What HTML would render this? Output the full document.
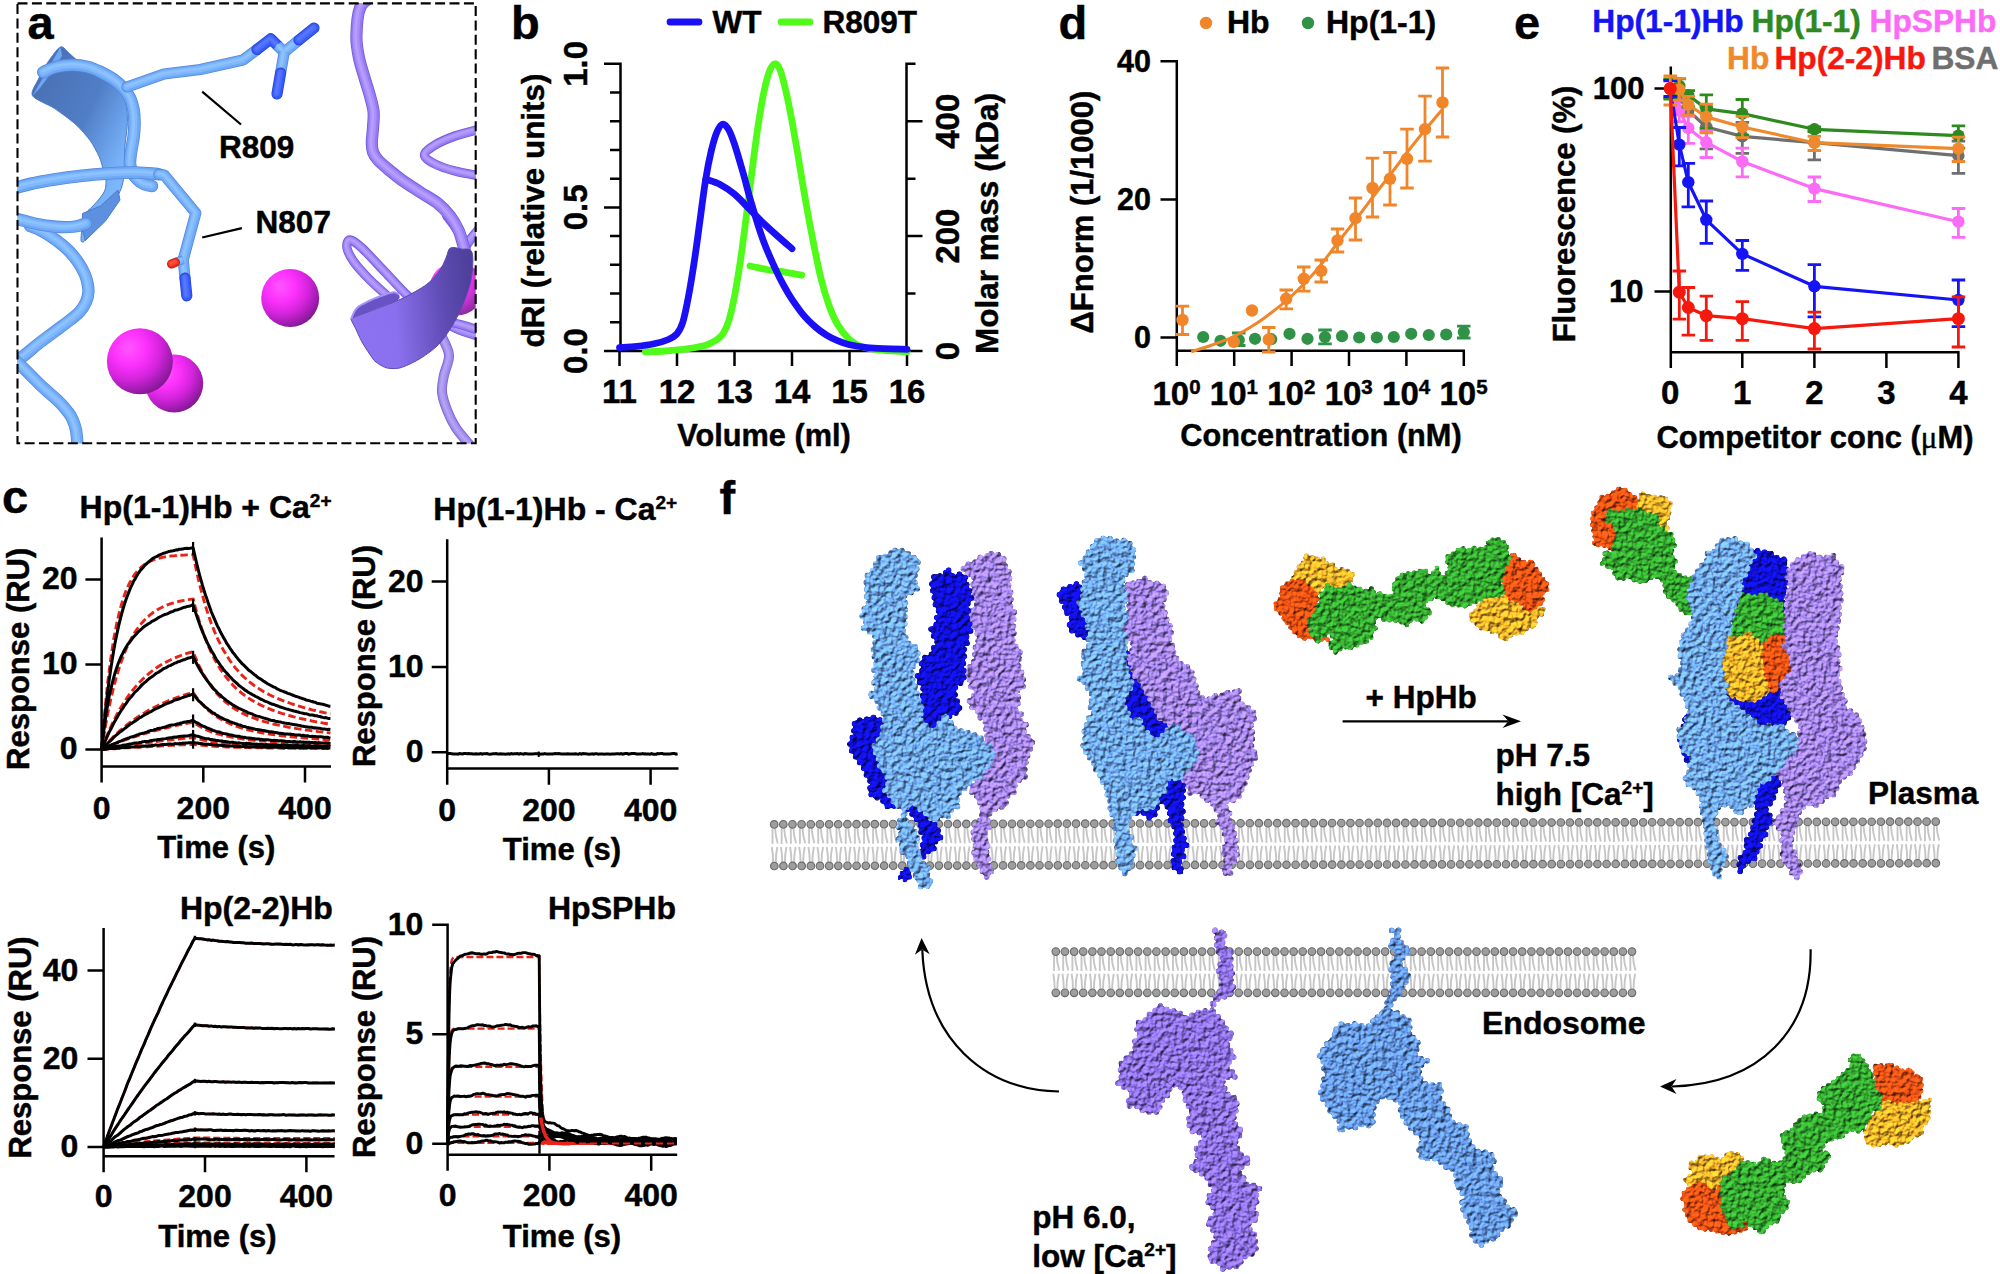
<!DOCTYPE html>
<html lang="en"><head><meta charset="utf-8"><title>Figure</title>
<style>
html,body{margin:0;padding:0;background:#fff;width:2000px;height:1274px;overflow:hidden}
svg{display:block}
text{font-family:"Liberation Sans", Arial, Helvetica, sans-serif;font-weight:bold;stroke:#000;stroke-width:.45px}
</style></head><body>
<svg width="2000" height="1274" viewBox="0 0 2000 1274">
<defs>
<clipPath id="aclip"><rect x="17.5" y="3.2" width="458.2" height="440.1"/></clipPath>
<radialGradient id="sph" cx="0.36" cy="0.32" r="0.75" fx="0.33" fy="0.3"><stop offset="0" stop-color="#ff55ff"/><stop offset="0.35" stop-color="#fc30fc"/><stop offset="0.62" stop-color="#d424dc"/><stop offset="0.85" stop-color="#9c1cac"/><stop offset="1" stop-color="#7a1688"/></radialGradient>
<linearGradient id="rib1" x1="0.1" y1="0.1" x2="0.9" y2="0.9"><stop offset="0" stop-color="#4a70b4"/><stop offset="0.45" stop-color="#507ec6"/><stop offset="0.8" stop-color="#76b0f8"/><stop offset="1" stop-color="#86c0ff"/></linearGradient>
<linearGradient id="rib2" x1="0" y1="0.5" x2="1" y2="0.4"><stop offset="0" stop-color="#8d72f0"/><stop offset="0.35" stop-color="#8a70ee"/><stop offset="0.75" stop-color="#5f4cb4"/><stop offset="1" stop-color="#4d3f9a"/></linearGradient>
<filter id="bump" x="-12%" y="-12%" width="124%" height="124%" color-interpolation-filters="sRGB">
<feTurbulence type="fractalNoise" baseFrequency="0.2" numOctaves="2" seed="4" result="n0"/><feGaussianBlur in="n0" stdDeviation="0.75" result="n"/>
<feDiffuseLighting in="n" surfaceScale="3.3" diffuseConstant="1" lighting-color="#ffffff" result="l"><feDistantLight azimuth="235" elevation="50"/></feDiffuseLighting>
<feComposite in="l" in2="SourceGraphic" operator="arithmetic" k1="1" k2="0.03" k3="0.22" k4="0" result="m"/>
<feComposite in="m" in2="SourceAlpha" operator="in"/>
</filter>
</defs>
<rect width="2000" height="1274" fill="#fff"/>
<g id="pa"><g clip-path="url(#aclip)"><circle cx="456.6" cy="288.6" r="27" fill="url(#sph)" opacity="0.92"/><path d="M447 216C448.5 218 453.3 224 456 228C458.7 232 461.3 236 463 240C464.7 244 465.5 250 466 252" stroke="#7459d6" stroke-width="9.6" fill="none" stroke-linecap="round" stroke-linejoin="round"/><path d="M447 216C448.5 218 453.3 224 456 228C458.7 232 461.3 236 463 240C464.7 244 465.5 250 466 252" stroke="#947af2" stroke-width="8" fill="none" stroke-linecap="round" stroke-linejoin="round"/><path d="M447 216C448.5 218 453.3 224 456 228C458.7 232 461.3 236 463 240C464.7 244 465.5 250 466 252" stroke="#b9a0ff" stroke-width="5.3" fill="none" stroke-linecap="round" stroke-linejoin="round" opacity="0.55" transform="translate(-0.4 -0.4)"/><path d="M447 216C448.5 218 453.3 224 456 228C458.7 232 461.3 236 463 240C464.7 244 465.5 250 466 252" stroke="#b9a0ff" stroke-width="2.1" fill="none" stroke-linecap="round" stroke-linejoin="round" opacity="0.8" transform="translate(-0.8 -0.8)"/><path d="M480 228C478.3 230 473 236 470 240C467 244 463.3 250 462 252" stroke="#7459d6" stroke-width="9.6" fill="none" stroke-linecap="round" stroke-linejoin="round"/><path d="M480 228C478.3 230 473 236 470 240C467 244 463.3 250 462 252" stroke="#947af2" stroke-width="8" fill="none" stroke-linecap="round" stroke-linejoin="round"/><path d="M480 228C478.3 230 473 236 470 240C467 244 463.3 250 462 252" stroke="#b9a0ff" stroke-width="5.3" fill="none" stroke-linecap="round" stroke-linejoin="round" opacity="0.55" transform="translate(-0.4 -0.4)"/><path d="M480 228C478.3 230 473 236 470 240C467 244 463.3 250 462 252" stroke="#b9a0ff" stroke-width="2.1" fill="none" stroke-linecap="round" stroke-linejoin="round" opacity="0.8" transform="translate(-0.8 -0.8)"/><path d="M478 336C474.2 334.7 462.7 331.7 455 328C447.3 324.3 439.8 319.3 432 314C424.2 308.7 415.8 303 408 296C400.2 289 392.7 280 385 272C377.3 264 367.8 253.3 362 248C356.2 242.7 352.5 240 350 240C347.5 240 346.3 244.3 347 248C347.7 251.7 350.2 256.7 354 262C357.8 267.3 363.7 273.7 370 280C376.3 286.3 388.3 296.7 392 300" stroke="#7459d6" stroke-width="9.3" fill="none" stroke-linecap="round" stroke-linejoin="round"/><path d="M478 336C474.2 334.7 462.7 331.7 455 328C447.3 324.3 439.8 319.3 432 314C424.2 308.7 415.8 303 408 296C400.2 289 392.7 280 385 272C377.3 264 367.8 253.3 362 248C356.2 242.7 352.5 240 350 240C347.5 240 346.3 244.3 347 248C347.7 251.7 350.2 256.7 354 262C357.8 267.3 363.7 273.7 370 280C376.3 286.3 388.3 296.7 392 300" stroke="#947af2" stroke-width="7.7" fill="none" stroke-linecap="round" stroke-linejoin="round"/><path d="M478 336C474.2 334.7 462.7 331.7 455 328C447.3 324.3 439.8 319.3 432 314C424.2 308.7 415.8 303 408 296C400.2 289 392.7 280 385 272C377.3 264 367.8 253.3 362 248C356.2 242.7 352.5 240 350 240C347.5 240 346.3 244.3 347 248C347.7 251.7 350.2 256.7 354 262C357.8 267.3 363.7 273.7 370 280C376.3 286.3 388.3 296.7 392 300" stroke="#b9a0ff" stroke-width="5.1" fill="none" stroke-linecap="round" stroke-linejoin="round" opacity="0.55" transform="translate(-0.4 -0.4)"/><path d="M478 336C474.2 334.7 462.7 331.7 455 328C447.3 324.3 439.8 319.3 432 314C424.2 308.7 415.8 303 408 296C400.2 289 392.7 280 385 272C377.3 264 367.8 253.3 362 248C356.2 242.7 352.5 240 350 240C347.5 240 346.3 244.3 347 248C347.7 251.7 350.2 256.7 354 262C357.8 267.3 363.7 273.7 370 280C376.3 286.3 388.3 296.7 392 300" stroke="#b9a0ff" stroke-width="2" fill="none" stroke-linecap="round" stroke-linejoin="round" opacity="0.8" transform="translate(-0.8 -0.8)"/><path d="M478 330C475.3 329.2 466.7 326.3 462 325C457.3 323.7 452 322.5 450 322" stroke="#7459d6" stroke-width="9.3" fill="none" stroke-linecap="round" stroke-linejoin="round"/><path d="M478 330C475.3 329.2 466.7 326.3 462 325C457.3 323.7 452 322.5 450 322" stroke="#947af2" stroke-width="7.7" fill="none" stroke-linecap="round" stroke-linejoin="round"/><path d="M478 330C475.3 329.2 466.7 326.3 462 325C457.3 323.7 452 322.5 450 322" stroke="#b9a0ff" stroke-width="5.1" fill="none" stroke-linecap="round" stroke-linejoin="round" opacity="0.55" transform="translate(-0.4 -0.4)"/><path d="M478 330C475.3 329.2 466.7 326.3 462 325C457.3 323.7 452 322.5 450 322" stroke="#b9a0ff" stroke-width="2" fill="none" stroke-linecap="round" stroke-linejoin="round" opacity="0.8" transform="translate(-0.8 -0.8)"/><path d="M441 335C442.3 338.3 448.5 348.3 449 355C449.5 361.7 445.2 368.8 444 375C442.8 381.2 441.5 386.2 442 392C442.5 397.8 444.7 404 447 410C449.3 416 452.3 422.3 456 428C459.7 433.7 466.8 441.3 469 444" stroke="#7a66cc" stroke-width="10" fill="none" stroke-linecap="round" stroke-linejoin="round"/><path d="M441 335C442.3 338.3 448.5 348.3 449 355C449.5 361.7 445.2 368.8 444 375C442.8 381.2 441.5 386.2 442 392C442.5 397.8 444.7 404 447 410C449.3 416 452.3 422.3 456 428C459.7 433.7 466.8 441.3 469 444" stroke="#9a86e8" stroke-width="8.4" fill="none" stroke-linecap="round" stroke-linejoin="round"/><path d="M441 335C442.3 338.3 448.5 348.3 449 355C449.5 361.7 445.2 368.8 444 375C442.8 381.2 441.5 386.2 442 392C442.5 397.8 444.7 404 447 410C449.3 416 452.3 422.3 456 428C459.7 433.7 466.8 441.3 469 444" stroke="#b8a6f6" stroke-width="5.5" fill="none" stroke-linecap="round" stroke-linejoin="round" opacity="0.55" transform="translate(-0.4 -0.4)"/><path d="M441 335C442.3 338.3 448.5 348.3 449 355C449.5 361.7 445.2 368.8 444 375C442.8 381.2 441.5 386.2 442 392C442.5 397.8 444.7 404 447 410C449.3 416 452.3 422.3 456 428C459.7 433.7 466.8 441.3 469 444" stroke="#b8a6f6" stroke-width="2.2" fill="none" stroke-linecap="round" stroke-linejoin="round" opacity="0.8" transform="translate(-0.8 -0.8)"/><path d="M372 -4C370 -2 362.6 1.3 360 8C357.4 14.7 356.6 27.7 356.4 36C356.2 44.3 357.6 51.1 359 58C360.4 64.9 362.7 71.3 364.5 77.6C366.3 83.9 368.5 90.3 370 96C371.5 101.7 373.1 106.7 373.6 112C374.1 117.3 373.3 122.9 373 128C372.7 133.1 371.8 138.6 371.8 142.6C371.8 146.6 372 149.1 373 152C374 154.9 375.5 157.2 378 160C380.5 162.8 383.9 165.6 388 169C392.1 172.4 397.2 176.7 402.5 180.5C407.8 184.3 414 188.1 420 192C426 195.9 433.6 200 438.6 204C443.6 208 446.7 211.7 450 216C453.3 220.3 456.2 225.3 458.4 230C460.6 234.7 461.7 239.7 463 244C464.3 248.3 465.5 254 466 256" stroke="#7459d6" stroke-width="12.2" fill="none" stroke-linecap="round" stroke-linejoin="round"/><path d="M372 -4C370 -2 362.6 1.3 360 8C357.4 14.7 356.6 27.7 356.4 36C356.2 44.3 357.6 51.1 359 58C360.4 64.9 362.7 71.3 364.5 77.6C366.3 83.9 368.5 90.3 370 96C371.5 101.7 373.1 106.7 373.6 112C374.1 117.3 373.3 122.9 373 128C372.7 133.1 371.8 138.6 371.8 142.6C371.8 146.6 372 149.1 373 152C374 154.9 375.5 157.2 378 160C380.5 162.8 383.9 165.6 388 169C392.1 172.4 397.2 176.7 402.5 180.5C407.8 184.3 414 188.1 420 192C426 195.9 433.6 200 438.6 204C443.6 208 446.7 211.7 450 216C453.3 220.3 456.2 225.3 458.4 230C460.6 234.7 461.7 239.7 463 244C464.3 248.3 465.5 254 466 256" stroke="#947af2" stroke-width="10.6" fill="none" stroke-linecap="round" stroke-linejoin="round"/><path d="M372 -4C370 -2 362.6 1.3 360 8C357.4 14.7 356.6 27.7 356.4 36C356.2 44.3 357.6 51.1 359 58C360.4 64.9 362.7 71.3 364.5 77.6C366.3 83.9 368.5 90.3 370 96C371.5 101.7 373.1 106.7 373.6 112C374.1 117.3 373.3 122.9 373 128C372.7 133.1 371.8 138.6 371.8 142.6C371.8 146.6 372 149.1 373 152C374 154.9 375.5 157.2 378 160C380.5 162.8 383.9 165.6 388 169C392.1 172.4 397.2 176.7 402.5 180.5C407.8 184.3 414 188.1 420 192C426 195.9 433.6 200 438.6 204C443.6 208 446.7 211.7 450 216C453.3 220.3 456.2 225.3 458.4 230C460.6 234.7 461.7 239.7 463 244C464.3 248.3 465.5 254 466 256" stroke="#b9a0ff" stroke-width="6.7" fill="none" stroke-linecap="round" stroke-linejoin="round" opacity="0.55" transform="translate(-0.4 -0.4)"/><path d="M372 -4C370 -2 362.6 1.3 360 8C357.4 14.7 356.6 27.7 356.4 36C356.2 44.3 357.6 51.1 359 58C360.4 64.9 362.7 71.3 364.5 77.6C366.3 83.9 368.5 90.3 370 96C371.5 101.7 373.1 106.7 373.6 112C374.1 117.3 373.3 122.9 373 128C372.7 133.1 371.8 138.6 371.8 142.6C371.8 146.6 372 149.1 373 152C374 154.9 375.5 157.2 378 160C380.5 162.8 383.9 165.6 388 169C392.1 172.4 397.2 176.7 402.5 180.5C407.8 184.3 414 188.1 420 192C426 195.9 433.6 200 438.6 204C443.6 208 446.7 211.7 450 216C453.3 220.3 456.2 225.3 458.4 230C460.6 234.7 461.7 239.7 463 244C464.3 248.3 465.5 254 466 256" stroke="#b9a0ff" stroke-width="2.7" fill="none" stroke-linecap="round" stroke-linejoin="round" opacity="0.8" transform="translate(-0.8 -0.8)"/><path d="M450.3 248C452.8 246.5 457.4 248.2 461 249C464.6 249.8 470.3 247.3 472 252.5C473.7 257.7 472.7 271 471 280C469.3 289 465.2 298.9 462 306.6C458.8 314.3 455.9 319.7 452 326C448.1 332.3 443.8 339.2 438.6 344.5C433.4 349.8 427 354.2 421 358C415 361.8 407.3 365.4 402.5 367.1C397.7 368.9 395 368.5 392 368.5C389 368.5 387.1 368.2 384.4 367.1C381.7 366 378.1 363.6 376 362C373.9 360.4 374.1 360.5 371.8 357.2C369.5 353.9 364.7 346.8 362 342C359.3 337.2 357.3 332.1 355.5 328.3C353.7 324.5 351.2 320.9 351 319C350.8 317.1 351.8 317.9 354 317C356.2 316.1 359.5 315.2 364 313.5C368.5 311.8 375 309.3 381 307C387 304.7 393.8 302.3 400 299.5C406.2 296.7 413.1 292.9 418 290C422.9 287.1 425.8 285.3 429.5 282C433.2 278.7 437.2 274 440 270C442.8 266 444.3 261.7 446 258C447.7 254.3 447.8 249.5 450.3 248Z" fill="url(#rib2)" stroke="#5a48b0" stroke-width="1"/><path d="M351.5 318C351.8 316.5 353.9 310.9 357 308C360.1 305.1 365.3 302.8 370 300.5C374.7 298.2 381 295.9 385 294.5C389 293.1 391.8 292.3 394 292.2C396.2 292.1 397.7 292.9 398.5 294C399.3 295.1 400.4 297.4 399 299C397.6 300.6 393.5 302 390 303.5C386.5 305 382.3 306.3 378 308C373.7 309.7 367.8 312 364 313.5C360.2 315 357.1 316.2 355 317C352.9 317.8 351.2 319.5 351.5 318Z" fill="#6753c4"/><path d="M351.5 318C352.4 316.3 353.9 310.9 357 308C360.1 305.1 365.3 302.8 370 300.5C374.7 298.2 381 295.9 385 294.5C389 293.1 391.8 292.3 394 292.2C396.2 292.1 397.8 293.7 398.5 294" fill="none" stroke="#a593fa" stroke-width="2" stroke-linecap="round"/><path d="M480 129C475.8 130.2 462.5 133.3 455 136C447.5 138.7 440.1 141.8 435 145C429.9 148.2 424.5 151.8 424.5 155C424.5 158.2 429.9 161.3 435 164C440.1 166.7 447.5 169 455 171C462.5 173 475.8 175.2 480 176" stroke="#7459d6" stroke-width="9.3" fill="none" stroke-linecap="round" stroke-linejoin="round"/><path d="M480 129C475.8 130.2 462.5 133.3 455 136C447.5 138.7 440.1 141.8 435 145C429.9 148.2 424.5 151.8 424.5 155C424.5 158.2 429.9 161.3 435 164C440.1 166.7 447.5 169 455 171C462.5 173 475.8 175.2 480 176" stroke="#947af2" stroke-width="7.7" fill="none" stroke-linecap="round" stroke-linejoin="round"/><path d="M480 129C475.8 130.2 462.5 133.3 455 136C447.5 138.7 440.1 141.8 435 145C429.9 148.2 424.5 151.8 424.5 155C424.5 158.2 429.9 161.3 435 164C440.1 166.7 447.5 169 455 171C462.5 173 475.8 175.2 480 176" stroke="#b9a0ff" stroke-width="5.1" fill="none" stroke-linecap="round" stroke-linejoin="round" opacity="0.55" transform="translate(-0.4 -0.4)"/><path d="M480 129C475.8 130.2 462.5 133.3 455 136C447.5 138.7 440.1 141.8 435 145C429.9 148.2 424.5 151.8 424.5 155C424.5 158.2 429.9 161.3 435 164C440.1 166.7 447.5 169 455 171C462.5 173 475.8 175.2 480 176" stroke="#b9a0ff" stroke-width="2" fill="none" stroke-linecap="round" stroke-linejoin="round" opacity="0.8" transform="translate(-0.8 -0.8)"/><circle cx="174.2" cy="383.4" r="29" fill="url(#sph)"/><circle cx="139.9" cy="361.3" r="33" fill="url(#sph)"/><circle cx="290.2" cy="298" r="29" fill="url(#sph)"/><path d="M12 361C13.6 360.4 17.4 360 21.7 357.2C26 354.4 32.6 348.2 38 344C43.4 339.8 48.9 335.9 54.2 331.9C59.5 327.9 65.8 323.3 70 320C74.2 316.7 76.7 315.1 79.4 312.1C82.1 309.1 84.5 305.3 86 302C87.5 298.7 88.2 295.4 88.4 292.2C88.7 289 88.1 286 87.5 283C86.9 280 86.4 277.7 84.8 274.2C83.2 270.7 80.7 265.9 78 262C75.3 258.1 72.3 254.4 68.6 250.7C64.9 247 60.5 243.3 56 240C51.5 236.7 45.8 233.1 41.5 230.8C37.2 228.5 31.9 226.8 30 226" stroke="#5489dc" stroke-width="12.3" fill="none" stroke-linecap="round" stroke-linejoin="round"/><path d="M12 361C13.6 360.4 17.4 360 21.7 357.2C26 354.4 32.6 348.2 38 344C43.4 339.8 48.9 335.9 54.2 331.9C59.5 327.9 65.8 323.3 70 320C74.2 316.7 76.7 315.1 79.4 312.1C82.1 309.1 84.5 305.3 86 302C87.5 298.7 88.2 295.4 88.4 292.2C88.7 289 88.1 286 87.5 283C86.9 280 86.4 277.7 84.8 274.2C83.2 270.7 80.7 265.9 78 262C75.3 258.1 72.3 254.4 68.6 250.7C64.9 247 60.5 243.3 56 240C51.5 236.7 45.8 233.1 41.5 230.8C37.2 228.5 31.9 226.8 30 226" stroke="#6da8f6" stroke-width="10.7" fill="none" stroke-linecap="round" stroke-linejoin="round"/><path d="M12 361C13.6 360.4 17.4 360 21.7 357.2C26 354.4 32.6 348.2 38 344C43.4 339.8 48.9 335.9 54.2 331.9C59.5 327.9 65.8 323.3 70 320C74.2 316.7 76.7 315.1 79.4 312.1C82.1 309.1 84.5 305.3 86 302C87.5 298.7 88.2 295.4 88.4 292.2C88.7 289 88.1 286 87.5 283C86.9 280 86.4 277.7 84.8 274.2C83.2 270.7 80.7 265.9 78 262C75.3 258.1 72.3 254.4 68.6 250.7C64.9 247 60.5 243.3 56 240C51.5 236.7 45.8 233.1 41.5 230.8C37.2 228.5 31.9 226.8 30 226" stroke="#8fc4ff" stroke-width="6.8" fill="none" stroke-linecap="round" stroke-linejoin="round" opacity="0.55" transform="translate(-0.4 -0.4)"/><path d="M12 361C13.6 360.4 17.4 360 21.7 357.2C26 354.4 32.6 348.2 38 344C43.4 339.8 48.9 335.9 54.2 331.9C59.5 327.9 65.8 323.3 70 320C74.2 316.7 76.7 315.1 79.4 312.1C82.1 309.1 84.5 305.3 86 302C87.5 298.7 88.2 295.4 88.4 292.2C88.7 289 88.1 286 87.5 283C86.9 280 86.4 277.7 84.8 274.2C83.2 270.7 80.7 265.9 78 262C75.3 258.1 72.3 254.4 68.6 250.7C64.9 247 60.5 243.3 56 240C51.5 236.7 45.8 233.1 41.5 230.8C37.2 228.5 31.9 226.8 30 226" stroke="#8fc4ff" stroke-width="2.7" fill="none" stroke-linecap="round" stroke-linejoin="round" opacity="0.8" transform="translate(-0.8 -0.8)"/><path d="M14 359C15.9 360.8 20.7 365.3 25.3 369.8C29.9 374.3 35.8 380.6 41.5 386C47.2 391.4 55.2 398 59.6 402.3C64 406.6 65.9 409.3 68 412C70.1 414.7 70.9 415.6 72.2 418.6C73.5 421.6 75.1 425.4 76 430C76.9 434.6 77.3 443.3 77.6 446" stroke="#5489dc" stroke-width="12.3" fill="none" stroke-linecap="round" stroke-linejoin="round"/><path d="M14 359C15.9 360.8 20.7 365.3 25.3 369.8C29.9 374.3 35.8 380.6 41.5 386C47.2 391.4 55.2 398 59.6 402.3C64 406.6 65.9 409.3 68 412C70.1 414.7 70.9 415.6 72.2 418.6C73.5 421.6 75.1 425.4 76 430C76.9 434.6 77.3 443.3 77.6 446" stroke="#6da8f6" stroke-width="10.7" fill="none" stroke-linecap="round" stroke-linejoin="round"/><path d="M14 359C15.9 360.8 20.7 365.3 25.3 369.8C29.9 374.3 35.8 380.6 41.5 386C47.2 391.4 55.2 398 59.6 402.3C64 406.6 65.9 409.3 68 412C70.1 414.7 70.9 415.6 72.2 418.6C73.5 421.6 75.1 425.4 76 430C76.9 434.6 77.3 443.3 77.6 446" stroke="#8fc4ff" stroke-width="6.8" fill="none" stroke-linecap="round" stroke-linejoin="round" opacity="0.55" transform="translate(-0.4 -0.4)"/><path d="M14 359C15.9 360.8 20.7 365.3 25.3 369.8C29.9 374.3 35.8 380.6 41.5 386C47.2 391.4 55.2 398 59.6 402.3C64 406.6 65.9 409.3 68 412C70.1 414.7 70.9 415.6 72.2 418.6C73.5 421.6 75.1 425.4 76 430C76.9 434.6 77.3 443.3 77.6 446" stroke="#8fc4ff" stroke-width="2.7" fill="none" stroke-linecap="round" stroke-linejoin="round" opacity="0.8" transform="translate(-0.8 -0.8)"/><path d="M60.5 46.9C63.4 45.8 67.3 51.9 70 54C72.7 56.1 76.9 60.6 81 63C85.1 65.4 96.4 69.3 101 72C105.6 74.7 112.4 79.8 115.5 83C118.6 86.2 122.5 92.4 124 96C125.5 99.6 126.6 105.9 127 110C127.4 114.1 127.5 121.7 127.2 126.4C126.9 131.1 125.4 140.5 125 145C124.6 149.5 124.6 156.4 124.5 160C124.4 163.6 124.8 168.5 124.5 172C124.2 175.5 123 182.7 122 186C121 189.3 119 194.1 117 197C115 199.9 109.8 205.5 107 208C104.2 210.5 98.7 214.1 96 216C93.3 217.9 88.5 218.8 87 222C85.5 225.2 85.8 237.6 85 240C84.2 242.4 81.1 243.2 81 240C80.9 236.8 82.5 220.4 84 216C85.5 211.6 89.9 209.4 92 207C94.1 204.6 98.3 200.3 100 198C101.7 195.7 104.2 192.4 105 190C105.8 187.6 106.2 182.5 106 180C105.8 177.5 104.7 174.6 103.8 171.5C102.9 168.4 101.1 161.1 99.3 157C97.5 152.9 93.4 145.1 90.3 140.8C87.2 136.5 80.6 128.8 75.8 124.5C71 120.2 60 112.1 54.2 108.3C48.4 104.5 34.7 99.5 32.5 95.7C30.3 91.9 35.9 84.5 38 80C40.1 75.5 45 66.4 48 62C51 57.6 57.6 48 60.5 46.9Z" fill="url(#rib1)" stroke="#4a7cc8" stroke-width="1"/><path d="M60.5 46.9 L32.5 95.7 L40 88 L52 72 L62 56Z" fill="#6ea6f4"/><path d="M82.5 213.5 L100.5 206 L118 190 L120 200 L105.5 221 L85.4 240.5 L82 228.6Z" fill="#5d90de" stroke="#4a7cc8" stroke-width="1" stroke-linejoin="round"/><path d="M43.3 72.2C45.4 71.3 51.2 68.2 56 67C60.8 65.8 66.9 65 72.2 65C77.5 65 83.2 65.8 88 67C92.8 68.2 96.8 70.2 101 72.2C105.2 74.2 109.4 76.5 113 79C116.6 81.5 119.9 84.3 122.7 87.5C125.5 90.7 128.2 94.2 130 98C131.8 101.8 132.8 105.8 133.6 110C134.3 114.2 134.5 118.5 134.5 123C134.5 127.5 134.2 132.2 133.6 137C133 141.8 131.6 147.5 131 152C130.4 156.5 129.7 160.3 130 164C130.3 167.7 131 170.8 133 174C135 177.2 138.8 181 142 183C145.2 185 150.3 185.5 152 186" stroke="#5489dc" stroke-width="12.6" fill="none" stroke-linecap="round" stroke-linejoin="round"/><path d="M43.3 72.2C45.4 71.3 51.2 68.2 56 67C60.8 65.8 66.9 65 72.2 65C77.5 65 83.2 65.8 88 67C92.8 68.2 96.8 70.2 101 72.2C105.2 74.2 109.4 76.5 113 79C116.6 81.5 119.9 84.3 122.7 87.5C125.5 90.7 128.2 94.2 130 98C131.8 101.8 132.8 105.8 133.6 110C134.3 114.2 134.5 118.5 134.5 123C134.5 127.5 134.2 132.2 133.6 137C133 141.8 131.6 147.5 131 152C130.4 156.5 129.7 160.3 130 164C130.3 167.7 131 170.8 133 174C135 177.2 138.8 181 142 183C145.2 185 150.3 185.5 152 186" stroke="#6da8f6" stroke-width="11" fill="none" stroke-linecap="round" stroke-linejoin="round"/><path d="M43.3 72.2C45.4 71.3 51.2 68.2 56 67C60.8 65.8 66.9 65 72.2 65C77.5 65 83.2 65.8 88 67C92.8 68.2 96.8 70.2 101 72.2C105.2 74.2 109.4 76.5 113 79C116.6 81.5 119.9 84.3 122.7 87.5C125.5 90.7 128.2 94.2 130 98C131.8 101.8 132.8 105.8 133.6 110C134.3 114.2 134.5 118.5 134.5 123C134.5 127.5 134.2 132.2 133.6 137C133 141.8 131.6 147.5 131 152C130.4 156.5 129.7 160.3 130 164C130.3 167.7 131 170.8 133 174C135 177.2 138.8 181 142 183C145.2 185 150.3 185.5 152 186" stroke="#8fc4ff" stroke-width="6.9" fill="none" stroke-linecap="round" stroke-linejoin="round" opacity="0.55" transform="translate(-0.4 -0.4)"/><path d="M43.3 72.2C45.4 71.3 51.2 68.2 56 67C60.8 65.8 66.9 65 72.2 65C77.5 65 83.2 65.8 88 67C92.8 68.2 96.8 70.2 101 72.2C105.2 74.2 109.4 76.5 113 79C116.6 81.5 119.9 84.3 122.7 87.5C125.5 90.7 128.2 94.2 130 98C131.8 101.8 132.8 105.8 133.6 110C134.3 114.2 134.5 118.5 134.5 123C134.5 127.5 134.2 132.2 133.6 137C133 141.8 131.6 147.5 131 152C130.4 156.5 129.7 160.3 130 164C130.3 167.7 131 170.8 133 174C135 177.2 138.8 181 142 183C145.2 185 150.3 185.5 152 186" stroke="#8fc4ff" stroke-width="2.8" fill="none" stroke-linecap="round" stroke-linejoin="round" opacity="0.8" transform="translate(-0.8 -0.8)"/><path d="M10 217C12.5 217.7 20 219.8 25 221C30 222.2 34.2 223.5 40 224.5C45.8 225.5 54.2 226.7 60 227C65.8 227.3 70.7 227.1 75 226.5C79.3 225.9 84.2 224 86 223.5" stroke="#5489dc" stroke-width="12.3" fill="none" stroke-linecap="round" stroke-linejoin="round"/><path d="M10 217C12.5 217.7 20 219.8 25 221C30 222.2 34.2 223.5 40 224.5C45.8 225.5 54.2 226.7 60 227C65.8 227.3 70.7 227.1 75 226.5C79.3 225.9 84.2 224 86 223.5" stroke="#6da8f6" stroke-width="10.7" fill="none" stroke-linecap="round" stroke-linejoin="round"/><path d="M10 217C12.5 217.7 20 219.8 25 221C30 222.2 34.2 223.5 40 224.5C45.8 225.5 54.2 226.7 60 227C65.8 227.3 70.7 227.1 75 226.5C79.3 225.9 84.2 224 86 223.5" stroke="#8fc4ff" stroke-width="6.8" fill="none" stroke-linecap="round" stroke-linejoin="round" opacity="0.55" transform="translate(-0.4 -0.4)"/><path d="M10 217C12.5 217.7 20 219.8 25 221C30 222.2 34.2 223.5 40 224.5C45.8 225.5 54.2 226.7 60 227C65.8 227.3 70.7 227.1 75 226.5C79.3 225.9 84.2 224 86 223.5" stroke="#8fc4ff" stroke-width="2.7" fill="none" stroke-linecap="round" stroke-linejoin="round" opacity="0.8" transform="translate(-0.8 -0.8)"/><path d="M10 189.5C13.3 188.6 22.6 185.7 30 184C37.4 182.3 45.9 180.8 54.2 179.5C62.5 178.2 71 177 80 176C89 175 99.1 174.1 108.3 173.5C117.5 172.9 126.6 172.4 135 172.5C143.4 172.6 154.8 173.9 158.8 174.2" stroke="#5489dc" stroke-width="12.6" fill="none" stroke-linecap="round" stroke-linejoin="round"/><path d="M10 189.5C13.3 188.6 22.6 185.7 30 184C37.4 182.3 45.9 180.8 54.2 179.5C62.5 178.2 71 177 80 176C89 175 99.1 174.1 108.3 173.5C117.5 172.9 126.6 172.4 135 172.5C143.4 172.6 154.8 173.9 158.8 174.2" stroke="#6da8f6" stroke-width="11" fill="none" stroke-linecap="round" stroke-linejoin="round"/><path d="M10 189.5C13.3 188.6 22.6 185.7 30 184C37.4 182.3 45.9 180.8 54.2 179.5C62.5 178.2 71 177 80 176C89 175 99.1 174.1 108.3 173.5C117.5 172.9 126.6 172.4 135 172.5C143.4 172.6 154.8 173.9 158.8 174.2" stroke="#8fc4ff" stroke-width="6.9" fill="none" stroke-linecap="round" stroke-linejoin="round" opacity="0.55" transform="translate(-0.4 -0.4)"/><path d="M10 189.5C13.3 188.6 22.6 185.7 30 184C37.4 182.3 45.9 180.8 54.2 179.5C62.5 178.2 71 177 80 176C89 175 99.1 174.1 108.3 173.5C117.5 172.9 126.6 172.4 135 172.5C143.4 172.6 154.8 173.9 158.8 174.2" stroke="#8fc4ff" stroke-width="2.8" fill="none" stroke-linecap="round" stroke-linejoin="round" opacity="0.8" transform="translate(-0.8 -0.8)"/><path d="M127 87 L164 74 L200.4 69.5 L243 60 L257 49.5" stroke="#5489dc" stroke-width="11.2" fill="none" stroke-linecap="round" stroke-linejoin="round"/><path d="M127 87 L164 74 L200.4 69.5 L243 60 L257 49.5" stroke="#6da8f6" stroke-width="9.6" fill="none" stroke-linecap="round" stroke-linejoin="round"/><path d="M127 87 L164 74 L200.4 69.5 L243 60 L257 49.5" stroke="#8fc4ff" stroke-width="6.2" fill="none" stroke-linecap="round" stroke-linejoin="round" opacity="0.55" transform="translate(-0.4 -0.4)"/><path d="M127 87 L164 74 L200.4 69.5 L243 60 L257 49.5" stroke="#8fc4ff" stroke-width="2.5" fill="none" stroke-linecap="round" stroke-linejoin="round" opacity="0.8" transform="translate(-0.8 -0.8)"/><path d="M257 49.5 L270.7 38.8 L277.5 45.5" stroke="#2746d8" stroke-width="11.2" fill="none" stroke-linecap="round" stroke-linejoin="round"/><path d="M257 49.5 L270.7 38.8 L277.5 45.5" stroke="#3558f6" stroke-width="9.6" fill="none" stroke-linecap="round" stroke-linejoin="round"/><path d="M257 49.5 L270.7 38.8 L277.5 45.5" stroke="#5a7cff" stroke-width="6.2" fill="none" stroke-linecap="round" stroke-linejoin="round" opacity="0.55" transform="translate(-0.4 -0.4)"/><path d="M257 49.5 L270.7 38.8 L277.5 45.5" stroke="#5a7cff" stroke-width="2.5" fill="none" stroke-linecap="round" stroke-linejoin="round" opacity="0.8" transform="translate(-0.8 -0.8)"/><path d="M277.5 45.5 L284.2 52.3 L299 40" stroke="#5489dc" stroke-width="11.2" fill="none" stroke-linecap="butt" stroke-linejoin="round"/><path d="M277.5 45.5 L284.2 52.3 L299 40" stroke="#6da8f6" stroke-width="9.6" fill="none" stroke-linecap="butt" stroke-linejoin="round"/><path d="M277.5 45.5 L284.2 52.3 L299 40" stroke="#8fc4ff" stroke-width="6.2" fill="none" stroke-linecap="butt" stroke-linejoin="round" opacity="0.55" transform="translate(-0.4 -0.4)"/><path d="M277.5 45.5 L284.2 52.3 L299 40" stroke="#8fc4ff" stroke-width="2.5" fill="none" stroke-linecap="butt" stroke-linejoin="round" opacity="0.8" transform="translate(-0.8 -0.8)"/><path d="M284.2 52.3 L280.6 73" stroke="#5489dc" stroke-width="11.2" fill="none" stroke-linecap="butt" stroke-linejoin="round"/><path d="M284.2 52.3 L280.6 73" stroke="#6da8f6" stroke-width="9.6" fill="none" stroke-linecap="butt" stroke-linejoin="round"/><path d="M284.2 52.3 L280.6 73" stroke="#8fc4ff" stroke-width="6.2" fill="none" stroke-linecap="butt" stroke-linejoin="round" opacity="0.55" transform="translate(-0.4 -0.4)"/><path d="M284.2 52.3 L280.6 73" stroke="#8fc4ff" stroke-width="2.5" fill="none" stroke-linecap="butt" stroke-linejoin="round" opacity="0.8" transform="translate(-0.8 -0.8)"/><path d="M299 40 L314 28" stroke="#2746d8" stroke-width="11.2" fill="none" stroke-linecap="round" stroke-linejoin="round"/><path d="M299 40 L314 28" stroke="#3558f6" stroke-width="9.6" fill="none" stroke-linecap="round" stroke-linejoin="round"/><path d="M299 40 L314 28" stroke="#5a7cff" stroke-width="6.2" fill="none" stroke-linecap="round" stroke-linejoin="round" opacity="0.55" transform="translate(-0.4 -0.4)"/><path d="M299 40 L314 28" stroke="#5a7cff" stroke-width="2.5" fill="none" stroke-linecap="round" stroke-linejoin="round" opacity="0.8" transform="translate(-0.8 -0.8)"/><path d="M280.6 73 L277 94" stroke="#2746d8" stroke-width="11.2" fill="none" stroke-linecap="round" stroke-linejoin="round"/><path d="M280.6 73 L277 94" stroke="#3558f6" stroke-width="9.6" fill="none" stroke-linecap="round" stroke-linejoin="round"/><path d="M280.6 73 L277 94" stroke="#5a7cff" stroke-width="6.2" fill="none" stroke-linecap="round" stroke-linejoin="round" opacity="0.55" transform="translate(-0.4 -0.4)"/><path d="M280.6 73 L277 94" stroke="#5a7cff" stroke-width="2.5" fill="none" stroke-linecap="round" stroke-linejoin="round" opacity="0.8" transform="translate(-0.8 -0.8)"/><path d="M158.8 174.2 L164.3 175.1 L195.8 213 L183.2 259.7 L185 278" stroke="#5489dc" stroke-width="11.2" fill="none" stroke-linecap="round" stroke-linejoin="round"/><path d="M158.8 174.2 L164.3 175.1 L195.8 213 L183.2 259.7 L185 278" stroke="#6da8f6" stroke-width="9.6" fill="none" stroke-linecap="round" stroke-linejoin="round"/><path d="M158.8 174.2 L164.3 175.1 L195.8 213 L183.2 259.7 L185 278" stroke="#8fc4ff" stroke-width="6.2" fill="none" stroke-linecap="round" stroke-linejoin="round" opacity="0.55" transform="translate(-0.4 -0.4)"/><path d="M158.8 174.2 L164.3 175.1 L195.8 213 L183.2 259.7 L185 278" stroke="#8fc4ff" stroke-width="2.5" fill="none" stroke-linecap="round" stroke-linejoin="round" opacity="0.8" transform="translate(-0.8 -0.8)"/><path d="M185 278 L186.8 295.8" stroke="#2746d8" stroke-width="11.2" fill="none" stroke-linecap="round" stroke-linejoin="round"/><path d="M185 278 L186.8 295.8" stroke="#3558f6" stroke-width="9.6" fill="none" stroke-linecap="round" stroke-linejoin="round"/><path d="M185 278 L186.8 295.8" stroke="#5a7cff" stroke-width="6.2" fill="none" stroke-linecap="round" stroke-linejoin="round" opacity="0.55" transform="translate(-0.4 -0.4)"/><path d="M185 278 L186.8 295.8" stroke="#5a7cff" stroke-width="2.5" fill="none" stroke-linecap="round" stroke-linejoin="round" opacity="0.8" transform="translate(-0.8 -0.8)"/><path d="M176 262 L183.2 259.7" stroke="#5489dc" stroke-width="9" fill="none" stroke-linecap="butt" stroke-linejoin="round"/><path d="M176 262 L183.2 259.7" stroke="#6da8f6" stroke-width="7.4" fill="none" stroke-linecap="butt" stroke-linejoin="round"/><path d="M176 262 L183.2 259.7" stroke="#8fc4ff" stroke-width="5" fill="none" stroke-linecap="butt" stroke-linejoin="round" opacity="0.55" transform="translate(-0.4 -0.4)"/><path d="M176 262 L183.2 259.7" stroke="#8fc4ff" stroke-width="2" fill="none" stroke-linecap="butt" stroke-linejoin="round" opacity="0.8" transform="translate(-0.8 -0.8)"/><path d="M171.5 264 L175.5 262.3" stroke="#c81e12" stroke-width="9" fill="none" stroke-linecap="round" stroke-linejoin="round"/><path d="M171.5 264 L175.5 262.3" stroke="#ea2a1a" stroke-width="7.4" fill="none" stroke-linecap="round" stroke-linejoin="round"/><path d="M171.5 264 L175.5 262.3" stroke="#ff5a40" stroke-width="5" fill="none" stroke-linecap="round" stroke-linejoin="round" opacity="0.55" transform="translate(-0.4 -0.4)"/><path d="M171.5 264 L175.5 262.3" stroke="#ff5a40" stroke-width="2" fill="none" stroke-linecap="round" stroke-linejoin="round" opacity="0.8" transform="translate(-0.8 -0.8)"/></g>
<rect x="17.5" y="3.4" width="458.2" height="439.9" fill="none" stroke="#000" stroke-width="2.1" stroke-dasharray="10 4.4"/>
<text x="27.5" y="38.8" font-size="47">a</text>
<line x1="202.2" y1="91.7" x2="241" y2="124.5" stroke="#000" stroke-width="2.2"/>
<text x="219" y="157.8" font-size="31.5">R809</text>
<line x1="202.2" y1="237.5" x2="241.9" y2="228.1" stroke="#000" stroke-width="2.2"/>
<text x="255.6" y="232.9" font-size="31.5">N807</text></g>
<g id="pb"><text x="511" y="38.8" font-size="47">b</text>
<path d="M670 22H699" stroke="#1b10f5" stroke-width="6.8" stroke-linecap="round"/>
<text x="712.5" y="32.5" font-size="31.5">WT</text>
<path d="M781 22H810" stroke="#50fb1a" stroke-width="6.8" stroke-linecap="round"/>
<text x="822.5" y="32.5" font-size="31.5">R809T</text>
<path d="M620.5 62.5V351M906.5 62.5V351M604 351H922.5M610 322.3H620.5M610 293.6H620.5M610 264.8H620.5M610 236.1H620.5M604 207.4H620.5M610 178.7H620.5M610 149.9H620.5M610 121.2H620.5M610 92.5H620.5M604 63.8H620.5M906.5 293.6H915.5M906.5 236.1H922.5M906.5 178.7H915.5M906.5 121.2H922.5M906.5 63.8H915.5M619.5 351V366M677 351V366M734.5 351V366M792 351V366M849.5 351V366M907 351V366" stroke="#000" stroke-width="2.5" fill="none"/>
<text x="619.5" y="403" font-size="33" text-anchor="middle">11</text>
<text x="677" y="403" font-size="33" text-anchor="middle">12</text>
<text x="734.5" y="403" font-size="33" text-anchor="middle">13</text>
<text x="792" y="403" font-size="33" text-anchor="middle">14</text>
<text x="849.5" y="403" font-size="33" text-anchor="middle">15</text>
<text x="907" y="403" font-size="33" text-anchor="middle">16</text>
<text x="764" y="446.2" font-size="30.7" text-anchor="middle">Volume (ml)</text>
<text x="586.8" y="351" font-size="33" text-anchor="middle" transform="rotate(-90 586.8 351)">0.0</text>
<text x="586.8" y="207.4" font-size="33" text-anchor="middle" transform="rotate(-90 586.8 207.4)">0.5</text>
<text x="586.8" y="63.8" font-size="33" text-anchor="middle" transform="rotate(-90 586.8 63.8)">1.0</text>
<text x="544" y="210.5" font-size="31.4" text-anchor="middle" transform="rotate(-90 544 210.5)">dRI (relative units)</text>
<text x="959.3" y="351" font-size="33" text-anchor="middle" transform="rotate(-90 959.3 351)">0</text>
<text x="959.3" y="236.1" font-size="33" text-anchor="middle" transform="rotate(-90 959.3 236.1)">200</text>
<text x="959.3" y="121.2" font-size="33" text-anchor="middle" transform="rotate(-90 959.3 121.2)">400</text>
<text x="997.5" y="223.5" font-size="31.5" text-anchor="middle" transform="rotate(-90 997.5 223.5)">Molar mass (kDa)</text>
<path d="M645.4 351.9C648.7 351.7 658.3 351.5 665.5 351C672.7 350.5 681.8 349.7 688.5 348.7C695.2 347.7 701 346.8 705.8 345.3C710.5 343.7 714.4 341.4 717.2 339.5C720.1 337.6 721.1 336.9 723 333.8C724.9 330.7 726.8 327.1 728.8 320.8C730.7 314.6 732.6 306.2 734.5 296.4C736.4 286.6 738.3 274.9 740.2 262C742.2 249 744.1 233.7 746 218.9C747.9 204 749.8 187.7 751.8 172.9C753.7 158.1 755.6 142.7 757.5 129.8C759.4 116.9 761.3 104.9 763.2 95.3C765.2 85.8 767.1 77.6 769 72.4C770.9 67.1 772.8 64 774.8 63.8C776.7 63.5 778.6 66.1 780.5 70.9C782.4 75.7 784.3 84.1 786.2 92.5C788.2 100.9 790.1 110.9 792 121.2C793.9 131.5 795.8 143 797.8 154.2C799.7 165.5 801.3 176 803.5 188.7C805.7 201.4 808.1 215.5 811 230.4C813.9 245.2 817.7 265.1 820.8 277.8C823.8 290.4 826.5 298.6 829.4 306.5C832.2 314.4 834.6 319.6 838 325.1C841.4 330.7 845.7 336 849.5 339.5C853.3 343.1 856.2 344.7 861 346.4C865.8 348.1 870.6 348.9 878.2 349.9C885.9 350.8 902.2 351.5 907 351.9" fill="none" stroke="#50fb1a" stroke-width="6.8" stroke-linecap="round" stroke-linejoin="round"/>
<path d="M750 266C753.2 266.6 763 268.9 769 270C775 271 780.8 271.4 786.2 272.3C791.7 273.2 799.2 274.7 801.8 275.2" fill="none" stroke="#50fb1a" stroke-width="6.8" stroke-linecap="round" stroke-linejoin="round"/>
<path d="M619.5 347.6C622.4 347.4 631 347 636.8 346.4C642.5 345.8 648.7 345 654 343.8C659.3 342.7 664.5 341.2 668.4 339.5C672.2 337.8 674.6 336.6 677 333.8C679.4 330.9 680.8 328.5 682.8 322.3C684.7 316.1 686.6 306.5 688.5 296.4C690.4 286.4 692.3 274.6 694.2 262C696.2 249.3 698.1 234.2 700 220.3C701.9 206.4 703.8 190.4 705.8 178.7C707.7 166.9 709.6 157.8 711.5 149.9C713.4 142 715.3 135.6 717.2 131.3C719.2 126.9 721.1 124.3 723 124.1C724.9 123.8 726.8 126.5 728.8 129.8C730.7 133.2 732.1 137 734.5 144.2C736.9 151.4 740.2 162.9 743.1 172.9C746 183 748.4 193.3 751.8 204.5C755.1 215.8 759.4 229.9 763.2 240.4C767.1 250.9 771.4 260.3 774.8 267.7C778.1 275.1 780.5 279.7 783.4 284.9C786.2 290.2 788.6 294.3 792 299.3C795.4 304.3 799.7 310.5 803.5 315.1C807.3 319.6 811.2 323.2 815 326.6C818.8 329.9 822.7 332.8 826.5 335.2C830.3 337.6 834.2 339.4 838 340.9C841.8 342.5 844.7 343.6 849.5 344.7C854.3 345.8 861 346.9 866.8 347.6C872.5 348.2 877.3 348.4 884 348.7C890.7 349 903.2 349.2 907 349.3" fill="none" stroke="#1b10f5" stroke-width="6.8" stroke-linecap="round" stroke-linejoin="round"/>
<path d="M705.8 179.2C708.1 180.1 715.3 181.9 720.1 184.4C724.9 186.9 729.5 189.9 734.5 194.2C739.5 198.4 745.2 204.9 750 209.7C754.8 214.5 758.6 218.5 763.2 222.9C767.9 227.3 772.8 231.8 777.6 236.1C782.4 240.4 789.6 246.6 792 248.7" fill="none" stroke="#1b10f5" stroke-width="6.8" stroke-linecap="round" stroke-linejoin="round"/></g>
<g id="pc"><text x="2" y="513.4" font-size="47">c</text>
<text x="331.5" y="518.3" font-size="32" text-anchor="end">Hp(1-1)Hb + Ca<tspan dy="-11" font-size="19">2+</tspan></text>
<text x="29" y="658.8" font-size="31" text-anchor="middle" transform="rotate(-90 29 658.8)">Response (RU)</text>
<path d="M101.6 749.4 L104.7 712.5 L107.7 682.5 L110.8 658.3 L113.8 638.6 L116.9 622.6 L119.9 609.7 L123 599.2 L126 590.7 L129.1 583.9 L132.1 578.3 L135.2 573.7 L138.2 570.1 L141.3 567.1 L144.3 564.7 L147.4 562.7 L150.4 561.2 L153.5 559.9 L156.5 558.8 L159.6 558 L162.6 557.3 L165.7 556.8 L168.7 556.3 L171.8 555.9 L174.8 555.7 L177.9 555.4 L180.9 555.2 L184 555.1 L187 554.9 L190.1 554.8 L193.1 554.8 L193.1 554.8 L196.2 569.6 L199.2 582.9 L202.3 594.9 L205.3 605.5 L208.4 615.1 L211.4 623.8 L214.5 631.5 L217.5 638.5 L220.6 644.8 L223.6 650.5 L226.7 655.6 L229.7 660.3 L232.8 664.5 L235.8 668.4 L238.9 671.9 L241.9 675.1 L245 678 L248 680.7 L251.1 683.2 L254.1 685.5 L257.2 687.6 L260.3 689.6 L263.3 691.4 L266.4 693.1 L269.4 694.7 L272.5 696.2 L275.5 697.6 L278.6 698.9 L281.6 700.1 L284.7 701.3 L287.7 702.4 L290.8 703.5 L293.8 704.5 L296.9 705.5 L299.9 706.4 L303 707.3 L306 708.1 L309.1 709 L312.1 709.8 L315.2 710.5 L318.2 711.3 L321.3 712 L324.3 712.7 L327.4 713.3 L330.4 714" fill="none" stroke="#ea2318" stroke-width="2.9" stroke-dasharray="7.5 3.5"/>
<path d="M101.6 749.4 L104.7 730.4 L107.7 713.8 L110.8 699.2 L113.8 686.5 L116.9 675.3 L119.9 665.5 L123 656.9 L126 649.4 L129.1 642.8 L132.1 637 L135.2 631.9 L138.2 627.5 L141.3 623.6 L144.3 620.2 L147.4 617.2 L150.4 614.6 L153.5 612.3 L156.5 610.3 L159.6 608.5 L162.6 607 L165.7 605.6 L168.7 604.4 L171.8 603.4 L174.8 602.5 L177.9 601.7 L180.9 601 L184 600.4 L187 599.8 L190.1 599.4 L193.1 599 L193.1 599 L196.2 610.6 L199.2 621 L202.3 630.3 L205.3 638.6 L208.4 646.1 L211.4 652.9 L214.5 659 L217.5 664.5 L220.6 669.4 L223.6 673.9 L226.7 677.9 L229.7 681.6 L232.8 685 L235.8 688 L238.9 690.8 L241.9 693.3 L245 695.7 L248 697.8 L251.1 699.8 L254.1 701.6 L257.2 703.3 L260.3 704.9 L263.3 706.3 L266.4 707.7 L269.4 708.9 L272.5 710.1 L275.5 711.2 L278.6 712.3 L281.6 713.3 L284.7 714.2 L287.7 715.1 L290.8 716 L293.8 716.8 L296.9 717.5 L299.9 718.3 L303 719 L306 719.7 L309.1 720.3 L312.1 721 L315.2 721.6 L318.2 722.2 L321.3 722.7 L324.3 723.3 L327.4 723.8 L330.4 724.3" fill="none" stroke="#ea2318" stroke-width="2.9" stroke-dasharray="7.5 3.5"/>
<path d="M101.6 749.4 L104.7 741.3 L107.7 733.8 L110.8 726.8 L113.8 720.4 L116.9 714.5 L119.9 709 L123 703.9 L126 699.2 L129.1 694.8 L132.1 690.8 L135.2 687.1 L138.2 683.7 L141.3 680.5 L144.3 677.5 L147.4 674.8 L150.4 672.3 L153.5 670 L156.5 667.8 L159.6 665.8 L162.6 664 L165.7 662.3 L168.7 660.7 L171.8 659.2 L174.8 657.9 L177.9 656.6 L180.9 655.5 L184 654.4 L187 653.4 L190.1 652.5 L193.1 651.6 L193.1 651.6 L196.2 659.2 L199.2 665.9 L202.3 672 L205.3 677.4 L208.4 682.3 L211.4 686.7 L214.5 690.6 L217.5 694.2 L220.6 697.4 L223.6 700.3 L226.7 702.9 L229.7 705.3 L232.8 707.5 L235.8 709.4 L238.9 711.2 L241.9 712.9 L245 714.4 L248 715.8 L251.1 717.1 L254.1 718.2 L257.2 719.3 L260.3 720.4 L263.3 721.3 L266.4 722.2 L269.4 723 L272.5 723.8 L275.5 724.5 L278.6 725.2 L281.6 725.8 L284.7 726.4 L287.7 727 L290.8 727.6 L293.8 728.1 L296.9 728.6 L299.9 729.1 L303 729.5 L306 730 L309.1 730.4 L312.1 730.8 L315.2 731.2 L318.2 731.6 L321.3 731.9 L324.3 732.3 L327.4 732.6 L330.4 733" fill="none" stroke="#ea2318" stroke-width="2.9" stroke-dasharray="7.5 3.5"/>
<path d="M101.6 749.4 L104.7 745.9 L107.7 742.6 L110.8 739.4 L113.8 736.4 L116.9 733.5 L119.9 730.7 L123 728.1 L126 725.6 L129.1 723.2 L132.1 720.9 L135.2 718.8 L138.2 716.7 L141.3 714.8 L144.3 712.9 L147.4 711.1 L150.4 709.4 L153.5 707.8 L156.5 706.2 L159.6 704.7 L162.6 703.3 L165.7 702 L168.7 700.7 L171.8 699.5 L174.8 698.4 L177.9 697.2 L180.9 696.2 L184 695.2 L187 694.2 L190.1 693.3 L193.1 692.4 L193.1 692.4 L196.2 696.8 L199.2 700.8 L202.3 704.3 L205.3 707.5 L208.4 710.3 L211.4 712.9 L214.5 715.2 L217.5 717.2 L220.6 719.1 L223.6 720.8 L226.7 722.3 L229.7 723.7 L232.8 725 L235.8 726.2 L238.9 727.2 L241.9 728.2 L245 729 L248 729.9 L251.1 730.6 L254.1 731.3 L257.2 731.9 L260.3 732.5 L263.3 733.1 L266.4 733.6 L269.4 734.1 L272.5 734.5 L275.5 734.9 L278.6 735.3 L281.6 735.7 L284.7 736.1 L287.7 736.4 L290.8 736.7 L293.8 737 L296.9 737.3 L299.9 737.6 L303 737.9 L306 738.1 L309.1 738.4 L312.1 738.6 L315.2 738.8 L318.2 739.1 L321.3 739.3 L324.3 739.5 L327.4 739.7 L330.4 739.9" fill="none" stroke="#ea2318" stroke-width="2.9" stroke-dasharray="7.5 3.5"/>
<path d="M101.6 749.4 L104.7 748 L107.7 746.7 L110.8 745.5 L113.8 744.2 L116.9 743 L119.9 741.8 L123 740.7 L126 739.6 L129.1 738.6 L132.1 737.5 L135.2 736.5 L138.2 735.5 L141.3 734.6 L144.3 733.7 L147.4 732.8 L150.4 731.9 L153.5 731.1 L156.5 730.3 L159.6 729.5 L162.6 728.7 L165.7 728 L168.7 727.3 L171.8 726.6 L174.8 725.9 L177.9 725.2 L180.9 724.6 L184 724 L187 723.4 L190.1 722.8 L193.1 722.2 L193.1 722.2 L196.2 724.3 L199.2 726.1 L202.3 727.8 L205.3 729.3 L208.4 730.6 L211.4 731.8 L214.5 732.9 L217.5 733.8 L220.6 734.7 L223.6 735.5 L226.7 736.2 L229.7 736.8 L232.8 737.4 L235.8 738 L238.9 738.4 L241.9 738.9 L245 739.3 L248 739.7 L251.1 740 L254.1 740.3 L257.2 740.6 L260.3 740.9 L263.3 741.1 L266.4 741.4 L269.4 741.6 L272.5 741.8 L275.5 742 L278.6 742.2 L281.6 742.3 L284.7 742.5 L287.7 742.6 L290.8 742.8 L293.8 742.9 L296.9 743.1 L299.9 743.2 L303 743.3 L306 743.4 L309.1 743.5 L312.1 743.6 L315.2 743.7 L318.2 743.8 L321.3 743.9 L324.3 744 L327.4 744.1 L330.4 744.2" fill="none" stroke="#ea2318" stroke-width="2.9" stroke-dasharray="7.5 3.5"/>
<path d="M101.6 749.4 L104.7 748.9 L107.7 748.4 L110.8 747.9 L113.8 747.4 L116.9 746.9 L119.9 746.5 L123 746 L126 745.6 L129.1 745.1 L132.1 744.7 L135.2 744.3 L138.2 743.9 L141.3 743.4 L144.3 743 L147.4 742.7 L150.4 742.3 L153.5 741.9 L156.5 741.5 L159.6 741.1 L162.6 740.8 L165.7 740.4 L168.7 740.1 L171.8 739.7 L174.8 739.4 L177.9 739.1 L180.9 738.7 L184 738.4 L187 738.1 L190.1 737.8 L193.1 737.5 L193.1 737.5 L196.2 738.4 L199.2 739.2 L202.3 739.9 L205.3 740.5 L208.4 741.1 L211.4 741.6 L214.5 742.1 L217.5 742.5 L220.6 742.9 L223.6 743.2 L226.7 743.5 L229.7 743.8 L232.8 744 L235.8 744.2 L238.9 744.4 L241.9 744.6 L245 744.8 L248 745 L251.1 745.1 L254.1 745.2 L257.2 745.3 L260.3 745.5 L263.3 745.6 L266.4 745.7 L269.4 745.7 L272.5 745.8 L275.5 745.9 L278.6 746 L281.6 746 L284.7 746.1 L287.7 746.2 L290.8 746.2 L293.8 746.3 L296.9 746.3 L299.9 746.4 L303 746.4 L306 746.5 L309.1 746.5 L312.1 746.6 L315.2 746.6 L318.2 746.7 L321.3 746.7 L324.3 746.7 L327.4 746.8 L330.4 746.8" fill="none" stroke="#ea2318" stroke-width="2.9" stroke-dasharray="7.5 3.5"/>
<path d="M101.6 749.4 L104.7 749.2 L107.7 749 L110.8 748.8 L113.8 748.7 L116.9 748.5 L119.9 748.3 L123 748.1 L126 747.9 L129.1 747.8 L132.1 747.6 L135.2 747.4 L138.2 747.2 L141.3 747.1 L144.3 746.9 L147.4 746.7 L150.4 746.6 L153.5 746.4 L156.5 746.2 L159.6 746.1 L162.6 745.9 L165.7 745.7 L168.7 745.6 L171.8 745.4 L174.8 745.2 L177.9 745.1 L180.9 744.9 L184 744.8 L187 744.6 L190.1 744.5 L193.1 744.3 L193.1 744.3 L196.2 744.7 L199.2 745 L202.3 745.4 L205.3 745.6 L208.4 745.9 L211.4 746.1 L214.5 746.3 L217.5 746.5 L220.6 746.7 L223.6 746.8 L226.7 747 L229.7 747.1 L232.8 747.2 L235.8 747.3 L238.9 747.4 L241.9 747.5 L245 747.6 L248 747.6 L251.1 747.7 L254.1 747.8 L257.2 747.8 L260.3 747.9 L263.3 747.9 L266.4 748 L269.4 748 L272.5 748.1 L275.5 748.1 L278.6 748.1 L281.6 748.2 L284.7 748.2 L287.7 748.2 L290.8 748.3 L293.8 748.3 L296.9 748.3 L299.9 748.3 L303 748.4 L306 748.4 L309.1 748.4 L312.1 748.4 L315.2 748.4 L318.2 748.5 L321.3 748.5 L324.3 748.5 L327.4 748.5 L330.4 748.5" fill="none" stroke="#ea2318" stroke-width="2.9" stroke-dasharray="7.5 3.5"/>
<path d="M101.6 749.3 L103.1 732.9 L104.7 718.1 L106.2 704 L107.7 691.6 L109.2 679.8 L110.8 668.9 L112.3 659.3 L113.8 650 L115.3 641.8 L116.9 634 L118.4 626.9 L119.9 620.6 L121.4 614.8 L123 609 L124.5 604 L126 599.6 L127.5 595.5 L129.1 591.4 L130.6 587.7 L132.1 584.7 L133.6 581.2 L135.2 578.8 L136.7 575.9 L138.2 573.5 L139.7 571.3 L141.3 569.4 L142.8 567.8 L144.3 565.8 L145.8 564.4 L147.4 563 L148.9 561.6 L150.4 560.5 L151.9 559.1 L153.5 558.1 L155 557.2 L156.5 556.6 L158 555.7 L159.6 554.9 L161.1 554.3 L162.6 553.7 L164.1 553 L165.7 552.7 L167.2 552.2 L168.7 551.5 L170.2 551.3 L171.8 550.9 L173.3 550.7 L174.8 550.3 L176.3 549.8 L177.9 549.9 L179.4 549.2 L180.9 549.2 L182.5 549.1 L184 548.6 L185.5 548.6 L187 548.2 L188.6 548.4 L190.1 548.3 L191.6 548.1 L193.1 548.1 L193.1 547.9 L194.7 554.9 L196.2 561.4 L197.7 567.6 L199.2 573.5 L200.8 579.3 L202.3 584.7 L203.8 589.6 L205.3 594.5 L206.9 598.9 L208.4 603.6 L209.9 607.8 L211.4 612 L213 615.7 L214.5 619.1 L216 622.7 L217.5 626.1 L219.1 629 L220.6 632.3 L222.1 635 L223.6 637.8 L225.2 640.4 L226.7 643.3 L228.2 645.4 L229.7 647.8 L231.3 650.1 L232.8 652.4 L234.3 654.1 L235.8 656.2 L237.4 658.1 L238.9 660.1 L240.4 661.8 L241.9 663.5 L243.5 664.8 L245 666.4 L246.5 667.8 L248 669.5 L249.6 670.9 L251.1 671.8 L252.6 673.1 L254.1 674.4 L255.7 675.5 L257.2 676.8 L258.7 678 L260.3 678.9 L261.8 679.8 L263.3 681 L264.8 681.9 L266.4 682.9 L267.9 684 L269.4 684.7 L270.9 685.5 L272.5 686.4 L274 687.2 L275.5 687.7 L277 688.8 L278.6 689.5 L280.1 690.3 L281.6 690.9 L283.1 691.4 L284.7 692 L286.2 692.5 L287.7 693.4 L289.2 693.7 L290.8 694.3 L292.3 695 L293.8 695.5 L295.3 696.2 L296.9 696.6 L298.4 697.1 L299.9 697.7 L301.4 698.1 L303 698.8 L304.5 699.1 L306 700 L307.5 700.3 L309.1 700.6 L310.6 701.1 L312.1 701.5 L313.6 702 L315.2 702.3 L316.7 703.1 L318.2 703.6 L319.7 703.7 L321.3 704.1 L322.8 704.3 L324.3 704.7 L325.8 705.2 L327.4 705.6 L328.9 706.2 L330.4 706.3" fill="none" stroke="#000" stroke-width="3" stroke-linejoin="round"/>
<line x1="193.1" y1="542" x2="193.1" y2="555.1" stroke="#000" stroke-width="2.2"/>
<path d="M101.6 749.2 L103.1 736.2 L104.7 724.2 L106.2 713.6 L107.7 704.6 L109.2 696.2 L110.8 689.3 L112.3 683 L113.8 677.2 L115.3 672 L116.9 667.2 L118.4 663 L119.9 659.2 L121.4 656 L123 652.8 L124.5 650 L126 647.2 L127.5 644.7 L129.1 642.8 L130.6 640.8 L132.1 638.8 L133.6 636.9 L135.2 635.2 L136.7 633.6 L138.2 631.8 L139.7 630.6 L141.3 629.2 L142.8 627.7 L144.3 626.5 L145.8 625.5 L147.4 624.4 L148.9 623.5 L150.4 622.7 L151.9 621.4 L153.5 620.7 L155 619.9 L156.5 619 L158 617.9 L159.6 617 L161.1 616.3 L162.6 615.5 L164.1 614.8 L165.7 614.3 L167.2 613.8 L168.7 613.1 L170.2 612.3 L171.8 611.8 L173.3 611.3 L174.8 610.3 L176.3 610.1 L177.9 609.7 L179.4 609.1 L180.9 608.6 L182.5 607.9 L184 607.3 L185.5 607.2 L187 606.5 L188.6 606.3 L190.1 606 L191.6 605.3 L193.1 604.9 L193.1 605.1 L194.7 609.9 L196.2 614.3 L197.7 618.8 L199.2 623 L200.8 627.5 L202.3 631.3 L203.8 634.6 L205.3 638.4 L206.9 641.8 L208.4 644.8 L209.9 647.7 L211.4 650.7 L213 653.2 L214.5 655.8 L216 658.8 L217.5 661 L219.1 663.2 L220.6 665.6 L222.1 667.4 L223.6 669.6 L225.2 671.5 L226.7 673 L228.2 674.8 L229.7 676.5 L231.3 678.1 L232.8 679.8 L234.3 681.1 L235.8 682.5 L237.4 683.7 L238.9 685.4 L240.4 686.4 L241.9 687.6 L243.5 688.8 L245 690.1 L246.5 690.9 L248 692.2 L249.6 693 L251.1 693.9 L252.6 694.8 L254.1 695.4 L255.7 696.5 L257.2 697.2 L258.7 697.9 L260.3 699 L261.8 699.5 L263.3 700.3 L264.8 701.1 L266.4 701.7 L267.9 702.2 L269.4 703 L270.9 703.6 L272.5 704.3 L274 704.5 L275.5 705.3 L277 705.7 L278.6 706.2 L280.1 707 L281.6 707.3 L283.1 707.8 L284.7 708.4 L286.2 708.9 L287.7 709.2 L289.2 709.7 L290.8 710.1 L292.3 710.5 L293.8 711 L295.3 711.2 L296.9 711.7 L298.4 712 L299.9 712.6 L301.4 712.9 L303 713.3 L304.5 713.7 L306 713.7 L307.5 714.2 L309.1 714.7 L310.6 715 L312.1 714.9 L313.6 715.3 L315.2 715.7 L316.7 715.8 L318.2 716.2 L319.7 716.4 L321.3 717 L322.8 717.4 L324.3 717.7 L325.8 717.6 L327.4 718.2 L328.9 718.4 L330.4 718.4" fill="none" stroke="#000" stroke-width="3" stroke-linejoin="round"/>
<line x1="193.1" y1="599" x2="193.1" y2="612" stroke="#000" stroke-width="2.2"/>
<path d="M101.6 749.6 L103.1 745.9 L104.7 742 L106.2 738.9 L107.7 735.3 L109.2 732.1 L110.8 729.3 L112.3 726.2 L113.8 723 L115.3 720.4 L116.9 717.7 L118.4 715.1 L119.9 712.5 L121.4 710.2 L123 708.1 L124.5 705.5 L126 703.6 L127.5 701.4 L129.1 699.2 L130.6 697.4 L132.1 695.7 L133.6 693.9 L135.2 691.9 L136.7 690.7 L138.2 689 L139.7 687.5 L141.3 685.5 L142.8 684.2 L144.3 682.7 L145.8 681.7 L147.4 680.1 L148.9 678.8 L150.4 677.7 L151.9 676.8 L153.5 675.6 L155 674.3 L156.5 673.2 L158 672.5 L159.6 671.4 L161.1 670.5 L162.6 669.3 L164.1 668.4 L165.7 667.9 L167.2 666.9 L168.7 665.9 L170.2 665.6 L171.8 664.7 L173.3 664.1 L174.8 663.1 L176.3 662.8 L177.9 661.8 L179.4 661.6 L180.9 660.8 L182.5 660.1 L184 659.7 L185.5 659.3 L187 658.5 L188.6 657.9 L190.1 657.7 L191.6 657.1 L193.1 656.6 L193.1 656.6 L194.7 659.7 L196.2 662.8 L197.7 665.7 L199.2 668.4 L200.8 671.2 L202.3 673.4 L203.8 675.9 L205.3 678 L206.9 680.2 L208.4 682.1 L209.9 684.1 L211.4 685.8 L213 688 L214.5 689.6 L216 691 L217.5 692.7 L219.1 694.3 L220.6 695.3 L222.1 697 L223.6 698.1 L225.2 699.4 L226.7 700.7 L228.2 701.6 L229.7 702.7 L231.3 703.8 L232.8 705 L234.3 705.6 L235.8 706.7 L237.4 707.5 L238.9 708.3 L240.4 709 L241.9 709.7 L243.5 710.3 L245 711.1 L246.5 711.7 L248 712.7 L249.6 713.1 L251.1 713.6 L252.6 714.2 L254.1 715.1 L255.7 715.7 L257.2 716.1 L258.7 716.4 L260.3 716.9 L261.8 717.4 L263.3 717.9 L264.8 718.2 L266.4 718.8 L267.9 719.1 L269.4 719.8 L270.9 720.2 L272.5 720.4 L274 720.6 L275.5 721.3 L277 721.4 L278.6 721.7 L280.1 721.9 L281.6 722.4 L283.1 722.7 L284.7 723 L286.2 723.2 L287.7 723.6 L289.2 723.6 L290.8 724.1 L292.3 724.2 L293.8 724.6 L295.3 724.7 L296.9 725 L298.4 725.3 L299.9 725.5 L301.4 726 L303 726.2 L304.5 726.5 L306 726.7 L307.5 726.9 L309.1 727.2 L310.6 727.2 L312.1 727.3 L313.6 727.9 L315.2 727.7 L316.7 728.1 L318.2 728.3 L319.7 728.2 L321.3 728.8 L322.8 729 L324.3 729 L325.8 729.2 L327.4 729.5 L328.9 729.3 L330.4 729.6" fill="none" stroke="#000" stroke-width="3" stroke-linejoin="round"/>
<line x1="193.1" y1="650.8" x2="193.1" y2="663.9" stroke="#000" stroke-width="2.2"/>
<path d="M101.6 749.4 L103.1 748 L104.7 746.4 L106.2 744.9 L107.7 743.2 L109.2 741.9 L110.8 740.4 L112.3 739 L113.8 737.3 L115.3 735.9 L116.9 734.6 L118.4 733.4 L119.9 732 L121.4 731.1 L123 729.8 L124.5 728.6 L126 727.5 L127.5 726.3 L129.1 725.1 L130.6 723.8 L132.1 723.1 L133.6 722 L135.2 720.9 L136.7 719.9 L138.2 718.9 L139.7 717.7 L141.3 717.1 L142.8 715.9 L144.3 714.9 L145.8 714.1 L147.4 713.5 L148.9 712.3 L150.4 711.8 L151.9 711.1 L153.5 710 L155 709.2 L156.5 708.5 L158 707.8 L159.6 707.1 L161.1 706.3 L162.6 705.6 L164.1 704.7 L165.7 704 L167.2 703.4 L168.7 703 L170.2 702.2 L171.8 701.7 L173.3 700.8 L174.8 700.2 L176.3 699.7 L177.9 699.3 L179.4 698.8 L180.9 698.2 L182.5 697.5 L184 697.1 L185.5 696.6 L187 696.1 L188.6 695.4 L190.1 695.3 L191.6 694.5 L193.1 694.4 L193.1 694.4 L194.7 695.8 L196.2 697.8 L197.7 699.7 L199.2 701.4 L200.8 702.7 L202.3 704.1 L203.8 705.4 L205.3 707.1 L206.9 708 L208.4 709.4 L209.9 710.4 L211.4 711.7 L213 712.9 L214.5 713.5 L216 714.8 L217.5 715.6 L219.1 716.6 L220.6 717.4 L222.1 717.9 L223.6 719 L225.2 719.6 L226.7 720 L228.2 720.7 L229.7 721.6 L231.3 722.1 L232.8 722.7 L234.3 723.1 L235.8 723.8 L237.4 724.3 L238.9 725 L240.4 725.1 L241.9 725.9 L243.5 726.4 L245 726.5 L246.5 727.3 L248 727.5 L249.6 728 L251.1 728.1 L252.6 728.5 L254.1 728.8 L255.7 729.4 L257.2 729.5 L258.7 729.7 L260.3 730 L261.8 730.3 L263.3 730.4 L264.8 730.7 L266.4 731.3 L267.9 731.3 L269.4 731.9 L270.9 731.7 L272.5 732 L274 732.3 L275.5 732.4 L277 732.7 L278.6 733.2 L280.1 733.3 L281.6 733.5 L283.1 733.6 L284.7 733.9 L286.2 734.1 L287.7 734 L289.2 734.3 L290.8 734.1 L292.3 734.6 L293.8 734.6 L295.3 734.9 L296.9 735 L298.4 735 L299.9 735 L301.4 735.6 L303 735.3 L304.5 735.7 L306 735.7 L307.5 735.8 L309.1 736.2 L310.6 736.4 L312.1 736.2 L313.6 736.5 L315.2 736.4 L316.7 736.7 L318.2 736.7 L319.7 736.7 L321.3 736.8 L322.8 736.9 L324.3 737.4 L325.8 737.3 L327.4 737.3 L328.9 737.7 L330.4 737.9" fill="none" stroke="#000" stroke-width="3" stroke-linejoin="round"/>
<line x1="193.1" y1="688.2" x2="193.1" y2="701.3" stroke="#000" stroke-width="2.2"/>
<path d="M101.6 749.4 L103.1 748.5 L104.7 747.8 L106.2 747.1 L107.7 746.5 L109.2 745.7 L110.8 745.1 L112.3 744.4 L113.8 743.9 L115.3 743.4 L116.9 742.7 L118.4 741.9 L119.9 741.3 L121.4 740.8 L123 740.1 L124.5 739.5 L126 738.8 L127.5 738.3 L129.1 738.1 L130.6 737.1 L132.1 736.8 L133.6 736.3 L135.2 735.9 L136.7 735 L138.2 734.6 L139.7 734 L141.3 733.6 L142.8 733.2 L144.3 732.9 L145.8 732.4 L147.4 731.9 L148.9 731.1 L150.4 730.6 L151.9 730.5 L153.5 730.1 L155 729.5 L156.5 729.1 L158 728.4 L159.6 728.2 L161.1 728 L162.6 727.6 L164.1 727.2 L165.7 726.9 L167.2 726.1 L168.7 725.7 L170.2 725.3 L171.8 725.1 L173.3 724.9 L174.8 724.6 L176.3 724.2 L177.9 723.8 L179.4 723.5 L180.9 723 L182.5 722.7 L184 722.1 L185.5 722.2 L187 721.6 L188.6 721.6 L190.1 721.2 L191.6 720.7 L193.1 720.3 L193.1 720.4 L194.7 721.6 L196.2 722.5 L197.7 723.1 L199.2 723.9 L200.8 725 L202.3 725.8 L203.8 726.4 L205.3 727 L206.9 727.9 L208.4 728.2 L209.9 729 L211.4 729.6 L213 730.4 L214.5 730.8 L216 731.4 L217.5 731.7 L219.1 732 L220.6 732.5 L222.1 733.2 L223.6 733.5 L225.2 733.7 L226.7 733.9 L228.2 734.5 L229.7 734.9 L231.3 735.1 L232.8 735.3 L234.3 735.8 L235.8 736.2 L237.4 736.2 L238.9 736.3 L240.4 736.7 L241.9 737 L243.5 737.4 L245 737.3 L246.5 737.9 L248 738 L249.6 738.1 L251.1 738.2 L252.6 738.7 L254.1 738.6 L255.7 739 L257.2 738.9 L258.7 739 L260.3 739.4 L261.8 739.3 L263.3 739.8 L264.8 739.7 L266.4 739.7 L267.9 739.8 L269.4 740.1 L270.9 740.3 L272.5 740.6 L274 740.3 L275.5 740.5 L277 740.5 L278.6 741 L280.1 740.7 L281.6 740.8 L283.1 740.9 L284.7 741.1 L286.2 741.5 L287.7 741.5 L289.2 741.6 L290.8 741.8 L292.3 741.8 L293.8 741.6 L295.3 741.6 L296.9 742.1 L298.4 742.1 L299.9 741.8 L301.4 742.2 L303 742.1 L304.5 742.2 L306 742.2 L307.5 742.2 L309.1 742.2 L310.6 742.4 L312.1 742.5 L313.6 742.8 L315.2 742.5 L316.7 743 L318.2 742.6 L319.7 742.8 L321.3 743.1 L322.8 743.1 L324.3 743 L325.8 742.8 L327.4 743.1 L328.9 743.1 L330.4 743.4" fill="none" stroke="#000" stroke-width="3" stroke-linejoin="round"/>
<line x1="193.1" y1="714.5" x2="193.1" y2="727.6" stroke="#000" stroke-width="2.2"/>
<path d="M101.6 749.2 L103.1 749 L104.7 749 L106.2 748.2 L107.7 748.1 L109.2 748 L110.8 747.7 L112.3 747.1 L113.8 746.8 L115.3 746.5 L116.9 746.6 L118.4 746 L119.9 746 L121.4 745.8 L123 745.2 L124.5 744.9 L126 745 L127.5 744.5 L129.1 744.1 L130.6 744.1 L132.1 743.6 L133.6 743.3 L135.2 742.9 L136.7 743.1 L138.2 742.9 L139.7 742.5 L141.3 742.4 L142.8 741.7 L144.3 741.6 L145.8 741.4 L147.4 741.4 L148.9 741.2 L150.4 740.7 L151.9 740.4 L153.5 740.2 L155 740 L156.5 740 L158 739.4 L159.6 739.5 L161.1 739.3 L162.6 739.1 L164.1 738.9 L165.7 738.6 L167.2 738.2 L168.7 738 L170.2 737.8 L171.8 737.8 L173.3 737.2 L174.8 737.1 L176.3 737.2 L177.9 736.7 L179.4 736.4 L180.9 736.2 L182.5 736.3 L184 736 L185.5 736.1 L187 735.9 L188.6 735.7 L190.1 735.2 L191.6 734.9 L193.1 734.7 L193.1 734.9 L194.7 735.5 L196.2 735.9 L197.7 736.2 L199.2 736.7 L200.8 737.2 L202.3 737.7 L203.8 738.1 L205.3 738.5 L206.9 738.7 L208.4 738.7 L209.9 739.4 L211.4 739.4 L213 739.8 L214.5 740 L216 740.4 L217.5 740.4 L219.1 740.7 L220.6 740.9 L222.1 741 L223.6 741.6 L225.2 741.6 L226.7 741.7 L228.2 741.9 L229.7 742.4 L231.3 742.3 L232.8 742.3 L234.3 742.7 L235.8 742.8 L237.4 743.1 L238.9 742.8 L240.4 743.1 L241.9 743.4 L243.5 743.5 L245 743.7 L246.5 743.3 L248 743.6 L249.6 743.6 L251.1 743.7 L252.6 744.2 L254.1 744.1 L255.7 744.3 L257.2 744.1 L258.7 744.5 L260.3 744.3 L261.8 744.3 L263.3 744.6 L264.8 744.8 L266.4 744.4 L267.9 744.7 L269.4 744.8 L270.9 744.7 L272.5 744.8 L274 744.8 L275.5 744.8 L277 744.9 L278.6 745.1 L280.1 745.2 L281.6 745 L283.1 745 L284.7 745.2 L286.2 745.4 L287.7 745.2 L289.2 745.3 L290.8 745.3 L292.3 745.7 L293.8 745.6 L295.3 745.4 L296.9 745.4 L298.4 745.6 L299.9 745.7 L301.4 745.8 L303 745.6 L304.5 745.6 L306 745.9 L307.5 745.8 L309.1 745.8 L310.6 745.8 L312.1 746.2 L313.6 745.9 L315.2 746.1 L316.7 746 L318.2 746.1 L319.7 746.3 L321.3 746.4 L322.8 746.1 L324.3 746.1 L325.8 746.4 L327.4 746.1 L328.9 746 L330.4 746.5" fill="none" stroke="#000" stroke-width="3" stroke-linejoin="round"/>
<line x1="193.1" y1="729.9" x2="193.1" y2="741.1" stroke="#000" stroke-width="2.2"/>
<path d="M101.6 749.4 L103.1 749.4 L104.7 749.1 L106.2 749.2 L107.7 748.9 L109.2 748.6 L110.8 748.4 L112.3 748.6 L113.8 748.5 L115.3 748.5 L116.9 748 L118.4 748.1 L119.9 747.9 L121.4 747.8 L123 747.5 L124.5 747.5 L126 747.5 L127.5 747.6 L129.1 747 L130.6 747.1 L132.1 747.1 L133.6 747.1 L135.2 746.6 L136.7 746.5 L138.2 746.8 L139.7 746.7 L141.3 746.3 L142.8 746 L144.3 746.3 L145.8 745.9 L147.4 746 L148.9 745.8 L150.4 745.8 L151.9 745.3 L153.5 745.5 L155 745.1 L156.5 745.1 L158 745.2 L159.6 745.1 L161.1 744.7 L162.6 744.6 L164.1 744.6 L165.7 744.5 L167.2 744.3 L168.7 744.1 L170.2 744.1 L171.8 744.2 L173.3 744.2 L174.8 743.6 L176.3 743.8 L177.9 743.8 L179.4 743.3 L180.9 743.6 L182.5 743.1 L184 743.3 L185.5 743.1 L187 743.1 L188.6 742.8 L190.1 742.8 L191.6 742.7 L193.1 742.6 L193.1 742.7 L194.7 742.8 L196.2 743 L197.7 743 L199.2 743.5 L200.8 743.6 L202.3 743.7 L203.8 744.1 L205.3 744.3 L206.9 744.3 L208.4 744.3 L209.9 744.6 L211.4 744.6 L213 744.7 L214.5 745 L216 744.9 L217.5 745.2 L219.1 745.3 L220.6 745.2 L222.1 745.6 L223.6 745.4 L225.2 745.8 L226.7 746 L228.2 745.9 L229.7 745.8 L231.3 746.1 L232.8 746.1 L234.3 746.4 L235.8 746.1 L237.4 746.5 L238.9 746.6 L240.4 746.6 L241.9 746.7 L243.5 746.4 L245 746.8 L246.5 746.6 L248 746.9 L249.6 747 L251.1 746.6 L252.6 747 L254.1 747.1 L255.7 746.7 L257.2 746.9 L258.7 747.1 L260.3 746.9 L261.8 747.3 L263.3 747 L264.8 747.3 L266.4 747 L267.9 747.2 L269.4 747.4 L270.9 747.1 L272.5 747.2 L274 747.3 L275.5 747.2 L277 747.1 L278.6 747.2 L280.1 747.2 L281.6 747.6 L283.1 747.5 L284.7 747.7 L286.2 747.3 L287.7 747.7 L289.2 747.3 L290.8 747.6 L292.3 747.6 L293.8 747.5 L295.3 747.8 L296.9 747.7 L298.4 747.7 L299.9 747.9 L301.4 747.5 L303 747.9 L304.5 747.8 L306 747.7 L307.5 747.9 L309.1 747.6 L310.6 748 L312.1 747.8 L313.6 747.7 L315.2 747.9 L316.7 747.8 L318.2 747.7 L319.7 748 L321.3 747.6 L322.8 748 L324.3 747.8 L325.8 748 L327.4 748.2 L328.9 748 L330.4 748" fill="none" stroke="#000" stroke-width="3" stroke-linejoin="round"/>
<line x1="193.1" y1="737.5" x2="193.1" y2="748.7" stroke="#000" stroke-width="2.2"/>
<path d="M101.6 537.6V782.5M101.6 766.6H331M85.4 749.4H101.6M85.4 664.4H101.6M85.4 579.4H101.6M203.3 766.6V782.5M305 766.6V782.5" stroke="#000" stroke-width="2.5" fill="none"/>
<text x="77.6" y="759.4" font-size="32" text-anchor="end">0</text>
<text x="77.6" y="674.4" font-size="32" text-anchor="end">10</text>
<text x="77.6" y="589.4" font-size="32" text-anchor="end">20</text>
<text x="101.6" y="818.5" font-size="32" text-anchor="middle">0</text>
<text x="203.3" y="818.5" font-size="32" text-anchor="middle">200</text>
<text x="305" y="818.5" font-size="32" text-anchor="middle">400</text>
<text x="216.3" y="858" font-size="31" text-anchor="middle">Time (s)</text>
<text x="677.2" y="519.9" font-size="32" text-anchor="end">Hp(1-1)Hb - Ca<tspan dy="-11" font-size="19">2+</tspan></text>
<text x="374.5" y="656" font-size="31" text-anchor="middle" transform="rotate(-90 374.5 656)">Response (RU)</text>
<path d="M447.2 753.8 L448.7 753.6 L450.3 753.6 L451.8 753.7 L453.3 754 L454.8 753.9 L456.4 753.9 L457.9 754.2 L459.4 753.6 L460.9 753.7 L462.5 754 L464 753.6 L465.5 753.6 L467 753.8 L468.6 753.6 L470.1 753.8 L471.6 753.7 L473.1 754 L474.7 754 L476.2 753.7 L477.7 754 L479.2 753.9 L480.8 753.6 L482.3 754.2 L483.8 753.7 L485.3 753.7 L486.9 753.6 L488.4 754 L489.9 754.2 L491.4 754.1 L493 753.8 L494.5 753.7 L496 753.6 L497.5 754 L499.1 753.9 L500.6 753.8 L502.1 754 L503.6 753.9 L505.2 754.2 L506.7 754.1 L508.2 753.7 L509.7 754.2 L511.3 753.6 L512.8 753.9 L514.3 753.8 L515.8 753.7 L517.4 753.6 L518.9 754.1 L520.4 753.6 L521.9 753.9 L523.5 754.2 L525 753.6 L526.5 753.7 L528.1 754 L529.6 753.9 L531.1 754 L532.6 754.1 L534.2 753.7 L535.7 753.8 L537.2 753.8 L538.7 753.6 L540.3 754.2 L541.8 754.1 L543.3 754.1 L544.8 753.6 L546.4 754.1 L547.9 754.1 L549.4 753.9 L550.9 754.1 L552.5 753.9 L554 753.7 L555.5 753.6 L557 753.7 L558.6 753.6 L560.1 753.8 L561.6 754.1 L563.1 754 L564.7 754.1 L566.2 754 L567.7 753.7 L569.2 753.9 L570.8 753.9 L572.3 754.1 L573.8 753.9 L575.3 753.7 L576.9 754 L578.4 754.2 L579.9 753.7 L581.4 754.2 L583 753.6 L584.5 753.7 L586 753.7 L587.5 754.1 L589.1 754.2 L590.6 754.1 L592.1 753.8 L593.6 754.2 L595.2 753.8 L596.7 753.7 L598.2 754.2 L599.8 754 L601.3 754 L602.8 754 L604.3 754.2 L605.9 753.9 L607.4 754.1 L608.9 754 L610.4 754.2 L612 753.9 L613.5 754.1 L615 753.9 L616.5 753.8 L618.1 753.7 L619.6 754 L621.1 753.6 L622.6 754.2 L624.2 753.7 L625.7 753.6 L627.2 753.6 L628.7 754.2 L630.3 753.8 L631.8 753.6 L633.3 753.6 L634.8 753.6 L636.4 754 L637.9 754 L639.4 754 L640.9 754.1 L642.5 753.6 L644 754 L645.5 753.8 L647 754.1 L648.6 754.1 L650.1 754.2 L651.6 753.6 L653.1 754.2 L654.7 754.2 L656.2 754.2 L657.7 753.6 L659.2 753.7 L660.8 753.6 L662.3 753.6 L663.8 754.1 L665.3 754.1 L666.9 754 L668.4 754.1 L669.9 754 L671.4 753.8 L673 753.6 L674.5 753.6 L676 754.1 L677.6 753.7" fill="none" stroke="#000" stroke-width="3"/>
<line x1="538.7" y1="751.5" x2="538.7" y2="757" stroke="#000" stroke-width="2"/>
<path d="M447.2 539.2V784.7M447.2 768.6H678.5M431.7 752.2H447.2M431.7 666.9H447.2M431.7 581.6H447.2M548.9 768.6V784.7M650.6 768.6V784.7" stroke="#000" stroke-width="2.5" fill="none"/>
<text x="423.6" y="762.2" font-size="32" text-anchor="end">0</text>
<text x="423.6" y="676.9" font-size="32" text-anchor="end">10</text>
<text x="423.6" y="591.6" font-size="32" text-anchor="end">20</text>
<text x="447.2" y="820.7" font-size="32" text-anchor="middle">0</text>
<text x="548.9" y="820.7" font-size="32" text-anchor="middle">200</text>
<text x="650.6" y="820.7" font-size="32" text-anchor="middle">400</text>
<text x="562" y="860.3" font-size="31" text-anchor="middle">Time (s)</text>
<text x="332.8" y="918.7" font-size="32" text-anchor="end">Hp(2-2)Hb</text>
<text x="31" y="1047.5" font-size="31" text-anchor="middle" transform="rotate(-90 31 1047.5)">Response (RU)</text>
<path d="M103.6 1146.9 L105.6 1141.3 L107.7 1135.8 L109.7 1130.3 L111.7 1124.8 L113.7 1119.4 L115.8 1114 L117.8 1108.7 L119.8 1103.5 L121.9 1098.2 L123.9 1093.1 L125.9 1087.9 L127.9 1082.9 L130 1077.8 L132 1072.8 L134 1067.9 L136 1063 L138.1 1058.1 L140.1 1053.3 L142.1 1048.5 L144.2 1043.8 L146.2 1039.1 L148.2 1034.4 L150.2 1029.8 L152.3 1025.2 L154.3 1020.7 L156.3 1016.2 L158.4 1011.8 L160.4 1007.4 L162.4 1003 L164.4 998.6 L166.5 994.3 L168.5 990.1 L170.5 985.9 L172.6 981.7 L174.6 977.5 L176.6 973.4 L178.6 969.3 L180.7 965.3 L182.7 961.3 L184.7 957.3 L186.7 953.4 L188.8 949.5 L190.8 945.6 L192.8 941.8 L194.9 938 L194.9 938 L196.9 938.3 L198.9 938.6 L200.9 938.9 L203 939.2 L205 939.5 L207 939.7 L209.1 940 L211.1 940.2 L213.1 940.4 L215.1 940.6 L217.2 940.9 L219.2 941.1 L221.2 941.2 L223.3 941.4 L225.3 941.6 L227.3 941.8 L229.3 941.9 L231.4 942.1 L233.4 942.2 L235.4 942.4 L237.4 942.5 L239.5 942.6 L241.5 942.8 L243.5 942.9 L245.6 943 L247.6 943.1 L249.6 943.2 L251.6 943.3 L253.7 943.4 L255.7 943.5 L257.7 943.6 L259.8 943.6 L261.8 943.7 L263.8 943.8 L265.8 943.9 L267.9 943.9 L269.9 944 L271.9 944.1 L274 944.1 L276 944.2 L278 944.2 L280 944.3 L282.1 944.3 L284.1 944.4 L286.1 944.4 L288.1 944.5 L290.2 944.5 L292.2 944.6 L294.2 944.6 L296.3 944.6 L298.3 944.7 L300.3 944.7 L302.3 944.7 L304.4 944.8 L306.4 944.8 L308.4 944.8 L310.5 944.9 L312.5 944.9 L314.5 944.9 L316.5 944.9 L318.6 945 L320.6 945 L322.6 945 L324.7 945 L326.7 945 L328.7 945.1 L330.7 945.1 L332.8 945.1 L334.8 945.1" fill="none" stroke="#ea2318" stroke-width="2.4" stroke-dasharray="7 3"/>
<path d="M103.6 1146.9 L105.6 1143.6 L107.7 1140.4 L109.7 1137.2 L111.7 1134 L113.7 1130.8 L115.8 1127.7 L117.8 1124.6 L119.8 1121.5 L121.9 1118.5 L123.9 1115.4 L125.9 1112.4 L127.9 1109.5 L130 1106.5 L132 1103.6 L134 1100.7 L136 1097.9 L138.1 1095 L140.1 1092.2 L142.1 1089.4 L144.2 1086.6 L146.2 1083.9 L148.2 1081.2 L150.2 1078.5 L152.3 1075.8 L154.3 1073.2 L156.3 1070.5 L158.4 1067.9 L160.4 1065.4 L162.4 1062.8 L164.4 1060.3 L166.5 1057.7 L168.5 1055.3 L170.5 1052.8 L172.6 1050.3 L174.6 1047.9 L176.6 1045.5 L178.6 1043.1 L180.7 1040.8 L182.7 1038.4 L184.7 1036.1 L186.7 1033.8 L188.8 1031.5 L190.8 1029.3 L192.8 1027 L194.9 1024.8 L194.9 1024.8 L196.9 1025 L198.9 1025.2 L200.9 1025.3 L203 1025.5 L205 1025.7 L207 1025.8 L209.1 1026 L211.1 1026.1 L213.1 1026.3 L215.1 1026.4 L217.2 1026.5 L219.2 1026.6 L221.2 1026.7 L223.3 1026.8 L225.3 1026.9 L227.3 1027 L229.3 1027.1 L231.4 1027.2 L233.4 1027.3 L235.4 1027.4 L237.4 1027.5 L239.5 1027.5 L241.5 1027.6 L243.5 1027.7 L245.6 1027.8 L247.6 1027.8 L249.6 1027.9 L251.6 1027.9 L253.7 1028 L255.7 1028 L257.7 1028.1 L259.8 1028.1 L261.8 1028.2 L263.8 1028.2 L265.8 1028.3 L267.9 1028.3 L269.9 1028.4 L271.9 1028.4 L274 1028.4 L276 1028.5 L278 1028.5 L280 1028.5 L282.1 1028.6 L284.1 1028.6 L286.1 1028.6 L288.1 1028.6 L290.2 1028.7 L292.2 1028.7 L294.2 1028.7 L296.3 1028.7 L298.3 1028.7 L300.3 1028.8 L302.3 1028.8 L304.4 1028.8 L306.4 1028.8 L308.4 1028.8 L310.5 1028.9 L312.5 1028.9 L314.5 1028.9 L316.5 1028.9 L318.6 1028.9 L320.6 1028.9 L322.6 1028.9 L324.7 1029 L326.7 1029 L328.7 1029 L330.7 1029 L332.8 1029 L334.8 1029" fill="none" stroke="#ea2318" stroke-width="2.4" stroke-dasharray="7 3"/>
<path d="M103.6 1146.9 L105.6 1145.1 L107.7 1143.4 L109.7 1141.6 L111.7 1139.9 L113.7 1138.2 L115.8 1136.5 L117.8 1134.9 L119.8 1133.2 L121.9 1131.6 L123.9 1129.9 L125.9 1128.3 L127.9 1126.7 L130 1125.1 L132 1123.5 L134 1122 L136 1120.4 L138.1 1118.9 L140.1 1117.4 L142.1 1115.9 L144.2 1114.4 L146.2 1112.9 L148.2 1111.4 L150.2 1110 L152.3 1108.5 L154.3 1107.1 L156.3 1105.7 L158.4 1104.3 L160.4 1102.9 L162.4 1101.5 L164.4 1100.1 L166.5 1098.8 L168.5 1097.4 L170.5 1096.1 L172.6 1094.8 L174.6 1093.5 L176.6 1092.2 L178.6 1090.9 L180.7 1089.6 L182.7 1088.4 L184.7 1087.1 L186.7 1085.9 L188.8 1084.6 L190.8 1083.4 L192.8 1082.2 L194.9 1081 L194.9 1081 L196.9 1081.1 L198.9 1081.2 L200.9 1081.2 L203 1081.3 L205 1081.4 L207 1081.5 L209.1 1081.5 L211.1 1081.6 L213.1 1081.7 L215.1 1081.7 L217.2 1081.8 L219.2 1081.8 L221.2 1081.9 L223.3 1081.9 L225.3 1082 L227.3 1082 L229.3 1082.1 L231.4 1082.1 L233.4 1082.1 L235.4 1082.2 L237.4 1082.2 L239.5 1082.2 L241.5 1082.3 L243.5 1082.3 L245.6 1082.3 L247.6 1082.4 L249.6 1082.4 L251.6 1082.4 L253.7 1082.4 L255.7 1082.5 L257.7 1082.5 L259.8 1082.5 L261.8 1082.5 L263.8 1082.5 L265.8 1082.6 L267.9 1082.6 L269.9 1082.6 L271.9 1082.6 L274 1082.6 L276 1082.6 L278 1082.7 L280 1082.7 L282.1 1082.7 L284.1 1082.7 L286.1 1082.7 L288.1 1082.7 L290.2 1082.7 L292.2 1082.7 L294.2 1082.8 L296.3 1082.8 L298.3 1082.8 L300.3 1082.8 L302.3 1082.8 L304.4 1082.8 L306.4 1082.8 L308.4 1082.8 L310.5 1082.8 L312.5 1082.8 L314.5 1082.8 L316.5 1082.8 L318.6 1082.9 L320.6 1082.9 L322.6 1082.9 L324.7 1082.9 L326.7 1082.9 L328.7 1082.9 L330.7 1082.9 L332.8 1082.9 L334.8 1082.9" fill="none" stroke="#ea2318" stroke-width="2.4" stroke-dasharray="7 3"/>
<path d="M103.6 1146.9 L105.6 1146 L107.7 1145.1 L109.7 1144.2 L111.7 1143.4 L113.7 1142.5 L115.8 1141.6 L117.8 1140.8 L119.8 1139.9 L121.9 1139.1 L123.9 1138.3 L125.9 1137.4 L127.9 1136.6 L130 1135.8 L132 1135 L134 1134.2 L136 1133.4 L138.1 1132.7 L140.1 1131.9 L142.1 1131.1 L144.2 1130.4 L146.2 1129.6 L148.2 1128.9 L150.2 1128.1 L152.3 1127.4 L154.3 1126.7 L156.3 1125.9 L158.4 1125.2 L160.4 1124.5 L162.4 1123.8 L164.4 1123.1 L166.5 1122.4 L168.5 1121.8 L170.5 1121.1 L172.6 1120.4 L174.6 1119.7 L176.6 1119.1 L178.6 1118.4 L180.7 1117.8 L182.7 1117.1 L184.7 1116.5 L186.7 1115.9 L188.8 1115.2 L190.8 1114.6 L192.8 1114 L194.9 1113.4 L194.9 1113.4 L196.9 1113.5 L198.9 1113.5 L200.9 1113.6 L203 1113.7 L205 1113.8 L207 1113.8 L209.1 1113.9 L211.1 1113.9 L213.1 1114 L215.1 1114 L217.2 1114.1 L219.2 1114.1 L221.2 1114.2 L223.3 1114.2 L225.3 1114.3 L227.3 1114.3 L229.3 1114.3 L231.4 1114.4 L233.4 1114.4 L235.4 1114.4 L237.4 1114.5 L239.5 1114.5 L241.5 1114.5 L243.5 1114.6 L245.6 1114.6 L247.6 1114.6 L249.6 1114.6 L251.6 1114.7 L253.7 1114.7 L255.7 1114.7 L257.7 1114.7 L259.8 1114.7 L261.8 1114.8 L263.8 1114.8 L265.8 1114.8 L267.9 1114.8 L269.9 1114.8 L271.9 1114.8 L274 1114.9 L276 1114.9 L278 1114.9 L280 1114.9 L282.1 1114.9 L284.1 1114.9 L286.1 1114.9 L288.1 1114.9 L290.2 1114.9 L292.2 1115 L294.2 1115 L296.3 1115 L298.3 1115 L300.3 1115 L302.3 1115 L304.4 1115 L306.4 1115 L308.4 1115 L310.5 1115 L312.5 1115 L314.5 1115 L316.5 1115 L318.6 1115 L320.6 1115.1 L322.6 1115.1 L324.7 1115.1 L326.7 1115.1 L328.7 1115.1 L330.7 1115.1 L332.8 1115.1 L334.8 1115.1" fill="none" stroke="#ea2318" stroke-width="2.4" stroke-dasharray="7 3"/>
<path d="M103.6 1146.9 L105.6 1146.4 L107.7 1146 L109.7 1145.5 L111.7 1145.1 L113.7 1144.6 L115.8 1144.2 L117.8 1143.8 L119.8 1143.3 L121.9 1142.9 L123.9 1142.5 L125.9 1142 L127.9 1141.6 L130 1141.2 L132 1140.8 L134 1140.4 L136 1140 L138.1 1139.6 L140.1 1139.2 L142.1 1138.8 L144.2 1138.4 L146.2 1138 L148.2 1137.6 L150.2 1137.3 L152.3 1136.9 L154.3 1136.5 L156.3 1136.1 L158.4 1135.8 L160.4 1135.4 L162.4 1135.1 L164.4 1134.7 L166.5 1134.3 L168.5 1134 L170.5 1133.6 L172.6 1133.3 L174.6 1133 L176.6 1132.6 L178.6 1132.3 L180.7 1132 L182.7 1131.6 L184.7 1131.3 L186.7 1131 L188.8 1130.7 L190.8 1130.3 L192.8 1130 L194.9 1129.7 L194.9 1129.7 L196.9 1129.8 L198.9 1129.8 L200.9 1129.9 L203 1129.9 L205 1130 L207 1130 L209.1 1130.1 L211.1 1130.1 L213.1 1130.1 L215.1 1130.2 L217.2 1130.2 L219.2 1130.3 L221.2 1130.3 L223.3 1130.3 L225.3 1130.4 L227.3 1130.4 L229.3 1130.4 L231.4 1130.4 L233.4 1130.5 L235.4 1130.5 L237.4 1130.5 L239.5 1130.5 L241.5 1130.6 L243.5 1130.6 L245.6 1130.6 L247.6 1130.6 L249.6 1130.6 L251.6 1130.7 L253.7 1130.7 L255.7 1130.7 L257.7 1130.7 L259.8 1130.7 L261.8 1130.7 L263.8 1130.7 L265.8 1130.8 L267.9 1130.8 L269.9 1130.8 L271.9 1130.8 L274 1130.8 L276 1130.8 L278 1130.8 L280 1130.8 L282.1 1130.8 L284.1 1130.8 L286.1 1130.9 L288.1 1130.9 L290.2 1130.9 L292.2 1130.9 L294.2 1130.9 L296.3 1130.9 L298.3 1130.9 L300.3 1130.9 L302.3 1130.9 L304.4 1130.9 L306.4 1130.9 L308.4 1130.9 L310.5 1130.9 L312.5 1130.9 L314.5 1130.9 L316.5 1130.9 L318.6 1130.9 L320.6 1130.9 L322.6 1131 L324.7 1131 L326.7 1131 L328.7 1131 L330.7 1131 L332.8 1131 L334.8 1131" fill="none" stroke="#ea2318" stroke-width="2.4" stroke-dasharray="7 3"/>
<path d="M103.6 1145.4 L105.6 1145.2 L107.7 1144.9 L109.7 1144.7 L111.7 1144.5 L113.7 1144.3 L115.8 1144.1 L117.8 1144 L119.8 1143.8 L121.9 1143.6 L123.9 1143.4 L125.9 1143.2 L127.9 1143 L130 1142.8 L132 1142.6 L134 1142.4 L136 1142.3 L138.1 1142.1 L140.1 1141.9 L142.1 1141.7 L144.2 1141.6 L146.2 1141.4 L148.2 1141.2 L150.2 1141 L152.3 1140.9 L154.3 1140.7 L156.3 1140.5 L158.4 1140.4 L160.4 1140.2 L162.4 1140 L164.4 1139.9 L166.5 1139.7 L168.5 1139.6 L170.5 1139.4 L172.6 1139.3 L174.6 1139.1 L176.6 1139 L178.6 1138.8 L180.7 1138.7 L182.7 1138.5 L184.7 1138.4 L186.7 1138.2 L188.8 1138.1 L190.8 1137.9 L192.8 1137.8 L194.9 1137.6 L194.9 1137.6 L196.9 1137.7 L198.9 1137.7 L200.9 1137.7 L203 1137.8 L205 1137.8 L207 1137.8 L209.1 1137.8 L211.1 1137.8 L213.1 1137.9 L215.1 1137.9 L217.2 1137.9 L219.2 1137.9 L221.2 1137.9 L223.3 1138 L225.3 1138 L227.3 1138 L229.3 1138 L231.4 1138 L233.4 1138 L235.4 1138 L237.4 1138 L239.5 1138.1 L241.5 1138.1 L243.5 1138.1 L245.6 1138.1 L247.6 1138.1 L249.6 1138.1 L251.6 1138.1 L253.7 1138.1 L255.7 1138.1 L257.7 1138.1 L259.8 1138.1 L261.8 1138.2 L263.8 1138.2 L265.8 1138.2 L267.9 1138.2 L269.9 1138.2 L271.9 1138.2 L274 1138.2 L276 1138.2 L278 1138.2 L280 1138.2 L282.1 1138.2 L284.1 1138.2 L286.1 1138.2 L288.1 1138.2 L290.2 1138.2 L292.2 1138.2 L294.2 1138.2 L296.3 1138.2 L298.3 1138.2 L300.3 1138.2 L302.3 1138.2 L304.4 1138.2 L306.4 1138.2 L308.4 1138.3 L310.5 1138.3 L312.5 1138.3 L314.5 1138.3 L316.5 1138.3 L318.6 1138.3 L320.6 1138.3 L322.6 1138.3 L324.7 1138.3 L326.7 1138.3 L328.7 1138.3 L330.7 1138.3 L332.8 1138.3 L334.8 1138.3" fill="none" stroke="#ea2318" stroke-width="2.4" stroke-dasharray="7 3"/>
<path d="M103.6 1145.6 L105.6 1145.5 L107.7 1145.4 L109.7 1145.3 L111.7 1145.3 L113.7 1145.2 L115.8 1145.1 L117.8 1145 L119.8 1144.9 L121.9 1144.9 L123.9 1144.8 L125.9 1144.7 L127.9 1144.6 L130 1144.6 L132 1144.5 L134 1144.4 L136 1144.3 L138.1 1144.3 L140.1 1144.2 L142.1 1144.1 L144.2 1144.1 L146.2 1144 L148.2 1143.9 L150.2 1143.9 L152.3 1143.8 L154.3 1143.7 L156.3 1143.7 L158.4 1143.6 L160.4 1143.5 L162.4 1143.5 L164.4 1143.4 L166.5 1143.3 L168.5 1143.3 L170.5 1143.2 L172.6 1143.1 L174.6 1143.1 L176.6 1143 L178.6 1143 L180.7 1142.9 L182.7 1142.8 L184.7 1142.8 L186.7 1142.7 L188.8 1142.7 L190.8 1142.6 L192.8 1142.6 L194.9 1142.5 L194.9 1142.5 L196.9 1142.5 L198.9 1142.5 L200.9 1142.5 L203 1142.6 L205 1142.6 L207 1142.6 L209.1 1142.6 L211.1 1142.6 L213.1 1142.6 L215.1 1142.7 L217.2 1142.7 L219.2 1142.7 L221.2 1142.7 L223.3 1142.7 L225.3 1142.7 L227.3 1142.7 L229.3 1142.7 L231.4 1142.7 L233.4 1142.7 L235.4 1142.8 L237.4 1142.8 L239.5 1142.8 L241.5 1142.8 L243.5 1142.8 L245.6 1142.8 L247.6 1142.8 L249.6 1142.8 L251.6 1142.8 L253.7 1142.8 L255.7 1142.8 L257.7 1142.8 L259.8 1142.8 L261.8 1142.8 L263.8 1142.8 L265.8 1142.8 L267.9 1142.8 L269.9 1142.9 L271.9 1142.9 L274 1142.9 L276 1142.9 L278 1142.9 L280 1142.9 L282.1 1142.9 L284.1 1142.9 L286.1 1142.9 L288.1 1142.9 L290.2 1142.9 L292.2 1142.9 L294.2 1142.9 L296.3 1142.9 L298.3 1142.9 L300.3 1142.9 L302.3 1142.9 L304.4 1142.9 L306.4 1142.9 L308.4 1142.9 L310.5 1142.9 L312.5 1142.9 L314.5 1142.9 L316.5 1142.9 L318.6 1142.9 L320.6 1142.9 L322.6 1142.9 L324.7 1142.9 L326.7 1142.9 L328.7 1142.9 L330.7 1142.9 L332.8 1142.9 L334.8 1142.9" fill="none" stroke="#ea2318" stroke-width="2.4" stroke-dasharray="7 3"/>
<path d="M103.6 1146.9 L105.6 1146.9 L107.7 1146.9 L109.7 1146.8 L111.7 1146.8 L113.7 1146.8 L115.8 1146.8 L117.8 1146.7 L119.8 1146.7 L121.9 1146.7 L123.9 1146.7 L125.9 1146.7 L127.9 1146.6 L130 1146.6 L132 1146.6 L134 1146.6 L136 1146.5 L138.1 1146.5 L140.1 1146.5 L142.1 1146.5 L144.2 1146.5 L146.2 1146.4 L148.2 1146.4 L150.2 1146.4 L152.3 1146.4 L154.3 1146.4 L156.3 1146.3 L158.4 1146.3 L160.4 1146.3 L162.4 1146.3 L164.4 1146.3 L166.5 1146.3 L168.5 1146.2 L170.5 1146.2 L172.6 1146.2 L174.6 1146.2 L176.6 1146.2 L178.6 1146.2 L180.7 1146.1 L182.7 1146.1 L184.7 1146.1 L186.7 1146.1 L188.8 1146.1 L190.8 1146.1 L192.8 1146 L194.9 1146 L194.9 1146 L196.9 1146 L198.9 1146.1 L200.9 1146.1 L203 1146.1 L205 1146.1 L207 1146.1 L209.1 1146.1 L211.1 1146.2 L213.1 1146.2 L215.1 1146.2 L217.2 1146.2 L219.2 1146.2 L221.2 1146.2 L223.3 1146.2 L225.3 1146.2 L227.3 1146.2 L229.3 1146.3 L231.4 1146.3 L233.4 1146.3 L235.4 1146.3 L237.4 1146.3 L239.5 1146.3 L241.5 1146.3 L243.5 1146.3 L245.6 1146.3 L247.6 1146.3 L249.6 1146.3 L251.6 1146.3 L253.7 1146.3 L255.7 1146.3 L257.7 1146.3 L259.8 1146.4 L261.8 1146.4 L263.8 1146.4 L265.8 1146.4 L267.9 1146.4 L269.9 1146.4 L271.9 1146.4 L274 1146.4 L276 1146.4 L278 1146.4 L280 1146.4 L282.1 1146.4 L284.1 1146.4 L286.1 1146.4 L288.1 1146.4 L290.2 1146.4 L292.2 1146.4 L294.2 1146.4 L296.3 1146.4 L298.3 1146.4 L300.3 1146.4 L302.3 1146.4 L304.4 1146.4 L306.4 1146.4 L308.4 1146.4 L310.5 1146.4 L312.5 1146.4 L314.5 1146.4 L316.5 1146.4 L318.6 1146.4 L320.6 1146.4 L322.6 1146.4 L324.7 1146.4 L326.7 1146.4 L328.7 1146.4 L330.7 1146.4 L332.8 1146.4 L334.8 1146.4" fill="none" stroke="#ea2318" stroke-width="2.4" stroke-dasharray="7 3"/>
<path d="M103.6 1146.8 L105.6 1141.3 L107.7 1135.5 L109.7 1130.1 L111.7 1124.7 L113.7 1119.5 L115.8 1114 L117.8 1108.6 L119.8 1103.7 L121.9 1098.2 L123.9 1093.3 L125.9 1088 L127.9 1082.6 L130 1077.8 L132 1072.8 L134 1068 L136 1062.9 L138.1 1058.2 L140.1 1053.3 L142.1 1048.3 L144.2 1044 L146.2 1038.8 L148.2 1034.6 L150.2 1029.6 L152.3 1024.9 L154.3 1020.5 L156.3 1016.4 L158.4 1012.1 L160.4 1007.1 L162.4 1003 L164.4 998.6 L166.5 994.5 L168.5 989.9 L170.5 985.9 L172.6 981.6 L174.6 977.7 L176.6 973.3 L178.6 969.6 L180.7 965.2 L182.7 961.1 L184.7 957.4 L186.7 953.4 L188.8 949.2 L190.8 945.7 L192.8 941.5 L194.9 938.1 L194.9 938.1 L196.9 938.5 L198.9 938.7 L200.9 938.8 L203 939.1 L205 939.4 L207 939.9 L209.1 939.7 L211.1 940.4 L213.1 940.1 L215.1 940.5 L217.2 940.7 L219.2 941.3 L221.2 941.3 L223.3 941.4 L225.3 941.8 L227.3 941.6 L229.3 941.9 L231.4 942.1 L233.4 942.4 L235.4 942.5 L237.4 942.6 L239.5 942.5 L241.5 942.7 L243.5 942.7 L245.6 943.2 L247.6 943.2 L249.6 943.3 L251.6 943.1 L253.7 943.4 L255.7 943.6 L257.7 943.6 L259.8 943.4 L261.8 943.7 L263.8 944 L265.8 943.7 L267.9 943.8 L269.9 943.9 L271.9 944.2 L274 944.3 L276 944 L278 944 L280 944.1 L282.1 944.2 L284.1 944.4 L286.1 944.2 L288.1 944.4 L290.2 944.3 L292.2 944.9 L294.2 944.7 L296.3 944.4 L298.3 945 L300.3 944.5 L302.3 944.7 L304.4 945.1 L306.4 945 L308.4 945 L310.5 944.8 L312.5 944.7 L314.5 945 L316.5 944.7 L318.6 944.8 L320.6 944.9 L322.6 944.7 L324.7 945 L326.7 945.2 L328.7 945.2 L330.7 945.1 L332.8 945.2 L334.8 945.1" fill="none" stroke="#000" stroke-width="3" stroke-linejoin="round"/>
<line x1="194.9" y1="935.8" x2="194.9" y2="940.2" stroke="#000" stroke-width="2.4"/>
<path d="M103.6 1146.7 L105.6 1143.7 L107.7 1140.3 L109.7 1137.3 L111.7 1134.2 L113.7 1130.8 L115.8 1127.7 L117.8 1124.7 L119.8 1121.5 L121.9 1118.3 L123.9 1115.6 L125.9 1112.7 L127.9 1109.6 L130 1106.7 L132 1103.8 L134 1100.8 L136 1097.9 L138.1 1095 L140.1 1092.1 L142.1 1089.5 L144.2 1086.4 L146.2 1083.8 L148.2 1081.3 L150.2 1078.6 L152.3 1075.9 L154.3 1073 L156.3 1070.5 L158.4 1067.9 L160.4 1065.4 L162.4 1062.7 L164.4 1060.4 L166.5 1058 L168.5 1055.1 L170.5 1052.9 L172.6 1050.5 L174.6 1047.8 L176.6 1045.5 L178.6 1043.4 L180.7 1040.5 L182.7 1038.4 L184.7 1035.9 L186.7 1034 L188.8 1031.8 L190.8 1029.3 L192.8 1026.8 L194.9 1024.8 L194.9 1024.8 L196.9 1025.1 L198.9 1025.2 L200.9 1025.4 L203 1025.7 L205 1025.7 L207 1025.8 L209.1 1026.2 L211.1 1025.9 L213.1 1026.4 L215.1 1026.3 L217.2 1026.7 L219.2 1026.4 L221.2 1027 L223.3 1026.8 L225.3 1026.7 L227.3 1026.9 L229.3 1027.1 L231.4 1026.9 L233.4 1027.3 L235.4 1027.3 L237.4 1027.6 L239.5 1027.5 L241.5 1027.5 L243.5 1027.5 L245.6 1027.9 L247.6 1028.1 L249.6 1027.9 L251.6 1027.8 L253.7 1028.2 L255.7 1028 L257.7 1027.9 L259.8 1027.9 L261.8 1028.4 L263.8 1028.4 L265.8 1028.4 L267.9 1028.3 L269.9 1028.4 L271.9 1028.2 L274 1028.7 L276 1028.4 L278 1028.6 L280 1028.7 L282.1 1028.7 L284.1 1028.6 L286.1 1028.5 L288.1 1028.7 L290.2 1028.4 L292.2 1028.9 L294.2 1028.6 L296.3 1028.9 L298.3 1028.6 L300.3 1028.7 L302.3 1028.6 L304.4 1028.8 L306.4 1028.6 L308.4 1028.5 L310.5 1029 L312.5 1028.7 L314.5 1028.7 L316.5 1028.8 L318.6 1028.9 L320.6 1028.9 L322.6 1029 L324.7 1029 L326.7 1028.9 L328.7 1029.2 L330.7 1029.2 L332.8 1028.7 L334.8 1029.2" fill="none" stroke="#000" stroke-width="3" stroke-linejoin="round"/>
<line x1="194.9" y1="1022.6" x2="194.9" y2="1027" stroke="#000" stroke-width="2.4"/>
<path d="M103.6 1147.1 L105.6 1145.3 L107.7 1143.2 L109.7 1141.8 L111.7 1140 L113.7 1137.9 L115.8 1136.2 L117.8 1135.1 L119.8 1133.3 L121.9 1131.4 L123.9 1129.7 L125.9 1128.1 L127.9 1126.5 L130 1125.3 L132 1123.4 L134 1121.8 L136 1120.7 L138.1 1119.1 L140.1 1117.2 L142.1 1116.1 L144.2 1114.4 L146.2 1113.1 L148.2 1111.5 L150.2 1110.2 L152.3 1108.7 L154.3 1107.3 L156.3 1105.5 L158.4 1104.4 L160.4 1102.9 L162.4 1101.7 L164.4 1100.1 L166.5 1099 L168.5 1097.5 L170.5 1096 L172.6 1094.6 L174.6 1093.3 L176.6 1092.2 L178.6 1090.6 L180.7 1089.6 L182.7 1088.1 L184.7 1087.1 L186.7 1085.9 L188.8 1084.7 L190.8 1083.6 L192.8 1081.9 L194.9 1081.2 L194.9 1081 L196.9 1081.1 L198.9 1081.3 L200.9 1081.5 L203 1081.2 L205 1081.3 L207 1081.7 L209.1 1081.3 L211.1 1081.7 L213.1 1081.7 L215.1 1081.4 L217.2 1081.8 L219.2 1081.9 L221.2 1082.1 L223.3 1081.8 L225.3 1082.3 L227.3 1082 L229.3 1082 L231.4 1082.3 L233.4 1081.9 L235.4 1082.3 L237.4 1082.3 L239.5 1082.1 L241.5 1082.5 L243.5 1082.2 L245.6 1082.3 L247.6 1082.4 L249.6 1082.5 L251.6 1082.2 L253.7 1082.4 L255.7 1082.4 L257.7 1082.5 L259.8 1082.7 L261.8 1082.4 L263.8 1082.7 L265.8 1082.5 L267.9 1082.6 L269.9 1082.5 L271.9 1082.6 L274 1082.9 L276 1082.7 L278 1082.8 L280 1082.6 L282.1 1082.6 L284.1 1082.6 L286.1 1082.8 L288.1 1082.8 L290.2 1082.9 L292.2 1082.5 L294.2 1082.9 L296.3 1083 L298.3 1082.8 L300.3 1082.5 L302.3 1082.7 L304.4 1082.5 L306.4 1082.6 L308.4 1083.1 L310.5 1082.9 L312.5 1082.9 L314.5 1083 L316.5 1083.1 L318.6 1082.9 L320.6 1082.9 L322.6 1082.9 L324.7 1083 L326.7 1082.9 L328.7 1083 L330.7 1082.7 L332.8 1083 L334.8 1082.9" fill="none" stroke="#000" stroke-width="3" stroke-linejoin="round"/>
<line x1="194.9" y1="1078.8" x2="194.9" y2="1083.2" stroke="#000" stroke-width="2.4"/>
<path d="M103.6 1147.1 L105.6 1145.8 L107.7 1144.9 L109.7 1144 L111.7 1143.5 L113.7 1142.7 L115.8 1141.7 L117.8 1140.7 L119.8 1140.1 L121.9 1139.3 L123.9 1138.3 L125.9 1137.3 L127.9 1136.5 L130 1135.8 L132 1134.9 L134 1134.2 L136 1133.5 L138.1 1132.9 L140.1 1131.6 L142.1 1131.2 L144.2 1130.1 L146.2 1129.4 L148.2 1129.1 L150.2 1128.2 L152.3 1127.6 L154.3 1126.6 L156.3 1125.7 L158.4 1125.2 L160.4 1124.6 L162.4 1124.1 L164.4 1123.4 L166.5 1122.4 L168.5 1121.7 L170.5 1120.8 L172.6 1120.5 L174.6 1119.6 L176.6 1118.9 L178.6 1118.1 L180.7 1117.5 L182.7 1117.2 L184.7 1116.3 L186.7 1116.1 L188.8 1115 L190.8 1114.8 L192.8 1113.8 L194.9 1113.1 L194.9 1113.5 L196.9 1113.3 L198.9 1113.7 L200.9 1113.4 L203 1113.4 L205 1113.9 L207 1113.9 L209.1 1114.1 L211.1 1114.1 L213.1 1113.7 L215.1 1114.1 L217.2 1114.2 L219.2 1114.1 L221.2 1114.4 L223.3 1114.1 L225.3 1114.5 L227.3 1114.4 L229.3 1114 L231.4 1114.1 L233.4 1114.5 L235.4 1114.6 L237.4 1114.2 L239.5 1114.4 L241.5 1114.7 L243.5 1114.4 L245.6 1114.8 L247.6 1114.6 L249.6 1114.4 L251.6 1114.6 L253.7 1114.7 L255.7 1114.7 L257.7 1114.8 L259.8 1114.5 L261.8 1114.9 L263.8 1114.7 L265.8 1114.9 L267.9 1114.9 L269.9 1114.8 L271.9 1114.8 L274 1115 L276 1115.1 L278 1115 L280 1114.9 L282.1 1114.8 L284.1 1114.6 L286.1 1115.2 L288.1 1115.1 L290.2 1115.1 L292.2 1114.9 L294.2 1115 L296.3 1115.3 L298.3 1115.2 L300.3 1115 L302.3 1114.9 L304.4 1115 L306.4 1115.2 L308.4 1114.9 L310.5 1115.1 L312.5 1115.1 L314.5 1115.3 L316.5 1115.2 L318.6 1114.9 L320.6 1114.8 L322.6 1114.9 L324.7 1115 L326.7 1115.1 L328.7 1115.3 L330.7 1115.3 L332.8 1114.8 L334.8 1115.3" fill="none" stroke="#000" stroke-width="3" stroke-linejoin="round"/>
<line x1="194.9" y1="1111.2" x2="194.9" y2="1115.6" stroke="#000" stroke-width="2.4"/>
<path d="M103.6 1147.1 L105.6 1146.7 L107.7 1146 L109.7 1145.4 L111.7 1145.3 L113.7 1144.8 L115.8 1144.3 L117.8 1144 L119.8 1143.2 L121.9 1142.6 L123.9 1142.5 L125.9 1142.2 L127.9 1141.5 L130 1141.4 L132 1141.1 L134 1140.2 L136 1140.1 L138.1 1139.7 L140.1 1139.2 L142.1 1138.6 L144.2 1138.3 L146.2 1138.2 L148.2 1137.8 L150.2 1137.2 L152.3 1136.6 L154.3 1136.7 L156.3 1136.3 L158.4 1135.6 L160.4 1135.5 L162.4 1135.3 L164.4 1134.9 L166.5 1134.4 L168.5 1134 L170.5 1133.7 L172.6 1133.1 L174.6 1132.8 L176.6 1132.4 L178.6 1132.4 L180.7 1131.9 L182.7 1131.7 L184.7 1131.2 L186.7 1131 L188.8 1130.4 L190.8 1130.1 L192.8 1130.3 L194.9 1129.6 L194.9 1129.5 L196.9 1129.8 L198.9 1130 L200.9 1129.7 L203 1130 L205 1129.9 L207 1130 L209.1 1129.8 L211.1 1129.8 L213.1 1130.4 L215.1 1130.4 L217.2 1130.2 L219.2 1130.3 L221.2 1130.1 L223.3 1130.5 L225.3 1130.3 L227.3 1130.6 L229.3 1130.6 L231.4 1130.6 L233.4 1130.7 L235.4 1130.3 L237.4 1130.2 L239.5 1130.4 L241.5 1130.4 L243.5 1130.3 L245.6 1130.3 L247.6 1130.6 L249.6 1130.9 L251.6 1130.6 L253.7 1130.9 L255.7 1130.9 L257.7 1130.4 L259.8 1130.8 L261.8 1130.7 L263.8 1130.5 L265.8 1131 L267.9 1130.6 L269.9 1130.8 L271.9 1130.9 L274 1131.1 L276 1130.9 L278 1130.8 L280 1130.8 L282.1 1130.6 L284.1 1131.1 L286.1 1131.1 L288.1 1130.7 L290.2 1130.6 L292.2 1130.7 L294.2 1130.8 L296.3 1131.1 L298.3 1131.1 L300.3 1131.1 L302.3 1130.6 L304.4 1131.1 L306.4 1131 L308.4 1131 L310.5 1131.2 L312.5 1130.7 L314.5 1130.7 L316.5 1131.1 L318.6 1131.2 L320.6 1131.1 L322.6 1130.8 L324.7 1131 L326.7 1131.1 L328.7 1130.7 L330.7 1130.9 L332.8 1130.8 L334.8 1130.7" fill="none" stroke="#000" stroke-width="3" stroke-linejoin="round"/>
<line x1="194.9" y1="1127.5" x2="194.9" y2="1131.9" stroke="#000" stroke-width="2.4"/>
<path d="M103.6 1146.9 L105.6 1146.5 L107.7 1146.3 L109.7 1146.1 L111.7 1146.2 L113.7 1145.6 L115.8 1145.8 L117.8 1145.3 L119.8 1145 L121.9 1145.4 L123.9 1144.7 L125.9 1145 L127.9 1144.8 L130 1144.6 L132 1143.9 L134 1144 L136 1143.6 L138.1 1143.9 L140.1 1143.6 L142.1 1143.3 L144.2 1143.1 L146.2 1142.8 L148.2 1142.9 L150.2 1142.6 L152.3 1142.5 L154.3 1142 L156.3 1141.9 L158.4 1141.6 L160.4 1141.9 L162.4 1141.6 L164.4 1141.2 L166.5 1141.5 L168.5 1141 L170.5 1140.9 L172.6 1140.6 L174.6 1140.5 L176.6 1140.7 L178.6 1140.2 L180.7 1140 L182.7 1140 L184.7 1139.8 L186.7 1140 L188.8 1139.4 L190.8 1139.8 L192.8 1139.1 L194.9 1139.4 L194.9 1139.3 L196.9 1139 L198.9 1139.2 L200.9 1139.1 L203 1139.1 L205 1139.1 L207 1139.3 L209.1 1139.7 L211.1 1139.7 L213.1 1139.7 L215.1 1139.2 L217.2 1139.3 L219.2 1139.7 L221.2 1139.2 L223.3 1139.6 L225.3 1139.4 L227.3 1139.8 L229.3 1139.2 L231.4 1139.7 L233.4 1139.5 L235.4 1139.4 L237.4 1139.3 L239.5 1139.8 L241.5 1139.6 L243.5 1139.4 L245.6 1139.6 L247.6 1139.9 L249.6 1139.5 L251.6 1139.7 L253.7 1139.4 L255.7 1139.5 L257.7 1139.8 L259.8 1139.8 L261.8 1139.5 L263.8 1139.4 L265.8 1139.5 L267.9 1139.8 L269.9 1139.7 L271.9 1139.6 L274 1139.6 L276 1139.8 L278 1139.9 L280 1139.9 L282.1 1139.8 L284.1 1139.6 L286.1 1139.5 L288.1 1139.9 L290.2 1139.7 L292.2 1139.9 L294.2 1139.5 L296.3 1140 L298.3 1139.7 L300.3 1140 L302.3 1140 L304.4 1139.8 L306.4 1139.5 L308.4 1140 L310.5 1139.8 L312.5 1140 L314.5 1139.7 L316.5 1139.6 L318.6 1140 L320.6 1139.7 L322.6 1139.6 L324.7 1139.7 L326.7 1139.9 L328.7 1139.5 L330.7 1139.8 L332.8 1139.8 L334.8 1139.8" fill="none" stroke="#000" stroke-width="3" stroke-linejoin="round"/>
<line x1="194.9" y1="1137" x2="194.9" y2="1141.4" stroke="#000" stroke-width="2.4"/>
<path d="M103.6 1146.7 L105.6 1146.9 L107.7 1146.9 L109.7 1146.9 L111.7 1146.5 L113.7 1146.6 L115.8 1146.3 L117.8 1146.5 L119.8 1146 L121.9 1146.4 L123.9 1146.4 L125.9 1146 L127.9 1146 L130 1145.9 L132 1145.8 L134 1145.4 L136 1145.9 L138.1 1145.4 L140.1 1145.3 L142.1 1145.2 L144.2 1145.2 L146.2 1145.5 L148.2 1145 L150.2 1144.9 L152.3 1145.2 L154.3 1144.9 L156.3 1144.7 L158.4 1145 L160.4 1144.9 L162.4 1144.8 L164.4 1144.8 L166.5 1144.4 L168.5 1144.8 L170.5 1144.7 L172.6 1144.2 L174.6 1144.2 L176.6 1144.3 L178.6 1144.3 L180.7 1144.1 L182.7 1143.9 L184.7 1144 L186.7 1143.8 L188.8 1144 L190.8 1144.1 L192.8 1143.7 L194.9 1143.9 L194.9 1144 L196.9 1143.6 L198.9 1144 L200.9 1144.1 L203 1143.8 L205 1143.9 L207 1144.1 L209.1 1143.9 L211.1 1143.9 L213.1 1144.2 L215.1 1144.1 L217.2 1143.9 L219.2 1143.8 L221.2 1143.9 L223.3 1144 L225.3 1144.3 L227.3 1144.2 L229.3 1144.3 L231.4 1144.2 L233.4 1144.3 L235.4 1143.8 L237.4 1144.1 L239.5 1144.4 L241.5 1144.4 L243.5 1144 L245.6 1144.1 L247.6 1144.2 L249.6 1144 L251.6 1144.1 L253.7 1143.9 L255.7 1144.1 L257.7 1144.1 L259.8 1143.9 L261.8 1143.9 L263.8 1144.4 L265.8 1144.3 L267.9 1144.4 L269.9 1144.2 L271.9 1144.4 L274 1144.4 L276 1144.4 L278 1143.9 L280 1144.3 L282.1 1144 L284.1 1144.3 L286.1 1144.1 L288.1 1144.2 L290.2 1144.5 L292.2 1144.3 L294.2 1144.1 L296.3 1144.2 L298.3 1144.2 L300.3 1144.5 L302.3 1144.1 L304.4 1144.1 L306.4 1144.3 L308.4 1144 L310.5 1144.3 L312.5 1144.5 L314.5 1144.2 L316.5 1144.1 L318.6 1144.2 L320.6 1144.2 L322.6 1144 L324.7 1144 L326.7 1144 L328.7 1144.1 L330.7 1144.2 L332.8 1144.1 L334.8 1144.1" fill="none" stroke="#000" stroke-width="3" stroke-linejoin="round"/>
<line x1="194.9" y1="1141.6" x2="194.9" y2="1146" stroke="#000" stroke-width="2.4"/>
<path d="M103.6 1146.7 L105.6 1146.9 L107.7 1147.1 L109.7 1146.9 L111.7 1146.8 L113.7 1146.9 L115.8 1146.6 L117.8 1146.9 L119.8 1146.7 L121.9 1146.7 L123.9 1146.7 L125.9 1146.6 L127.9 1146.5 L130 1146.5 L132 1146.4 L134 1146.6 L136 1146.5 L138.1 1146.6 L140.1 1146.2 L142.1 1146.4 L144.2 1146.7 L146.2 1146.3 L148.2 1146.5 L150.2 1146.4 L152.3 1146.3 L154.3 1146.7 L156.3 1146.2 L158.4 1146.5 L160.4 1146.1 L162.4 1146 L164.4 1146.5 L166.5 1146.2 L168.5 1146 L170.5 1146.2 L172.6 1146.2 L174.6 1146.3 L176.6 1145.9 L178.6 1146 L180.7 1146.4 L182.7 1146.3 L184.7 1145.9 L186.7 1146 L188.8 1146 L190.8 1146.2 L192.8 1146.1 L194.9 1146.2 L194.9 1146.2 L196.9 1146 L198.9 1146.2 L200.9 1146.2 L203 1146.2 L205 1146.1 L207 1146.3 L209.1 1146.3 L211.1 1146.4 L213.1 1145.9 L215.1 1146.4 L217.2 1145.9 L219.2 1146.4 L221.2 1146.3 L223.3 1146.2 L225.3 1146.5 L227.3 1146.3 L229.3 1146.2 L231.4 1146.4 L233.4 1146.5 L235.4 1146.3 L237.4 1146.2 L239.5 1146.3 L241.5 1146.3 L243.5 1146.4 L245.6 1146.2 L247.6 1146.3 L249.6 1146.4 L251.6 1146.3 L253.7 1146.2 L255.7 1146.5 L257.7 1146.6 L259.8 1146.4 L261.8 1146.3 L263.8 1146.2 L265.8 1146.2 L267.9 1146.2 L269.9 1146.4 L271.9 1146.4 L274 1146.1 L276 1146.6 L278 1146.3 L280 1146.6 L282.1 1146.6 L284.1 1146.7 L286.1 1146.2 L288.1 1146.4 L290.2 1146.7 L292.2 1146.1 L294.2 1146.1 L296.3 1146.5 L298.3 1146.4 L300.3 1146.7 L302.3 1146.6 L304.4 1146.4 L306.4 1146.7 L308.4 1146.4 L310.5 1146.4 L312.5 1146.5 L314.5 1146.4 L316.5 1146.3 L318.6 1146.5 L320.6 1146.3 L322.6 1146.7 L324.7 1146.5 L326.7 1146.4 L328.7 1146.2 L330.7 1146.4 L332.8 1146.4 L334.8 1146.5" fill="none" stroke="#000" stroke-width="3" stroke-linejoin="round"/>
<line x1="194.9" y1="1143.8" x2="194.9" y2="1148.2" stroke="#000" stroke-width="2.4"/>
<path d="M103.6 927.9V1172.3M103.6 1156.2H334.5M87.5 1146.9H103.6M87.5 1058.7H103.6M87.5 970.6H103.6M205 1156.2V1172.3M306.4 1156.2V1172.3" stroke="#000" stroke-width="2.5" fill="none"/>
<text x="78.4" y="1156.9" font-size="32" text-anchor="end">0</text>
<text x="78.4" y="1068.7" font-size="32" text-anchor="end">20</text>
<text x="78.4" y="980.6" font-size="32" text-anchor="end">40</text>
<text x="103.6" y="1207.3" font-size="32" text-anchor="middle">0</text>
<text x="205" y="1207.3" font-size="32" text-anchor="middle">200</text>
<text x="306.4" y="1207.3" font-size="32" text-anchor="middle">400</text>
<text x="217.4" y="1247.3" font-size="31" text-anchor="middle">Time (s)</text>
<text x="676" y="918.7" font-size="32" text-anchor="end">HpSPHb</text>
<text x="374.5" y="1047" font-size="31" text-anchor="middle" transform="rotate(-90 374.5 1047)">Response (RU)</text>
<path d="M447.6 1143.8 L448.1 1070.3 L448.6 1025.7 L449.1 998.7 L449.6 982.3 L450.1 972.3 L450.7 966.3 L451.2 962.6 L451.7 960.4 L452.2 959.1 L452.7 958.2 L453.2 957.8 L453.7 957.5 L454.2 957.3 L454.7 957.2 L455.2 957.1 L455.7 957.1 L456.3 957 L456.8 957 L457.3 957 L538.2 957 L539.2 957 L539.7 998.3 L540.2 1030.5 L540.7 1055.6 L541.3 1075.1 L541.8 1090.3 L542.3 1102.1 L542.8 1111.3 L543.3 1118.5 L543.8 1124.1 L544.3 1128.5 L544.8 1131.9 L545.3 1134.5 L545.8 1136.6 L546.3 1138.2 L546.9 1139.4 L547.4 1140.4 L547.9 1141.1 L548.4 1141.7 L548.9 1142.2 L549.4 1142.5 L549.9 1142.8 L550.4 1143 L550.9 1143.2 L551.4 1143.3 L551.9 1143.4 L552.5 1143.5 L553 1143.6 L553.5 1143.6 L554 1143.7 L676.7 1143.8" fill="none" stroke="#ea2318" stroke-width="2.4" stroke-dasharray="7 3"/>
<path d="M447.6 1143.8 L448.1 1098.5 L448.6 1071 L449.1 1054.3 L449.6 1044.2 L450.1 1038.1 L450.7 1034.3 L451.2 1032.1 L451.7 1030.7 L452.2 1029.9 L452.7 1029.4 L453.2 1029.1 L453.7 1028.9 L454.2 1028.8 L454.7 1028.7 L455.2 1028.7 L455.7 1028.6 L456.3 1028.6 L456.8 1028.6 L457.3 1028.6 L538.2 1028.6 L539.2 1028.6 L539.7 1054.1 L540.2 1073.9 L540.7 1089.4 L541.3 1101.4 L541.8 1110.8 L542.3 1118.1 L542.8 1123.8 L543.3 1128.2 L543.8 1131.7 L544.3 1134.3 L544.8 1136.4 L545.3 1138.1 L545.8 1139.3 L546.3 1140.3 L546.9 1141.1 L547.4 1141.7 L547.9 1142.2 L548.4 1142.5 L548.9 1142.8 L549.4 1143 L549.9 1143.2 L550.4 1143.3 L550.9 1143.4 L551.4 1143.5 L551.9 1143.6 L552.5 1143.6 L553 1143.7 L553.5 1143.7 L554 1143.7 L676.7 1143.8" fill="none" stroke="#ea2318" stroke-width="2.4" stroke-dasharray="7 3"/>
<path d="M447.6 1143.8 L448.1 1113.5 L448.6 1095.1 L449.1 1084 L449.6 1077.2 L450.1 1073.1 L450.7 1070.6 L451.2 1069.1 L451.7 1068.2 L452.2 1067.6 L452.7 1067.3 L453.2 1067.1 L453.7 1067 L454.2 1066.9 L454.7 1066.9 L455.2 1066.8 L455.7 1066.8 L456.3 1066.8 L456.8 1066.8 L457.3 1066.8 L538.2 1066.8 L539.2 1066.8 L539.7 1083.8 L540.2 1097.1 L540.7 1107.4 L541.3 1115.5 L541.8 1121.7 L542.3 1126.6 L542.8 1130.4 L543.3 1133.4 L543.8 1135.7 L544.3 1137.5 L544.8 1138.9 L545.3 1140 L545.8 1140.8 L546.3 1141.5 L546.9 1142 L547.4 1142.4 L547.9 1142.7 L548.4 1142.9 L548.9 1143.1 L549.4 1143.3 L549.9 1143.4 L550.4 1143.5 L550.9 1143.6 L551.4 1143.6 L551.9 1143.7 L552.5 1143.7 L553 1143.7 L553.5 1143.7 L554 1143.7 L676.7 1143.8" fill="none" stroke="#ea2318" stroke-width="2.4" stroke-dasharray="7 3"/>
<path d="M447.6 1143.8 L448.1 1125.2 L448.6 1113.9 L449.1 1107.1 L449.6 1103 L450.1 1100.4 L450.7 1098.9 L451.2 1098 L451.7 1097.4 L452.2 1097.1 L452.7 1096.9 L453.2 1096.8 L453.7 1096.7 L454.2 1096.6 L454.7 1096.6 L455.2 1096.6 L455.7 1096.6 L456.3 1096.6 L456.8 1096.6 L457.3 1096.6 L538.2 1096.6 L539.2 1096.6 L539.7 1107 L540.2 1115.1 L540.7 1121.5 L541.3 1126.4 L541.8 1130.3 L542.3 1133.3 L542.8 1135.6 L543.3 1137.4 L543.8 1138.8 L544.3 1139.9 L544.8 1140.8 L545.3 1141.4 L545.8 1142 L546.3 1142.4 L546.9 1142.7 L547.4 1142.9 L547.9 1143.1 L548.4 1143.3 L548.9 1143.4 L549.4 1143.5 L549.9 1143.6 L550.4 1143.6 L550.9 1143.6 L551.4 1143.7 L551.9 1143.7 L552.5 1143.7 L553 1143.7 L553.5 1143.8 L554 1143.8 L676.7 1143.8" fill="none" stroke="#ea2318" stroke-width="2.4" stroke-dasharray="7 3"/>
<path d="M447.6 1143.8 L448.1 1132.3 L448.6 1125.3 L449.1 1121 L449.6 1118.4 L450.1 1116.9 L450.7 1115.9 L451.2 1115.3 L451.7 1115 L452.2 1114.8 L452.7 1114.7 L453.2 1114.6 L453.7 1114.5 L454.2 1114.5 L454.7 1114.5 L455.2 1114.5 L455.7 1114.5 L456.3 1114.5 L456.8 1114.5 L457.3 1114.5 L538.2 1114.5 L539.2 1114.5 L539.7 1121 L540.2 1126 L540.7 1129.9 L541.3 1133 L541.8 1135.4 L542.3 1137.3 L542.8 1138.7 L543.3 1139.8 L543.8 1140.7 L544.3 1141.4 L544.8 1141.9 L545.3 1142.3 L545.8 1142.7 L546.3 1142.9 L546.9 1143.1 L547.4 1143.3 L547.9 1143.4 L548.4 1143.5 L548.9 1143.5 L549.4 1143.6 L549.9 1143.6 L550.4 1143.7 L550.9 1143.7 L551.4 1143.7 L551.9 1143.7 L552.5 1143.8 L553 1143.8 L553.5 1143.8 L554 1143.8 L676.7 1143.8" fill="none" stroke="#ea2318" stroke-width="2.4" stroke-dasharray="7 3"/>
<path d="M447.6 1143.8 L448.1 1137.1 L448.6 1133 L449.1 1130.6 L449.6 1129.1 L450.1 1128.2 L450.7 1127.6 L451.2 1127.3 L451.7 1127.1 L452.2 1126.9 L452.7 1126.9 L453.2 1126.8 L453.7 1126.8 L454.2 1126.8 L454.7 1126.8 L455.2 1126.8 L455.7 1126.8 L456.3 1126.8 L456.8 1126.8 L457.3 1126.8 L538.2 1126.8 L539.2 1126.8 L539.7 1130.5 L540.2 1133.5 L540.7 1135.8 L541.3 1137.5 L541.8 1138.9 L542.3 1140 L542.8 1140.8 L543.3 1141.5 L543.8 1142 L544.3 1142.4 L544.8 1142.7 L545.3 1143 L545.8 1143.1 L546.3 1143.3 L546.9 1143.4 L547.4 1143.5 L547.9 1143.6 L548.4 1143.6 L548.9 1143.7 L549.4 1143.7 L549.9 1143.7 L550.4 1143.7 L550.9 1143.7 L551.4 1143.8 L551.9 1143.8 L552.5 1143.8 L553 1143.8 L553.5 1143.8 L554 1143.8 L676.7 1143.8" fill="none" stroke="#ea2318" stroke-width="2.4" stroke-dasharray="7 3"/>
<path d="M447.6 1143.8 L448.1 1140.8 L448.6 1139 L449.1 1137.9 L449.6 1137.3 L450.1 1136.9 L450.7 1136.6 L451.2 1136.5 L451.7 1136.4 L452.2 1136.3 L452.7 1136.3 L453.2 1136.3 L453.7 1136.3 L454.2 1136.3 L454.7 1136.3 L455.2 1136.3 L455.7 1136.3 L456.3 1136.3 L456.8 1136.3 L457.3 1136.3 L538.2 1136.2 L539.2 1136.2 L539.7 1137.9 L540.2 1139.2 L540.7 1140.2 L541.3 1141 L541.8 1141.6 L542.3 1142.1 L542.8 1142.5 L543.3 1142.8 L543.8 1143 L544.3 1143.2 L544.8 1143.3 L545.3 1143.4 L545.8 1143.5 L546.3 1143.6 L546.9 1143.6 L547.4 1143.7 L547.9 1143.7 L548.4 1143.7 L548.9 1143.7 L549.4 1143.7 L549.9 1143.8 L550.4 1143.8 L550.9 1143.8 L551.4 1143.8 L551.9 1143.8 L552.5 1143.8 L553 1143.8 L553.5 1143.8 L554 1143.8 L676.7 1143.8" fill="none" stroke="#ea2318" stroke-width="2.4" stroke-dasharray="7 3"/>
<path d="M447.6 1143.8 L448.1 1143.5 L448.6 1143.3 L449.1 1143.1 L449.6 1143.1 L450.1 1143 L450.7 1143 L451.2 1143 L451.7 1143 L452.2 1142.9 L452.7 1142.9 L453.2 1142.9 L453.7 1142.9 L454.2 1142.9 L454.7 1142.9 L455.2 1142.9 L455.7 1142.9 L456.3 1142.9 L456.8 1142.9 L457.3 1142.9 L538.2 1142.9 L539.2 1142.9 L539.7 1143.1 L540.2 1143.3 L540.7 1143.4 L541.3 1143.5 L541.8 1143.6 L542.3 1143.6 L542.8 1143.7 L543.3 1143.7 L543.8 1143.7 L544.3 1143.7 L544.8 1143.7 L545.3 1143.8 L545.8 1143.8 L546.3 1143.8 L546.9 1143.8 L547.4 1143.8 L547.9 1143.8 L548.4 1143.8 L548.9 1143.8 L549.4 1143.8 L549.9 1143.8 L550.4 1143.8 L550.9 1143.8 L551.4 1143.8 L551.9 1143.8 L552.5 1143.8 L553 1143.8 L553.5 1143.8 L554 1143.8 L676.7 1143.8" fill="none" stroke="#ea2318" stroke-width="2.4" stroke-dasharray="7 3"/>
<path d="M447.6 1144.1 L448.1 1079.5 L448.6 1038.2 L449.1 1012 L449.6 994.2 L450.1 983.3 L450.7 976.3 L451.7 967.7 L452.7 964 L454.2 961.9 L455.7 960.2 L457.8 958.3 L460.3 956.2 L462.9 955.4 L464.4 954.5 L465.9 954.1 L467.5 953.9 L469 953.5 L470.5 953 L472 952.8 L473.6 953.1 L475.1 953.5 L476.6 953.8 L478.1 953.7 L479.7 953.8 L481.2 954.3 L482.7 954.2 L484.2 953.9 L485.8 954.2 L487.3 953.6 L488.8 952.7 L490.4 952.6 L491.9 952.6 L493.4 951.9 L494.9 952.1 L496.5 951.4 L498 951.8 L499.5 952.4 L501 952.5 L502.6 952.9 L504.1 952.9 L505.6 953.6 L507.2 954 L508.7 954 L510.2 954.5 L511.7 954.5 L513.3 954.9 L514.8 954.3 L516.3 953.9 L517.8 953.4 L519.4 953.1 L520.9 953.4 L522.4 952.7 L524 952.6 L525.5 952.6 L527 953.1 L528.5 953.6 L530.1 953.8 L531.6 954.4 L533.1 954.2 L534.6 954.5 L536.2 955.6 L537.7 955.5 L538.7 956 L539.2 955.7 L539.7 1018.9 L540.2 1058.5 L540.7 1082.5 L541.3 1098 L541.8 1106.8 L542.3 1112.3 L542.8 1115.9 L543.3 1118 L544.3 1120.1 L545.3 1121.9 L546.9 1122.3 L548.4 1123 L549.9 1122.7 L551.4 1123.1 L553 1123.1 L554.5 1123.4 L556 1124.8 L557.5 1125.6 L559.1 1126 L560.6 1127.6 L562.1 1128.5 L563.7 1128.9 L565.2 1129.9 L566.7 1130.7 L568.2 1130.6 L569.8 1131.1 L571.3 1130.5 L572.8 1130.5 L574.3 1130.8 L575.9 1130.5 L577.4 1130.8 L578.9 1131.8 L580.4 1132 L582 1133 L583.5 1133.3 L585 1133.9 L586.6 1134.7 L588.1 1135 L589.6 1135.9 L591.1 1135.2 L592.7 1135.3 L594.2 1134.7 L595.7 1134.8 L597.2 1134.5 L598.8 1134.5 L600.3 1134.3 L601.8 1134.7 L603.4 1135.9 L604.9 1136 L606.4 1136.5 L607.9 1137 L609.5 1137.5 L611 1137.7 L612.5 1137.5 L614 1137.9 L615.6 1137.3 L617.1 1136.8 L618.6 1136.9 L620.2 1136.1 L621.7 1136.2 L623.2 1136.9 L624.7 1136.5 L626.3 1137.3 L627.8 1138.2 L629.3 1138.7 L630.8 1138.5 L632.4 1138.9 L633.9 1139.4 L635.4 1138.9 L636.9 1139.2 L638.5 1138.1 L640 1138.4 L641.5 1137.6 L643.1 1137.1 L644.6 1137.3 L646.1 1137.1 L647.6 1138 L649.2 1138 L650.7 1139.1 L652.2 1139.3 L653.7 1139.4 L655.3 1139.5 L656.8 1139.8 L658.3 1139.3 L659.9 1139.5 L661.4 1138.4 L662.9 1138.3 L664.4 1138 L666 1137.6 L667.5 1138 L669 1137.9 L670.5 1138.5 L672.1 1138.8 L673.6 1139.1 L675.1 1139.6 L676.7 1139.6" fill="none" stroke="#000" stroke-width="2.9" stroke-linejoin="round"/>
<path d="M447.6 1143 L448.1 1102.5 L448.6 1077.3 L449.1 1060.6 L449.6 1050.1 L450.1 1043 L450.7 1038.2 L451.7 1033.5 L452.7 1031.1 L454.2 1029.6 L455.7 1029.5 L457.8 1028.8 L460.3 1028.7 L462.9 1028.9 L464.4 1028.5 L465.9 1028.3 L467.5 1027.9 L469 1026.8 L470.5 1026.4 L472 1025.7 L473.6 1025.8 L475.1 1025.4 L476.6 1024.8 L478.1 1024.7 L479.7 1024.9 L481.2 1025 L482.7 1024.8 L484.2 1025.6 L485.8 1025.5 L487.3 1026.1 L488.8 1026 L490.4 1026.2 L491.9 1027 L493.4 1026.9 L494.9 1026.8 L496.5 1026 L498 1025.8 L499.5 1025.6 L501 1025.3 L502.6 1025.1 L504.1 1024.9 L505.6 1024.4 L507.2 1024.7 L508.7 1025 L510.2 1024.8 L511.7 1025.7 L513.3 1025.9 L514.8 1026.4 L516.3 1026.5 L517.8 1027 L519.4 1027.5 L520.9 1027.4 L522.4 1027.2 L524 1028 L525.5 1027.8 L527 1027.1 L528.5 1026.6 L530.1 1027.1 L531.6 1026.6 L533.1 1025.9 L534.6 1026 L536.2 1025.8 L537.7 1026.6 L538.7 1026.2 L539.2 1026.9 L539.7 1064.7 L540.2 1087.7 L540.7 1102.8 L541.3 1111.5 L541.8 1117.4 L542.3 1121.1 L542.8 1122.9 L543.3 1124.4 L544.3 1127.2 L545.3 1128.1 L546.9 1130.1 L548.4 1131.2 L549.9 1132.4 L551.4 1133.4 L553 1134 L554.5 1134.3 L556 1134.2 L557.5 1134.9 L559.1 1134.8 L560.6 1135 L562.1 1135.6 L563.7 1135.3 L565.2 1136.4 L566.7 1136.5 L568.2 1137.9 L569.8 1138.9 L571.3 1139.2 L572.8 1140.1 L574.3 1140.9 L575.9 1140.8 L577.4 1140.8 L578.9 1140.4 L580.4 1140.1 L582 1140.1 L583.5 1140.1 L585 1139.9 L586.6 1140.2 L588.1 1140.4 L589.6 1141.5 L591.1 1142.1 L592.7 1142.3 L594.2 1142.9 L595.7 1143.6 L597.2 1143.7 L598.8 1144.2 L600.3 1143.5 L601.8 1143.1 L603.4 1143.3 L604.9 1142.3 L606.4 1142.5 L607.9 1142.3 L609.5 1142.9 L611 1143 L612.5 1143.7 L614 1143.7 L615.6 1144.7 L617.1 1145 L618.6 1145.2 L620.2 1145.5 L621.7 1145.4 L623.2 1144.5 L624.7 1144.3 L626.3 1143.9 L627.8 1143.5 L629.3 1143.1 L630.8 1143.3 L632.4 1143.4 L633.9 1144.2 L635.4 1144.5 L636.9 1144.7 L638.5 1145.3 L640 1145.8 L641.5 1145.9 L643.1 1145.6 L644.6 1145.3 L646.1 1144.9 L647.6 1145.4 L649.2 1144.7 L650.7 1143.8 L652.2 1144.2 L653.7 1144.5 L655.3 1144.3 L656.8 1144.3 L658.3 1145.1 L659.9 1145.5 L661.4 1145.7 L662.9 1146.3 L664.4 1145.9 L666 1146.6 L667.5 1146.1 L669 1145.6 L670.5 1145.5 L672.1 1144.8 L673.6 1144.1 L675.1 1144 L676.7 1144" fill="none" stroke="#000" stroke-width="2.9" stroke-linejoin="round"/>
<path d="M447.6 1143.4 L448.1 1116.5 L448.6 1099.7 L449.1 1088.7 L449.6 1081.6 L450.1 1076.2 L450.7 1073.6 L451.7 1070.1 L452.7 1068.3 L454.2 1066.7 L455.7 1066 L457.8 1066.3 L460.3 1065.8 L462.9 1066 L464.4 1066.3 L465.9 1066.2 L467.5 1066.6 L469 1065.9 L470.5 1065.5 L472 1065.7 L473.6 1065.3 L475.1 1065.1 L476.6 1064.6 L478.1 1064.3 L479.7 1064 L481.2 1063.4 L482.7 1063.3 L484.2 1063 L485.8 1063.3 L487.3 1063.8 L488.8 1063.7 L490.4 1064.6 L491.9 1064.5 L493.4 1065.1 L494.9 1065.8 L496.5 1065.1 L498 1065.1 L499.5 1065.4 L501 1064.9 L502.6 1065.2 L504.1 1064.2 L505.6 1064.6 L507.2 1064.4 L508.7 1064.1 L510.2 1063.7 L511.7 1063.6 L513.3 1064 L514.8 1064.2 L516.3 1064.4 L517.8 1064.8 L519.4 1065.3 L520.9 1065.9 L522.4 1066.4 L524 1066.8 L525.5 1066.3 L527 1066.5 L528.5 1066.5 L530.1 1066.5 L531.6 1066.1 L533.1 1065.6 L534.6 1065.3 L536.2 1065.2 L537.7 1065.2 L538.7 1065.6 L539.2 1065.5 L539.7 1090.1 L540.2 1105.1 L540.7 1114.1 L541.3 1119.3 L541.8 1122.8 L542.3 1124.2 L542.8 1126 L543.3 1126.8 L544.3 1127.5 L545.3 1128.3 L546.9 1129.4 L548.4 1129.7 L549.9 1130.7 L551.4 1131.2 L553 1132 L554.5 1133.1 L556 1132.7 L557.5 1133 L559.1 1133.5 L560.6 1133.1 L562.1 1132.7 L563.7 1133.1 L565.2 1132.9 L566.7 1133.3 L568.2 1133.5 L569.8 1134.2 L571.3 1134.9 L572.8 1135.4 L574.3 1135.9 L575.9 1136.5 L577.4 1137.5 L578.9 1137.3 L580.4 1136.9 L582 1137.4 L583.5 1136.6 L585 1136.1 L586.6 1136.3 L588.1 1136 L589.6 1136.4 L591.1 1136.7 L592.7 1136.9 L594.2 1137.8 L595.7 1138 L597.2 1138.9 L598.8 1139.3 L600.3 1139.1 L601.8 1139.3 L603.4 1138.8 L604.9 1138.8 L606.4 1138.9 L607.9 1138.2 L609.5 1138.1 L611 1138.1 L612.5 1137.6 L614 1138.7 L615.6 1138.9 L617.1 1138.9 L618.6 1140.1 L620.2 1140.1 L621.7 1140.2 L623.2 1140.9 L624.7 1140.5 L626.3 1140.4 L627.8 1139.4 L629.3 1139.5 L630.8 1138.5 L632.4 1138.5 L633.9 1138.5 L635.4 1138.4 L636.9 1139.2 L638.5 1139.3 L640 1139.9 L641.5 1140.7 L643.1 1140.8 L644.6 1141.4 L646.1 1141.1 L647.6 1141.1 L649.2 1140.5 L650.7 1140.4 L652.2 1139.9 L653.7 1138.9 L655.3 1139.3 L656.8 1138.9 L658.3 1139.5 L659.9 1139.8 L661.4 1140.3 L662.9 1140.2 L664.4 1140.8 L666 1141.4 L667.5 1141.7 L669 1141.4 L670.5 1140.5 L672.1 1140.6 L673.6 1139.7 L675.1 1139.7 L676.7 1139.6" fill="none" stroke="#000" stroke-width="2.9" stroke-linejoin="round"/>
<path d="M447.6 1142.9 L448.1 1126.4 L448.6 1116 L449.1 1109.5 L449.6 1104.8 L450.1 1101.5 L450.7 1099.5 L451.7 1097.5 L452.7 1097.1 L454.2 1096 L455.7 1096.1 L457.8 1095.9 L460.3 1096.5 L462.9 1096.4 L464.4 1096.2 L465.9 1096.8 L467.5 1096.3 L469 1096.2 L470.5 1095.9 L472 1095.6 L473.6 1094.4 L475.1 1094.2 L476.6 1093.7 L478.1 1093.8 L479.7 1093.9 L481.2 1093.8 L482.7 1093.2 L484.2 1093.6 L485.8 1094.4 L487.3 1094.6 L488.8 1094.7 L490.4 1095.1 L491.9 1095.1 L493.4 1095.9 L494.9 1095.6 L496.5 1096 L498 1095.6 L499.5 1094.9 L501 1094.8 L502.6 1094.4 L504.1 1094.7 L505.6 1094.2 L507.2 1093.5 L508.7 1093.6 L510.2 1093.8 L511.7 1094.1 L513.3 1094.5 L514.8 1094.7 L516.3 1095.1 L517.8 1095.2 L519.4 1096.1 L520.9 1096.3 L522.4 1096.2 L524 1096.7 L525.5 1097.2 L527 1096.2 L528.5 1096.1 L530.1 1096.3 L531.6 1095.7 L533.1 1095.4 L534.6 1095.4 L536.2 1095.1 L537.7 1095.3 L538.7 1095.3 L539.2 1095.8 L539.7 1108.7 L540.2 1115.9 L540.7 1121.4 L541.3 1124.6 L541.8 1126.7 L542.3 1127.8 L542.8 1128.5 L543.3 1129.1 L544.3 1129.7 L545.3 1130.3 L546.9 1131.7 L548.4 1132.6 L549.9 1133.6 L551.4 1134.1 L553 1134.3 L554.5 1135.1 L556 1135.2 L557.5 1135 L559.1 1135 L560.6 1134.6 L562.1 1134.7 L563.7 1134.7 L565.2 1134.6 L566.7 1135.3 L568.2 1135.9 L569.8 1137.1 L571.3 1137.4 L572.8 1137.9 L574.3 1138.4 L575.9 1138.7 L577.4 1138.9 L578.9 1138.6 L580.4 1138.3 L582 1138.8 L583.5 1138.1 L585 1138 L586.6 1138 L588.1 1138 L589.6 1138.2 L591.1 1138.6 L592.7 1139.4 L594.2 1140 L595.7 1140.8 L597.2 1141 L598.8 1141.5 L600.3 1140.9 L601.8 1141.2 L603.4 1140.6 L604.9 1139.8 L606.4 1139.5 L607.9 1139.7 L609.5 1140 L611 1139.6 L612.5 1140.3 L614 1140.4 L615.6 1141.4 L617.1 1141.1 L618.6 1141.9 L620.2 1142.5 L621.7 1142 L623.2 1141.8 L624.7 1141.3 L626.3 1141 L627.8 1140.6 L629.3 1140.7 L630.8 1140.1 L632.4 1140.2 L633.9 1140.2 L635.4 1140.9 L636.9 1141.6 L638.5 1141.9 L640 1142 L641.5 1142.8 L643.1 1143.1 L644.6 1142.7 L646.1 1142 L647.6 1142.3 L649.2 1141.9 L650.7 1141 L652.2 1140.5 L653.7 1140.4 L655.3 1140.7 L656.8 1141.3 L658.3 1141.4 L659.9 1142.2 L661.4 1142 L662.9 1142.5 L664.4 1143.1 L666 1143.1 L667.5 1142.7 L669 1142.6 L670.5 1141.9 L672.1 1141.2 L673.6 1141.1 L675.1 1140.5 L676.7 1140.9" fill="none" stroke="#000" stroke-width="2.9" stroke-linejoin="round"/>
<path d="M447.6 1142.6 L448.1 1132.6 L448.6 1125.8 L449.1 1122.5 L449.6 1119.5 L450.1 1118.2 L450.7 1116.3 L451.7 1115.7 L452.7 1115.4 L454.2 1114.9 L455.7 1114.7 L457.8 1114.8 L460.3 1114.6 L462.9 1114.7 L464.4 1113.8 L465.9 1114 L467.5 1113.2 L469 1112.8 L470.5 1112.5 L472 1112.2 L473.6 1112.1 L475.1 1111.9 L476.6 1111.8 L478.1 1112.3 L479.7 1112.2 L481.2 1112.9 L482.7 1113.3 L484.2 1113.6 L485.8 1113.4 L487.3 1114 L488.8 1114.2 L490.4 1113.7 L491.9 1113.4 L493.4 1113.3 L494.9 1113.4 L496.5 1112.3 L498 1111.9 L499.5 1112.1 L501 1112 L502.6 1112.1 L504.1 1111.8 L505.6 1112.5 L507.2 1112.1 L508.7 1113 L510.2 1112.8 L511.7 1113.1 L513.3 1113.6 L514.8 1113.9 L516.3 1114.5 L517.8 1114.7 L519.4 1114.3 L520.9 1114.9 L522.4 1114.2 L524 1113.7 L525.5 1113.4 L527 1113.7 L528.5 1113.6 L530.1 1112.8 L531.6 1112.7 L533.1 1113.5 L534.6 1113.2 L536.2 1114.2 L537.7 1114.2 L538.7 1114.6 L539.2 1114.5 L539.7 1121.2 L540.2 1125.8 L540.7 1128.8 L541.3 1131.3 L541.8 1131.9 L542.3 1133.4 L542.8 1133.4 L543.3 1134.5 L544.3 1135 L545.3 1136 L546.9 1136 L548.4 1137 L549.9 1137.1 L551.4 1137.6 L553 1137.5 L554.5 1137.1 L556 1136.5 L557.5 1136.4 L559.1 1136.5 L560.6 1136.8 L562.1 1137.1 L563.7 1137.6 L565.2 1138.7 L566.7 1139.3 L568.2 1139.6 L569.8 1140.6 L571.3 1140.2 L572.8 1140.6 L574.3 1140.1 L575.9 1140.5 L577.4 1140.2 L578.9 1139.3 L580.4 1139.6 L582 1139.6 L583.5 1139.3 L585 1139.6 L586.6 1140.3 L588.1 1141.2 L589.6 1141.1 L591.1 1142 L592.7 1142.2 L594.2 1142.2 L595.7 1142.2 L597.2 1142.3 L598.8 1141.3 L600.3 1141.5 L601.8 1140.7 L603.4 1140.9 L604.9 1140.9 L606.4 1140.5 L607.9 1141.4 L609.5 1142 L611 1141.9 L612.5 1142.1 L614 1142.6 L615.6 1143.5 L617.1 1142.7 L618.6 1143.3 L620.2 1142.3 L621.7 1142.4 L623.2 1141.4 L624.7 1141.1 L626.3 1141.4 L627.8 1140.8 L629.3 1141.3 L630.8 1142.1 L632.4 1142.4 L633.9 1143.1 L635.4 1143.6 L636.9 1143 L638.5 1143.3 L640 1143.7 L641.5 1143.4 L643.1 1142.4 L644.6 1142.3 L646.1 1141.7 L647.6 1141.6 L649.2 1141.1 L650.7 1141.1 L652.2 1142.2 L653.7 1142 L655.3 1143 L656.8 1142.8 L658.3 1143.5 L659.9 1143.4 L661.4 1143.7 L662.9 1143.3 L664.4 1143.4 L666 1142.5 L667.5 1142.6 L669 1142 L670.5 1141.3 L672.1 1141.5 L673.6 1141.7 L675.1 1142.4 L676.7 1142.3" fill="none" stroke="#000" stroke-width="2.9" stroke-linejoin="round"/>
<path d="M447.6 1143 L448.1 1136.6 L448.6 1132.7 L449.1 1130.3 L449.6 1128.5 L450.1 1127.5 L450.7 1127.3 L451.7 1126.5 L452.7 1126.4 L454.2 1126.2 L455.7 1126 L457.8 1126.9 L460.3 1127.2 L462.9 1127.1 L464.4 1127 L465.9 1126.9 L467.5 1126.8 L469 1126.3 L470.5 1125.7 L472 1125 L473.6 1124.6 L475.1 1124.4 L476.6 1124.7 L478.1 1124.1 L479.7 1124.2 L481.2 1124.4 L482.7 1124.4 L484.2 1125.5 L485.8 1125 L487.3 1125.8 L488.8 1126.4 L490.4 1126 L491.9 1126.4 L493.4 1126.2 L494.9 1125.9 L496.5 1125.6 L498 1125.2 L499.5 1125.6 L501 1125.2 L502.6 1125.1 L504.1 1124.1 L505.6 1124.6 L507.2 1124.3 L508.7 1124.8 L510.2 1125 L511.7 1125.1 L513.3 1126.1 L514.8 1125.7 L516.3 1126.8 L517.8 1127.2 L519.4 1127.1 L520.9 1127.3 L522.4 1127.7 L524 1126.9 L525.5 1127.1 L527 1126.9 L528.5 1126.3 L530.1 1126.4 L531.6 1125.8 L533.1 1125.8 L534.6 1125.9 L536.2 1126 L537.7 1125.9 L538.7 1126.4 L539.2 1126.4 L539.7 1127.1 L540.2 1128.7 L540.7 1129.2 L541.3 1130.3 L541.8 1130.3 L542.3 1130.8 L542.8 1130.9 L543.3 1131.1 L544.3 1131.3 L545.3 1131.7 L546.9 1133.1 L548.4 1133.3 L549.9 1133.8 L551.4 1134.2 L553 1134.5 L554.5 1134 L556 1133.8 L557.5 1134.1 L559.1 1133.6 L560.6 1133.7 L562.1 1133.9 L563.7 1134.2 L565.2 1134.6 L566.7 1134.5 L568.2 1135.5 L569.8 1136.5 L571.3 1137.1 L572.8 1136.8 L574.3 1137.1 L575.9 1137.2 L577.4 1136.9 L578.9 1136.8 L580.4 1136.9 L582 1136.4 L583.5 1136.2 L585 1135.9 L586.6 1136.4 L588.1 1137.3 L589.6 1137.6 L591.1 1138 L592.7 1138.5 L594.2 1139.2 L595.7 1139.5 L597.2 1139 L598.8 1139.3 L600.3 1138.7 L601.8 1138.5 L603.4 1137.8 L604.9 1137.7 L606.4 1137.5 L607.9 1137.6 L609.5 1137.5 L611 1138 L612.5 1138.9 L614 1138.9 L615.6 1139.5 L617.1 1140.3 L618.6 1140 L620.2 1140 L621.7 1139.7 L623.2 1139.8 L624.7 1138.7 L626.3 1138.8 L627.8 1138.8 L629.3 1138 L630.8 1138.3 L632.4 1138.9 L633.9 1139.1 L635.4 1139.4 L636.9 1139.6 L638.5 1140.3 L640 1140.5 L641.5 1140.9 L643.1 1140.3 L644.6 1140.1 L646.1 1139.9 L647.6 1139.6 L649.2 1138.8 L650.7 1138.6 L652.2 1138.7 L653.7 1139.1 L655.3 1138.8 L656.8 1139.9 L658.3 1140.1 L659.9 1140.3 L661.4 1140.9 L662.9 1140.7 L664.4 1140.5 L666 1140.9 L667.5 1140.2 L669 1139.9 L670.5 1139.4 L672.1 1139.4 L673.6 1139 L675.1 1138.4 L676.7 1139.1" fill="none" stroke="#000" stroke-width="2.9" stroke-linejoin="round"/>
<path d="M447.6 1143.3 L448.1 1140.9 L448.6 1139.7 L449.1 1138.3 L449.6 1137.7 L450.1 1137.4 L450.7 1137.4 L451.7 1137.2 L452.7 1137.2 L454.2 1136.9 L455.7 1136.6 L457.8 1137 L460.3 1136.4 L462.9 1135.9 L464.4 1135.5 L465.9 1134.5 L467.5 1134.2 L469 1133.8 L470.5 1134.3 L472 1133.7 L473.6 1133.8 L475.1 1134.6 L476.6 1134.7 L478.1 1134.5 L479.7 1135.4 L481.2 1135.8 L482.7 1135.8 L484.2 1135.5 L485.8 1136.1 L487.3 1135.7 L488.8 1135.7 L490.4 1135.8 L491.9 1135.3 L493.4 1135 L494.9 1134 L496.5 1133.9 L498 1133.9 L499.5 1133.4 L501 1134.4 L502.6 1134 L504.1 1134.3 L505.6 1134.7 L507.2 1135 L508.7 1136 L510.2 1136.1 L511.7 1136.3 L513.3 1136.4 L514.8 1136.2 L516.3 1136.4 L517.8 1136.7 L519.4 1136.4 L520.9 1136.2 L522.4 1135.4 L524 1135.1 L525.5 1134.7 L527 1135.1 L528.5 1135 L530.1 1135.2 L531.6 1135.5 L533.1 1135.9 L534.6 1136.1 L536.2 1137 L537.7 1136.9 L538.7 1137.8 L539.2 1137.5 L539.7 1135.2 L540.2 1135.5 L540.7 1135.8 L541.3 1135.8 L541.8 1136.1 L542.3 1136 L542.8 1136.1 L543.3 1136.7 L544.3 1136.4 L545.3 1137 L546.9 1137.1 L548.4 1136.8 L549.9 1136.5 L551.4 1136.6 L553 1135.8 L554.5 1135.9 L556 1135 L557.5 1135.4 L559.1 1135.9 L560.6 1135.8 L562.1 1137.1 L563.7 1137 L565.2 1138 L566.7 1138.1 L568.2 1139 L569.8 1138.7 L571.3 1138.8 L572.8 1138.3 L574.3 1138.1 L575.9 1137.8 L577.4 1137.2 L578.9 1137 L580.4 1137.7 L582 1137.3 L583.5 1138.5 L585 1138.4 L586.6 1138.8 L588.1 1139.3 L589.6 1140.2 L591.1 1140.5 L592.7 1140 L594.2 1139.9 L595.7 1139.2 L597.2 1139.4 L598.8 1138.8 L600.3 1138.1 L601.8 1137.9 L603.4 1138.6 L604.9 1138.3 L606.4 1139.5 L607.9 1139.5 L609.5 1139.9 L611 1140.6 L612.5 1140.6 L614 1140.9 L615.6 1140.4 L617.1 1140.7 L618.6 1139.8 L620.2 1139.8 L621.7 1138.8 L623.2 1139.2 L624.7 1139.3 L626.3 1138.9 L627.8 1138.9 L629.3 1139.7 L630.8 1140.4 L632.4 1140.5 L633.9 1141.1 L635.4 1140.8 L636.9 1141.1 L638.5 1141.1 L640 1140.5 L641.5 1140.3 L643.1 1139.3 L644.6 1139.6 L646.1 1138.8 L647.6 1139.5 L649.2 1139.8 L650.7 1140.1 L652.2 1140.2 L653.7 1140.5 L655.3 1140.9 L656.8 1141.5 L658.3 1141.4 L659.9 1141.6 L661.4 1140.6 L662.9 1140.5 L664.4 1140.4 L666 1139.8 L667.5 1139.4 L669 1138.9 L670.5 1139 L672.1 1139.4 L673.6 1140.3 L675.1 1140.8 L676.7 1140.6" fill="none" stroke="#000" stroke-width="2.9" stroke-linejoin="round"/>
<path d="M447.6 1145 L448.1 1144 L448.6 1144.2 L449.1 1143.7 L449.6 1142.9 L450.1 1143 L450.7 1142.9 L451.7 1142.4 L452.7 1142.5 L454.2 1141.6 L455.7 1141.8 L457.8 1141.2 L460.3 1140.9 L462.9 1141.7 L464.4 1141.5 L465.9 1142.2 L467.5 1142.7 L469 1142.8 L470.5 1142.9 L472 1142.5 L473.6 1142.9 L475.1 1142.3 L476.6 1142.6 L478.1 1141.7 L479.7 1141.8 L481.2 1141.2 L482.7 1140.9 L484.2 1140.9 L485.8 1140.3 L487.3 1140.2 L488.8 1141 L490.4 1140.7 L491.9 1141.4 L493.4 1141.8 L494.9 1141.8 L496.5 1141.9 L498 1142.2 L499.5 1143.1 L501 1142.5 L502.6 1142.9 L504.1 1142.8 L505.6 1142.2 L507.2 1142.3 L508.7 1141.7 L510.2 1141.7 L511.7 1141.5 L513.3 1141.2 L514.8 1140.9 L516.3 1141.2 L517.8 1141.2 L519.4 1141.4 L520.9 1141.9 L522.4 1142.9 L524 1143 L525.5 1143.7 L527 1143.3 L528.5 1144.4 L530.1 1144.1 L531.6 1144.4 L533.1 1144.1 L534.6 1144.1 L536.2 1143.4 L537.7 1143.6 L538.7 1142.8 L539.2 1142.9 L539.7 1141.6 L540.2 1140.9 L540.7 1140.4 L541.3 1139.7 L541.8 1139.9 L542.3 1139 L542.8 1139.2 L543.3 1138.8 L544.3 1138.9 L545.3 1138.9 L546.9 1138.8 L548.4 1138.3 L549.9 1138.8 L551.4 1139.6 L553 1140.5 L554.5 1140.2 L556 1141.2 L557.5 1141.6 L559.1 1141.9 L560.6 1141.4 L562.1 1141.6 L563.7 1141 L565.2 1141 L566.7 1139.9 L568.2 1140.5 L569.8 1140 L571.3 1140.1 L572.8 1140.2 L574.3 1140.8 L575.9 1141.8 L577.4 1142.3 L578.9 1142.2 L580.4 1142.6 L582 1142.4 L583.5 1142.3 L585 1142 L586.6 1141.7 L588.1 1141.9 L589.6 1141.6 L591.1 1141.2 L592.7 1140.9 L594.2 1141.1 L595.7 1141.7 L597.2 1142.3 L598.8 1142.7 L600.3 1143 L601.8 1142.9 L603.4 1143.5 L604.9 1143.6 L606.4 1143.3 L607.9 1142.3 L609.5 1142.4 L611 1141.7 L612.5 1141.2 L614 1141.8 L615.6 1141.5 L617.1 1141.8 L618.6 1141.7 L620.2 1142.8 L621.7 1143.3 L623.2 1143.7 L624.7 1143.8 L626.3 1143.9 L627.8 1143.8 L629.3 1143.3 L630.8 1142.7 L632.4 1142.6 L633.9 1142.2 L635.4 1142 L636.9 1141.4 L638.5 1142.1 L640 1142 L641.5 1142.7 L643.1 1142.5 L644.6 1143.7 L646.1 1143.9 L647.6 1143.6 L649.2 1144.1 L650.7 1143.3 L652.2 1142.9 L653.7 1142.7 L655.3 1142 L656.8 1141.9 L658.3 1142.1 L659.9 1141.8 L661.4 1142 L662.9 1142 L664.4 1142.8 L666 1143.3 L667.5 1143.6 L669 1144.2 L670.5 1144.2 L672.1 1143.7 L673.6 1143.1 L675.1 1143.2 L676.7 1142.9" fill="none" stroke="#000" stroke-width="2.9" stroke-linejoin="round"/>
<path d="M540.7 1117.5 L541.8 1123.3 L542.8 1127.9 L543.8 1131.4 L544.8 1134.1 L545.8 1136.3 L546.9 1137.9 L547.9 1139.2 L548.9 1140.2 L549.9 1141 L550.9 1141.6 L551.9 1142.1 L553 1142.5 L554 1142.8 L555 1143 L556 1143.2 L557 1143.3 L558.1 1143.4 L559.1 1143.5 L560.1 1143.6 L561.1 1143.6 L562.1 1143.7 L563.1 1143.7 L564.2 1143.7 L565.2 1143.7 L566.2 1143.7 L567.2 1143.8 L568.2 1143.8 L569.3 1143.8 L570.3 1143.8" fill="none" stroke="#ea2318" stroke-width="3.5"/>
<path d="M557 1143.4H676.7" fill="none" stroke="#ea2318" stroke-width="2" stroke-dasharray="7 4"/>
<line x1="539.5" y1="1130.7" x2="539.5" y2="1153.7" stroke="#000" stroke-width="2.4"/>
<path d="M447.6 923.5V1170.7M447.6 1154.7H677.2M432.2 1143.8H447.6M432.2 1034.3H447.6M432.2 924.8H447.6M549.4 1154.7V1170.7M651.2 1154.7V1170.7" stroke="#000" stroke-width="2.5" fill="none"/>
<text x="423.4" y="1153.8" font-size="32" text-anchor="end">0</text>
<text x="423.4" y="1044.3" font-size="32" text-anchor="end">5</text>
<text x="423.4" y="934.8" font-size="32" text-anchor="end">10</text>
<text x="447.6" y="1206.3" font-size="32" text-anchor="middle">0</text>
<text x="549.4" y="1206.3" font-size="32" text-anchor="middle">200</text>
<text x="651.2" y="1206.3" font-size="32" text-anchor="middle">400</text>
<text x="562" y="1247.2" font-size="31" text-anchor="middle">Time (s)</text></g>
<g id="pd"><text x="1058.5" y="38.8" font-size="47">d</text>
<circle cx="1206" cy="23" r="6.2" fill="#f08529"/>
<text x="1227" y="33.3" font-size="32">Hb</text>
<circle cx="1308" cy="23" r="6.2" fill="#2f9247"/>
<text x="1326" y="33.3" font-size="32">Hp(1-1)</text>
<path d="M1176.8 60V366M1176.8 350.8H1465M1160.5 337.6H1176.8M1160.5 199.4H1176.8M1160.5 61.2H1176.8M1234.2 350.8V366M1291.6 350.8V366M1349 350.8V366M1406.4 350.8V366M1463.8 350.8V366" stroke="#000" stroke-width="2.5" fill="none"/>
<text x="1151" y="348.4" font-size="30.5" text-anchor="end">0</text>
<text x="1151" y="210.2" font-size="30.5" text-anchor="end">20</text>
<text x="1151" y="72" font-size="30.5" text-anchor="end">40</text>
<text x="1176.5" y="405" font-size="33" text-anchor="middle">10<tspan dy="-11" font-size="20.5">0</tspan></text>
<text x="1233.9" y="405" font-size="33" text-anchor="middle">10<tspan dy="-11" font-size="20.5">1</tspan></text>
<text x="1291.3" y="405" font-size="33" text-anchor="middle">10<tspan dy="-11" font-size="20.5">2</tspan></text>
<text x="1348.7" y="405" font-size="33" text-anchor="middle">10<tspan dy="-11" font-size="20.5">3</tspan></text>
<text x="1406.1" y="405" font-size="33" text-anchor="middle">10<tspan dy="-11" font-size="20.5">4</tspan></text>
<text x="1463.5" y="405" font-size="33" text-anchor="middle">10<tspan dy="-11" font-size="20.5">5</tspan></text>
<text x="1321" y="446" font-size="30.7" text-anchor="middle">Concentration (nM)</text>
<text x="1092.5" y="212" font-size="31" text-anchor="middle" transform="rotate(-90 1092.5 212)">ΔFnorm (1/1000)</text>
<circle cx="1203.2" cy="337" r="6.1" fill="#2f9247"/>
<circle cx="1220.5" cy="340.8" r="6.1" fill="#2f9247"/>
<path d="M1238.8 333V345.5M1232 333H1245.5M1232 345.5H1245.5" stroke="#2f9247" stroke-width="2.8" fill="none"/>
<circle cx="1238.8" cy="340" r="6.1" fill="#2f9247"/>
<circle cx="1255" cy="338.8" r="6.1" fill="#2f9247"/>
<circle cx="1271.2" cy="339.2" r="6.1" fill="#2f9247"/>
<circle cx="1289.5" cy="333.8" r="6.1" fill="#2f9247"/>
<circle cx="1307.5" cy="338.8" r="6.1" fill="#2f9247"/>
<path d="M1325 330V343.8M1318.2 330H1331.8M1318.2 343.8H1331.8" stroke="#2f9247" stroke-width="2.8" fill="none"/>
<circle cx="1325" cy="337" r="6.1" fill="#2f9247"/>
<circle cx="1342" cy="336.2" r="6.1" fill="#2f9247"/>
<circle cx="1359.2" cy="337.5" r="6.1" fill="#2f9247"/>
<circle cx="1376.8" cy="337.5" r="6.1" fill="#2f9247"/>
<circle cx="1393.8" cy="337" r="6.1" fill="#2f9247"/>
<circle cx="1411.2" cy="333.8" r="6.1" fill="#2f9247"/>
<circle cx="1428.8" cy="335" r="6.1" fill="#2f9247"/>
<circle cx="1446.2" cy="334.5" r="6.1" fill="#2f9247"/>
<path d="M1463.8 326.2V338M1457 326.2H1470.5M1457 338H1470.5" stroke="#2f9247" stroke-width="2.8" fill="none"/>
<circle cx="1463.8" cy="332" r="6.1" fill="#2f9247"/>
<path d="M1191.2 351.8C1194.7 350.6 1204.9 347.5 1212 345C1219.1 342.5 1227.4 339.4 1233.8 336.5C1240.1 333.6 1244.8 330.7 1250 327.5C1255.2 324.3 1258.3 322.5 1265 317.5C1271.7 312.5 1281.7 305.1 1290 297.5C1298.3 289.9 1307.1 281.1 1315 272C1322.9 262.9 1330.8 251.7 1337.5 243C1344.2 234.3 1349.7 227.6 1355.5 220C1361.3 212.4 1366.8 205 1372.5 197.5C1378.2 190 1384.2 182.5 1390 175C1395.8 167.5 1401.2 160 1407 152.5C1412.8 145 1419.2 137.1 1425 130C1430.8 122.9 1439 113.3 1441.8 110" fill="none" stroke="#f08529" stroke-width="3"/>
<path d="M1182.5 306.2V334.5M1175.8 306.2H1189.2M1175.8 334.5H1189.2" stroke="#f08529" stroke-width="2.8" fill="none"/>
<circle cx="1182.5" cy="320" r="6.2" fill="#f08529"/>
<circle cx="1233.8" cy="341.8" r="6.2" fill="#f08529"/>
<circle cx="1252" cy="310.5" r="6.2" fill="#f08529"/>
<path d="M1268.8 327.5V352M1262 327.5H1275.5M1262 352H1275.5" stroke="#f08529" stroke-width="2.8" fill="none"/>
<circle cx="1268.8" cy="339.5" r="6.2" fill="#f08529"/>
<path d="M1286.2 290V308.8M1279.5 290H1293M1279.5 308.8H1293" stroke="#f08529" stroke-width="2.8" fill="none"/>
<circle cx="1286.2" cy="298.8" r="6.2" fill="#f08529"/>
<path d="M1303.8 267V291.2M1297 267H1310.5M1297 291.2H1310.5" stroke="#f08529" stroke-width="2.8" fill="none"/>
<circle cx="1303.8" cy="278.8" r="6.2" fill="#f08529"/>
<path d="M1321.2 260V282M1314.5 260H1328M1314.5 282H1328" stroke="#f08529" stroke-width="2.8" fill="none"/>
<circle cx="1321.2" cy="270.8" r="6.2" fill="#f08529"/>
<path d="M1337.5 229V252M1330.8 229H1344.2M1330.8 252H1344.2" stroke="#f08529" stroke-width="2.8" fill="none"/>
<circle cx="1337.5" cy="240.5" r="6.2" fill="#f08529"/>
<path d="M1355.5 198V240M1348.8 198H1362.2M1348.8 240H1362.2" stroke="#f08529" stroke-width="2.8" fill="none"/>
<circle cx="1355.5" cy="218.2" r="6.2" fill="#f08529"/>
<path d="M1372.5 158.2V217M1365.8 158.2H1379.2M1365.8 217H1379.2" stroke="#f08529" stroke-width="2.8" fill="none"/>
<circle cx="1372.5" cy="188" r="6.2" fill="#f08529"/>
<path d="M1390 152.5V205M1383.2 152.5H1396.8M1383.2 205H1396.8" stroke="#f08529" stroke-width="2.8" fill="none"/>
<circle cx="1390" cy="178.8" r="6.2" fill="#f08529"/>
<path d="M1407 129.2V188M1400.2 129.2H1413.8M1400.2 188H1413.8" stroke="#f08529" stroke-width="2.8" fill="none"/>
<circle cx="1407" cy="158.8" r="6.2" fill="#f08529"/>
<path d="M1425 96.2V161.2M1418.2 96.2H1431.8M1418.2 161.2H1431.8" stroke="#f08529" stroke-width="2.8" fill="none"/>
<circle cx="1425" cy="129.2" r="6.2" fill="#f08529"/>
<path d="M1442.5 68V137M1435.8 68H1449.2M1435.8 137H1449.2" stroke="#f08529" stroke-width="2.8" fill="none"/>
<circle cx="1442.5" cy="102.5" r="6.2" fill="#f08529"/></g>
<g id="pe"><text x="1514" y="38.8" font-size="47">e</text>
<text x="1592.3" y="31.7" font-size="31.7" style="fill:#1414f5;stroke:#1414f5">Hp(1-1)Hb</text>
<text x="1751.6" y="31.7" font-size="31.7" style="fill:#2e8a1f;stroke:#2e8a1f">Hp(1-1)</text>
<text x="1869.6" y="31.7" font-size="31.7" style="fill:#fb6bf6;stroke:#fb6bf6">HpSPHb</text>
<text x="1727" y="69.3" font-size="31.7" style="fill:#ee8a2d;stroke:#ee8a2d">Hb</text>
<text x="1774.4" y="69.3" font-size="31.7" style="fill:#f5190d;stroke:#f5190d">Hp(2-2)Hb</text>
<text x="1931.4" y="69.3" font-size="31.7" style="fill:#6f6f6f;stroke:#6f6f6f">BSA</text>
<path d="M1670.8 66.5V368M1670.8 352.3H1959.6M1654.5 88.6H1670.8M1654.5 291.6H1670.8M1742.3 352.3V368M1814.4 352.3V368M1886.4 352.3V368M1958.4 352.3V368" stroke="#000" stroke-width="2.5" fill="none"/>
<text x="1644.5" y="99.4" font-size="31" text-anchor="end">100</text>
<text x="1643.5" y="302.3" font-size="31" text-anchor="end">10</text>
<text x="1670.3" y="404" font-size="33" text-anchor="middle">0</text>
<text x="1742.3" y="404" font-size="33" text-anchor="middle">1</text>
<text x="1814.4" y="404" font-size="33" text-anchor="middle">2</text>
<text x="1886.4" y="404" font-size="33" text-anchor="middle">3</text>
<text x="1958.4" y="404" font-size="33" text-anchor="middle">4</text>
<text x="1815" y="448.2" font-size="30.9" text-anchor="middle">Competitor conc (<tspan font-family="Liberation Serif, serif" font-weight="normal">μ</tspan>M)</text>
<text x="1574.6" y="214" font-size="31" text-anchor="middle" transform="rotate(-90 1574.6 214)">Fluorescence (%)</text>
<path d="M1670.3 80V98M1663.5 80H1677M1663.5 98H1677" stroke="#6f6f6f" stroke-width="2.8" fill="none"/><path d="M1706.3 107V148.8M1699.6 107H1713.1M1699.6 148.8H1713.1" stroke="#6f6f6f" stroke-width="2.8" fill="none"/><path d="M1742.3 122.3V153.3M1735.6 122.3H1749.1M1735.6 153.3H1749.1" stroke="#6f6f6f" stroke-width="2.8" fill="none"/><path d="M1814.4 130.5V159.9M1807.6 130.5H1821.1M1807.6 159.9H1821.1" stroke="#6f6f6f" stroke-width="2.8" fill="none"/><path d="M1958.4 141.1V173.3M1951.7 141.1H1965.2M1951.7 173.3H1965.2" stroke="#6f6f6f" stroke-width="2.8" fill="none"/><polyline points="1670.3,88.6 1679.3,97.6 1688.3,110.5 1706.3,127 1742.3,136.4 1814.4,142.7 1958.4,155.7" fill="none" stroke="#6f6f6f" stroke-width="3.2" stroke-linejoin="round"/><circle cx="1670.3" cy="88.6" r="6.2" fill="#6f6f6f"/><circle cx="1679.3" cy="97.6" r="6.2" fill="#6f6f6f"/><circle cx="1688.3" cy="110.5" r="6.2" fill="#6f6f6f"/><circle cx="1706.3" cy="127" r="6.2" fill="#6f6f6f"/><circle cx="1742.3" cy="136.4" r="6.2" fill="#6f6f6f"/><circle cx="1814.4" cy="142.7" r="6.2" fill="#6f6f6f"/><circle cx="1958.4" cy="155.7" r="6.2" fill="#6f6f6f"/>
<path d="M1670.3 81V97M1663.5 81H1677M1663.5 97H1677" stroke="#fb6bf6" stroke-width="2.8" fill="none"/><path d="M1679.3 100V121.6M1672.6 100H1686.1M1672.6 121.6H1686.1" stroke="#fb6bf6" stroke-width="2.8" fill="none"/><path d="M1688.3 116.4V143.4M1681.6 116.4H1695.1M1681.6 143.4H1695.1" stroke="#fb6bf6" stroke-width="2.8" fill="none"/><path d="M1706.3 130.5V157.5M1699.6 130.5H1713.1M1699.6 157.5H1713.1" stroke="#fb6bf6" stroke-width="2.8" fill="none"/><path d="M1742.3 148.1V176.8M1735.6 148.1H1749.1M1735.6 176.8H1749.1" stroke="#fb6bf6" stroke-width="2.8" fill="none"/><path d="M1814.4 177V201.5M1807.6 177H1821.1M1807.6 201.5H1821.1" stroke="#fb6bf6" stroke-width="2.8" fill="none"/><path d="M1958.4 208.5V237.4M1951.7 208.5H1965.2M1951.7 237.4H1965.2" stroke="#fb6bf6" stroke-width="2.8" fill="none"/><polyline points="1670.3,88.6 1679.3,110.5 1688.3,128.2 1706.3,142.3 1742.3,161.5 1814.4,188.6 1958.4,221.7" fill="none" stroke="#fb6bf6" stroke-width="3.2" stroke-linejoin="round"/><circle cx="1670.3" cy="88.6" r="6.2" fill="#fb6bf6"/><circle cx="1679.3" cy="110.5" r="6.2" fill="#fb6bf6"/><circle cx="1688.3" cy="128.2" r="6.2" fill="#fb6bf6"/><circle cx="1706.3" cy="142.3" r="6.2" fill="#fb6bf6"/><circle cx="1742.3" cy="161.5" r="6.2" fill="#fb6bf6"/><circle cx="1814.4" cy="188.6" r="6.2" fill="#fb6bf6"/><circle cx="1958.4" cy="221.7" r="6.2" fill="#fb6bf6"/>
<path d="M1670.3 79V99M1663.5 79H1677M1663.5 99H1677" stroke="#2e8a1f" stroke-width="2.8" fill="none"/><path d="M1679.3 78.8V95.3M1672.6 78.8H1686.1M1672.6 95.3H1686.1" stroke="#2e8a1f" stroke-width="2.8" fill="none"/><path d="M1688.3 90.6V107M1681.6 90.6H1695.1M1681.6 107H1695.1" stroke="#2e8a1f" stroke-width="2.8" fill="none"/><path d="M1706.3 94.8V128.2M1699.6 94.8H1713.1M1699.6 128.2H1713.1" stroke="#2e8a1f" stroke-width="2.8" fill="none"/><path d="M1742.3 99.5V135.2M1735.6 99.5H1749.1M1735.6 135.2H1749.1" stroke="#2e8a1f" stroke-width="2.8" fill="none"/><path d="M1814.4 127V131.7M1807.6 127H1821.1M1807.6 131.7H1821.1" stroke="#2e8a1f" stroke-width="2.8" fill="none"/><path d="M1958.4 125.8V148.1M1951.7 125.8H1965.2M1951.7 148.1H1965.2" stroke="#2e8a1f" stroke-width="2.8" fill="none"/><polyline points="1670.3,88.6 1679.3,85.9 1688.3,95.3 1706.3,108.9 1742.3,113.6 1814.4,129.3 1958.4,135.7" fill="none" stroke="#2e8a1f" stroke-width="3.2" stroke-linejoin="round"/><circle cx="1670.3" cy="88.6" r="6.2" fill="#2e8a1f"/><circle cx="1679.3" cy="85.9" r="6.2" fill="#2e8a1f"/><circle cx="1688.3" cy="95.3" r="6.2" fill="#2e8a1f"/><circle cx="1706.3" cy="108.9" r="6.2" fill="#2e8a1f"/><circle cx="1742.3" cy="113.6" r="6.2" fill="#2e8a1f"/><circle cx="1814.4" cy="129.3" r="6.2" fill="#2e8a1f"/><circle cx="1958.4" cy="135.7" r="6.2" fill="#2e8a1f"/>
<path d="M1670.3 80.5V96.5M1663.5 80.5H1677M1663.5 96.5H1677" stroke="#1414f5" stroke-width="2.8" fill="none"/><path d="M1679.3 127.5V165.8M1672.6 127.5H1686.1M1672.6 165.8H1686.1" stroke="#1414f5" stroke-width="2.8" fill="none"/><path d="M1688.3 163.4V206.9M1681.6 163.4H1695.1M1681.6 206.9H1695.1" stroke="#1414f5" stroke-width="2.8" fill="none"/><path d="M1706.3 201V243.3M1699.6 201H1713.1M1699.6 243.3H1713.1" stroke="#1414f5" stroke-width="2.8" fill="none"/><path d="M1742.3 240.5V270.3M1735.6 240.5H1749.1M1735.6 270.3H1749.1" stroke="#1414f5" stroke-width="2.8" fill="none"/><path d="M1814.4 264.7V316.9M1807.6 264.7H1821.1M1807.6 316.9H1821.1" stroke="#1414f5" stroke-width="2.8" fill="none"/><path d="M1958.4 280V326.7M1951.7 280H1965.2M1951.7 326.7H1965.2" stroke="#1414f5" stroke-width="2.8" fill="none"/><polyline points="1670.3,88.6 1679.3,144.6 1688.3,182.2 1706.3,219.8 1742.3,253.9 1814.4,286.3 1958.4,300" fill="none" stroke="#1414f5" stroke-width="3.2" stroke-linejoin="round"/><circle cx="1670.3" cy="88.6" r="6.2" fill="#1414f5"/><circle cx="1679.3" cy="144.6" r="6.2" fill="#1414f5"/><circle cx="1688.3" cy="182.2" r="6.2" fill="#1414f5"/><circle cx="1706.3" cy="219.8" r="6.2" fill="#1414f5"/><circle cx="1742.3" cy="253.9" r="6.2" fill="#1414f5"/><circle cx="1814.4" cy="286.3" r="6.2" fill="#1414f5"/><circle cx="1958.4" cy="300" r="6.2" fill="#1414f5"/>
<path d="M1670.3 76V105M1663.5 76H1677M1663.5 105H1677" stroke="#ee8a2d" stroke-width="2.8" fill="none"/><path d="M1679.3 78.3V100.4M1672.6 78.3H1686.1M1672.6 100.4H1686.1" stroke="#ee8a2d" stroke-width="2.8" fill="none"/><path d="M1688.3 96.4V115.2M1681.6 96.4H1695.1M1681.6 115.2H1695.1" stroke="#ee8a2d" stroke-width="2.8" fill="none"/><path d="M1706.3 104.2V132.9M1699.6 104.2H1713.1M1699.6 132.9H1713.1" stroke="#ee8a2d" stroke-width="2.8" fill="none"/><path d="M1742.3 116.4V137.6M1735.6 116.4H1749.1M1735.6 137.6H1749.1" stroke="#ee8a2d" stroke-width="2.8" fill="none"/><path d="M1814.4 136.4V150.5M1807.6 136.4H1821.1M1807.6 150.5H1821.1" stroke="#ee8a2d" stroke-width="2.8" fill="none"/><path d="M1958.4 137.1V161.5M1951.7 137.1H1965.2M1951.7 161.5H1965.2" stroke="#ee8a2d" stroke-width="2.8" fill="none"/><polyline points="1670.3,88.6 1679.3,89.4 1688.3,104.7 1706.3,116.9 1742.3,127 1814.4,142.7 1958.4,148.6" fill="none" stroke="#ee8a2d" stroke-width="3.2" stroke-linejoin="round"/><circle cx="1670.3" cy="88.6" r="6.2" fill="#ee8a2d"/><circle cx="1679.3" cy="89.4" r="6.2" fill="#ee8a2d"/><circle cx="1688.3" cy="104.7" r="6.2" fill="#ee8a2d"/><circle cx="1706.3" cy="116.9" r="6.2" fill="#ee8a2d"/><circle cx="1742.3" cy="127" r="6.2" fill="#ee8a2d"/><circle cx="1814.4" cy="142.7" r="6.2" fill="#ee8a2d"/><circle cx="1958.4" cy="148.6" r="6.2" fill="#ee8a2d"/>
<path d="M1679.3 271V319.2M1672.6 271H1686.1M1672.6 319.2H1686.1" stroke="#f5190d" stroke-width="2.8" fill="none"/><path d="M1688.3 287.5V335.2M1681.6 287.5H1695.1M1681.6 335.2H1695.1" stroke="#f5190d" stroke-width="2.8" fill="none"/><path d="M1706.3 296.2V340.4M1699.6 296.2H1713.1M1699.6 340.4H1713.1" stroke="#f5190d" stroke-width="2.8" fill="none"/><path d="M1742.3 301.6V340.4M1735.6 301.6H1749.1M1735.6 340.4H1749.1" stroke="#f5190d" stroke-width="2.8" fill="none"/><path d="M1814.4 312.2V349M1807.6 312.2H1821.1M1807.6 349H1821.1" stroke="#f5190d" stroke-width="2.8" fill="none"/><path d="M1958.4 296.9V347M1951.7 296.9H1965.2M1951.7 347H1965.2" stroke="#f5190d" stroke-width="2.8" fill="none"/><polyline points="1670.3,88.6 1679.3,292.2 1688.3,307.5 1706.3,315.7 1742.3,318.7 1814.4,328.6 1958.4,318.7" fill="none" stroke="#f5190d" stroke-width="3.2" stroke-linejoin="round"/><circle cx="1670.3" cy="88.6" r="6.5" fill="#f5190d"/><circle cx="1679.3" cy="292.2" r="6.5" fill="#f5190d"/><circle cx="1688.3" cy="307.5" r="6.5" fill="#f5190d"/><circle cx="1706.3" cy="315.7" r="6.5" fill="#f5190d"/><circle cx="1742.3" cy="318.7" r="6.5" fill="#f5190d"/><circle cx="1814.4" cy="328.6" r="6.5" fill="#f5190d"/><circle cx="1958.4" cy="318.7" r="6.5" fill="#f5190d"/></g>
<g id="pf"><text x="719.5" y="513.5" font-size="47">f</text>
<g transform="rotate(-0.138 774.2 824.4)"><path d="M772.5 828.4V843.9M775.1 828.4q0.3 7 2.6 15M773 862q0.2 -7 -1.3 -15M775.8 862q-0.2 -7 1.5 -15M781.6 828.4V843.9M784.2 828.4q0.3 7 2.6 15M782.1 862q0.2 -7 -1.3 -15M784.9 862q-0.2 -7 1.5 -15M790.8 828.4V843.9M793.4 828.4q0.3 7 2.6 15M791.3 862q0.2 -7 -1.3 -15M794.1 862q-0.2 -7 1.5 -15M799.9 828.4V843.9M802.5 828.4q0.3 7 2.6 15M800.4 862q0.2 -7 -1.3 -15M803.2 862q-0.2 -7 1.5 -15M809.1 828.4V843.9M811.7 828.4q0.3 7 2.6 15M809.6 862q0.2 -7 -1.3 -15M812.4 862q-0.2 -7 1.5 -15M818.2 828.4V843.9M820.8 828.4q0.3 7 2.6 15M818.7 862q0.2 -7 -1.3 -15M821.5 862q-0.2 -7 1.5 -15M827.4 828.4V843.9M830 828.4q0.3 7 2.6 15M827.9 862q0.2 -7 -1.3 -15M830.7 862q-0.2 -7 1.5 -15M836.5 828.4V843.9M839.1 828.4q0.3 7 2.6 15M837 862q0.2 -7 -1.3 -15M839.8 862q-0.2 -7 1.5 -15M845.7 828.4V843.9M848.3 828.4q0.3 7 2.6 15M846.2 862q0.2 -7 -1.3 -15M849 862q-0.2 -7 1.5 -15M854.8 828.4V843.9M857.4 828.4q0.3 7 2.6 15M855.3 862q0.2 -7 -1.3 -15M858.1 862q-0.2 -7 1.5 -15M864 828.4V843.9M866.6 828.4q0.3 7 2.6 15M864.5 862q0.2 -7 -1.3 -15M867.3 862q-0.2 -7 1.5 -15M873.1 828.4V843.9M875.7 828.4q0.3 7 2.6 15M873.6 862q0.2 -7 -1.3 -15M876.4 862q-0.2 -7 1.5 -15M882.3 828.4V843.9M884.9 828.4q0.3 7 2.6 15M882.8 862q0.2 -7 -1.3 -15M885.6 862q-0.2 -7 1.5 -15M891.4 828.4V843.9M894 828.4q0.3 7 2.6 15M891.9 862q0.2 -7 -1.3 -15M894.7 862q-0.2 -7 1.5 -15M900.5 828.4V843.9M903.1 828.4q0.3 7 2.6 15M901 862q0.2 -7 -1.3 -15M903.8 862q-0.2 -7 1.5 -15M909.7 828.4V843.9M912.3 828.4q0.3 7 2.6 15M910.2 862q0.2 -7 -1.3 -15M913 862q-0.2 -7 1.5 -15M918.8 828.4V843.9M921.4 828.4q0.3 7 2.6 15M919.3 862q0.2 -7 -1.3 -15M922.1 862q-0.2 -7 1.5 -15M928 828.4V843.9M930.6 828.4q0.3 7 2.6 15M928.5 862q0.2 -7 -1.3 -15M931.3 862q-0.2 -7 1.5 -15M937.1 828.4V843.9M939.7 828.4q0.3 7 2.6 15M937.6 862q0.2 -7 -1.3 -15M940.4 862q-0.2 -7 1.5 -15M946.3 828.4V843.9M948.9 828.4q0.3 7 2.6 15M946.8 862q0.2 -7 -1.3 -15M949.6 862q-0.2 -7 1.5 -15M955.4 828.4V843.9M958 828.4q0.3 7 2.6 15M955.9 862q0.2 -7 -1.3 -15M958.7 862q-0.2 -7 1.5 -15M964.6 828.4V843.9M967.2 828.4q0.3 7 2.6 15M965.1 862q0.2 -7 -1.3 -15M967.9 862q-0.2 -7 1.5 -15M973.7 828.4V843.9M976.3 828.4q0.3 7 2.6 15M974.2 862q0.2 -7 -1.3 -15M977 862q-0.2 -7 1.5 -15M982.9 828.4V843.9M985.5 828.4q0.3 7 2.6 15M983.4 862q0.2 -7 -1.3 -15M986.2 862q-0.2 -7 1.5 -15M992 828.4V843.9M994.6 828.4q0.3 7 2.6 15M992.5 862q0.2 -7 -1.3 -15M995.3 862q-0.2 -7 1.5 -15M1001.2 828.4V843.9M1003.8 828.4q0.3 7 2.6 15M1001.7 862q0.2 -7 -1.3 -15M1004.5 862q-0.2 -7 1.5 -15M1010.3 828.4V843.9M1012.9 828.4q0.3 7 2.6 15M1010.8 862q0.2 -7 -1.3 -15M1013.6 862q-0.2 -7 1.5 -15M1019.4 828.4V843.9M1022 828.4q0.3 7 2.6 15M1019.9 862q0.2 -7 -1.3 -15M1022.7 862q-0.2 -7 1.5 -15M1028.6 828.4V843.9M1031.2 828.4q0.3 7 2.6 15M1029.1 862q0.2 -7 -1.3 -15M1031.9 862q-0.2 -7 1.5 -15M1037.7 828.4V843.9M1040.3 828.4q0.3 7 2.6 15M1038.2 862q0.2 -7 -1.3 -15M1041 862q-0.2 -7 1.5 -15M1046.9 828.4V843.9M1049.5 828.4q0.3 7 2.6 15M1047.4 862q0.2 -7 -1.3 -15M1050.2 862q-0.2 -7 1.5 -15M1056 828.4V843.9M1058.6 828.4q0.3 7 2.6 15M1056.5 862q0.2 -7 -1.3 -15M1059.3 862q-0.2 -7 1.5 -15M1065.2 828.4V843.9M1067.8 828.4q0.3 7 2.6 15M1065.7 862q0.2 -7 -1.3 -15M1068.5 862q-0.2 -7 1.5 -15M1074.3 828.4V843.9M1076.9 828.4q0.3 7 2.6 15M1074.8 862q0.2 -7 -1.3 -15M1077.6 862q-0.2 -7 1.5 -15M1083.5 828.4V843.9M1086.1 828.4q0.3 7 2.6 15M1084 862q0.2 -7 -1.3 -15M1086.8 862q-0.2 -7 1.5 -15M1092.6 828.4V843.9M1095.2 828.4q0.3 7 2.6 15M1093.1 862q0.2 -7 -1.3 -15M1095.9 862q-0.2 -7 1.5 -15M1101.8 828.4V843.9M1104.4 828.4q0.3 7 2.6 15M1102.3 862q0.2 -7 -1.3 -15M1105.1 862q-0.2 -7 1.5 -15M1110.9 828.4V843.9M1113.5 828.4q0.3 7 2.6 15M1111.4 862q0.2 -7 -1.3 -15M1114.2 862q-0.2 -7 1.5 -15M1120 828.4V843.9M1122.6 828.4q0.3 7 2.6 15M1120.5 862q0.2 -7 -1.3 -15M1123.3 862q-0.2 -7 1.5 -15M1129.2 828.4V843.9M1131.8 828.4q0.3 7 2.6 15M1129.7 862q0.2 -7 -1.3 -15M1132.5 862q-0.2 -7 1.5 -15M1138.3 828.4V843.9M1140.9 828.4q0.3 7 2.6 15M1138.8 862q0.2 -7 -1.3 -15M1141.6 862q-0.2 -7 1.5 -15M1147.5 828.4V843.9M1150.1 828.4q0.3 7 2.6 15M1148 862q0.2 -7 -1.3 -15M1150.8 862q-0.2 -7 1.5 -15M1156.6 828.4V843.9M1159.2 828.4q0.3 7 2.6 15M1157.1 862q0.2 -7 -1.3 -15M1159.9 862q-0.2 -7 1.5 -15M1165.8 828.4V843.9M1168.4 828.4q0.3 7 2.6 15M1166.3 862q0.2 -7 -1.3 -15M1169.1 862q-0.2 -7 1.5 -15M1174.9 828.4V843.9M1177.5 828.4q0.3 7 2.6 15M1175.4 862q0.2 -7 -1.3 -15M1178.2 862q-0.2 -7 1.5 -15M1184.1 828.4V843.9M1186.7 828.4q0.3 7 2.6 15M1184.6 862q0.2 -7 -1.3 -15M1187.4 862q-0.2 -7 1.5 -15M1193.2 828.4V843.9M1195.8 828.4q0.3 7 2.6 15M1193.7 862q0.2 -7 -1.3 -15M1196.5 862q-0.2 -7 1.5 -15M1202.4 828.4V843.9M1205 828.4q0.3 7 2.6 15M1202.9 862q0.2 -7 -1.3 -15M1205.7 862q-0.2 -7 1.5 -15M1211.5 828.4V843.9M1214.1 828.4q0.3 7 2.6 15M1212 862q0.2 -7 -1.3 -15M1214.8 862q-0.2 -7 1.5 -15M1220.7 828.4V843.9M1223.3 828.4q0.3 7 2.6 15M1221.2 862q0.2 -7 -1.3 -15M1224 862q-0.2 -7 1.5 -15M1229.8 828.4V843.9M1232.4 828.4q0.3 7 2.6 15M1230.3 862q0.2 -7 -1.3 -15M1233.1 862q-0.2 -7 1.5 -15M1238.9 828.4V843.9M1241.5 828.4q0.3 7 2.6 15M1239.4 862q0.2 -7 -1.3 -15M1242.2 862q-0.2 -7 1.5 -15M1248.1 828.4V843.9M1250.7 828.4q0.3 7 2.6 15M1248.6 862q0.2 -7 -1.3 -15M1251.4 862q-0.2 -7 1.5 -15M1257.2 828.4V843.9M1259.8 828.4q0.3 7 2.6 15M1257.7 862q0.2 -7 -1.3 -15M1260.5 862q-0.2 -7 1.5 -15M1266.4 828.4V843.9M1269 828.4q0.3 7 2.6 15M1266.9 862q0.2 -7 -1.3 -15M1269.7 862q-0.2 -7 1.5 -15M1275.5 828.4V843.9M1278.1 828.4q0.3 7 2.6 15M1276 862q0.2 -7 -1.3 -15M1278.8 862q-0.2 -7 1.5 -15M1284.7 828.4V843.9M1287.3 828.4q0.3 7 2.6 15M1285.2 862q0.2 -7 -1.3 -15M1288 862q-0.2 -7 1.5 -15M1293.8 828.4V843.9M1296.4 828.4q0.3 7 2.6 15M1294.3 862q0.2 -7 -1.3 -15M1297.1 862q-0.2 -7 1.5 -15M1303 828.4V843.9M1305.6 828.4q0.3 7 2.6 15M1303.5 862q0.2 -7 -1.3 -15M1306.3 862q-0.2 -7 1.5 -15M1312.1 828.4V843.9M1314.7 828.4q0.3 7 2.6 15M1312.6 862q0.2 -7 -1.3 -15M1315.4 862q-0.2 -7 1.5 -15M1321.3 828.4V843.9M1323.9 828.4q0.3 7 2.6 15M1321.8 862q0.2 -7 -1.3 -15M1324.6 862q-0.2 -7 1.5 -15M1330.4 828.4V843.9M1333 828.4q0.3 7 2.6 15M1330.9 862q0.2 -7 -1.3 -15M1333.7 862q-0.2 -7 1.5 -15M1339.6 828.4V843.9M1342.2 828.4q0.3 7 2.6 15M1340.1 862q0.2 -7 -1.3 -15M1342.9 862q-0.2 -7 1.5 -15M1348.7 828.4V843.9M1351.3 828.4q0.3 7 2.6 15M1349.2 862q0.2 -7 -1.3 -15M1352 862q-0.2 -7 1.5 -15M1357.8 828.4V843.9M1360.4 828.4q0.3 7 2.6 15M1358.3 862q0.2 -7 -1.3 -15M1361.1 862q-0.2 -7 1.5 -15M1367 828.4V843.9M1369.6 828.4q0.3 7 2.6 15M1367.5 862q0.2 -7 -1.3 -15M1370.3 862q-0.2 -7 1.5 -15M1376.1 828.4V843.9M1378.7 828.4q0.3 7 2.6 15M1376.6 862q0.2 -7 -1.3 -15M1379.4 862q-0.2 -7 1.5 -15M1385.3 828.4V843.9M1387.9 828.4q0.3 7 2.6 15M1385.8 862q0.2 -7 -1.3 -15M1388.6 862q-0.2 -7 1.5 -15M1394.4 828.4V843.9M1397 828.4q0.3 7 2.6 15M1394.9 862q0.2 -7 -1.3 -15M1397.7 862q-0.2 -7 1.5 -15M1403.6 828.4V843.9M1406.2 828.4q0.3 7 2.6 15M1404.1 862q0.2 -7 -1.3 -15M1406.9 862q-0.2 -7 1.5 -15M1412.7 828.4V843.9M1415.3 828.4q0.3 7 2.6 15M1413.2 862q0.2 -7 -1.3 -15M1416 862q-0.2 -7 1.5 -15M1421.9 828.4V843.9M1424.5 828.4q0.3 7 2.6 15M1422.4 862q0.2 -7 -1.3 -15M1425.2 862q-0.2 -7 1.5 -15M1431 828.4V843.9M1433.6 828.4q0.3 7 2.6 15M1431.5 862q0.2 -7 -1.3 -15M1434.3 862q-0.2 -7 1.5 -15M1440.2 828.4V843.9M1442.8 828.4q0.3 7 2.6 15M1440.7 862q0.2 -7 -1.3 -15M1443.5 862q-0.2 -7 1.5 -15M1449.3 828.4V843.9M1451.9 828.4q0.3 7 2.6 15M1449.8 862q0.2 -7 -1.3 -15M1452.6 862q-0.2 -7 1.5 -15M1458.5 828.4V843.9M1461.1 828.4q0.3 7 2.6 15M1459 862q0.2 -7 -1.3 -15M1461.8 862q-0.2 -7 1.5 -15M1467.6 828.4V843.9M1470.2 828.4q0.3 7 2.6 15M1468.1 862q0.2 -7 -1.3 -15M1470.9 862q-0.2 -7 1.5 -15M1476.7 828.4V843.9M1479.3 828.4q0.3 7 2.6 15M1477.2 862q0.2 -7 -1.3 -15M1480 862q-0.2 -7 1.5 -15M1485.9 828.4V843.9M1488.5 828.4q0.3 7 2.6 15M1486.4 862q0.2 -7 -1.3 -15M1489.2 862q-0.2 -7 1.5 -15M1495 828.4V843.9M1497.6 828.4q0.3 7 2.6 15M1495.5 862q0.2 -7 -1.3 -15M1498.3 862q-0.2 -7 1.5 -15M1504.2 828.4V843.9M1506.8 828.4q0.3 7 2.6 15M1504.7 862q0.2 -7 -1.3 -15M1507.5 862q-0.2 -7 1.5 -15M1513.3 828.4V843.9M1515.9 828.4q0.3 7 2.6 15M1513.8 862q0.2 -7 -1.3 -15M1516.6 862q-0.2 -7 1.5 -15M1522.5 828.4V843.9M1525.1 828.4q0.3 7 2.6 15M1523 862q0.2 -7 -1.3 -15M1525.8 862q-0.2 -7 1.5 -15M1531.6 828.4V843.9M1534.2 828.4q0.3 7 2.6 15M1532.1 862q0.2 -7 -1.3 -15M1534.9 862q-0.2 -7 1.5 -15M1540.8 828.4V843.9M1543.4 828.4q0.3 7 2.6 15M1541.3 862q0.2 -7 -1.3 -15M1544.1 862q-0.2 -7 1.5 -15M1549.9 828.4V843.9M1552.5 828.4q0.3 7 2.6 15M1550.4 862q0.2 -7 -1.3 -15M1553.2 862q-0.2 -7 1.5 -15M1559.1 828.4V843.9M1561.7 828.4q0.3 7 2.6 15M1559.6 862q0.2 -7 -1.3 -15M1562.4 862q-0.2 -7 1.5 -15M1568.2 828.4V843.9M1570.8 828.4q0.3 7 2.6 15M1568.7 862q0.2 -7 -1.3 -15M1571.5 862q-0.2 -7 1.5 -15M1577.3 828.4V843.9M1579.9 828.4q0.3 7 2.6 15M1577.8 862q0.2 -7 -1.3 -15M1580.6 862q-0.2 -7 1.5 -15M1586.5 828.4V843.9M1589.1 828.4q0.3 7 2.6 15M1587 862q0.2 -7 -1.3 -15M1589.8 862q-0.2 -7 1.5 -15M1595.6 828.4V843.9M1598.2 828.4q0.3 7 2.6 15M1596.1 862q0.2 -7 -1.3 -15M1598.9 862q-0.2 -7 1.5 -15M1604.8 828.4V843.9M1607.4 828.4q0.3 7 2.6 15M1605.3 862q0.2 -7 -1.3 -15M1608.1 862q-0.2 -7 1.5 -15M1613.9 828.4V843.9M1616.5 828.4q0.3 7 2.6 15M1614.4 862q0.2 -7 -1.3 -15M1617.2 862q-0.2 -7 1.5 -15M1623.1 828.4V843.9M1625.7 828.4q0.3 7 2.6 15M1623.6 862q0.2 -7 -1.3 -15M1626.4 862q-0.2 -7 1.5 -15M1632.2 828.4V843.9M1634.8 828.4q0.3 7 2.6 15M1632.7 862q0.2 -7 -1.3 -15M1635.5 862q-0.2 -7 1.5 -15M1641.4 828.4V843.9M1644 828.4q0.3 7 2.6 15M1641.9 862q0.2 -7 -1.3 -15M1644.7 862q-0.2 -7 1.5 -15M1650.5 828.4V843.9M1653.1 828.4q0.3 7 2.6 15M1651 862q0.2 -7 -1.3 -15M1653.8 862q-0.2 -7 1.5 -15M1659.7 828.4V843.9M1662.3 828.4q0.3 7 2.6 15M1660.2 862q0.2 -7 -1.3 -15M1663 862q-0.2 -7 1.5 -15M1668.8 828.4V843.9M1671.4 828.4q0.3 7 2.6 15M1669.3 862q0.2 -7 -1.3 -15M1672.1 862q-0.2 -7 1.5 -15M1678 828.4V843.9M1680.6 828.4q0.3 7 2.6 15M1678.5 862q0.2 -7 -1.3 -15M1681.3 862q-0.2 -7 1.5 -15M1687.1 828.4V843.9M1689.7 828.4q0.3 7 2.6 15M1687.6 862q0.2 -7 -1.3 -15M1690.4 862q-0.2 -7 1.5 -15M1696.2 828.4V843.9M1698.8 828.4q0.3 7 2.6 15M1696.7 862q0.2 -7 -1.3 -15M1699.5 862q-0.2 -7 1.5 -15M1705.4 828.4V843.9M1708 828.4q0.3 7 2.6 15M1705.9 862q0.2 -7 -1.3 -15M1708.7 862q-0.2 -7 1.5 -15M1714.5 828.4V843.9M1717.1 828.4q0.3 7 2.6 15M1715 862q0.2 -7 -1.3 -15M1717.8 862q-0.2 -7 1.5 -15M1723.7 828.4V843.9M1726.3 828.4q0.3 7 2.6 15M1724.2 862q0.2 -7 -1.3 -15M1727 862q-0.2 -7 1.5 -15M1732.8 828.4V843.9M1735.4 828.4q0.3 7 2.6 15M1733.3 862q0.2 -7 -1.3 -15M1736.1 862q-0.2 -7 1.5 -15M1742 828.4V843.9M1744.6 828.4q0.3 7 2.6 15M1742.5 862q0.2 -7 -1.3 -15M1745.3 862q-0.2 -7 1.5 -15M1751.1 828.4V843.9M1753.7 828.4q0.3 7 2.6 15M1751.6 862q0.2 -7 -1.3 -15M1754.4 862q-0.2 -7 1.5 -15M1760.3 828.4V843.9M1762.9 828.4q0.3 7 2.6 15M1760.8 862q0.2 -7 -1.3 -15M1763.6 862q-0.2 -7 1.5 -15M1769.4 828.4V843.9M1772 828.4q0.3 7 2.6 15M1769.9 862q0.2 -7 -1.3 -15M1772.7 862q-0.2 -7 1.5 -15M1778.6 828.4V843.9M1781.2 828.4q0.3 7 2.6 15M1779.1 862q0.2 -7 -1.3 -15M1781.9 862q-0.2 -7 1.5 -15M1787.7 828.4V843.9M1790.3 828.4q0.3 7 2.6 15M1788.2 862q0.2 -7 -1.3 -15M1791 862q-0.2 -7 1.5 -15M1796.9 828.4V843.9M1799.5 828.4q0.3 7 2.6 15M1797.4 862q0.2 -7 -1.3 -15M1800.2 862q-0.2 -7 1.5 -15M1806 828.4V843.9M1808.6 828.4q0.3 7 2.6 15M1806.5 862q0.2 -7 -1.3 -15M1809.3 862q-0.2 -7 1.5 -15M1815.1 828.4V843.9M1817.7 828.4q0.3 7 2.6 15M1815.6 862q0.2 -7 -1.3 -15M1818.4 862q-0.2 -7 1.5 -15M1824.3 828.4V843.9M1826.9 828.4q0.3 7 2.6 15M1824.8 862q0.2 -7 -1.3 -15M1827.6 862q-0.2 -7 1.5 -15M1833.4 828.4V843.9M1836 828.4q0.3 7 2.6 15M1833.9 862q0.2 -7 -1.3 -15M1836.7 862q-0.2 -7 1.5 -15M1842.6 828.4V843.9M1845.2 828.4q0.3 7 2.6 15M1843.1 862q0.2 -7 -1.3 -15M1845.9 862q-0.2 -7 1.5 -15M1851.7 828.4V843.9M1854.3 828.4q0.3 7 2.6 15M1852.2 862q0.2 -7 -1.3 -15M1855 862q-0.2 -7 1.5 -15M1860.9 828.4V843.9M1863.5 828.4q0.3 7 2.6 15M1861.4 862q0.2 -7 -1.3 -15M1864.2 862q-0.2 -7 1.5 -15M1870 828.4V843.9M1872.6 828.4q0.3 7 2.6 15M1870.5 862q0.2 -7 -1.3 -15M1873.3 862q-0.2 -7 1.5 -15M1879.2 828.4V843.9M1881.8 828.4q0.3 7 2.6 15M1879.7 862q0.2 -7 -1.3 -15M1882.5 862q-0.2 -7 1.5 -15M1888.3 828.4V843.9M1890.9 828.4q0.3 7 2.6 15M1888.8 862q0.2 -7 -1.3 -15M1891.6 862q-0.2 -7 1.5 -15M1897.5 828.4V843.9M1900.1 828.4q0.3 7 2.6 15M1898 862q0.2 -7 -1.3 -15M1900.8 862q-0.2 -7 1.5 -15M1906.6 828.4V843.9M1909.2 828.4q0.3 7 2.6 15M1907.1 862q0.2 -7 -1.3 -15M1909.9 862q-0.2 -7 1.5 -15M1915.8 828.4V843.9M1918.4 828.4q0.3 7 2.6 15M1916.2 862q0.2 -7 -1.3 -15M1919 862q-0.2 -7 1.5 -15M1924.9 828.4V843.9M1927.5 828.4q0.3 7 2.6 15M1925.4 862q0.2 -7 -1.3 -15M1928.2 862q-0.2 -7 1.5 -15M1934 828.4V843.9M1936.6 828.4q0.3 7 2.6 15M1934.5 862q0.2 -7 -1.3 -15M1937.3 862q-0.2 -7 1.5 -15" stroke="#c6c6c6" stroke-width="1.9" fill="none"/><path d="M770.4 824.4a3.8 3.8 0 1 0 7.6 0a3.8 3.8 0 1 0 -7.6 0M770.4 866a3.8 3.8 0 1 0 7.6 0a3.8 3.8 0 1 0 -7.6 0M779.5 824.4a3.8 3.8 0 1 0 7.6 0a3.8 3.8 0 1 0 -7.6 0M779.5 866a3.8 3.8 0 1 0 7.6 0a3.8 3.8 0 1 0 -7.6 0M788.7 824.4a3.8 3.8 0 1 0 7.6 0a3.8 3.8 0 1 0 -7.6 0M788.7 866a3.8 3.8 0 1 0 7.6 0a3.8 3.8 0 1 0 -7.6 0M797.8 824.4a3.8 3.8 0 1 0 7.6 0a3.8 3.8 0 1 0 -7.6 0M797.8 866a3.8 3.8 0 1 0 7.6 0a3.8 3.8 0 1 0 -7.6 0M807 824.4a3.8 3.8 0 1 0 7.6 0a3.8 3.8 0 1 0 -7.6 0M807 866a3.8 3.8 0 1 0 7.6 0a3.8 3.8 0 1 0 -7.6 0M816.1 824.4a3.8 3.8 0 1 0 7.6 0a3.8 3.8 0 1 0 -7.6 0M816.1 866a3.8 3.8 0 1 0 7.6 0a3.8 3.8 0 1 0 -7.6 0M825.3 824.4a3.8 3.8 0 1 0 7.6 0a3.8 3.8 0 1 0 -7.6 0M825.3 866a3.8 3.8 0 1 0 7.6 0a3.8 3.8 0 1 0 -7.6 0M834.4 824.4a3.8 3.8 0 1 0 7.6 0a3.8 3.8 0 1 0 -7.6 0M834.4 866a3.8 3.8 0 1 0 7.6 0a3.8 3.8 0 1 0 -7.6 0M843.6 824.4a3.8 3.8 0 1 0 7.6 0a3.8 3.8 0 1 0 -7.6 0M843.6 866a3.8 3.8 0 1 0 7.6 0a3.8 3.8 0 1 0 -7.6 0M852.7 824.4a3.8 3.8 0 1 0 7.6 0a3.8 3.8 0 1 0 -7.6 0M852.7 866a3.8 3.8 0 1 0 7.6 0a3.8 3.8 0 1 0 -7.6 0M861.9 824.4a3.8 3.8 0 1 0 7.6 0a3.8 3.8 0 1 0 -7.6 0M861.9 866a3.8 3.8 0 1 0 7.6 0a3.8 3.8 0 1 0 -7.6 0M871 824.4a3.8 3.8 0 1 0 7.6 0a3.8 3.8 0 1 0 -7.6 0M871 866a3.8 3.8 0 1 0 7.6 0a3.8 3.8 0 1 0 -7.6 0M880.2 824.4a3.8 3.8 0 1 0 7.6 0a3.8 3.8 0 1 0 -7.6 0M880.2 866a3.8 3.8 0 1 0 7.6 0a3.8 3.8 0 1 0 -7.6 0M889.3 824.4a3.8 3.8 0 1 0 7.6 0a3.8 3.8 0 1 0 -7.6 0M889.3 866a3.8 3.8 0 1 0 7.6 0a3.8 3.8 0 1 0 -7.6 0M898.4 824.4a3.8 3.8 0 1 0 7.6 0a3.8 3.8 0 1 0 -7.6 0M898.4 866a3.8 3.8 0 1 0 7.6 0a3.8 3.8 0 1 0 -7.6 0M907.6 824.4a3.8 3.8 0 1 0 7.6 0a3.8 3.8 0 1 0 -7.6 0M907.6 866a3.8 3.8 0 1 0 7.6 0a3.8 3.8 0 1 0 -7.6 0M916.7 824.4a3.8 3.8 0 1 0 7.6 0a3.8 3.8 0 1 0 -7.6 0M916.7 866a3.8 3.8 0 1 0 7.6 0a3.8 3.8 0 1 0 -7.6 0M925.9 824.4a3.8 3.8 0 1 0 7.6 0a3.8 3.8 0 1 0 -7.6 0M925.9 866a3.8 3.8 0 1 0 7.6 0a3.8 3.8 0 1 0 -7.6 0M935 824.4a3.8 3.8 0 1 0 7.6 0a3.8 3.8 0 1 0 -7.6 0M935 866a3.8 3.8 0 1 0 7.6 0a3.8 3.8 0 1 0 -7.6 0M944.2 824.4a3.8 3.8 0 1 0 7.6 0a3.8 3.8 0 1 0 -7.6 0M944.2 866a3.8 3.8 0 1 0 7.6 0a3.8 3.8 0 1 0 -7.6 0M953.3 824.4a3.8 3.8 0 1 0 7.6 0a3.8 3.8 0 1 0 -7.6 0M953.3 866a3.8 3.8 0 1 0 7.6 0a3.8 3.8 0 1 0 -7.6 0M962.5 824.4a3.8 3.8 0 1 0 7.6 0a3.8 3.8 0 1 0 -7.6 0M962.5 866a3.8 3.8 0 1 0 7.6 0a3.8 3.8 0 1 0 -7.6 0M971.6 824.4a3.8 3.8 0 1 0 7.6 0a3.8 3.8 0 1 0 -7.6 0M971.6 866a3.8 3.8 0 1 0 7.6 0a3.8 3.8 0 1 0 -7.6 0M980.8 824.4a3.8 3.8 0 1 0 7.6 0a3.8 3.8 0 1 0 -7.6 0M980.8 866a3.8 3.8 0 1 0 7.6 0a3.8 3.8 0 1 0 -7.6 0M989.9 824.4a3.8 3.8 0 1 0 7.6 0a3.8 3.8 0 1 0 -7.6 0M989.9 866a3.8 3.8 0 1 0 7.6 0a3.8 3.8 0 1 0 -7.6 0M999.1 824.4a3.8 3.8 0 1 0 7.6 0a3.8 3.8 0 1 0 -7.6 0M999.1 866a3.8 3.8 0 1 0 7.6 0a3.8 3.8 0 1 0 -7.6 0M1008.2 824.4a3.8 3.8 0 1 0 7.6 0a3.8 3.8 0 1 0 -7.6 0M1008.2 866a3.8 3.8 0 1 0 7.6 0a3.8 3.8 0 1 0 -7.6 0M1017.3 824.4a3.8 3.8 0 1 0 7.6 0a3.8 3.8 0 1 0 -7.6 0M1017.3 866a3.8 3.8 0 1 0 7.6 0a3.8 3.8 0 1 0 -7.6 0M1026.5 824.4a3.8 3.8 0 1 0 7.6 0a3.8 3.8 0 1 0 -7.6 0M1026.5 866a3.8 3.8 0 1 0 7.6 0a3.8 3.8 0 1 0 -7.6 0M1035.6 824.4a3.8 3.8 0 1 0 7.6 0a3.8 3.8 0 1 0 -7.6 0M1035.6 866a3.8 3.8 0 1 0 7.6 0a3.8 3.8 0 1 0 -7.6 0M1044.8 824.4a3.8 3.8 0 1 0 7.6 0a3.8 3.8 0 1 0 -7.6 0M1044.8 866a3.8 3.8 0 1 0 7.6 0a3.8 3.8 0 1 0 -7.6 0M1053.9 824.4a3.8 3.8 0 1 0 7.6 0a3.8 3.8 0 1 0 -7.6 0M1053.9 866a3.8 3.8 0 1 0 7.6 0a3.8 3.8 0 1 0 -7.6 0M1063.1 824.4a3.8 3.8 0 1 0 7.6 0a3.8 3.8 0 1 0 -7.6 0M1063.1 866a3.8 3.8 0 1 0 7.6 0a3.8 3.8 0 1 0 -7.6 0M1072.2 824.4a3.8 3.8 0 1 0 7.6 0a3.8 3.8 0 1 0 -7.6 0M1072.2 866a3.8 3.8 0 1 0 7.6 0a3.8 3.8 0 1 0 -7.6 0M1081.4 824.4a3.8 3.8 0 1 0 7.6 0a3.8 3.8 0 1 0 -7.6 0M1081.4 866a3.8 3.8 0 1 0 7.6 0a3.8 3.8 0 1 0 -7.6 0M1090.5 824.4a3.8 3.8 0 1 0 7.6 0a3.8 3.8 0 1 0 -7.6 0M1090.5 866a3.8 3.8 0 1 0 7.6 0a3.8 3.8 0 1 0 -7.6 0M1099.7 824.4a3.8 3.8 0 1 0 7.6 0a3.8 3.8 0 1 0 -7.6 0M1099.7 866a3.8 3.8 0 1 0 7.6 0a3.8 3.8 0 1 0 -7.6 0M1108.8 824.4a3.8 3.8 0 1 0 7.6 0a3.8 3.8 0 1 0 -7.6 0M1108.8 866a3.8 3.8 0 1 0 7.6 0a3.8 3.8 0 1 0 -7.6 0M1117.9 824.4a3.8 3.8 0 1 0 7.6 0a3.8 3.8 0 1 0 -7.6 0M1117.9 866a3.8 3.8 0 1 0 7.6 0a3.8 3.8 0 1 0 -7.6 0M1127.1 824.4a3.8 3.8 0 1 0 7.6 0a3.8 3.8 0 1 0 -7.6 0M1127.1 866a3.8 3.8 0 1 0 7.6 0a3.8 3.8 0 1 0 -7.6 0M1136.2 824.4a3.8 3.8 0 1 0 7.6 0a3.8 3.8 0 1 0 -7.6 0M1136.2 866a3.8 3.8 0 1 0 7.6 0a3.8 3.8 0 1 0 -7.6 0M1145.4 824.4a3.8 3.8 0 1 0 7.6 0a3.8 3.8 0 1 0 -7.6 0M1145.4 866a3.8 3.8 0 1 0 7.6 0a3.8 3.8 0 1 0 -7.6 0M1154.5 824.4a3.8 3.8 0 1 0 7.6 0a3.8 3.8 0 1 0 -7.6 0M1154.5 866a3.8 3.8 0 1 0 7.6 0a3.8 3.8 0 1 0 -7.6 0M1163.7 824.4a3.8 3.8 0 1 0 7.6 0a3.8 3.8 0 1 0 -7.6 0M1163.7 866a3.8 3.8 0 1 0 7.6 0a3.8 3.8 0 1 0 -7.6 0M1172.8 824.4a3.8 3.8 0 1 0 7.6 0a3.8 3.8 0 1 0 -7.6 0M1172.8 866a3.8 3.8 0 1 0 7.6 0a3.8 3.8 0 1 0 -7.6 0M1182 824.4a3.8 3.8 0 1 0 7.6 0a3.8 3.8 0 1 0 -7.6 0M1182 866a3.8 3.8 0 1 0 7.6 0a3.8 3.8 0 1 0 -7.6 0M1191.1 824.4a3.8 3.8 0 1 0 7.6 0a3.8 3.8 0 1 0 -7.6 0M1191.1 866a3.8 3.8 0 1 0 7.6 0a3.8 3.8 0 1 0 -7.6 0M1200.3 824.4a3.8 3.8 0 1 0 7.6 0a3.8 3.8 0 1 0 -7.6 0M1200.3 866a3.8 3.8 0 1 0 7.6 0a3.8 3.8 0 1 0 -7.6 0M1209.4 824.4a3.8 3.8 0 1 0 7.6 0a3.8 3.8 0 1 0 -7.6 0M1209.4 866a3.8 3.8 0 1 0 7.6 0a3.8 3.8 0 1 0 -7.6 0M1218.6 824.4a3.8 3.8 0 1 0 7.6 0a3.8 3.8 0 1 0 -7.6 0M1218.6 866a3.8 3.8 0 1 0 7.6 0a3.8 3.8 0 1 0 -7.6 0M1227.7 824.4a3.8 3.8 0 1 0 7.6 0a3.8 3.8 0 1 0 -7.6 0M1227.7 866a3.8 3.8 0 1 0 7.6 0a3.8 3.8 0 1 0 -7.6 0M1236.8 824.4a3.8 3.8 0 1 0 7.6 0a3.8 3.8 0 1 0 -7.6 0M1236.8 866a3.8 3.8 0 1 0 7.6 0a3.8 3.8 0 1 0 -7.6 0M1246 824.4a3.8 3.8 0 1 0 7.6 0a3.8 3.8 0 1 0 -7.6 0M1246 866a3.8 3.8 0 1 0 7.6 0a3.8 3.8 0 1 0 -7.6 0M1255.1 824.4a3.8 3.8 0 1 0 7.6 0a3.8 3.8 0 1 0 -7.6 0M1255.1 866a3.8 3.8 0 1 0 7.6 0a3.8 3.8 0 1 0 -7.6 0M1264.3 824.4a3.8 3.8 0 1 0 7.6 0a3.8 3.8 0 1 0 -7.6 0M1264.3 866a3.8 3.8 0 1 0 7.6 0a3.8 3.8 0 1 0 -7.6 0M1273.4 824.4a3.8 3.8 0 1 0 7.6 0a3.8 3.8 0 1 0 -7.6 0M1273.4 866a3.8 3.8 0 1 0 7.6 0a3.8 3.8 0 1 0 -7.6 0M1282.6 824.4a3.8 3.8 0 1 0 7.6 0a3.8 3.8 0 1 0 -7.6 0M1282.6 866a3.8 3.8 0 1 0 7.6 0a3.8 3.8 0 1 0 -7.6 0M1291.7 824.4a3.8 3.8 0 1 0 7.6 0a3.8 3.8 0 1 0 -7.6 0M1291.7 866a3.8 3.8 0 1 0 7.6 0a3.8 3.8 0 1 0 -7.6 0M1300.9 824.4a3.8 3.8 0 1 0 7.6 0a3.8 3.8 0 1 0 -7.6 0M1300.9 866a3.8 3.8 0 1 0 7.6 0a3.8 3.8 0 1 0 -7.6 0M1310 824.4a3.8 3.8 0 1 0 7.6 0a3.8 3.8 0 1 0 -7.6 0M1310 866a3.8 3.8 0 1 0 7.6 0a3.8 3.8 0 1 0 -7.6 0M1319.2 824.4a3.8 3.8 0 1 0 7.6 0a3.8 3.8 0 1 0 -7.6 0M1319.2 866a3.8 3.8 0 1 0 7.6 0a3.8 3.8 0 1 0 -7.6 0M1328.3 824.4a3.8 3.8 0 1 0 7.6 0a3.8 3.8 0 1 0 -7.6 0M1328.3 866a3.8 3.8 0 1 0 7.6 0a3.8 3.8 0 1 0 -7.6 0M1337.5 824.4a3.8 3.8 0 1 0 7.6 0a3.8 3.8 0 1 0 -7.6 0M1337.5 866a3.8 3.8 0 1 0 7.6 0a3.8 3.8 0 1 0 -7.6 0M1346.6 824.4a3.8 3.8 0 1 0 7.6 0a3.8 3.8 0 1 0 -7.6 0M1346.6 866a3.8 3.8 0 1 0 7.6 0a3.8 3.8 0 1 0 -7.6 0M1355.7 824.4a3.8 3.8 0 1 0 7.6 0a3.8 3.8 0 1 0 -7.6 0M1355.7 866a3.8 3.8 0 1 0 7.6 0a3.8 3.8 0 1 0 -7.6 0M1364.9 824.4a3.8 3.8 0 1 0 7.6 0a3.8 3.8 0 1 0 -7.6 0M1364.9 866a3.8 3.8 0 1 0 7.6 0a3.8 3.8 0 1 0 -7.6 0M1374 824.4a3.8 3.8 0 1 0 7.6 0a3.8 3.8 0 1 0 -7.6 0M1374 866a3.8 3.8 0 1 0 7.6 0a3.8 3.8 0 1 0 -7.6 0M1383.2 824.4a3.8 3.8 0 1 0 7.6 0a3.8 3.8 0 1 0 -7.6 0M1383.2 866a3.8 3.8 0 1 0 7.6 0a3.8 3.8 0 1 0 -7.6 0M1392.3 824.4a3.8 3.8 0 1 0 7.6 0a3.8 3.8 0 1 0 -7.6 0M1392.3 866a3.8 3.8 0 1 0 7.6 0a3.8 3.8 0 1 0 -7.6 0M1401.5 824.4a3.8 3.8 0 1 0 7.6 0a3.8 3.8 0 1 0 -7.6 0M1401.5 866a3.8 3.8 0 1 0 7.6 0a3.8 3.8 0 1 0 -7.6 0M1410.6 824.4a3.8 3.8 0 1 0 7.6 0a3.8 3.8 0 1 0 -7.6 0M1410.6 866a3.8 3.8 0 1 0 7.6 0a3.8 3.8 0 1 0 -7.6 0M1419.8 824.4a3.8 3.8 0 1 0 7.6 0a3.8 3.8 0 1 0 -7.6 0M1419.8 866a3.8 3.8 0 1 0 7.6 0a3.8 3.8 0 1 0 -7.6 0M1428.9 824.4a3.8 3.8 0 1 0 7.6 0a3.8 3.8 0 1 0 -7.6 0M1428.9 866a3.8 3.8 0 1 0 7.6 0a3.8 3.8 0 1 0 -7.6 0M1438.1 824.4a3.8 3.8 0 1 0 7.6 0a3.8 3.8 0 1 0 -7.6 0M1438.1 866a3.8 3.8 0 1 0 7.6 0a3.8 3.8 0 1 0 -7.6 0M1447.2 824.4a3.8 3.8 0 1 0 7.6 0a3.8 3.8 0 1 0 -7.6 0M1447.2 866a3.8 3.8 0 1 0 7.6 0a3.8 3.8 0 1 0 -7.6 0M1456.4 824.4a3.8 3.8 0 1 0 7.6 0a3.8 3.8 0 1 0 -7.6 0M1456.4 866a3.8 3.8 0 1 0 7.6 0a3.8 3.8 0 1 0 -7.6 0M1465.5 824.4a3.8 3.8 0 1 0 7.6 0a3.8 3.8 0 1 0 -7.6 0M1465.5 866a3.8 3.8 0 1 0 7.6 0a3.8 3.8 0 1 0 -7.6 0M1474.6 824.4a3.8 3.8 0 1 0 7.6 0a3.8 3.8 0 1 0 -7.6 0M1474.6 866a3.8 3.8 0 1 0 7.6 0a3.8 3.8 0 1 0 -7.6 0M1483.8 824.4a3.8 3.8 0 1 0 7.6 0a3.8 3.8 0 1 0 -7.6 0M1483.8 866a3.8 3.8 0 1 0 7.6 0a3.8 3.8 0 1 0 -7.6 0M1492.9 824.4a3.8 3.8 0 1 0 7.6 0a3.8 3.8 0 1 0 -7.6 0M1492.9 866a3.8 3.8 0 1 0 7.6 0a3.8 3.8 0 1 0 -7.6 0M1502.1 824.4a3.8 3.8 0 1 0 7.6 0a3.8 3.8 0 1 0 -7.6 0M1502.1 866a3.8 3.8 0 1 0 7.6 0a3.8 3.8 0 1 0 -7.6 0M1511.2 824.4a3.8 3.8 0 1 0 7.6 0a3.8 3.8 0 1 0 -7.6 0M1511.2 866a3.8 3.8 0 1 0 7.6 0a3.8 3.8 0 1 0 -7.6 0M1520.4 824.4a3.8 3.8 0 1 0 7.6 0a3.8 3.8 0 1 0 -7.6 0M1520.4 866a3.8 3.8 0 1 0 7.6 0a3.8 3.8 0 1 0 -7.6 0M1529.5 824.4a3.8 3.8 0 1 0 7.6 0a3.8 3.8 0 1 0 -7.6 0M1529.5 866a3.8 3.8 0 1 0 7.6 0a3.8 3.8 0 1 0 -7.6 0M1538.7 824.4a3.8 3.8 0 1 0 7.6 0a3.8 3.8 0 1 0 -7.6 0M1538.7 866a3.8 3.8 0 1 0 7.6 0a3.8 3.8 0 1 0 -7.6 0M1547.8 824.4a3.8 3.8 0 1 0 7.6 0a3.8 3.8 0 1 0 -7.6 0M1547.8 866a3.8 3.8 0 1 0 7.6 0a3.8 3.8 0 1 0 -7.6 0M1557 824.4a3.8 3.8 0 1 0 7.6 0a3.8 3.8 0 1 0 -7.6 0M1557 866a3.8 3.8 0 1 0 7.6 0a3.8 3.8 0 1 0 -7.6 0M1566.1 824.4a3.8 3.8 0 1 0 7.6 0a3.8 3.8 0 1 0 -7.6 0M1566.1 866a3.8 3.8 0 1 0 7.6 0a3.8 3.8 0 1 0 -7.6 0M1575.2 824.4a3.8 3.8 0 1 0 7.6 0a3.8 3.8 0 1 0 -7.6 0M1575.2 866a3.8 3.8 0 1 0 7.6 0a3.8 3.8 0 1 0 -7.6 0M1584.4 824.4a3.8 3.8 0 1 0 7.6 0a3.8 3.8 0 1 0 -7.6 0M1584.4 866a3.8 3.8 0 1 0 7.6 0a3.8 3.8 0 1 0 -7.6 0M1593.5 824.4a3.8 3.8 0 1 0 7.6 0a3.8 3.8 0 1 0 -7.6 0M1593.5 866a3.8 3.8 0 1 0 7.6 0a3.8 3.8 0 1 0 -7.6 0M1602.7 824.4a3.8 3.8 0 1 0 7.6 0a3.8 3.8 0 1 0 -7.6 0M1602.7 866a3.8 3.8 0 1 0 7.6 0a3.8 3.8 0 1 0 -7.6 0M1611.8 824.4a3.8 3.8 0 1 0 7.6 0a3.8 3.8 0 1 0 -7.6 0M1611.8 866a3.8 3.8 0 1 0 7.6 0a3.8 3.8 0 1 0 -7.6 0M1621 824.4a3.8 3.8 0 1 0 7.6 0a3.8 3.8 0 1 0 -7.6 0M1621 866a3.8 3.8 0 1 0 7.6 0a3.8 3.8 0 1 0 -7.6 0M1630.1 824.4a3.8 3.8 0 1 0 7.6 0a3.8 3.8 0 1 0 -7.6 0M1630.1 866a3.8 3.8 0 1 0 7.6 0a3.8 3.8 0 1 0 -7.6 0M1639.3 824.4a3.8 3.8 0 1 0 7.6 0a3.8 3.8 0 1 0 -7.6 0M1639.3 866a3.8 3.8 0 1 0 7.6 0a3.8 3.8 0 1 0 -7.6 0M1648.4 824.4a3.8 3.8 0 1 0 7.6 0a3.8 3.8 0 1 0 -7.6 0M1648.4 866a3.8 3.8 0 1 0 7.6 0a3.8 3.8 0 1 0 -7.6 0M1657.6 824.4a3.8 3.8 0 1 0 7.6 0a3.8 3.8 0 1 0 -7.6 0M1657.6 866a3.8 3.8 0 1 0 7.6 0a3.8 3.8 0 1 0 -7.6 0M1666.7 824.4a3.8 3.8 0 1 0 7.6 0a3.8 3.8 0 1 0 -7.6 0M1666.7 866a3.8 3.8 0 1 0 7.6 0a3.8 3.8 0 1 0 -7.6 0M1675.9 824.4a3.8 3.8 0 1 0 7.6 0a3.8 3.8 0 1 0 -7.6 0M1675.9 866a3.8 3.8 0 1 0 7.6 0a3.8 3.8 0 1 0 -7.6 0M1685 824.4a3.8 3.8 0 1 0 7.6 0a3.8 3.8 0 1 0 -7.6 0M1685 866a3.8 3.8 0 1 0 7.6 0a3.8 3.8 0 1 0 -7.6 0M1694.1 824.4a3.8 3.8 0 1 0 7.6 0a3.8 3.8 0 1 0 -7.6 0M1694.1 866a3.8 3.8 0 1 0 7.6 0a3.8 3.8 0 1 0 -7.6 0M1703.3 824.4a3.8 3.8 0 1 0 7.6 0a3.8 3.8 0 1 0 -7.6 0M1703.3 866a3.8 3.8 0 1 0 7.6 0a3.8 3.8 0 1 0 -7.6 0M1712.4 824.4a3.8 3.8 0 1 0 7.6 0a3.8 3.8 0 1 0 -7.6 0M1712.4 866a3.8 3.8 0 1 0 7.6 0a3.8 3.8 0 1 0 -7.6 0M1721.6 824.4a3.8 3.8 0 1 0 7.6 0a3.8 3.8 0 1 0 -7.6 0M1721.6 866a3.8 3.8 0 1 0 7.6 0a3.8 3.8 0 1 0 -7.6 0M1730.7 824.4a3.8 3.8 0 1 0 7.6 0a3.8 3.8 0 1 0 -7.6 0M1730.7 866a3.8 3.8 0 1 0 7.6 0a3.8 3.8 0 1 0 -7.6 0M1739.9 824.4a3.8 3.8 0 1 0 7.6 0a3.8 3.8 0 1 0 -7.6 0M1739.9 866a3.8 3.8 0 1 0 7.6 0a3.8 3.8 0 1 0 -7.6 0M1749 824.4a3.8 3.8 0 1 0 7.6 0a3.8 3.8 0 1 0 -7.6 0M1749 866a3.8 3.8 0 1 0 7.6 0a3.8 3.8 0 1 0 -7.6 0M1758.2 824.4a3.8 3.8 0 1 0 7.6 0a3.8 3.8 0 1 0 -7.6 0M1758.2 866a3.8 3.8 0 1 0 7.6 0a3.8 3.8 0 1 0 -7.6 0M1767.3 824.4a3.8 3.8 0 1 0 7.6 0a3.8 3.8 0 1 0 -7.6 0M1767.3 866a3.8 3.8 0 1 0 7.6 0a3.8 3.8 0 1 0 -7.6 0M1776.5 824.4a3.8 3.8 0 1 0 7.6 0a3.8 3.8 0 1 0 -7.6 0M1776.5 866a3.8 3.8 0 1 0 7.6 0a3.8 3.8 0 1 0 -7.6 0M1785.6 824.4a3.8 3.8 0 1 0 7.6 0a3.8 3.8 0 1 0 -7.6 0M1785.6 866a3.8 3.8 0 1 0 7.6 0a3.8 3.8 0 1 0 -7.6 0M1794.8 824.4a3.8 3.8 0 1 0 7.6 0a3.8 3.8 0 1 0 -7.6 0M1794.8 866a3.8 3.8 0 1 0 7.6 0a3.8 3.8 0 1 0 -7.6 0M1803.9 824.4a3.8 3.8 0 1 0 7.6 0a3.8 3.8 0 1 0 -7.6 0M1803.9 866a3.8 3.8 0 1 0 7.6 0a3.8 3.8 0 1 0 -7.6 0M1813 824.4a3.8 3.8 0 1 0 7.6 0a3.8 3.8 0 1 0 -7.6 0M1813 866a3.8 3.8 0 1 0 7.6 0a3.8 3.8 0 1 0 -7.6 0M1822.2 824.4a3.8 3.8 0 1 0 7.6 0a3.8 3.8 0 1 0 -7.6 0M1822.2 866a3.8 3.8 0 1 0 7.6 0a3.8 3.8 0 1 0 -7.6 0M1831.3 824.4a3.8 3.8 0 1 0 7.6 0a3.8 3.8 0 1 0 -7.6 0M1831.3 866a3.8 3.8 0 1 0 7.6 0a3.8 3.8 0 1 0 -7.6 0M1840.5 824.4a3.8 3.8 0 1 0 7.6 0a3.8 3.8 0 1 0 -7.6 0M1840.5 866a3.8 3.8 0 1 0 7.6 0a3.8 3.8 0 1 0 -7.6 0M1849.6 824.4a3.8 3.8 0 1 0 7.6 0a3.8 3.8 0 1 0 -7.6 0M1849.6 866a3.8 3.8 0 1 0 7.6 0a3.8 3.8 0 1 0 -7.6 0M1858.8 824.4a3.8 3.8 0 1 0 7.6 0a3.8 3.8 0 1 0 -7.6 0M1858.8 866a3.8 3.8 0 1 0 7.6 0a3.8 3.8 0 1 0 -7.6 0M1867.9 824.4a3.8 3.8 0 1 0 7.6 0a3.8 3.8 0 1 0 -7.6 0M1867.9 866a3.8 3.8 0 1 0 7.6 0a3.8 3.8 0 1 0 -7.6 0M1877.1 824.4a3.8 3.8 0 1 0 7.6 0a3.8 3.8 0 1 0 -7.6 0M1877.1 866a3.8 3.8 0 1 0 7.6 0a3.8 3.8 0 1 0 -7.6 0M1886.2 824.4a3.8 3.8 0 1 0 7.6 0a3.8 3.8 0 1 0 -7.6 0M1886.2 866a3.8 3.8 0 1 0 7.6 0a3.8 3.8 0 1 0 -7.6 0M1895.4 824.4a3.8 3.8 0 1 0 7.6 0a3.8 3.8 0 1 0 -7.6 0M1895.4 866a3.8 3.8 0 1 0 7.6 0a3.8 3.8 0 1 0 -7.6 0M1904.5 824.4a3.8 3.8 0 1 0 7.6 0a3.8 3.8 0 1 0 -7.6 0M1904.5 866a3.8 3.8 0 1 0 7.6 0a3.8 3.8 0 1 0 -7.6 0M1913.7 824.4a3.8 3.8 0 1 0 7.6 0a3.8 3.8 0 1 0 -7.6 0M1913.7 866a3.8 3.8 0 1 0 7.6 0a3.8 3.8 0 1 0 -7.6 0M1922.8 824.4a3.8 3.8 0 1 0 7.6 0a3.8 3.8 0 1 0 -7.6 0M1922.8 866a3.8 3.8 0 1 0 7.6 0a3.8 3.8 0 1 0 -7.6 0M1931.9 824.4a3.8 3.8 0 1 0 7.6 0a3.8 3.8 0 1 0 -7.6 0M1931.9 866a3.8 3.8 0 1 0 7.6 0a3.8 3.8 0 1 0 -7.6 0" fill="#9e9e9e" stroke="#6a6a6a" stroke-width="1.1"/></g>
<g><path d="M1054.1 955.6V971.1M1056.7 955.6q0.3 7 2.6 15M1054.6 988.8q0.2 -7 -1.3 -15M1057.4 988.8q-0.2 -7 1.5 -15M1063.2 955.6V971.1M1065.8 955.6q0.3 7 2.6 15M1063.7 988.8q0.2 -7 -1.3 -15M1066.5 988.8q-0.2 -7 1.5 -15M1072.4 955.6V971.1M1075 955.6q0.3 7 2.6 15M1072.9 988.8q0.2 -7 -1.3 -15M1075.7 988.8q-0.2 -7 1.5 -15M1081.5 955.6V971.1M1084.1 955.6q0.3 7 2.6 15M1082 988.8q0.2 -7 -1.3 -15M1084.8 988.8q-0.2 -7 1.5 -15M1090.7 955.6V971.1M1093.3 955.6q0.3 7 2.6 15M1091.2 988.8q0.2 -7 -1.3 -15M1094 988.8q-0.2 -7 1.5 -15M1099.8 955.6V971.1M1102.4 955.6q0.3 7 2.6 15M1100.3 988.8q0.2 -7 -1.3 -15M1103.1 988.8q-0.2 -7 1.5 -15M1109 955.6V971.1M1111.6 955.6q0.3 7 2.6 15M1109.5 988.8q0.2 -7 -1.3 -15M1112.3 988.8q-0.2 -7 1.5 -15M1118.1 955.6V971.1M1120.7 955.6q0.3 7 2.6 15M1118.6 988.8q0.2 -7 -1.3 -15M1121.4 988.8q-0.2 -7 1.5 -15M1127.3 955.6V971.1M1129.9 955.6q0.3 7 2.6 15M1127.8 988.8q0.2 -7 -1.3 -15M1130.6 988.8q-0.2 -7 1.5 -15M1136.4 955.6V971.1M1139 955.6q0.3 7 2.6 15M1136.9 988.8q0.2 -7 -1.3 -15M1139.7 988.8q-0.2 -7 1.5 -15M1145.6 955.6V971.1M1148.2 955.6q0.3 7 2.6 15M1146.1 988.8q0.2 -7 -1.3 -15M1148.9 988.8q-0.2 -7 1.5 -15M1154.7 955.6V971.1M1157.3 955.6q0.3 7 2.6 15M1155.2 988.8q0.2 -7 -1.3 -15M1158 988.8q-0.2 -7 1.5 -15M1163.9 955.6V971.1M1166.5 955.6q0.3 7 2.6 15M1164.4 988.8q0.2 -7 -1.3 -15M1167.2 988.8q-0.2 -7 1.5 -15M1173 955.6V971.1M1175.6 955.6q0.3 7 2.6 15M1173.5 988.8q0.2 -7 -1.3 -15M1176.3 988.8q-0.2 -7 1.5 -15M1182.1 955.6V971.1M1184.7 955.6q0.3 7 2.6 15M1182.6 988.8q0.2 -7 -1.3 -15M1185.4 988.8q-0.2 -7 1.5 -15M1191.3 955.6V971.1M1193.9 955.6q0.3 7 2.6 15M1191.8 988.8q0.2 -7 -1.3 -15M1194.6 988.8q-0.2 -7 1.5 -15M1200.4 955.6V971.1M1203 955.6q0.3 7 2.6 15M1200.9 988.8q0.2 -7 -1.3 -15M1203.7 988.8q-0.2 -7 1.5 -15M1209.6 955.6V971.1M1212.2 955.6q0.3 7 2.6 15M1210.1 988.8q0.2 -7 -1.3 -15M1212.9 988.8q-0.2 -7 1.5 -15M1218.7 955.6V971.1M1221.3 955.6q0.3 7 2.6 15M1219.2 988.8q0.2 -7 -1.3 -15M1222 988.8q-0.2 -7 1.5 -15M1227.9 955.6V971.1M1230.5 955.6q0.3 7 2.6 15M1228.4 988.8q0.2 -7 -1.3 -15M1231.2 988.8q-0.2 -7 1.5 -15M1237 955.6V971.1M1239.6 955.6q0.3 7 2.6 15M1237.5 988.8q0.2 -7 -1.3 -15M1240.3 988.8q-0.2 -7 1.5 -15M1246.2 955.6V971.1M1248.8 955.6q0.3 7 2.6 15M1246.7 988.8q0.2 -7 -1.3 -15M1249.5 988.8q-0.2 -7 1.5 -15M1255.3 955.6V971.1M1257.9 955.6q0.3 7 2.6 15M1255.8 988.8q0.2 -7 -1.3 -15M1258.6 988.8q-0.2 -7 1.5 -15M1264.5 955.6V971.1M1267.1 955.6q0.3 7 2.6 15M1265 988.8q0.2 -7 -1.3 -15M1267.8 988.8q-0.2 -7 1.5 -15M1273.6 955.6V971.1M1276.2 955.6q0.3 7 2.6 15M1274.1 988.8q0.2 -7 -1.3 -15M1276.9 988.8q-0.2 -7 1.5 -15M1282.8 955.6V971.1M1285.4 955.6q0.3 7 2.6 15M1283.2 988.8q0.2 -7 -1.3 -15M1286 988.8q-0.2 -7 1.5 -15M1291.9 955.6V971.1M1294.5 955.6q0.3 7 2.6 15M1292.4 988.8q0.2 -7 -1.3 -15M1295.2 988.8q-0.2 -7 1.5 -15M1301 955.6V971.1M1303.6 955.6q0.3 7 2.6 15M1301.5 988.8q0.2 -7 -1.3 -15M1304.3 988.8q-0.2 -7 1.5 -15M1310.2 955.6V971.1M1312.8 955.6q0.3 7 2.6 15M1310.7 988.8q0.2 -7 -1.3 -15M1313.5 988.8q-0.2 -7 1.5 -15M1319.3 955.6V971.1M1321.9 955.6q0.3 7 2.6 15M1319.8 988.8q0.2 -7 -1.3 -15M1322.6 988.8q-0.2 -7 1.5 -15M1328.5 955.6V971.1M1331.1 955.6q0.3 7 2.6 15M1329 988.8q0.2 -7 -1.3 -15M1331.8 988.8q-0.2 -7 1.5 -15M1337.6 955.6V971.1M1340.2 955.6q0.3 7 2.6 15M1338.1 988.8q0.2 -7 -1.3 -15M1340.9 988.8q-0.2 -7 1.5 -15M1346.8 955.6V971.1M1349.4 955.6q0.3 7 2.6 15M1347.3 988.8q0.2 -7 -1.3 -15M1350.1 988.8q-0.2 -7 1.5 -15M1355.9 955.6V971.1M1358.5 955.6q0.3 7 2.6 15M1356.4 988.8q0.2 -7 -1.3 -15M1359.2 988.8q-0.2 -7 1.5 -15M1365.1 955.6V971.1M1367.7 955.6q0.3 7 2.6 15M1365.6 988.8q0.2 -7 -1.3 -15M1368.4 988.8q-0.2 -7 1.5 -15M1374.2 955.6V971.1M1376.8 955.6q0.3 7 2.6 15M1374.7 988.8q0.2 -7 -1.3 -15M1377.5 988.8q-0.2 -7 1.5 -15M1383.4 955.6V971.1M1386 955.6q0.3 7 2.6 15M1383.9 988.8q0.2 -7 -1.3 -15M1386.7 988.8q-0.2 -7 1.5 -15M1392.5 955.6V971.1M1395.1 955.6q0.3 7 2.6 15M1393 988.8q0.2 -7 -1.3 -15M1395.8 988.8q-0.2 -7 1.5 -15M1401.6 955.6V971.1M1404.2 955.6q0.3 7 2.6 15M1402.1 988.8q0.2 -7 -1.3 -15M1404.9 988.8q-0.2 -7 1.5 -15M1410.8 955.6V971.1M1413.4 955.6q0.3 7 2.6 15M1411.3 988.8q0.2 -7 -1.3 -15M1414.1 988.8q-0.2 -7 1.5 -15M1419.9 955.6V971.1M1422.5 955.6q0.3 7 2.6 15M1420.4 988.8q0.2 -7 -1.3 -15M1423.2 988.8q-0.2 -7 1.5 -15M1429.1 955.6V971.1M1431.7 955.6q0.3 7 2.6 15M1429.6 988.8q0.2 -7 -1.3 -15M1432.4 988.8q-0.2 -7 1.5 -15M1438.2 955.6V971.1M1440.8 955.6q0.3 7 2.6 15M1438.7 988.8q0.2 -7 -1.3 -15M1441.5 988.8q-0.2 -7 1.5 -15M1447.4 955.6V971.1M1450 955.6q0.3 7 2.6 15M1447.9 988.8q0.2 -7 -1.3 -15M1450.7 988.8q-0.2 -7 1.5 -15M1456.5 955.6V971.1M1459.1 955.6q0.3 7 2.6 15M1457 988.8q0.2 -7 -1.3 -15M1459.8 988.8q-0.2 -7 1.5 -15M1465.7 955.6V971.1M1468.3 955.6q0.3 7 2.6 15M1466.2 988.8q0.2 -7 -1.3 -15M1469 988.8q-0.2 -7 1.5 -15M1474.8 955.6V971.1M1477.4 955.6q0.3 7 2.6 15M1475.3 988.8q0.2 -7 -1.3 -15M1478.1 988.8q-0.2 -7 1.5 -15M1484 955.6V971.1M1486.6 955.6q0.3 7 2.6 15M1484.5 988.8q0.2 -7 -1.3 -15M1487.3 988.8q-0.2 -7 1.5 -15M1493.1 955.6V971.1M1495.7 955.6q0.3 7 2.6 15M1493.6 988.8q0.2 -7 -1.3 -15M1496.4 988.8q-0.2 -7 1.5 -15M1502.3 955.6V971.1M1504.9 955.6q0.3 7 2.6 15M1502.8 988.8q0.2 -7 -1.3 -15M1505.6 988.8q-0.2 -7 1.5 -15M1511.4 955.6V971.1M1514 955.6q0.3 7 2.6 15M1511.9 988.8q0.2 -7 -1.3 -15M1514.7 988.8q-0.2 -7 1.5 -15M1520.5 955.6V971.1M1523.1 955.6q0.3 7 2.6 15M1521 988.8q0.2 -7 -1.3 -15M1523.8 988.8q-0.2 -7 1.5 -15M1529.7 955.6V971.1M1532.3 955.6q0.3 7 2.6 15M1530.2 988.8q0.2 -7 -1.3 -15M1533 988.8q-0.2 -7 1.5 -15M1538.8 955.6V971.1M1541.4 955.6q0.3 7 2.6 15M1539.3 988.8q0.2 -7 -1.3 -15M1542.1 988.8q-0.2 -7 1.5 -15M1548 955.6V971.1M1550.6 955.6q0.3 7 2.6 15M1548.5 988.8q0.2 -7 -1.3 -15M1551.3 988.8q-0.2 -7 1.5 -15M1557.1 955.6V971.1M1559.7 955.6q0.3 7 2.6 15M1557.6 988.8q0.2 -7 -1.3 -15M1560.4 988.8q-0.2 -7 1.5 -15M1566.3 955.6V971.1M1568.9 955.6q0.3 7 2.6 15M1566.8 988.8q0.2 -7 -1.3 -15M1569.6 988.8q-0.2 -7 1.5 -15M1575.4 955.6V971.1M1578 955.6q0.3 7 2.6 15M1575.9 988.8q0.2 -7 -1.3 -15M1578.7 988.8q-0.2 -7 1.5 -15M1584.6 955.6V971.1M1587.2 955.6q0.3 7 2.6 15M1585.1 988.8q0.2 -7 -1.3 -15M1587.9 988.8q-0.2 -7 1.5 -15M1593.7 955.6V971.1M1596.3 955.6q0.3 7 2.6 15M1594.2 988.8q0.2 -7 -1.3 -15M1597 988.8q-0.2 -7 1.5 -15M1602.9 955.6V971.1M1605.5 955.6q0.3 7 2.6 15M1603.4 988.8q0.2 -7 -1.3 -15M1606.2 988.8q-0.2 -7 1.5 -15M1612 955.6V971.1M1614.6 955.6q0.3 7 2.6 15M1612.5 988.8q0.2 -7 -1.3 -15M1615.3 988.8q-0.2 -7 1.5 -15M1621.2 955.6V971.1M1623.8 955.6q0.3 7 2.6 15M1621.7 988.8q0.2 -7 -1.3 -15M1624.5 988.8q-0.2 -7 1.5 -15M1630.3 955.6V971.1M1632.9 955.6q0.3 7 2.6 15M1630.8 988.8q0.2 -7 -1.3 -15M1633.6 988.8q-0.2 -7 1.5 -15" stroke="#c6c6c6" stroke-width="1.9" fill="none"/><path d="M1052 951.6a3.8 3.8 0 1 0 7.6 0a3.8 3.8 0 1 0 -7.6 0M1052 992.8a3.8 3.8 0 1 0 7.6 0a3.8 3.8 0 1 0 -7.6 0M1061.1 951.6a3.8 3.8 0 1 0 7.6 0a3.8 3.8 0 1 0 -7.6 0M1061.1 992.8a3.8 3.8 0 1 0 7.6 0a3.8 3.8 0 1 0 -7.6 0M1070.3 951.6a3.8 3.8 0 1 0 7.6 0a3.8 3.8 0 1 0 -7.6 0M1070.3 992.8a3.8 3.8 0 1 0 7.6 0a3.8 3.8 0 1 0 -7.6 0M1079.4 951.6a3.8 3.8 0 1 0 7.6 0a3.8 3.8 0 1 0 -7.6 0M1079.4 992.8a3.8 3.8 0 1 0 7.6 0a3.8 3.8 0 1 0 -7.6 0M1088.6 951.6a3.8 3.8 0 1 0 7.6 0a3.8 3.8 0 1 0 -7.6 0M1088.6 992.8a3.8 3.8 0 1 0 7.6 0a3.8 3.8 0 1 0 -7.6 0M1097.7 951.6a3.8 3.8 0 1 0 7.6 0a3.8 3.8 0 1 0 -7.6 0M1097.7 992.8a3.8 3.8 0 1 0 7.6 0a3.8 3.8 0 1 0 -7.6 0M1106.9 951.6a3.8 3.8 0 1 0 7.6 0a3.8 3.8 0 1 0 -7.6 0M1106.9 992.8a3.8 3.8 0 1 0 7.6 0a3.8 3.8 0 1 0 -7.6 0M1116 951.6a3.8 3.8 0 1 0 7.6 0a3.8 3.8 0 1 0 -7.6 0M1116 992.8a3.8 3.8 0 1 0 7.6 0a3.8 3.8 0 1 0 -7.6 0M1125.2 951.6a3.8 3.8 0 1 0 7.6 0a3.8 3.8 0 1 0 -7.6 0M1125.2 992.8a3.8 3.8 0 1 0 7.6 0a3.8 3.8 0 1 0 -7.6 0M1134.3 951.6a3.8 3.8 0 1 0 7.6 0a3.8 3.8 0 1 0 -7.6 0M1134.3 992.8a3.8 3.8 0 1 0 7.6 0a3.8 3.8 0 1 0 -7.6 0M1143.5 951.6a3.8 3.8 0 1 0 7.6 0a3.8 3.8 0 1 0 -7.6 0M1143.5 992.8a3.8 3.8 0 1 0 7.6 0a3.8 3.8 0 1 0 -7.6 0M1152.6 951.6a3.8 3.8 0 1 0 7.6 0a3.8 3.8 0 1 0 -7.6 0M1152.6 992.8a3.8 3.8 0 1 0 7.6 0a3.8 3.8 0 1 0 -7.6 0M1161.8 951.6a3.8 3.8 0 1 0 7.6 0a3.8 3.8 0 1 0 -7.6 0M1161.8 992.8a3.8 3.8 0 1 0 7.6 0a3.8 3.8 0 1 0 -7.6 0M1170.9 951.6a3.8 3.8 0 1 0 7.6 0a3.8 3.8 0 1 0 -7.6 0M1170.9 992.8a3.8 3.8 0 1 0 7.6 0a3.8 3.8 0 1 0 -7.6 0M1180 951.6a3.8 3.8 0 1 0 7.6 0a3.8 3.8 0 1 0 -7.6 0M1180 992.8a3.8 3.8 0 1 0 7.6 0a3.8 3.8 0 1 0 -7.6 0M1189.2 951.6a3.8 3.8 0 1 0 7.6 0a3.8 3.8 0 1 0 -7.6 0M1189.2 992.8a3.8 3.8 0 1 0 7.6 0a3.8 3.8 0 1 0 -7.6 0M1198.3 951.6a3.8 3.8 0 1 0 7.6 0a3.8 3.8 0 1 0 -7.6 0M1198.3 992.8a3.8 3.8 0 1 0 7.6 0a3.8 3.8 0 1 0 -7.6 0M1207.5 951.6a3.8 3.8 0 1 0 7.6 0a3.8 3.8 0 1 0 -7.6 0M1207.5 992.8a3.8 3.8 0 1 0 7.6 0a3.8 3.8 0 1 0 -7.6 0M1216.6 951.6a3.8 3.8 0 1 0 7.6 0a3.8 3.8 0 1 0 -7.6 0M1216.6 992.8a3.8 3.8 0 1 0 7.6 0a3.8 3.8 0 1 0 -7.6 0M1225.8 951.6a3.8 3.8 0 1 0 7.6 0a3.8 3.8 0 1 0 -7.6 0M1225.8 992.8a3.8 3.8 0 1 0 7.6 0a3.8 3.8 0 1 0 -7.6 0M1234.9 951.6a3.8 3.8 0 1 0 7.6 0a3.8 3.8 0 1 0 -7.6 0M1234.9 992.8a3.8 3.8 0 1 0 7.6 0a3.8 3.8 0 1 0 -7.6 0M1244.1 951.6a3.8 3.8 0 1 0 7.6 0a3.8 3.8 0 1 0 -7.6 0M1244.1 992.8a3.8 3.8 0 1 0 7.6 0a3.8 3.8 0 1 0 -7.6 0M1253.2 951.6a3.8 3.8 0 1 0 7.6 0a3.8 3.8 0 1 0 -7.6 0M1253.2 992.8a3.8 3.8 0 1 0 7.6 0a3.8 3.8 0 1 0 -7.6 0M1262.4 951.6a3.8 3.8 0 1 0 7.6 0a3.8 3.8 0 1 0 -7.6 0M1262.4 992.8a3.8 3.8 0 1 0 7.6 0a3.8 3.8 0 1 0 -7.6 0M1271.5 951.6a3.8 3.8 0 1 0 7.6 0a3.8 3.8 0 1 0 -7.6 0M1271.5 992.8a3.8 3.8 0 1 0 7.6 0a3.8 3.8 0 1 0 -7.6 0M1280.7 951.6a3.8 3.8 0 1 0 7.6 0a3.8 3.8 0 1 0 -7.6 0M1280.7 992.8a3.8 3.8 0 1 0 7.6 0a3.8 3.8 0 1 0 -7.6 0M1289.8 951.6a3.8 3.8 0 1 0 7.6 0a3.8 3.8 0 1 0 -7.6 0M1289.8 992.8a3.8 3.8 0 1 0 7.6 0a3.8 3.8 0 1 0 -7.6 0M1298.9 951.6a3.8 3.8 0 1 0 7.6 0a3.8 3.8 0 1 0 -7.6 0M1298.9 992.8a3.8 3.8 0 1 0 7.6 0a3.8 3.8 0 1 0 -7.6 0M1308.1 951.6a3.8 3.8 0 1 0 7.6 0a3.8 3.8 0 1 0 -7.6 0M1308.1 992.8a3.8 3.8 0 1 0 7.6 0a3.8 3.8 0 1 0 -7.6 0M1317.2 951.6a3.8 3.8 0 1 0 7.6 0a3.8 3.8 0 1 0 -7.6 0M1317.2 992.8a3.8 3.8 0 1 0 7.6 0a3.8 3.8 0 1 0 -7.6 0M1326.4 951.6a3.8 3.8 0 1 0 7.6 0a3.8 3.8 0 1 0 -7.6 0M1326.4 992.8a3.8 3.8 0 1 0 7.6 0a3.8 3.8 0 1 0 -7.6 0M1335.5 951.6a3.8 3.8 0 1 0 7.6 0a3.8 3.8 0 1 0 -7.6 0M1335.5 992.8a3.8 3.8 0 1 0 7.6 0a3.8 3.8 0 1 0 -7.6 0M1344.7 951.6a3.8 3.8 0 1 0 7.6 0a3.8 3.8 0 1 0 -7.6 0M1344.7 992.8a3.8 3.8 0 1 0 7.6 0a3.8 3.8 0 1 0 -7.6 0M1353.8 951.6a3.8 3.8 0 1 0 7.6 0a3.8 3.8 0 1 0 -7.6 0M1353.8 992.8a3.8 3.8 0 1 0 7.6 0a3.8 3.8 0 1 0 -7.6 0M1363 951.6a3.8 3.8 0 1 0 7.6 0a3.8 3.8 0 1 0 -7.6 0M1363 992.8a3.8 3.8 0 1 0 7.6 0a3.8 3.8 0 1 0 -7.6 0M1372.1 951.6a3.8 3.8 0 1 0 7.6 0a3.8 3.8 0 1 0 -7.6 0M1372.1 992.8a3.8 3.8 0 1 0 7.6 0a3.8 3.8 0 1 0 -7.6 0M1381.3 951.6a3.8 3.8 0 1 0 7.6 0a3.8 3.8 0 1 0 -7.6 0M1381.3 992.8a3.8 3.8 0 1 0 7.6 0a3.8 3.8 0 1 0 -7.6 0M1390.4 951.6a3.8 3.8 0 1 0 7.6 0a3.8 3.8 0 1 0 -7.6 0M1390.4 992.8a3.8 3.8 0 1 0 7.6 0a3.8 3.8 0 1 0 -7.6 0M1399.5 951.6a3.8 3.8 0 1 0 7.6 0a3.8 3.8 0 1 0 -7.6 0M1399.5 992.8a3.8 3.8 0 1 0 7.6 0a3.8 3.8 0 1 0 -7.6 0M1408.7 951.6a3.8 3.8 0 1 0 7.6 0a3.8 3.8 0 1 0 -7.6 0M1408.7 992.8a3.8 3.8 0 1 0 7.6 0a3.8 3.8 0 1 0 -7.6 0M1417.8 951.6a3.8 3.8 0 1 0 7.6 0a3.8 3.8 0 1 0 -7.6 0M1417.8 992.8a3.8 3.8 0 1 0 7.6 0a3.8 3.8 0 1 0 -7.6 0M1427 951.6a3.8 3.8 0 1 0 7.6 0a3.8 3.8 0 1 0 -7.6 0M1427 992.8a3.8 3.8 0 1 0 7.6 0a3.8 3.8 0 1 0 -7.6 0M1436.1 951.6a3.8 3.8 0 1 0 7.6 0a3.8 3.8 0 1 0 -7.6 0M1436.1 992.8a3.8 3.8 0 1 0 7.6 0a3.8 3.8 0 1 0 -7.6 0M1445.3 951.6a3.8 3.8 0 1 0 7.6 0a3.8 3.8 0 1 0 -7.6 0M1445.3 992.8a3.8 3.8 0 1 0 7.6 0a3.8 3.8 0 1 0 -7.6 0M1454.4 951.6a3.8 3.8 0 1 0 7.6 0a3.8 3.8 0 1 0 -7.6 0M1454.4 992.8a3.8 3.8 0 1 0 7.6 0a3.8 3.8 0 1 0 -7.6 0M1463.6 951.6a3.8 3.8 0 1 0 7.6 0a3.8 3.8 0 1 0 -7.6 0M1463.6 992.8a3.8 3.8 0 1 0 7.6 0a3.8 3.8 0 1 0 -7.6 0M1472.7 951.6a3.8 3.8 0 1 0 7.6 0a3.8 3.8 0 1 0 -7.6 0M1472.7 992.8a3.8 3.8 0 1 0 7.6 0a3.8 3.8 0 1 0 -7.6 0M1481.9 951.6a3.8 3.8 0 1 0 7.6 0a3.8 3.8 0 1 0 -7.6 0M1481.9 992.8a3.8 3.8 0 1 0 7.6 0a3.8 3.8 0 1 0 -7.6 0M1491 951.6a3.8 3.8 0 1 0 7.6 0a3.8 3.8 0 1 0 -7.6 0M1491 992.8a3.8 3.8 0 1 0 7.6 0a3.8 3.8 0 1 0 -7.6 0M1500.2 951.6a3.8 3.8 0 1 0 7.6 0a3.8 3.8 0 1 0 -7.6 0M1500.2 992.8a3.8 3.8 0 1 0 7.6 0a3.8 3.8 0 1 0 -7.6 0M1509.3 951.6a3.8 3.8 0 1 0 7.6 0a3.8 3.8 0 1 0 -7.6 0M1509.3 992.8a3.8 3.8 0 1 0 7.6 0a3.8 3.8 0 1 0 -7.6 0M1518.4 951.6a3.8 3.8 0 1 0 7.6 0a3.8 3.8 0 1 0 -7.6 0M1518.4 992.8a3.8 3.8 0 1 0 7.6 0a3.8 3.8 0 1 0 -7.6 0M1527.6 951.6a3.8 3.8 0 1 0 7.6 0a3.8 3.8 0 1 0 -7.6 0M1527.6 992.8a3.8 3.8 0 1 0 7.6 0a3.8 3.8 0 1 0 -7.6 0M1536.7 951.6a3.8 3.8 0 1 0 7.6 0a3.8 3.8 0 1 0 -7.6 0M1536.7 992.8a3.8 3.8 0 1 0 7.6 0a3.8 3.8 0 1 0 -7.6 0M1545.9 951.6a3.8 3.8 0 1 0 7.6 0a3.8 3.8 0 1 0 -7.6 0M1545.9 992.8a3.8 3.8 0 1 0 7.6 0a3.8 3.8 0 1 0 -7.6 0M1555 951.6a3.8 3.8 0 1 0 7.6 0a3.8 3.8 0 1 0 -7.6 0M1555 992.8a3.8 3.8 0 1 0 7.6 0a3.8 3.8 0 1 0 -7.6 0M1564.2 951.6a3.8 3.8 0 1 0 7.6 0a3.8 3.8 0 1 0 -7.6 0M1564.2 992.8a3.8 3.8 0 1 0 7.6 0a3.8 3.8 0 1 0 -7.6 0M1573.3 951.6a3.8 3.8 0 1 0 7.6 0a3.8 3.8 0 1 0 -7.6 0M1573.3 992.8a3.8 3.8 0 1 0 7.6 0a3.8 3.8 0 1 0 -7.6 0M1582.5 951.6a3.8 3.8 0 1 0 7.6 0a3.8 3.8 0 1 0 -7.6 0M1582.5 992.8a3.8 3.8 0 1 0 7.6 0a3.8 3.8 0 1 0 -7.6 0M1591.6 951.6a3.8 3.8 0 1 0 7.6 0a3.8 3.8 0 1 0 -7.6 0M1591.6 992.8a3.8 3.8 0 1 0 7.6 0a3.8 3.8 0 1 0 -7.6 0M1600.8 951.6a3.8 3.8 0 1 0 7.6 0a3.8 3.8 0 1 0 -7.6 0M1600.8 992.8a3.8 3.8 0 1 0 7.6 0a3.8 3.8 0 1 0 -7.6 0M1609.9 951.6a3.8 3.8 0 1 0 7.6 0a3.8 3.8 0 1 0 -7.6 0M1609.9 992.8a3.8 3.8 0 1 0 7.6 0a3.8 3.8 0 1 0 -7.6 0M1619.1 951.6a3.8 3.8 0 1 0 7.6 0a3.8 3.8 0 1 0 -7.6 0M1619.1 992.8a3.8 3.8 0 1 0 7.6 0a3.8 3.8 0 1 0 -7.6 0M1628.2 951.6a3.8 3.8 0 1 0 7.6 0a3.8 3.8 0 1 0 -7.6 0M1628.2 992.8a3.8 3.8 0 1 0 7.6 0a3.8 3.8 0 1 0 -7.6 0" fill="#9e9e9e" stroke="#6a6a6a" stroke-width="1.1"/></g>
<g filter="url(#bump)" fill="#a585f2" stroke="#a585f2" stroke-width="2" stroke-linejoin="round"><path id="b1" d="M991.2 553.7C993.4 553.4 996.8 553.8 999 554.9C1001.2 556 1003.6 558.2 1004.7 560.2C1005.8 562.3 1004.6 565 1005.5 567.2C1006.3 569.3 1009.1 571.1 1009.8 573.1C1010.5 575.1 1009.7 577 1009.5 579.1C1009.3 581.1 1008.4 583.3 1008.6 585.2C1008.7 587.2 1010.1 589.1 1010.5 591C1010.9 592.9 1010.7 594.7 1010.8 596.5C1010.9 598.3 1011.1 600.1 1011.1 601.9C1011.1 603.7 1010.2 605.7 1010.8 607.4C1011.3 609.1 1013.7 610.3 1014.3 611.9C1014.9 613.5 1014.6 615.1 1014.3 617C1014.1 618.8 1012.9 620.8 1012.8 622.9C1012.8 624.9 1014 627.2 1014.2 629.2C1014.3 631.2 1014 633 1013.8 634.9C1013.6 636.8 1012.8 639 1012.9 640.7C1013.1 642.5 1013.8 643.9 1014.8 645.5C1015.8 647 1018.1 648.2 1019.1 649.9C1020 651.5 1020.6 653.4 1020.5 655.3C1020.4 657.3 1018.9 659.6 1018.7 661.7C1018.4 663.8 1018.6 665.8 1019.2 668C1019.9 670.1 1021.6 672.1 1022.3 674.3C1023 676.6 1023.3 679.1 1023.4 681.3C1023.4 683.5 1023.7 685.9 1022.5 687.6C1021.4 689.4 1016.8 690 1016.3 691.9C1015.8 693.8 1019 697.1 1019.3 699.1C1019.6 701 1018.7 701.6 1018.1 703.5C1017.6 705.4 1015.3 708.6 1015.8 710.3C1016.3 712.1 1020.5 712.2 1021.2 713.8C1021.9 715.4 1019.1 718.4 1019.9 720.1C1020.7 721.8 1025.2 722.3 1025.9 723.9C1026.6 725.6 1024.1 728.4 1024.1 730.3C1024.2 732.2 1024.9 733.8 1026.1 735.3C1027.3 736.8 1030.3 737.6 1031.3 739.2C1032.3 740.9 1032.5 743.2 1032.1 745.2C1031.8 747.2 1029.8 749.3 1029 751.3C1028.2 753.4 1027.8 755.5 1027.2 757.5C1026.7 759.6 1026.1 761.7 1025.7 763.7C1025.3 765.7 1025 767.4 1024.9 769.6C1024.8 771.8 1026 775.2 1025 777C1024.1 778.8 1020.7 779 1019 780.3C1017.4 781.6 1015.9 782.8 1015.2 784.7C1014.5 786.6 1015.9 789.9 1014.8 791.6C1013.7 793.3 1010.3 793.4 1008.9 794.6C1007.4 795.9 1006.8 797.3 1006.2 799.2C1005.6 801.1 1006.6 804.6 1005.4 805.9C1004.2 807.3 1000.9 806.6 999 807.3C997 808 995.5 808.9 993.8 810.1C992.1 811.4 989.8 813.2 988.8 814.9C987.8 816.7 987.8 818.6 987.9 820.6C987.9 822.6 989.5 825.1 989.1 827C988.8 829 986.5 830.5 985.7 832.3C984.9 834.1 983.9 835.9 984.3 837.8C984.7 839.8 988.1 842 988.4 843.9C988.6 845.9 985.5 847.6 985.6 849.8C985.7 851.9 988.7 854.3 988.9 856.6C989.2 858.9 986.8 861.3 987.2 863.6C987.7 865.9 991.6 868.3 991.5 870.5C991.4 872.7 988.2 876.8 986.6 876.9C985 876.9 983.2 872.6 982 870.8C980.8 868.9 980 867.5 979.2 865.7C978.4 863.9 978.2 861.8 977.3 860.1C976.4 858.3 974 857.2 973.7 855.3C973.4 853.3 975.1 850.4 975.4 848.2C975.6 846 975.9 844.2 975.4 842C974.9 839.8 972.5 837.1 972.4 835C972.3 832.9 974.2 831.5 974.7 829.5C975.3 827.6 974.5 825.1 975.7 823.2C977 821.4 981.5 820.4 982.4 818.5C983.3 816.7 981 814.5 981 812.2C981.1 810 983.3 806.7 982.8 804.9C982.3 803.1 979.2 802.9 978.1 801.3C977.1 799.7 977.7 797.2 976.4 795.5C975.1 793.7 970.9 792.2 970.4 790.5C969.9 788.8 972.1 786.9 973.3 785.3C974.4 783.7 976.5 782.5 977.5 780.8C978.5 779 979.4 776.7 979.4 774.6C979.4 772.5 977 770 977.5 768.1C978 766.2 981.8 765.3 982.5 763.4C983.3 761.5 981.7 758.8 982 756.8C982.3 754.7 983.5 752.8 984.4 750.9C985.3 749.1 987.2 747.7 987.4 745.7C987.6 743.6 985.8 740.6 985.8 738.6C985.9 736.6 987.8 735.5 987.7 733.6C987.6 731.7 985.7 729.6 985.2 727.4C984.8 725.2 985.9 722.1 984.9 720.4C983.9 718.7 980.4 718.6 979.2 717C977.9 715.4 978.7 712.4 977.5 710.8C976.3 709.1 973.4 708.9 972 707.3C970.7 705.7 969.4 702.9 969.4 701.1C969.5 699.4 971 698.4 972.4 696.9C973.8 695.3 977.9 693.6 977.7 692.1C977.5 690.5 972.5 689.4 971.3 687.7C970.1 685.9 970.8 683.7 970.2 681.7C969.7 679.7 968.6 677.8 968.1 675.7C967.6 673.7 966.5 671.3 967.1 669.5C967.7 667.6 970.3 666.5 971.6 664.8C972.9 663.1 974.3 661.2 974.9 659.2C975.4 657.1 974.7 654.9 974.8 652.7C974.9 650.5 975.1 648.2 975.7 646.1C976.2 644 977.9 642.2 978.2 640.3C978.5 638.3 977.9 636.5 977.4 634.5C976.9 632.5 975.9 630.3 975.2 628.3C974.5 626.3 974.6 624.7 973.4 622.7C972.2 620.7 968.2 618.1 968 616.3C967.7 614.6 970.9 613.7 972 612.2C973.1 610.8 973.6 609.4 974.5 607.8C975.4 606.3 977.3 604.6 977.2 602.7C977 600.9 974.3 598.6 973.4 596.7C972.6 594.8 972.3 593.1 972.3 591.1C972.2 589.2 972.7 587.2 973 585C973.3 582.7 974.9 579.1 974.1 577.6C973.3 576 969.6 576.7 968.2 575.6C966.7 574.5 966.2 572.4 965.3 571.1C964.5 569.8 962.7 569 963.3 567.8C963.9 566.6 966.9 564.9 968.9 563.9C970.9 562.9 973.5 563 975.4 561.9C977.2 560.9 978.3 558.5 980 557.6C981.8 556.8 984.1 557.3 986 556.6C987.8 556 989 554 991.2 553.7Z"/><use href="#b1" fill="none" stroke-width="5.8" stroke-linecap="round" stroke-dasharray="0 7.1"/></g>
<g filter="url(#bump)" fill="#0b0be6" stroke="#0b0be6" stroke-width="2" stroke-linejoin="round"><path id="b2" d="M948.7 570.1C950.5 570.1 951.2 575.4 953 576.1C954.8 576.8 957.7 573.9 959.7 574.1C961.7 574.3 963.9 575.7 965.1 577.3C966.2 578.9 966.1 582.1 966.6 583.9C967.2 585.6 967.9 586.4 968.5 588C969.1 589.7 969.6 591.8 970.1 593.7C970.6 595.7 972 597.8 971.5 599.6C971.1 601.4 968.1 602.6 967.6 604.5C967.1 606.5 968.7 609.2 968.6 611.4C968.5 613.5 966.9 615.4 967.1 617.1C967.2 618.9 968.8 620.4 969.3 621.9C969.9 623.4 970.1 624.8 970.3 626.4C970.6 627.9 971.2 629.8 970.6 631.4C970 633 967.1 634.1 966.7 635.8C966.3 637.6 968.6 640.1 968.1 641.8C967.7 643.6 964.9 644.6 964.3 646.2C963.7 647.9 964.6 649.6 964.6 651.8C964.6 653.9 964.4 656.8 964.2 659.3C963.9 661.7 963.1 664.1 963.1 666.5C963.1 668.9 964.2 671 964.1 673.6C964.1 676.1 964.1 679.6 962.8 681.6C961.5 683.7 957.4 683.8 956.1 685.6C954.9 687.5 955.6 690.5 955.4 692.7C955.3 694.8 954.7 696.5 955.3 698.3C955.8 700.1 958.1 701.6 958.7 703.7C959.4 705.9 960.2 709.5 959.2 711.3C958.1 713 954.4 713 952.4 714.2C950.5 715.4 948.7 716.9 947.6 718.4C946.4 720 946.6 721.8 945.7 723.5C944.7 725.1 942.3 726.4 942.1 728.2C941.9 730.1 944.6 732.8 944.3 734.6C944.1 736.4 941.7 737.3 940.6 739C939.6 740.7 938.4 742.7 938.1 744.7C937.9 746.6 939.9 748.9 939.2 750.7C938.5 752.6 934.7 753.8 934 755.7C933.3 757.6 935 760.3 934.8 762.3C934.7 764.3 933.5 765.6 933.3 767.5C933.1 769.4 933.8 771.7 933.7 773.7C933.6 775.7 933.2 777.7 932.5 779.6C931.7 781.6 930.1 783.6 929.1 785.4C928.2 787.3 927.1 788.7 926.9 790.8C926.8 792.8 927.8 795.6 928.1 797.8C928.5 800.1 928.9 802.2 929 804.4C929.2 806.5 929.1 809 928.9 810.7C928.6 812.5 927.3 813 927.5 814.9C927.8 816.7 929 820.1 930.3 821.8C931.5 823.4 933.9 823.2 935.2 824.8C936.5 826.3 937.4 828.6 938.3 830.9C939.1 833.2 941 836.7 940.4 838.6C939.8 840.6 935.8 840.7 934.6 842.5C933.5 844.4 934.7 848.4 933.5 849.9C932.3 851.5 929.3 850.6 927.5 851.8C925.7 853.1 923.7 857.9 922.7 857.5C921.7 857.1 921.5 852.1 921.6 849.5C921.7 847 922.8 844.4 923.2 842.1C923.6 839.7 924.7 837.3 924.2 835.4C923.7 833.5 920.9 832.7 920.2 830.8C919.6 829 920.9 826.1 920.4 824.3C919.8 822.5 918.3 821.2 917.1 819.9C915.9 818.5 914.3 817.8 913.2 816.4C912.2 815.1 911.7 812.8 910.9 811.7C910 810.5 909.7 810.6 908.2 809.7C906.7 808.8 903.8 806.9 901.8 806.2C899.8 805.5 898.1 805.2 896.1 805.4C894.2 805.6 892.1 807.5 890.2 807.4C888.3 807.2 886.2 806 884.7 804.6C883.3 803.1 883.1 800 881.3 798.8C879.5 797.5 875.8 798.3 873.8 797C871.8 795.8 869.9 793.6 869.5 791.3C869 789 871.3 785.8 870.9 783.4C870.5 781 868.2 779 867.2 776.9C866.2 774.9 865.6 772.8 864.8 770.8C863.9 768.9 863 766.8 861.9 765.1C860.8 763.4 859.2 762.4 858.1 760.8C856.9 759.3 856.1 757.5 855 755.8C853.9 754 852.3 752.3 851.5 750.6C850.6 748.8 850 747 849.9 745.2C849.8 743.4 850.2 741.5 850.9 739.7C851.6 737.8 853.6 736.2 854.1 734.3C854.5 732.4 853.4 730.4 853.7 728.3C853.9 726.1 854.3 722.6 855.6 721.3C856.8 719.9 859.5 720.4 861.3 720.1C863.1 719.7 864.6 719.8 866.4 719.3C868.2 718.8 870.3 717.3 872.1 717.2C874 717.1 875.6 718 877.4 718.6C879.2 719.3 880.8 720.9 882.9 721C885 721.2 888.3 718.9 890.3 719.6C892.2 720.2 892.8 723.6 894.6 724.7C896.4 725.8 898.8 725.9 900.9 725.9C903 725.9 905.1 724.5 907.1 724.6C909.2 724.6 911.2 725.4 913.1 726.1C915.1 726.8 917.4 729.4 918.8 728.9C920.2 728.4 921.5 725.4 921.5 723.2C921.5 721.1 919.4 718.2 918.8 716.1C918.3 714 917.8 712.4 918.2 710.4C918.5 708.4 920.4 706.2 920.9 704.2C921.5 702.2 921 700.3 921.4 698.3C921.8 696.4 923.2 694.4 923.4 692.5C923.5 690.6 923.1 688.6 922.3 686.7C921.5 684.8 919.6 683.1 918.8 681.2C918 679.4 916.9 677.3 917.4 675.5C917.9 673.8 921.2 672.8 921.9 670.8C922.6 668.7 921.1 665.4 921.5 663.2C922 661 922.9 659.2 924.5 657.8C926.1 656.3 929.7 656.2 931.1 654.6C932.6 653.1 932 650.5 933 648.6C934.1 646.7 937 645 937.3 643.4C937.6 641.7 935.6 640.3 934.9 638.8C934.2 637.3 933.6 636.1 933 634.3C932.3 632.6 930.5 630 931.1 628.3C931.7 626.5 935.5 625.7 936.4 624C937.4 622.2 936.3 619.6 936.7 617.7C937.1 615.8 938.9 614.2 938.9 612.5C938.9 610.9 937.5 609.4 936.8 607.8C936.1 606.1 935.1 604.5 934.6 602.6C934.1 600.8 934.4 598.6 934.1 596.7C933.8 594.8 933.3 593.2 932.9 591.3C932.5 589.4 931.3 587.8 931.7 585.2C932 582.5 933 576.9 934.8 575.4C936.5 573.9 939.8 576.9 942.1 576C944.5 575.1 946.9 570.1 948.7 570.1Z"/><use href="#b2" fill="none" stroke-width="5.8" stroke-linecap="round" stroke-dasharray="0 7.1"/></g>
<g filter="url(#bump)" fill="#0b0be6" stroke="#0b0be6" stroke-width="2" stroke-linejoin="round"><path id="b3" d="M901.9 873.2C902.6 872 903.1 871.3 904.1 870.5C905.1 869.6 907 867.8 907.8 868C908.6 868.3 908.5 870.5 909 871.8C909.5 873.2 910.8 874.9 910.7 876C910.6 877.1 909 877.7 908.2 878.5C907.3 879.2 906.5 880.6 905.7 880.5C904.8 880.5 904.2 878.8 903.1 878.2C902.1 877.7 899.6 878.3 899.4 877.5C899.2 876.7 901.1 874.3 901.9 873.2Z"/><use href="#b3" fill="none" stroke-width="4.8" stroke-linecap="round" stroke-dasharray="0 6.1"/></g>
<g filter="url(#bump)" fill="#70acf6" stroke="#70acf6" stroke-width="2" stroke-linejoin="round"><path id="b4" d="M894.9 550.5C896.6 550.1 899.4 550 901.4 550.4C903.4 550.8 905.1 551.7 906.8 552.7C908.4 553.7 909.3 555.1 911.2 556.3C913.2 557.6 917.5 558.6 918.3 560.1C919.1 561.7 916.5 563.9 916.3 565.7C916.1 567.5 917.3 569.1 917.1 570.9C916.8 572.7 915 574.5 914.7 576.7C914.4 578.8 914.8 581.9 915.3 583.8C915.8 585.7 918.2 586.7 917.6 588.1C917 589.6 913.9 591.1 911.7 592.3C909.6 593.6 905.8 594.4 904.7 595.8C903.6 597.3 904.8 599.2 905 601C905.2 602.8 906 605 905.9 606.7C905.9 608.3 905.1 609.4 905 611C904.8 612.7 905.1 614.7 905.1 616.7C905.1 618.7 905.3 621.1 905 623.3C904.7 625.5 903.1 628 903.2 630C903.3 632.1 904.7 633.5 905.4 635.6C906.1 637.7 905.8 640.6 907.4 642.4C909 644.3 913.2 644.8 915 646.6C916.7 648.4 917.6 650.9 917.9 653.3C918.3 655.6 918 658.5 917.3 660.6C916.5 662.8 914.4 664.1 913.5 666C912.6 667.9 912.2 670.1 912 672.1C911.7 674.1 911.7 676.2 912 678C912.4 679.7 913.5 681 914.1 682.7C914.7 684.3 915.2 686.2 915.7 688C916.1 689.8 916.4 691.5 916.9 693.4C917.3 695.3 917.8 697.4 918.5 699.2C919.1 701 920.2 702.4 920.8 704.2C921.4 706 922.4 707.8 922.2 710C922.1 712.2 919.7 715.4 920 717.6C920.3 719.7 922.7 721.3 923.9 722.8C925.1 724.3 925.9 725.2 927.2 726.5C928.4 727.7 929.9 729.5 931.3 730.4C932.8 731.3 934.9 732.5 935.9 731.6C936.9 730.7 936.3 726.9 937.4 725C938.4 723.2 940.6 722.3 942 720.5C943.4 718.8 944.7 714.4 945.6 714.3C946.6 714.3 946.5 718.5 947.6 720.1C948.7 721.7 951.1 722.4 952.4 723.9C953.7 725.4 954.1 728.2 955.4 729.3C956.7 730.4 958.6 730.3 960.2 730.7C961.8 731.1 963.1 731.2 964.9 731.7C966.7 732.2 968.9 733 970.9 733.7C972.9 734.3 974.9 734.7 976.8 735.7C978.8 736.7 981.5 737.9 982.7 739.6C983.8 741.3 982.6 744.5 983.8 745.7C985 746.9 988.6 745.9 990 746.8C991.3 747.6 991.6 749.3 992 750.9C992.3 752.6 992.5 754.9 992.2 756.8C991.9 758.6 991.3 760.2 990.3 762.1C989.4 763.9 988.1 766.2 986.5 767.9C984.9 769.6 982 770.6 980.8 772.3C979.6 774.1 980.8 777.4 979.3 778.4C977.8 779.5 973.6 777.9 972 778.7C970.3 779.5 970.4 781.9 969.3 783.4C968.3 784.9 967 786.7 965.6 787.8C964.2 789 962.5 788.6 961.1 790.3C959.7 791.9 957.9 795.1 957.5 797.6C957 800.1 958.8 803.7 958.2 805.5C957.6 807.3 955.3 807.4 953.9 808.4C952.4 809.4 950.6 809.9 949.6 811.4C948.5 812.9 949 816.8 947.6 817.4C946.1 818.1 942.9 814.9 940.9 815.4C938.9 815.8 938 820.1 935.8 820.2C933.5 820.3 929.3 817.5 927.4 815.9C925.5 814.4 925.7 812.2 924.3 811.1C922.9 809.9 920.2 809.9 918.8 808.9C917.5 807.9 917.3 806.2 916.2 804.9C915.1 803.5 913.4 800.6 912.4 800.8C911.4 801 911.5 804.8 910.3 806.1C909.1 807.3 906.1 806.9 905.2 808.5C904.3 810 904.7 813.3 905 815.5C905.2 817.8 905.6 819.9 906.7 821.8C907.8 823.7 910.3 825 911.7 826.8C913.1 828.6 914.3 830.6 915.2 832.4C916.1 834.2 917 835.8 917.1 837.8C917.2 839.9 915.9 842.6 915.7 844.6C915.5 846.5 915.4 847.9 916.1 849.4C916.9 851 919.7 852.3 920.2 854.1C920.8 855.8 919 858.1 919.6 859.7C920.2 861.4 922.5 862.7 923.9 863.9C925.3 865.1 927.3 865.6 928 866.9C928.8 868.3 928.4 870.7 928.3 872.1C928.2 873.4 926.9 873 927.4 875C927.8 877.1 932.1 882.5 931 884.4C929.9 886.3 922.6 887.2 920.8 886.7C919.1 886.2 921.3 882.7 920.5 881.3C919.6 880 916.5 880.1 915.7 878.7C914.8 877.3 916 874.4 915.4 872.8C914.9 871.2 913.1 870.6 912.2 869C911.3 867.4 910.5 865.3 909.9 863.3C909.3 861.3 909.7 858.6 908.7 856.9C907.6 855.3 904.8 854.9 903.6 853.5C902.3 852.2 901.3 850.6 901 848.8C900.7 847.1 902.3 844.8 901.7 843C901.2 841.2 897.7 840 897.7 838.2C897.7 836.3 901.4 834 901.5 832.1C901.6 830.2 898.8 828.5 898.4 826.6C898.1 824.8 898.8 822.4 899.6 821C900.3 819.7 902.3 820 902.9 818.6C903.6 817.2 903.3 814.9 903.4 812.8C903.5 810.7 904.5 807.4 903.4 806.2C902.2 805.1 898.3 806.7 896.6 805.8C894.8 805 893.9 802.6 892.8 800.9C891.7 799.2 891.3 797.2 889.9 795.6C888.6 794 885.2 793.3 884.9 791.3C884.5 789.4 887.3 786.3 887.7 783.9C888.1 781.4 887.5 778.6 887 776.5C886.6 774.5 886.2 773.1 885 771.6C883.9 770.1 881 769.3 880.1 767.7C879.2 766.1 880.3 763.9 879.7 761.8C879.1 759.7 877.6 757.6 876.6 755.2C875.6 752.7 873.7 749.2 873.7 747.1C873.8 745 875.9 744 876.9 742.4C877.8 740.8 878.7 739 879.6 737.5C880.5 736 881.9 735 882.4 733.5C882.8 732 881.9 730.1 882.3 728.5C882.7 726.8 884.6 725 885 723.5C885.3 722 884.5 720.9 884.2 719.3C883.9 717.6 884.1 715.3 883.3 713.5C882.6 711.8 880.5 710.4 879.6 708.6C878.8 706.9 879.2 704.9 878.3 703.1C877.4 701.2 875.7 699.1 874.1 697.7C872.5 696.3 868.8 695.5 868.6 694.7C868.5 693.8 871.9 693.8 873.4 692.5C874.8 691.3 877.3 689 877.3 687.2C877.3 685.4 873.6 683.8 873.5 681.8C873.4 679.8 876.6 677.4 876.6 675.2C876.6 673.1 873.7 671 873.6 669.1C873.5 667.1 875.6 665.6 875.8 663.7C876 661.9 874.9 659.9 874.6 658C874.2 656.1 874 654.3 873.8 652.3C873.6 650.4 873.1 648.4 873.6 646.2C874 644 876.5 641 876.5 639.1C876.5 637.2 874.5 636.1 873.4 634.8C872.2 633.6 870.9 632.5 869.3 631.4C867.7 630.4 864.1 629.8 863.6 628.3C863 626.7 866.2 624 865.9 622.2C865.7 620.4 862.6 619.2 862.2 617.3C861.8 615.5 863 612.9 863.5 611.1C864 609.4 864.5 608.4 865.4 606.9C866.3 605.4 868.6 603.7 868.8 602.1C869 600.5 867.1 599.4 866.7 597.3C866.3 595.2 866.7 592.2 866.6 589.7C866.5 587.2 866 584.9 866.2 582.5C866.3 580.2 866.3 577.5 867.4 575.4C868.5 573.4 871.3 572.3 872.7 570.3C874.1 568.3 874.8 565.6 876.1 563.3C877.3 561 878.3 557.7 880 556.5C881.8 555.3 884.8 556.9 886.7 556.3C888.6 555.7 889.9 553.7 891.2 552.8C892.6 551.8 893.2 550.9 894.9 550.5Z"/><use href="#b4" fill="none" stroke-width="5.8" stroke-linecap="round" stroke-dasharray="0 7.1"/></g>
<g filter="url(#bump)" fill="#0b0be6" stroke="#0b0be6" stroke-width="2" stroke-linejoin="round"><path id="b5" d="M1076.4 583.8C1075 583.6 1073.3 585.6 1071.5 586.3C1069.7 587 1067.5 586.8 1065.6 587.8C1063.7 588.8 1060.9 590.5 1059.9 592.4C1059 594.2 1059.1 597 1059.9 598.9C1060.6 600.9 1063.6 602 1064.4 604.1C1065.3 606.2 1063.9 609.5 1065 611.5C1066.2 613.5 1070.6 614 1071.4 616.1C1072.1 618.1 1069.8 621.5 1069.6 623.7C1069.3 625.9 1069.1 627.7 1070.1 629.3C1071.1 630.8 1073.8 631.7 1075.5 632.9C1077.3 634.1 1078.6 635.6 1080.5 636.4C1082.4 637.2 1084.8 637 1086.8 637.7C1088.8 638.3 1090.7 639.1 1092.5 640.1C1094.3 641.1 1096 642.4 1097.7 643.5C1099.4 644.5 1101 646 1102.9 646.6C1104.8 647.1 1107.2 646.4 1109.2 646.9C1111.1 647.3 1112.8 648.9 1114.7 649.2C1116.6 649.4 1118.7 648.3 1120.6 648.5C1122.4 648.6 1124.5 649.2 1126 650.1C1127.5 650.9 1128.1 652.8 1129.5 653.6C1130.8 654.4 1133 653.8 1134.2 654.9C1135.4 656 1136.8 658.4 1136.6 660.3C1136.5 662.2 1133.1 664.4 1133.2 666.3C1133.3 668.2 1136.6 669.8 1137.2 671.7C1137.9 673.6 1137.3 675.4 1137.1 677.7C1136.8 680.1 1134.8 684.7 1135.8 685.9C1136.8 687.1 1141.2 684.6 1143.2 685.1C1145.1 685.6 1146.1 687.7 1147.5 688.9C1148.8 690.1 1150.6 691 1151.3 692.5C1152 694.1 1151.5 696.2 1151.9 698.2C1152.2 700.1 1152.9 702.1 1153.2 704.1C1153.6 706.1 1153 708.9 1154 710.3C1155.1 711.8 1157.8 711.7 1159.5 712.7C1161.2 713.6 1162.7 714.6 1164.1 715.9C1165.4 717.3 1166.5 719.3 1167.5 720.9C1168.5 722.5 1169.8 723.9 1170 725.8C1170.1 727.7 1168.1 730.4 1168.6 732.2C1169.1 734.1 1172.2 735.2 1172.9 737C1173.6 738.8 1171.8 741.2 1172.5 742.9C1173.3 744.6 1176.9 745.4 1177.5 747.1C1178 748.8 1175.9 751 1175.8 753.1C1175.8 755.1 1176.7 757.2 1177.3 759.3C1178 761.3 1178.7 763.3 1179.7 765.3C1180.7 767.4 1182.9 769.3 1183.4 771.5C1183.8 773.6 1182.2 776.1 1182.5 778.3C1182.7 780.5 1184.8 782.6 1184.9 784.8C1185 787 1183.3 789.3 1183 791.5C1182.7 793.8 1183.3 796.1 1183.1 798.3C1182.9 800.5 1181.7 802.6 1181.7 804.6C1181.7 806.6 1182.9 808.4 1183 810.3C1183.1 812.3 1182.9 814.3 1182.4 816.3C1182 818.4 1180.2 820.6 1180.3 822.6C1180.3 824.6 1182.5 826.5 1182.8 828.4C1183.1 830.3 1181.8 832.1 1182.1 834C1182.4 835.9 1183.8 837.8 1184.6 839.8C1185.3 841.7 1187.1 844.1 1186.6 845.8C1186.2 847.5 1182.4 848.2 1182 849.8C1181.6 851.4 1184.4 853.9 1184.1 855.6C1183.7 857.3 1180.7 858.3 1180 859.9C1179.3 861.6 1179.5 863.4 1179.9 865.6C1180.2 867.7 1182.6 871.9 1182.3 872.8C1182 873.6 1179.3 871.4 1178.1 870.7C1176.9 870 1175.9 869.7 1174.9 868.5C1174 867.2 1172.3 865.1 1172.3 863.3C1172.2 861.5 1174.4 859.7 1174.5 857.6C1174.7 855.6 1172.9 853.1 1173 851C1173.1 849 1174.7 847.2 1175.2 845.2C1175.7 843.3 1175.9 841.5 1176 839.4C1176.1 837.3 1176.1 834.9 1175.8 832.9C1175.5 830.8 1175.1 828.9 1174.3 827C1173.4 825.2 1171.5 823.9 1170.8 821.9C1170 819.8 1170.3 816.9 1169.9 814.7C1169.4 812.4 1169.1 809.9 1168.2 808.1C1167.3 806.3 1165.8 805.5 1164.4 803.9C1163.1 802.2 1161 798.3 1160 798.3C1159.1 798.3 1159.3 802.4 1158.8 804.1C1158.3 805.9 1157.4 807.1 1156.8 808.8C1156.1 810.6 1156.1 813.1 1154.9 814.6C1153.7 816.2 1151.6 818.3 1149.6 818C1147.7 817.6 1145.6 813.7 1143.1 812.8C1140.7 811.9 1136.3 813.7 1134.9 812.7C1133.5 811.6 1135 808.6 1134.7 806.5C1134.4 804.3 1133.4 802.1 1133.1 799.9C1132.7 797.7 1133.4 795.3 1132.8 793.4C1132.1 791.4 1129.3 790.2 1128.9 788.1C1128.5 786 1130.2 782.9 1130.3 780.7C1130.3 778.5 1129.9 776.7 1129.1 774.9C1128.3 773.1 1126.3 771.6 1125.5 769.8C1124.7 767.9 1124.8 765.8 1124.3 763.8C1123.8 761.9 1123.2 759.9 1122.6 758C1122.1 756.2 1121.4 754.4 1120.8 752.5C1120.2 750.6 1119.9 748.6 1119.2 746.7C1118.5 744.7 1116.7 742.9 1116.4 740.9C1116.1 738.9 1117.5 736.6 1117.3 734.6C1117.1 732.6 1115.9 730.7 1115.2 728.8C1114.5 726.9 1113.4 725.1 1113.1 723.1C1112.7 721.1 1113.5 718.7 1113 716.8C1112.4 714.9 1110.2 713.4 1109.8 711.5C1109.4 709.6 1110.6 707.5 1110.4 705.5C1110.1 703.5 1108.8 701.4 1108.2 699.5C1107.7 697.6 1107.3 695.9 1106.9 693.9C1106.5 692 1106.3 689.7 1106 687.7C1105.6 685.8 1105.6 684.3 1104.9 682.4C1104.2 680.5 1102.4 678.4 1101.6 676.5C1100.8 674.5 1100.6 672.7 1100.1 670.9C1099.6 669 1098.9 667.2 1098.5 665.3C1098.1 663.4 1097.7 661.6 1097.8 659.5C1097.8 657.4 1099.1 654.8 1098.7 652.8C1098.3 650.8 1095.8 649.5 1095.4 647.5C1094.9 645.5 1096.7 642.8 1096.1 640.9C1095.6 639 1093 637.8 1092.3 636C1091.6 634.1 1092.2 631.8 1091.9 629.8C1091.7 627.8 1091.7 626 1090.8 624.1C1089.8 622.2 1087 620.4 1086.2 618.5C1085.4 616.5 1086 614.4 1085.9 612.4C1085.8 610.4 1086 608.4 1085.7 606.3C1085.4 604.2 1085 601.9 1084.1 599.9C1083.2 597.9 1080.8 596.4 1080.1 594.3C1079.4 592.2 1080.4 589.2 1079.8 587.4C1079.1 585.7 1077.8 584 1076.4 583.8Z"/><use href="#b5" fill="none" stroke-width="5.8" stroke-linecap="round" stroke-dasharray="0 7.1"/></g>
<g filter="url(#bump)" fill="#a585f2" stroke="#a585f2" stroke-width="2" stroke-linejoin="round"><path id="b6" d="M1138.5 581.7C1140.3 580.9 1143.3 578.2 1145.2 578.4C1147.1 578.7 1148.2 582.1 1149.9 582.9C1151.6 583.7 1153.3 582.7 1155.3 583.1C1157.3 583.5 1160.1 583.8 1161.9 585C1163.6 586.2 1165.1 588.4 1165.8 590.2C1166.4 592 1166.5 593.9 1165.9 595.9C1165.4 597.8 1163 599.9 1162.5 601.9C1162 603.8 1162.7 605.7 1163.1 607.5C1163.5 609.3 1164.4 610.8 1164.9 612.5C1165.4 614.2 1165.7 616 1166.2 617.7C1166.7 619.3 1167.3 620.7 1168.1 622.5C1168.9 624.3 1170.7 626.5 1171.1 628.7C1171.6 630.9 1171.1 633.3 1170.8 635.6C1170.5 637.9 1168.7 640.5 1169.1 642.3C1169.6 644.2 1172.8 645 1173.5 646.8C1174.3 648.7 1173.2 651.4 1173.8 653.4C1174.3 655.3 1175.6 657 1176.7 658.7C1177.8 660.4 1178.7 662.2 1180.4 663.5C1182 664.8 1184.9 665 1186.7 666.3C1188.6 667.7 1190.3 669.7 1191.4 671.4C1192.4 673.2 1192.5 675.1 1193.1 677.1C1193.7 679 1194.6 681.4 1195.2 683.4C1195.8 685.4 1196.2 687.2 1196.7 689.1C1197.2 690.9 1197.3 693.1 1198.2 694.5C1199.1 696 1200.3 696.9 1202 697.7C1203.7 698.6 1206.6 699.7 1208.6 699.4C1210.6 699.2 1212 696.5 1214 696.1C1216 695.6 1218.8 697.2 1220.7 696.5C1222.5 695.9 1223.4 692.7 1225.3 692.2C1227.2 691.7 1229.8 693.9 1232.1 693.4C1234.3 692.9 1237.8 688.9 1238.8 689.3C1239.9 689.8 1238.2 693.9 1238.4 696.2C1238.6 698.4 1239 701.1 1240.2 702.8C1241.5 704.4 1244.3 704.8 1246 706C1247.8 707.2 1249.4 708.6 1250.9 710.1C1252.4 711.6 1255 713.1 1255.3 715.1C1255.6 717 1253.4 719.7 1252.6 721.8C1251.9 724 1250.7 725.8 1250.8 727.9C1250.9 730.1 1253 732.3 1253.1 734.6C1253.3 737 1251.9 739.5 1251.7 741.9C1251.6 744.3 1251.3 746.7 1252.2 749C1253.1 751.3 1256.8 753.8 1256.9 755.7C1257.1 757.6 1253.9 758.7 1252.9 760.3C1251.8 761.9 1251.4 763.6 1250.8 765.2C1250.2 766.8 1249.8 768.2 1249.3 769.9C1248.8 771.5 1248.7 773.6 1247.9 775.3C1247.2 776.9 1245.5 778.1 1244.9 779.9C1244.4 781.6 1245.3 783.8 1244.7 785.5C1244.2 787.2 1242.3 788.5 1241.5 790.2C1240.6 791.9 1240.7 794.1 1239.7 795.7C1238.6 797.2 1236.8 798.4 1235.1 799.4C1233.5 800.3 1231.4 800.7 1229.7 801.2C1228.1 801.7 1225.6 801.2 1224.9 802.3C1224.3 803.4 1225.2 806.2 1225.9 807.8C1226.7 809.3 1229 810.3 1229.5 811.8C1230 813.4 1228.8 815.4 1228.9 817.2C1229 819.1 1229.5 821.2 1230.2 823C1230.9 824.8 1232.3 825.9 1233.1 828C1233.9 830.1 1234.4 833.2 1234.9 835.7C1235.4 838.2 1236 840.7 1236.2 843C1236.4 845.4 1235.7 847.8 1235.9 849.8C1236 851.8 1237.1 853.3 1237 855.1C1236.8 856.9 1236.1 858.9 1235 860.6C1233.9 862.3 1231.5 863.7 1230.5 865.2C1229.5 866.8 1229.2 868.3 1229.2 869.9C1229.3 871.5 1231.9 874.5 1230.8 874.7C1229.8 874.9 1223.8 872.7 1223 870.9C1222.1 869.1 1225.2 866.1 1225.6 863.8C1226.1 861.5 1226 859.5 1225.6 857.4C1225.2 855.2 1223.2 853.1 1223.2 851.1C1223.1 849.1 1224.8 847.4 1225.4 845.3C1226 843.2 1227 840.6 1226.8 838.5C1226.6 836.5 1225 835.1 1224.3 833.2C1223.6 831.3 1223.7 828.9 1222.5 827C1221.3 825.1 1217.7 823.7 1217.3 821.8C1216.9 820 1220 817.8 1220 815.9C1220 814.1 1218.5 812.3 1217.5 810.9C1216.5 809.5 1215 809 1214 807.4C1213 805.7 1212.8 802.5 1211.3 801.2C1209.9 800 1206.9 800.8 1205.3 799.8C1203.8 798.8 1203.2 796.7 1202 795.3C1200.7 793.9 1199.5 792 1197.6 791.6C1195.7 791.2 1192 794.1 1190.4 793.2C1188.8 792.2 1189.3 788 1188.2 785.9C1187.1 783.7 1185 782.3 1183.7 780.3C1182.4 778.3 1181.8 775.8 1180.4 773.9C1179 772.1 1176 771.1 1175.4 769.3C1174.8 767.6 1176.8 765.2 1176.5 763.4C1176.2 761.5 1174.2 760 1173.5 758.1C1172.9 756.2 1172.8 753.8 1172.6 751.8C1172.5 749.8 1173.1 748.2 1172.5 746.3C1171.8 744.4 1168.7 742.5 1168.8 740.4C1168.8 738.4 1172.7 736.1 1172.8 734.1C1172.9 732.2 1169.6 730.9 1169.1 728.8C1168.6 726.7 1171 723.1 1169.7 721.7C1168.5 720.2 1163.7 721.2 1161.7 720.2C1159.7 719.2 1158.7 717.5 1157.8 715.7C1156.9 713.8 1157 711 1156.2 709.2C1155.3 707.3 1153.4 706.1 1152.4 704.5C1151.4 702.9 1150.9 701.2 1150.1 699.6C1149.3 697.9 1148.4 696.2 1147.5 694.6C1146.6 693 1145.5 691.8 1144.7 690.3C1143.9 688.7 1143.3 686.9 1142.6 685.3C1141.9 683.8 1141.5 682.1 1140.2 680.7C1139 679.3 1136.5 678.7 1135.3 677.2C1134.1 675.7 1133.4 673.6 1132.9 671.6C1132.3 669.5 1132.9 667 1132.1 664.9C1131.3 662.8 1128.1 661 1127.9 659.2C1127.7 657.3 1130.2 655.8 1131 653.9C1131.7 652.1 1132.2 650.1 1132.4 648C1132.6 645.9 1133.1 643 1132.4 641.3C1131.7 639.5 1129.1 639.2 1128.3 637.6C1127.5 636.1 1128.4 633.9 1127.4 632.1C1126.5 630.3 1122.8 628.6 1122.5 626.7C1122.2 624.9 1124.7 622.8 1125.4 621.1C1126.1 619.4 1126.2 618.7 1126.8 616.7C1127.4 614.7 1128.4 611.7 1128.8 609.2C1129.1 606.7 1129.4 604.1 1129 601.8C1128.7 599.6 1127.1 597.7 1126.8 595.5C1126.5 593.4 1126.8 591.3 1127.1 589.2C1127.5 587.1 1127.5 583.7 1128.7 582.7C1129.9 581.8 1132.8 583.5 1134.4 583.3C1136 583.1 1136.7 582.5 1138.5 581.7Z"/><use href="#b6" fill="none" stroke-width="5.8" stroke-linecap="round" stroke-dasharray="0 7.1"/></g>
<g filter="url(#bump)" fill="#70acf6" stroke="#70acf6" stroke-width="2" stroke-linejoin="round"><path id="b7" d="M1110.2 538.6C1112.1 539 1113.4 540.6 1115.2 540.9C1117 541.3 1119.1 540.7 1121.1 540.7C1123.1 540.7 1125.5 540 1127.2 541C1129 542 1130.7 544.7 1131.8 546.4C1132.9 548.2 1133.7 549.8 1133.9 551.7C1134.2 553.6 1133.5 555.8 1133.2 557.7C1133 559.6 1132.4 561.1 1132.4 563.1C1132.3 565 1133.6 568 1132.8 569.5C1132 571.1 1129 571.2 1127.6 572.4C1126.1 573.7 1125 575.1 1124.1 576.9C1123.2 578.7 1122.3 581.1 1122.2 583.2C1122.2 585.3 1123.5 587.8 1123.9 589.8C1124.4 591.8 1124.9 592.9 1124.9 595C1125 597.1 1124.6 600.1 1124.3 602.4C1124 604.8 1122.7 607 1123.1 609.3C1123.4 611.6 1126.1 614.2 1126.4 616.3C1126.7 618.4 1125.7 620.3 1125 622.1C1124.2 623.9 1122 625.4 1121.8 627.1C1121.6 628.8 1123.3 630.8 1123.8 632.3C1124.3 633.9 1124.5 634.8 1124.8 636.4C1125.1 638.1 1125.7 640.4 1125.7 642.3C1125.8 644.2 1125.2 645.9 1125.1 647.8C1125 649.7 1125.6 651.8 1125.4 653.8C1125.1 655.9 1123.8 658.2 1123.8 660.1C1123.9 662.1 1125.1 663.5 1125.7 665.4C1126.4 667.3 1127.2 669.3 1127.6 671.3C1128 673.3 1127.3 675.4 1128.1 677.4C1128.9 679.3 1131.9 681.2 1132.2 683C1132.6 684.8 1131.1 686.6 1130.2 688.4C1129.3 690.2 1128 692 1126.9 694C1125.7 695.9 1123.7 698.2 1123.3 700.3C1122.9 702.5 1123.6 704.7 1124.4 706.7C1125.3 708.7 1127.5 710.3 1128.2 712.5C1129 714.7 1128.2 718.3 1129.1 719.7C1130 721.2 1131.8 721.7 1133.6 721.4C1135.3 721.1 1138.3 717.3 1139.6 718C1140.8 718.7 1140.2 723.3 1141.1 725.5C1141.9 727.7 1143.5 729.7 1144.9 731.2C1146.4 732.7 1148.5 732.9 1149.7 734.2C1151 735.5 1151.5 737.8 1152.3 738.9C1153.1 740 1153.3 741.1 1154.4 741C1155.5 740.8 1157.4 739.1 1158.9 738.1C1160.3 737.1 1161.9 736 1163 734.9C1164.2 733.8 1164.6 732.9 1165.9 731.6C1167.2 730.4 1168.8 728.4 1170.8 727.5C1172.7 726.5 1175.9 725.2 1177.6 726C1179.3 726.8 1179.4 731 1180.9 732.3C1182.4 733.6 1184.3 733.1 1186.4 733.9C1188.5 734.7 1192 735.5 1193.3 737.3C1194.5 739 1193.2 742.3 1193.9 744.5C1194.6 746.8 1197.3 748.8 1197.7 750.7C1198.1 752.6 1197.1 754.3 1196.5 756C1195.8 757.7 1194.9 759.4 1193.9 760.9C1193 762.4 1191.9 763.8 1190.8 765.1C1189.7 766.4 1188.5 767.5 1187.2 768.9C1186 770.3 1184.5 771.5 1183.2 773.3C1181.8 775 1180.8 778.6 1179.1 779.4C1177.4 780.1 1175 777.9 1172.8 778C1170.6 778.1 1167.1 778.7 1165.9 780C1164.7 781.3 1165.8 783.9 1165.6 785.8C1165.4 787.7 1165.9 789.9 1164.8 791.4C1163.7 792.9 1160.2 793.1 1159 794.7C1157.8 796.2 1158.5 799 1157.8 800.8C1157.1 802.7 1156.5 804.3 1154.9 805.6C1153.3 807 1150.8 808.5 1148.4 808.9C1145.9 809.2 1142.3 807.4 1140.2 807.8C1138 808.2 1137.1 810.1 1135.6 811.3C1134.2 812.5 1132.9 813.6 1131.6 815.1C1130.3 816.7 1128.6 818.6 1127.8 820.8C1126.9 823 1126.4 826.4 1126.4 828.5C1126.3 830.6 1126.6 831.7 1127.5 833.3C1128.3 834.8 1131.3 835.9 1131.7 837.6C1132 839.3 1129.1 841.9 1129.6 843.6C1130.1 845.2 1134 846 1134.6 847.6C1135.2 849.3 1133.4 851.3 1133.1 853.4C1132.8 855.5 1133.2 858.2 1132.6 860.1C1132 862.1 1130.6 862.9 1129.5 865.2C1128.4 867.5 1127.3 873.4 1125.9 873.8C1124.4 874.2 1122.1 869.7 1120.8 867.5C1119.4 865.4 1118 863 1117.6 860.8C1117.2 858.5 1118.5 856.4 1118.3 854.1C1118.2 851.7 1117.4 849.1 1116.9 846.7C1116.5 844.2 1115.4 841.7 1115.6 839.4C1115.8 837.2 1118.3 835.2 1118.1 833.3C1117.9 831.4 1114.8 830 1114.4 828.1C1114 826.2 1116.1 824 1115.8 822C1115.6 820 1113.9 817.7 1113 815.8C1112 814 1110.4 812.7 1110 810.9C1109.6 809 1110.6 806.7 1110.5 804.7C1110.3 802.6 1109.8 800.5 1109.2 798.6C1108.6 796.7 1107.4 795.7 1106.8 793.4C1106.3 791.1 1106.8 787.2 1105.9 785.1C1105 783 1102.6 782.8 1101.5 780.8C1100.4 778.8 1100.4 775.3 1099.3 773.1C1098.2 771 1095.6 770 1094.6 768C1093.6 766 1094.3 763.1 1093.3 761.2C1092.4 759.3 1090.1 758.3 1088.8 756.7C1087.6 755.2 1086.7 753.6 1085.8 751.8C1084.8 750.1 1083.2 748 1083 746.3C1082.9 744.5 1084.6 743.2 1084.9 741.3C1085.2 739.4 1084.7 736.9 1084.6 734.9C1084.5 732.9 1083.9 731 1084.4 729.1C1084.8 727.2 1086.4 725.4 1087.2 723.5C1088 721.6 1087.9 719.6 1089 717.7C1090.2 715.8 1094 714.1 1094.1 712.2C1094.3 710.3 1090.3 708.3 1089.9 706.3C1089.4 704.3 1091.3 702.3 1091.6 700.2C1091.9 698.1 1092.3 695.8 1091.7 693.8C1091 691.8 1088.7 690 1087.5 688.1C1086.3 686.1 1085.8 683.4 1084.4 682.1C1083 680.8 1079.3 681.3 1079 680.3C1078.6 679.3 1080.8 677.5 1082.2 676C1083.6 674.6 1087.4 673.1 1087.4 671.5C1087.4 669.8 1082.6 668.1 1082.3 666.1C1082 664.2 1085.4 661.8 1085.3 659.7C1085.3 657.7 1081.9 655.5 1082.2 653.7C1082.5 651.9 1085.8 650.6 1087.1 648.8C1088.3 646.9 1089.6 644.3 1089.7 642.5C1089.8 640.6 1087.4 639.3 1087.6 637.6C1087.8 635.8 1090.9 633.7 1090.8 632C1090.8 630.3 1087.9 629.2 1087.4 627.3C1086.9 625.4 1088.4 622.6 1087.8 620.7C1087.2 618.7 1084.6 617.7 1083.7 615.8C1082.9 613.9 1083.6 611.2 1082.7 609.3C1081.8 607.3 1078.4 606 1078.4 604.1C1078.3 602.1 1081.8 599.7 1082.5 597.5C1083.3 595.4 1082.6 593.3 1082.8 591.1C1083 588.9 1083.1 586.4 1083.7 584.3C1084.2 582.1 1085.8 580.3 1086.2 578C1086.6 575.8 1087.1 573.3 1086.2 570.8C1085.2 568.3 1080.8 565 1080.6 563C1080.4 561 1083.9 560.5 1084.9 559C1085.9 557.5 1085.6 555.2 1086.6 553.8C1087.6 552.3 1089.8 551.8 1090.9 550.3C1092.1 548.8 1092.2 546.5 1093.5 544.7C1094.8 542.9 1096.9 540.6 1098.7 539.5C1100.4 538.5 1102 538.5 1103.9 538.3C1105.8 538.2 1108.3 538.2 1110.2 538.6Z"/><use href="#b7" fill="none" stroke-width="5.8" stroke-linecap="round" stroke-dasharray="0 7.1"/></g>
<g filter="url(#bump)" fill="#0b0be6" stroke="#0b0be6" stroke-width="2" stroke-linejoin="round"><path id="b8" d="M1746.3 558C1747.5 556.2 1748.7 554.7 1750.4 553.5C1752 552.2 1754.3 550.7 1756.3 550.5C1758.2 550.4 1760.2 552.1 1762.3 552.3C1764.4 552.6 1766.8 551.4 1768.7 552C1770.5 552.6 1771.8 554.8 1773.5 555.9C1775.2 557 1776.9 557.7 1779 558.4C1781.2 559.1 1785.8 558.8 1786.6 560C1787.3 561.3 1783.2 564.1 1783.3 565.9C1783.4 567.6 1786.5 568.8 1787.3 570.5C1788.1 572.2 1787.8 574.2 1788 576C1788.2 577.8 1789 579.5 1788.4 581.3C1787.9 583.1 1785.3 584.8 1784.7 586.8C1784.2 588.7 1785.5 591 1785.1 593C1784.8 595 1782.9 596.8 1782.6 598.8C1782.4 600.7 1783.3 602.9 1783.7 604.9C1784.1 606.9 1785 608.9 1785 610.8C1785.1 612.7 1784 614.6 1784.1 616.4C1784.1 618.2 1785.2 619.8 1785.3 621.6C1785.5 623.5 1784.6 625.6 1784.9 627.4C1785.2 629.2 1786.9 630.9 1787.2 632.6C1787.5 634.3 1786.4 636 1786.9 637.7C1787.4 639.4 1789.7 640.8 1790 642.6C1790.3 644.4 1788.1 646.8 1788.5 648.6C1788.9 650.4 1792.4 651.6 1792.5 653.3C1792.7 655 1789.3 656.9 1789.4 658.8C1789.4 660.7 1792.6 662.8 1792.8 664.7C1793 666.6 1791 668.5 1790.5 670.3C1790 672.2 1790.2 673.9 1790 675.9C1789.8 677.8 1789.3 680.1 1789.3 682C1789.3 684 1790.2 685.8 1789.9 687.6C1789.6 689.4 1787.9 690.9 1787.6 693C1787.3 695.1 1787 698.3 1787.9 700.4C1788.9 702.5 1791.9 703.6 1793 705.7C1794.2 707.9 1795.5 711.4 1794.9 713.2C1794.3 715 1791 714.9 1789.5 716.3C1788 717.7 1787.5 720 1786.1 721.5C1784.7 723 1782.6 723.6 1781.1 725.1C1779.6 726.6 1778.6 728.8 1777.1 730.5C1775.6 732.2 1773.7 733.9 1772.4 735.3C1771.1 736.6 1770 736.9 1769.5 738.7C1769 740.4 1768.7 743.8 1769.3 745.8C1769.9 747.8 1772.1 748.7 1773 750.5C1774 752.3 1774.6 754.6 1775.1 756.7C1775.5 758.7 1775.5 760.8 1775.8 762.9C1776.1 764.9 1775.9 767.4 1776.7 769.1C1777.5 770.9 1780.1 771.8 1780.7 773.6C1781.3 775.4 1780.6 777.9 1780.2 780C1779.9 782 1779.3 783.9 1778.5 785.7C1777.8 787.5 1776.3 788.8 1775.6 790.6C1774.8 792.4 1774.8 794.5 1774.1 796.4C1773.4 798.4 1772.7 800.5 1771.4 802.4C1770.1 804.3 1766.6 806.1 1766.1 807.9C1765.5 809.6 1767.3 811.4 1768.2 813.1C1769.1 814.7 1771.2 816.2 1771.4 818C1771.7 819.7 1770.8 821.9 1769.8 823.7C1768.9 825.4 1766.4 826.5 1765.6 828.5C1764.8 830.6 1766.3 833.9 1765.3 835.8C1764.3 837.8 1760.5 838.4 1759.6 840.3C1758.8 842.1 1760.8 845 1760.3 847C1759.8 848.9 1757.5 850.2 1756.7 852.1C1755.8 853.9 1756.2 856.6 1755 858.1C1753.8 859.6 1751.1 859.8 1749.3 860.8C1747.5 861.8 1745.5 862.3 1744.1 864.1C1742.8 865.9 1742.1 870.8 1741.2 871.6C1740.3 872.3 1739 870.2 1738.7 868.7C1738.4 867.2 1739.2 864.4 1739.5 862.5C1739.9 860.5 1739.7 858.4 1740.7 856.7C1741.7 855.1 1744.5 853.9 1745.5 852.3C1746.5 850.8 1746.7 849.2 1746.7 847.3C1746.6 845.5 1744.6 842.8 1745.2 841.1C1745.7 839.4 1749.1 838.7 1750.1 837.2C1751 835.7 1750.3 834 1750.8 832.2C1751.4 830.4 1752.9 828.4 1753.5 826.4C1754 824.4 1753.8 822.2 1754.4 820.2C1754.9 818.2 1756.1 816.4 1756.7 814.4C1757.3 812.5 1758.3 810.5 1757.9 808.5C1757.5 806.6 1754.8 804.6 1754.6 802.6C1754.3 800.6 1756.9 798.4 1756.5 796.4C1756 794.5 1752.2 792.8 1751.7 790.8C1751.1 788.8 1753.7 786.5 1753.2 784.5C1752.7 782.6 1749.5 780.7 1748.9 778.9C1748.3 777.1 1750.4 775.2 1749.6 773.8C1748.9 772.4 1746.1 771.4 1744.3 770.5C1742.5 769.6 1740.7 768.7 1738.8 768.4C1736.9 768.1 1734.9 768.7 1732.9 768.6C1730.9 768.4 1728.8 767.7 1726.8 767.3C1724.9 767 1723.2 767 1721.3 766.5C1719.4 766.1 1717.3 765 1715.3 764.6C1713.4 764.2 1711.4 764.1 1709.5 764.1C1707.6 764.1 1705.9 764.3 1704 764.4C1702.1 764.4 1700.3 764.2 1698.2 764.4C1696.1 764.7 1693.3 766.6 1691.5 766C1689.6 765.5 1688.3 763.1 1687.2 761.4C1686.1 759.6 1685.6 757.3 1684.9 755.4C1684.2 753.4 1683.5 751.5 1682.9 749.7C1682.4 747.9 1682.1 746.4 1681.5 744.8C1681 743.1 1679.7 741.5 1679.8 739.8C1679.9 738.1 1681.8 736.4 1682.1 734.5C1682.5 732.7 1681.5 730.6 1682 728.7C1682.4 726.9 1684.2 725.7 1684.8 723.6C1685.4 721.4 1684.2 717 1685.4 715.8C1686.7 714.5 1690.2 716.6 1692.2 716C1694.1 715.4 1695.3 712.8 1697.2 712C1699.2 711.1 1701.7 711.2 1703.9 711.1C1706.1 711 1708.1 711.8 1710.5 711.3C1712.8 710.9 1716.7 710 1718.1 708.4C1719.6 706.8 1718.7 703.9 1719 701.8C1719.4 699.7 1719.7 697.9 1720.1 695.8C1720.5 693.7 1719.9 690.9 1721.2 689.2C1722.5 687.4 1726.5 687 1727.7 685.3C1728.8 683.6 1727.6 680.9 1728 678.9C1728.5 676.9 1730 675.2 1730.4 673.1C1730.7 671.1 1730.4 668.8 1730.2 666.6C1730.1 664.4 1729.6 662 1729.6 660C1729.7 657.9 1730.1 656.2 1730.5 654.2C1730.9 652.2 1731.7 650.1 1732.2 648C1732.8 645.9 1732.8 643.6 1733.7 641.7C1734.7 639.7 1737.3 638.3 1737.9 636.4C1738.4 634.4 1736.9 632 1737.1 629.8C1737.3 627.7 1738.4 625.5 1738.9 623.6C1739.4 621.6 1739.6 619.8 1739.9 617.9C1740.3 615.9 1741.3 613.8 1741.2 611.7C1741.1 609.7 1738.9 607.4 1739.2 605.4C1739.4 603.4 1742.3 601.6 1742.5 599.7C1742.8 597.7 1740.7 595.7 1740.8 593.8C1740.9 591.9 1743.1 590.2 1743.2 588.3C1743.3 586.4 1741.1 584.3 1741.4 582.5C1741.7 580.6 1744.3 579.1 1745 577.4C1745.8 575.6 1746.3 574 1746 571.9C1745.7 569.7 1743 566.6 1743 564.3C1743.1 562 1745.1 559.8 1746.3 558Z"/><use href="#b8" fill="none" stroke-width="5.8" stroke-linecap="round" stroke-dasharray="0 7.1"/></g>
<g filter="url(#bump)" fill="#f9520f" stroke="#f9520f" stroke-width="2" stroke-linejoin="round"><path id="b9" d="M1619.3 489C1620.9 488.8 1623.7 489.1 1625.4 489.9C1627.1 490.7 1628.1 492.9 1629.6 494C1631 495.1 1632.9 495.7 1634.2 496.6C1635.5 497.6 1636.6 498.5 1637.2 499.6C1637.9 500.8 1637.5 502.1 1638 503.4C1638.4 504.7 1640.7 506.1 1640 507.4C1639.2 508.7 1635.3 510.6 1633.4 511.1C1631.5 511.6 1630 510.5 1628.4 510.3C1626.8 510.2 1625.1 509.7 1623.5 510.3C1621.9 511 1619.7 512.7 1618.9 514.1C1618.1 515.5 1618.9 517.4 1618.7 518.9C1618.4 520.3 1617.4 521.3 1617.4 522.8C1617.5 524.4 1619 526.4 1619.2 528.3C1619.3 530.1 1618.4 532.3 1618.4 534C1618.3 535.8 1619.3 537.5 1618.8 538.8C1618.4 540.1 1616.5 540.5 1615.6 541.7C1614.7 542.9 1613.8 544.3 1613.4 545.8C1613 547.4 1614 550.7 1613.2 550.9C1612.5 551.2 1610.6 548.3 1609.1 547.4C1607.6 546.5 1605.9 546 1604.3 545.7C1602.8 545.3 1601.5 545.4 1599.8 545.2C1598.1 545.1 1595 545.7 1594.2 544.7C1593.4 543.6 1595.2 540.8 1595.1 539C1595 537.2 1594 535.9 1593.7 534.1C1593.4 532.3 1593.5 530.1 1593.2 528.4C1593 526.6 1592.1 525.3 1592 523.6C1591.8 521.9 1592.2 520 1592.4 518.3C1592.5 516.6 1592.3 515.2 1592.9 513.6C1593.5 511.9 1594.9 510.1 1595.9 508.5C1596.9 506.8 1598.2 505.5 1599.1 503.7C1600 501.8 1599.9 498.4 1601.1 497.2C1602.3 496 1604.7 497 1606.3 496.5C1607.9 496 1609.3 495.1 1610.8 494.1C1612.4 493.2 1614.1 491.8 1615.6 490.9C1617 490.1 1617.6 489.2 1619.3 489Z"/><use href="#b9" fill="none" stroke-width="4.8" stroke-linecap="round" stroke-dasharray="0 6.1"/></g>
<g filter="url(#bump)" fill="#fbb726" stroke="#fbb726" stroke-width="2" stroke-linejoin="round"><path id="b10" d="M1643.1 493.7C1644.3 493.6 1646.2 495.5 1647.9 495.9C1649.7 496.4 1651.6 496.2 1653.5 496.5C1655.3 496.8 1657.3 497.7 1659 497.8C1660.7 497.9 1662.3 496.5 1663.8 496.9C1665.2 497.4 1666.1 499.3 1667.5 500.6C1668.8 502 1671.7 503.6 1671.7 505C1671.7 506.3 1667.8 507.2 1667.5 508.8C1667.2 510.3 1669.8 512.6 1669.8 514.3C1669.7 516 1668 517.5 1667.2 519.1C1666.4 520.6 1664.8 522.2 1664.9 523.7C1665 525.2 1668.1 526.7 1667.7 528.2C1667.3 529.8 1663.6 532.8 1662.4 533C1661.3 533.1 1661.5 530.1 1660.7 528.9C1659.8 527.8 1657.9 527.2 1657.4 525.9C1656.9 524.6 1658.2 522.8 1657.7 521.1C1657.3 519.4 1656 516.4 1654.8 515.8C1653.6 515.1 1652 517.1 1650.5 517.2C1649 517.3 1646.9 517.4 1645.8 516.5C1644.7 515.7 1644.7 513.1 1644 512C1643.3 510.8 1642.7 510.4 1641.7 509.5C1640.7 508.5 1638.5 507.6 1638.1 506.4C1637.7 505.1 1638.9 503.9 1639.3 502.2C1639.7 500.5 1639.7 497.8 1640.3 496.4C1641 495 1641.8 493.8 1643.1 493.7Z"/><use href="#b10" fill="none" stroke-width="4.8" stroke-linecap="round" stroke-dasharray="0 6.1"/></g>
<g filter="url(#bump)" fill="#33ad2e" stroke="#33ad2e" stroke-width="2" stroke-linejoin="round"><path id="b11" d="M1610.2 510.3C1611.1 510.3 1613.1 512 1614.6 512.3C1616.2 512.7 1617.9 512.5 1619.6 512.4C1621.2 512.3 1623.1 512.1 1624.6 511.7C1626.2 511.3 1627.2 510.1 1628.7 510C1630.2 509.9 1631.8 511.2 1633.8 511.1C1635.7 510.9 1638.8 509 1640.4 509.2C1642 509.4 1642.2 511.5 1643.2 512.2C1644.3 513 1645.3 513.1 1646.7 513.6C1648 514 1649.7 514.3 1651.5 514.7C1653.4 515.1 1656.5 514.9 1657.5 516C1658.5 517.2 1657.5 519.6 1657.6 521.6C1657.7 523.6 1657.4 527 1658.3 528.1C1659.3 529.1 1662.1 527.3 1663.3 528.1C1664.4 528.8 1663.9 531.7 1665 532.6C1666.2 533.4 1669 532.5 1670.2 533.1C1671.4 533.7 1671.6 534.8 1672.2 536.1C1672.7 537.3 1672.9 539.2 1673.4 540.7C1673.9 542.2 1675.3 543.7 1675.1 544.9C1674.9 546.2 1672.8 547 1672.3 548.3C1671.9 549.7 1672.1 551.4 1672.2 553C1672.2 554.5 1672.1 556.4 1672.7 557.7C1673.3 558.9 1675.7 559.2 1675.9 560.5C1676.1 561.8 1674.5 563.9 1673.9 565.5C1673.3 567.1 1671.9 568.8 1672.3 570.1C1672.7 571.3 1675.1 572.1 1676.5 573C1677.9 574 1679.3 575 1680.8 575.8C1682.3 576.6 1683.8 577.2 1685.5 577.6C1687.2 578 1689.3 578.1 1691 578C1692.6 577.9 1694.2 577.6 1695.3 577.1C1696.5 576.6 1697.2 574.5 1697.9 574.9C1698.6 575.4 1699.3 578.3 1699.4 579.9C1699.5 581.5 1698.5 582.8 1698.4 584.6C1698.3 586.4 1699.1 588.8 1698.8 590.9C1698.5 592.9 1696.6 595 1696.5 596.6C1696.4 598.3 1698 599.4 1698.1 600.8C1698.2 602.2 1697.4 603.7 1697 605C1696.7 606.4 1696.8 607.5 1695.9 608.8C1695 610 1692.9 611.8 1691.6 612.7C1690.3 613.6 1689.5 614.2 1688.1 614.1C1686.8 613.9 1685.1 612.8 1683.7 612C1682.4 611.2 1681.1 610.4 1680.1 609.2C1679.1 607.9 1678.5 605.7 1677.6 604.4C1676.8 603.1 1676.5 602.6 1675 601.4C1673.6 600.2 1670.5 598.7 1668.9 597.3C1667.3 595.8 1666.1 594.5 1665.4 592.7C1664.7 590.8 1665 588.1 1664.7 586.3C1664.4 584.5 1664.3 583 1663.5 581.7C1662.6 580.5 1660.8 579.6 1659.6 578.7C1658.3 577.8 1656.9 576.7 1655.8 576.4C1654.7 576.2 1654.7 576.3 1653.1 577C1651.5 577.7 1648.2 579.9 1646.2 580.7C1644.3 581.5 1642.9 581.9 1641.4 581.9C1639.9 582 1638.7 581.7 1637.1 581.2C1635.5 580.8 1633.3 580.1 1631.9 579.3C1630.5 578.5 1629.9 576.7 1628.7 576.5C1627.4 576.4 1626.1 578.1 1624.4 578.5C1622.7 578.8 1620.1 579.4 1618.5 578.7C1616.8 578.1 1615.4 576.3 1614.6 574.6C1613.8 572.8 1614.5 569.4 1613.5 568.3C1612.5 567.2 1609.8 568.6 1608.5 568C1607.1 567.3 1606.6 565.1 1605.4 564.3C1604.1 563.5 1601.1 564.4 1601.2 563.1C1601.3 561.9 1605.7 558.7 1606.1 556.9C1606.4 555.1 1603 553.1 1603.4 552.4C1603.7 551.7 1606.5 552.6 1608.2 552.6C1609.9 552.7 1612.8 553.7 1613.6 552.8C1614.4 551.9 1612.8 549 1613 547.2C1613.1 545.4 1613.9 543.3 1614.5 541.8C1615.2 540.3 1616.3 539.3 1616.9 538.1C1617.4 536.8 1617.8 535.7 1617.8 534.4C1617.8 533 1617.2 531.4 1616.6 530.1C1616.1 528.9 1614.9 528.4 1614.5 526.8C1614.2 525.2 1615.4 521.3 1614.3 520.5C1613.3 519.8 1609.2 522.9 1608.1 522.1C1607 521.4 1607.4 517.9 1607.5 516.2C1607.7 514.6 1608.8 513.3 1609.2 512.3C1609.7 511.3 1609.3 510.3 1610.2 510.3Z"/><use href="#b11" fill="none" stroke-width="4.8" stroke-linecap="round" stroke-dasharray="0 6.1"/></g>
<g filter="url(#bump)" fill="#33ad2e" stroke="#33ad2e" stroke-width="2" stroke-linejoin="round"><path id="b12" d="M1742.7 594.1C1743.9 593.3 1746.1 595 1747.7 595.3C1749.3 595.6 1750.7 596.1 1752.2 596.2C1753.8 596.4 1755.3 596.8 1757.1 596.4C1758.8 596 1760.9 594 1762.5 593.8C1764.2 593.6 1765.6 594.4 1766.9 595.2C1768.2 596.1 1768.8 598 1770.1 598.7C1771.5 599.4 1773.4 599 1774.8 599.6C1776.2 600.1 1777.4 601.2 1778.6 602.2C1779.9 603.1 1781.7 603.7 1782.3 605.4C1782.8 607 1781 610.2 1781.9 612C1782.8 613.7 1786.3 614.3 1787.6 616C1788.8 617.8 1789.5 620.8 1789.4 622.5C1789.3 624.1 1787.6 624.6 1787.1 625.9C1786.5 627.2 1786.5 628.7 1786.1 630.1C1785.8 631.5 1786 633.8 1785 634.5C1784.1 635.2 1782 634.2 1780.5 634.3C1779.1 634.4 1777.7 635.1 1776.2 635.1C1774.8 635 1773 633.6 1771.7 634C1770.4 634.4 1769.5 636.2 1768.7 637.5C1767.8 638.9 1767.8 641.3 1766.8 642.2C1765.9 643.2 1764.4 643.5 1763 643.1C1761.6 642.8 1760 641 1758.3 640.3C1756.6 639.5 1754 639.4 1752.6 638.7C1751.2 638 1751 636.3 1749.7 636C1748.4 635.6 1746.5 636.8 1744.7 636.5C1742.9 636.2 1740.6 634 1738.9 634.1C1737.2 634.2 1736.2 636.7 1734.5 637.3C1732.9 637.9 1730 638.4 1729 637.7C1728 637 1728.3 634.6 1728.7 633C1729.1 631.4 1730.3 629.6 1731.2 628.1C1732.1 626.6 1734 625.9 1734.1 624.2C1734.2 622.6 1731.2 619.5 1731.7 618C1732.2 616.6 1736.4 617 1737.2 615.6C1738 614.1 1736 611 1736.4 609.3C1736.8 607.6 1739.1 607 1739.8 605.4C1740.4 603.9 1739.8 602.1 1740.3 600.2C1740.8 598.4 1741.5 595 1742.7 594.1Z"/><use href="#b12" fill="none" stroke-width="4.8" stroke-linecap="round" stroke-dasharray="0 6.1"/></g>
<g filter="url(#bump)" fill="#f9520f" stroke="#f9520f" stroke-width="2" stroke-linejoin="round"><path id="b13" d="M1772.2 637.3C1773.4 636.6 1775.3 635.6 1776.9 635.5C1778.5 635.3 1780.4 635.8 1781.8 636.3C1783.2 636.9 1784.7 637.5 1785.3 638.8C1785.8 640.2 1784.8 642.7 1785.1 644.4C1785.4 646.1 1786.5 647.6 1787.2 649.2C1787.9 650.7 1788.8 652.2 1789.4 653.8C1790.1 655.5 1790.9 657.1 1791.1 658.9C1791.3 660.6 1790.4 663 1790.4 664.5C1790.5 666.1 1791.6 666.9 1791.4 668.3C1791.2 669.7 1789.8 671.2 1789.3 672.9C1788.8 674.5 1789.4 676.7 1788.5 678.1C1787.7 679.5 1785.3 680.2 1784.2 681.4C1783.1 682.5 1783.2 684 1782 685.2C1780.8 686.5 1778.5 687.5 1777.1 688.7C1775.7 689.9 1774.5 692.5 1773.5 692.4C1772.4 692.2 1771.9 689.4 1770.8 688C1769.8 686.6 1768.2 685.5 1767.1 684.1C1766.1 682.7 1764.8 681.4 1764.6 679.6C1764.3 677.9 1765.8 675.3 1765.6 673.5C1765.4 671.8 1764 670.6 1763.2 669C1762.4 667.4 1761.6 665.3 1761 663.7C1760.4 662.1 1759.9 660.9 1759.4 659.2C1759 657.6 1758 655.3 1758.4 653.8C1758.7 652.4 1761.1 651.9 1761.6 650.3C1762.1 648.8 1760.6 645.9 1761.3 644.6C1762.1 643.3 1764.6 643.4 1766 642.5C1767.3 641.6 1768.4 640.1 1769.5 639.2C1770.5 638.3 1770.9 637.9 1772.2 637.3Z"/><use href="#b13" fill="none" stroke-width="4.8" stroke-linecap="round" stroke-dasharray="0 6.1"/></g>
<g filter="url(#bump)" fill="#fbb726" stroke="#fbb726" stroke-width="2" stroke-linejoin="round"><path id="b14" d="M1728.3 638.4C1729.4 637.3 1731.6 637.6 1733.4 637.6C1735.2 637.5 1737.3 638.5 1739.1 638.1C1740.9 637.8 1742.3 636.5 1744.1 635.5C1745.9 634.5 1748.8 632 1750 632.3C1751.2 632.7 1750.1 636.7 1751.2 637.7C1752.3 638.7 1755.4 637.5 1756.5 638.4C1757.7 639.3 1757.6 642.1 1758.3 643.2C1759 644.4 1760.2 644.1 1760.9 645.3C1761.7 646.5 1763.2 648.8 1762.8 650.3C1762.5 651.8 1759.1 652.9 1758.6 654.3C1758.2 655.7 1759.7 657.1 1760.3 658.7C1760.9 660.2 1762 661.8 1762.3 663.5C1762.6 665.2 1761.7 667.2 1761.9 669.1C1762 671 1762.7 673 1763 674.8C1763.4 676.5 1763.5 678 1764 679.5C1764.6 681 1765.7 682.2 1766.3 683.7C1766.8 685.1 1766.8 687 1767.2 688.3C1767.6 689.6 1769 690.3 1768.5 691.4C1767.9 692.5 1765.6 694 1764.1 695.1C1762.5 696.2 1760.9 697 1759.3 698C1757.7 698.9 1756 700.3 1754.3 700.7C1752.6 701 1750.4 700.5 1748.9 700.2C1747.3 700 1746.4 699.2 1744.9 699.2C1743.4 699.2 1741.3 700.8 1739.9 700.3C1738.4 699.8 1737.8 696.8 1736.4 696.2C1735 695.5 1732.9 697 1731.6 696.4C1730.3 695.8 1729.3 693.8 1728.5 692.3C1727.7 690.8 1727.9 688.9 1727 687.6C1726.1 686.2 1723.8 685.7 1723.1 684.2C1722.4 682.8 1723.7 680.6 1723 678.9C1722.4 677.2 1719.9 675.9 1719.3 674.1C1718.7 672.3 1719.2 670 1719.6 668.2C1720 666.4 1721.3 664.9 1721.8 663.2C1722.4 661.6 1722.5 659.8 1722.9 658.2C1723.4 656.7 1724.1 655.6 1724.6 654.1C1725.2 652.6 1725.8 650.8 1726.2 649.1C1726.5 647.4 1726.5 645.5 1726.8 643.8C1727.2 642 1727.2 639.4 1728.3 638.4Z"/><use href="#b14" fill="none" stroke-width="4.8" stroke-linecap="round" stroke-dasharray="0 6.1"/></g>
<g filter="url(#bump)" fill="#a585f2" stroke="#a585f2" stroke-width="2" stroke-linejoin="round"><path id="b15" d="M1813.3 554.5C1815.4 555.1 1817.4 556.8 1819.5 557.3C1821.6 557.8 1823.7 558 1825.9 557.7C1828.2 557.3 1831.3 555 1832.9 555.4C1834.4 555.9 1834.4 558.6 1835.3 560.2C1836.1 561.7 1836.5 563.2 1837.9 564.6C1839.3 566 1843.2 567 1843.5 568.7C1843.9 570.4 1840.8 572.7 1840.1 574.8C1839.4 576.9 1839.1 579.2 1839.1 581.3C1839.2 583.5 1840 585.6 1840.3 587.7C1840.6 589.8 1840.7 592.1 1840.8 594.1C1840.9 596 1841.2 597.4 1841 599.5C1840.8 601.5 1839.9 604.1 1839.5 606.1C1839.1 608 1838.9 609.1 1838.8 611.1C1838.8 613.2 1839.6 616.2 1839.3 618.5C1838.9 620.8 1837.2 622.9 1836.9 625C1836.5 627.2 1837.6 629.3 1837.1 631.4C1836.6 633.6 1834 636 1833.8 637.9C1833.7 639.9 1835.4 641.2 1836.1 643C1836.8 644.8 1837.3 646.8 1837.8 648.6C1838.3 650.3 1839 651.9 1839 653.6C1838.9 655.3 1837.5 657.2 1837.4 659C1837.3 660.8 1838 662.7 1838.4 664.5C1838.8 666.4 1840.2 668.2 1839.9 670C1839.6 671.8 1837.1 673.5 1836.9 675.3C1836.6 677.1 1837.9 679.3 1838.5 680.9C1839.1 682.6 1840.3 683.6 1840.5 685.3C1840.7 687.1 1839.4 689.5 1839.8 691.3C1840.3 693.1 1842.4 694.4 1843.2 696.1C1844.1 697.8 1844.8 699.7 1845 701.7C1845.2 703.8 1843.5 707 1844.3 708.4C1845.1 709.9 1848.2 709.7 1849.8 710.6C1851.5 711.5 1852.7 712.9 1854.2 714C1855.7 715.1 1857.8 715.7 1858.7 717.4C1859.7 719.1 1859.1 722.3 1859.9 724.4C1860.6 726.5 1862.5 728.2 1863.1 730.1C1863.8 732.1 1863.5 733.7 1863.7 736C1864 738.3 1864.8 741.5 1864.7 743.9C1864.6 746.4 1864 748.6 1863.2 750.8C1862.3 752.9 1860.7 754.9 1859.5 756.9C1858.4 758.8 1857.4 760.7 1856.3 762.5C1855.3 764.3 1854.2 766 1853.1 767.9C1852 769.7 1851.2 772.3 1849.8 773.7C1848.3 775.1 1846.1 775.5 1844.5 776.5C1842.9 777.5 1841.2 778.3 1840.1 779.7C1839 781.1 1838.8 783.3 1838.1 785C1837.4 786.8 1836.8 788.4 1835.9 790.1C1835 791.9 1834.3 794.4 1832.5 795.5C1830.8 796.6 1826.9 796 1825.1 796.8C1823.4 797.7 1823.9 799.3 1822.3 800.8C1820.7 802.3 1817.9 805.2 1815.6 805.6C1813.3 806.1 1810.6 803.2 1808.5 803.5C1806.4 803.7 1804.5 805.8 1803.1 807.1C1801.6 808.3 1800.6 809.5 1799.7 811C1798.9 812.5 1798.3 814.3 1797.7 816C1797.2 817.6 1796.8 819.2 1796.3 821.1C1795.8 822.9 1795.3 825 1794.7 826.9C1794.1 828.8 1793 830.7 1792.5 832.5C1792 834.3 1791.9 836 1791.6 837.8C1791.4 839.6 1791.5 841.3 1791.3 843.1C1791.1 844.9 1789.7 846.8 1790.4 848.4C1791 850.1 1794.3 851.4 1795 853.1C1795.8 854.7 1794.4 856.6 1795 858.5C1795.6 860.5 1797.7 862.6 1798.6 864.7C1799.5 866.7 1800.4 868.7 1800.2 870.8C1800.1 873 1798.8 877.1 1797.5 877.5C1796.1 877.9 1793.2 875 1792 873.2C1790.8 871.5 1791.1 868.8 1790 867C1788.9 865.3 1786.5 864.4 1785.5 862.8C1784.4 861.1 1784.3 859 1783.7 857.1C1783.1 855.2 1781.9 853.2 1782 851.3C1782 849.3 1783.9 847.3 1783.8 845.4C1783.8 843.5 1781.9 841.8 1781.8 839.8C1781.7 837.7 1783.7 835 1783.1 833C1782.4 831 1779.5 829.7 1778.1 827.7C1776.7 825.7 1774.5 822.7 1774.8 820.8C1775.1 818.9 1778.6 818 1779.9 816.3C1781.2 814.7 1781.5 812.7 1782.6 810.9C1783.6 809.1 1785.6 807.8 1786.3 805.6C1787 803.4 1786.7 800.1 1786.6 797.7C1786.5 795.4 1786.1 793.7 1785.7 791.5C1785.4 789.3 1785.2 786.9 1784.5 784.8C1783.9 782.6 1783.4 780.8 1782 778.7C1780.5 776.7 1775.9 774.3 1775.9 772.7C1775.9 771 1780.5 770.4 1782 768.7C1783.6 767 1783.9 764.3 1785.2 762.4C1786.5 760.5 1788.7 759.1 1789.9 757.2C1791.1 755.4 1791.3 753.1 1792.5 751.2C1793.7 749.3 1795.8 747.5 1797.2 745.8C1798.6 744 1800.6 742.3 1800.9 740.6C1801.2 738.9 1798.8 737.5 1798.8 735.6C1798.9 733.7 1800.9 731.4 1801.1 729.4C1801.2 727.5 1800.4 725.7 1799.6 724.1C1798.9 722.5 1797.7 721.5 1796.6 719.9C1795.5 718.3 1794.3 716.5 1793.2 714.7C1792.1 713 1790.9 711.4 1790 709.6C1789.1 707.8 1788.5 705.9 1787.6 704C1786.6 702.2 1785.4 700.1 1784.3 698.5C1783.2 696.9 1781.1 696.1 1781 694.4C1781 692.6 1784.1 690.1 1784 688.1C1783.8 686.1 1779.7 683.9 1780.1 682.5C1780.6 681.1 1785.1 681.4 1786.7 679.9C1788.2 678.5 1788.1 675.4 1789.4 673.6C1790.8 671.9 1794.6 670.8 1794.8 669.2C1795.1 667.5 1791.6 665.8 1791 663.7C1790.4 661.6 1791.9 658.5 1791.4 656.4C1791 654.3 1789.5 652.7 1788.3 651C1787.2 649.2 1784.6 647.7 1784.4 645.7C1784.3 643.7 1787.1 641.3 1787.5 639.1C1787.8 636.8 1787 634.6 1786.7 632.3C1786.3 630 1785.4 627.7 1785.4 625.4C1785.4 623.1 1786.4 620.8 1786.6 618.5C1786.7 616.1 1786.4 613.4 1786.3 611.3C1786.2 609.2 1785.9 607.8 1786.1 605.8C1786.2 603.9 1786.9 601.6 1787.2 599.7C1787.4 597.7 1787.1 595.9 1787.6 594C1788 592 1789.4 589.9 1789.8 588C1790.2 586 1790.4 584.2 1789.9 582.4C1789.5 580.7 1787.4 579.1 1787.1 577.4C1786.8 575.7 1787.5 573.8 1788.1 572.2C1788.8 570.6 1790.1 569.3 1791 567.8C1791.9 566.3 1792.4 564.3 1793.4 563C1794.4 561.7 1795.6 560.9 1797.1 560C1798.6 559.2 1800.8 558.8 1802.4 557.8C1804.1 556.8 1805.4 554.7 1807.2 554.2C1809 553.6 1811.3 554 1813.3 554.5Z"/><use href="#b15" fill="none" stroke-width="5.8" stroke-linecap="round" stroke-dasharray="0 7.1"/></g>
<g filter="url(#bump)" fill="#70acf6" stroke="#70acf6" stroke-width="2" stroke-linejoin="round"><path id="b16" d="M1728.2 539.9C1730.4 539.5 1732.6 538.1 1734.4 538.6C1736.2 539.1 1737.1 542.2 1738.9 542.9C1740.8 543.7 1743.7 542.1 1745.5 543.1C1747.3 544.1 1748.3 546.8 1749.8 548.8C1751.3 550.8 1754.4 553.2 1754.6 555.1C1754.9 556.9 1752.4 558.3 1751.4 560C1750.3 561.6 1748.9 563.1 1748.2 565C1747.6 566.8 1748.2 569.2 1747.5 571C1746.9 572.9 1745.4 574.5 1744.3 576.2C1743.1 577.8 1740.8 579.1 1740.4 581C1740 583 1741.8 585.7 1741.7 587.7C1741.6 589.8 1740.4 591.3 1739.8 593.2C1739.1 595.1 1738.4 597.3 1737.7 599.2C1737 601 1736.6 602.6 1735.7 604.3C1734.9 606 1733 607.3 1732.7 609.4C1732.5 611.5 1734.6 614.6 1734.1 616.6C1733.6 618.6 1730.4 619.6 1729.7 621.4C1729.1 623.2 1730.3 625.5 1730.2 627.5C1730.1 629.4 1730 631.2 1729.2 633C1728.5 634.8 1726.4 636.3 1725.7 638.1C1725.1 639.9 1725.5 641.8 1725.5 643.6C1725.5 645.4 1726.1 647.4 1725.7 649.1C1725.3 650.9 1723.8 652.4 1723.1 654.1C1722.3 655.7 1721.6 657.1 1721.1 659C1720.6 661 1719.9 663.8 1720.1 666C1720.3 668.3 1722.2 670.3 1722.5 672.6C1722.8 675 1721.2 678 1721.8 679.9C1722.5 681.9 1725.9 682.8 1726.3 684.6C1726.7 686.3 1724.3 688.7 1724.2 690.4C1724.1 692.2 1725.3 693.4 1725.8 695C1726.4 696.6 1726.4 698.5 1727.4 700C1728.5 701.5 1730.5 702.9 1732.2 704.2C1733.9 705.4 1736 706.3 1737.6 707.6C1739.3 708.9 1740.7 710.4 1742.1 711.7C1743.5 713 1744.4 714.3 1746 715.5C1747.7 716.6 1750.2 717.3 1751.9 718.4C1753.6 719.6 1755 720.6 1756.2 722.5C1757.3 724.3 1757.5 728.6 1758.8 729.3C1760.1 729.9 1762.4 727.1 1764.1 726.4C1765.7 725.8 1767.2 725.3 1768.9 725.5C1770.6 725.7 1772.4 727.7 1774.3 727.6C1776.1 727.6 1778.1 725 1779.8 725.2C1781.5 725.4 1783 727.4 1784.4 728.8C1785.8 730.1 1786.5 732.2 1788.2 733.3C1789.9 734.3 1793 734.2 1794.4 735.2C1795.8 736.3 1796.6 737.9 1796.7 739.6C1796.8 741.4 1795.8 743.7 1795.1 745.7C1794.4 747.7 1794 750.2 1792.7 751.8C1791.3 753.4 1788.1 753.7 1786.9 755.2C1785.6 756.6 1786 758.9 1785.3 760.6C1784.6 762.3 1783.8 764 1782.6 765.3C1781.3 766.5 1779.1 767 1777.7 768.2C1776.4 769.4 1775.8 771.1 1774.6 772.5C1773.4 773.8 1771.6 774.9 1770.3 776.3C1769 777.8 1768.6 780.2 1766.8 781.2C1765.1 782.2 1761.4 781.3 1759.8 782.3C1758.1 783.3 1757.8 785.7 1757 787.4C1756.3 789.1 1755.8 790.8 1755.2 792.6C1754.5 794.3 1753.7 796.1 1753.2 798.1C1752.7 800.1 1753.5 803.7 1752.2 804.8C1751 805.9 1747.2 804 1745.7 804.9C1744.2 805.8 1744.5 808.6 1743.1 810.1C1741.8 811.6 1739.2 814.4 1737.8 814C1736.3 813.7 1735.9 809.7 1734.4 808.2C1732.8 806.6 1730.5 805 1728.5 804.6C1726.5 804.2 1724.6 804.9 1722.4 805.7C1720.1 806.5 1716.1 808 1715.1 809.5C1714.1 811 1716.5 813.3 1716.1 814.8C1715.7 816.4 1713.2 817.1 1712.6 818.8C1712 820.5 1711.9 823.2 1712.5 825.2C1713.1 827.1 1715.4 828.5 1716 830.4C1716.6 832.3 1715.7 834.6 1716 836.7C1716.3 838.8 1717.1 841.1 1717.9 843C1718.8 844.8 1719.7 846.2 1721 847.8C1722.2 849.4 1724.5 850.9 1725.3 852.5C1726.2 854.2 1726.5 855.8 1726 857.7C1725.6 859.6 1723.7 861.9 1722.6 864.1C1721.5 866.3 1720.1 868.4 1719.5 870.7C1718.9 873 1719.6 877.2 1718.9 877.8C1718.2 878.3 1716.5 875.4 1715.4 874.2C1714.4 873 1713 872.4 1712.5 870.8C1711.9 869.2 1712.7 866.7 1712.1 864.6C1711.5 862.4 1709.1 860.2 1708.7 858C1708.4 855.8 1710.2 853.6 1709.9 851.4C1709.6 849.1 1707.4 846.9 1706.9 844.6C1706.5 842.3 1707.3 839.9 1707.1 837.6C1706.9 835.4 1705.8 833.1 1705.6 831.1C1705.4 829 1706.1 827.1 1705.9 825.2C1705.6 823.3 1704.8 821.5 1704.3 819.7C1703.8 817.8 1703.6 815.8 1703.1 814C1702.5 812.2 1701 810.5 1700.9 808.8C1700.9 807.1 1702.6 805.4 1702.7 803.8C1702.8 802.1 1702.1 800.2 1701.5 798.6C1700.8 797.1 1699.6 796 1698.7 794.3C1697.7 792.5 1697.3 789.7 1695.8 788.3C1694.3 786.9 1691.4 787.1 1689.6 785.7C1687.9 784.2 1685.8 781.5 1685.4 779.7C1684.9 777.9 1686 776.4 1686.8 774.8C1687.6 773.2 1689.7 772 1690.2 770.2C1690.6 768.4 1689.2 765.6 1689.5 764.1C1689.7 762.6 1691.2 762.7 1691.5 761.1C1691.8 759.4 1692.5 755.8 1691.3 754.3C1690.1 752.8 1685.8 753.5 1684.4 752.2C1683 750.8 1683.4 748.2 1682.8 746.3C1682.1 744.5 1681.1 742.7 1680.5 741C1679.9 739.3 1679.5 738 1679.3 736.1C1679.1 734.2 1678.1 731.2 1679.2 729.5C1680.3 727.7 1684.5 727.2 1685.7 725.4C1686.9 723.6 1685.8 720.9 1686.4 718.8C1687 716.7 1689.2 714.8 1689.5 712.9C1689.8 711.1 1689 709.3 1688.3 707.6C1687.7 705.9 1686.2 704.5 1685.8 702.7C1685.4 700.9 1686.8 698.4 1686 696.8C1685.3 695.2 1682.3 694.9 1681.3 693.1C1680.3 691.4 1681 688.1 1680 686.4C1678.9 684.6 1676.3 684.2 1674.8 682.7C1673.2 681.3 1670.3 678.6 1670.8 677.4C1671.3 676.3 1676.2 677 1677.8 675.8C1679.4 674.6 1679.5 672.1 1680.4 670.1C1681.2 668.1 1682.7 665.7 1682.8 663.6C1682.9 661.6 1681.5 659.7 1681 657.8C1680.4 656 1679.4 654.7 1679.4 652.7C1679.4 650.6 1680.7 648.1 1681.2 645.8C1681.7 643.4 1681.8 640.8 1682.5 638.5C1683.1 636.3 1683.9 634.2 1685.1 632.5C1686.4 630.7 1689.1 629.5 1690.1 627.9C1691.2 626.3 1690.9 624.6 1691.4 623C1692 621.3 1693.4 619.9 1693.7 618C1694 616.1 1693.4 613.5 1693.3 611.5C1693.1 609.6 1693.5 608 1692.8 606.3C1692.1 604.5 1689.8 603.1 1689.2 601.2C1688.6 599.3 1688.9 596.9 1689 594.7C1689.2 592.5 1689.2 590.2 1690 588.1C1690.8 585.9 1693 584.1 1693.8 581.9C1694.7 579.6 1694.2 576.7 1695 574.7C1695.9 572.6 1697.5 571.2 1698.8 569.5C1700.1 567.7 1701.4 565.6 1702.8 564C1704.2 562.3 1706.6 561.5 1707.4 559.6C1708.3 557.8 1706.6 554.3 1707.8 553C1709 551.6 1713.2 552.5 1714.7 551.4C1716.2 550.4 1715.7 548.6 1716.8 546.8C1718 545 1719.6 541.9 1721.5 540.8C1723.4 539.6 1726 540.3 1728.2 539.9Z"/><use href="#b16" fill="none" stroke-width="5.8" stroke-linecap="round" stroke-dasharray="0 7.1"/></g>
<g filter="url(#bump)" fill="#fbb726" stroke="#fbb726" stroke-width="2" stroke-linejoin="round"><path id="b17" d="M1306.4 555.7C1307.5 554.9 1309.4 557 1310.9 557.3C1312.4 557.5 1313.8 556.7 1315.2 557.1C1316.7 557.6 1318.1 559.7 1319.5 560C1320.9 560.2 1322.4 558.2 1323.7 558.7C1324.9 559.3 1325.3 562.5 1326.9 563.5C1328.5 564.5 1331.5 563.6 1333.1 564.8C1334.8 565.9 1335.5 569.5 1337 570.3C1338.5 571 1340.5 569.2 1342.2 569.2C1343.8 569.3 1345.3 569.6 1347.1 570.5C1348.9 571.4 1352.1 573.1 1352.8 574.6C1353.6 576 1352 577.7 1351.4 579.1C1350.8 580.5 1350.5 581.9 1349.2 582.9C1347.8 584 1345 585 1343.1 585.6C1341.3 586.1 1339.5 585.6 1337.9 586.1C1336.4 586.6 1335 589.1 1333.8 588.6C1332.6 588 1331.8 583.3 1330.8 582.9C1329.8 582.4 1329.3 585.2 1327.9 585.7C1326.6 586.3 1324.1 585.5 1322.7 586.2C1321.3 587 1320.3 588.9 1319.6 590.2C1318.9 591.4 1319.7 593.3 1318.4 593.8C1317.1 594.3 1313.1 594.2 1311.7 593.1C1310.2 592 1311.1 588.4 1309.8 587C1308.4 585.6 1304.8 585.3 1303.6 584.6C1302.4 583.8 1303.4 583.6 1302.5 582.5C1301.5 581.3 1299.4 578.4 1297.9 577.7C1296.4 577.1 1293.6 579.1 1293.2 578.4C1292.8 577.6 1294.7 574.8 1295.4 573.3C1296.2 571.7 1297.2 570.5 1297.9 569C1298.7 567.6 1298.9 565.7 1299.9 564.5C1301 563.3 1303.1 563.5 1304.2 562C1305.3 560.5 1305.3 556.5 1306.4 555.7Z"/><use href="#b17" fill="none" stroke-width="4.8" stroke-linecap="round" stroke-dasharray="0 6.1"/></g>
<g filter="url(#bump)" fill="#f9520f" stroke="#f9520f" stroke-width="2" stroke-linejoin="round"><path id="b18" d="M1292.1 580.8C1293.7 580.4 1295.9 581 1297.9 580.9C1299.8 580.8 1302.3 579.7 1303.7 580.4C1305 581 1304.9 583.6 1306.1 584.7C1307.3 585.9 1309.7 586 1310.7 587.3C1311.8 588.5 1311.4 591 1312.4 592.2C1313.4 593.5 1316 593.6 1316.8 594.9C1317.6 596.2 1317.4 598.3 1317.2 600C1317 601.7 1315.8 603.5 1315.5 605.3C1315.3 607.1 1316.5 609.2 1315.9 610.9C1315.3 612.5 1312.9 613.7 1312 615.4C1311.1 617 1311.3 619.3 1310.5 620.8C1309.7 622.2 1307.7 622.7 1307 623.9C1306.4 625.2 1306.4 627.3 1306.9 628.4C1307.3 629.5 1308.8 629.6 1309.9 630.7C1311 631.8 1312.1 634.6 1313.6 635.2C1315.2 635.8 1317.6 634 1319.3 634.4C1321 634.7 1322.1 636.4 1323.8 637.3C1325.4 638.3 1329 640 1329 640.2C1329.1 640.5 1325.8 638.7 1324.2 638.7C1322.6 638.7 1321 640.3 1319.4 640.4C1317.8 640.4 1316.3 639.6 1314.7 639C1313 638.5 1311.2 637 1309.5 637C1307.8 636.9 1306.2 638.9 1304.5 638.7C1302.7 638.6 1300.8 637.3 1299.2 636.3C1297.5 635.2 1296.2 633.8 1294.8 632.5C1293.5 631.2 1292 629.8 1291 628.4C1290 626.9 1289.9 625.2 1288.8 623.9C1287.6 622.6 1284.9 622.2 1284 620.8C1283.1 619.4 1284.1 617 1283.1 615.5C1282.2 614 1279.9 613.3 1278.5 611.8C1277 610.2 1274.9 607.8 1274.7 606.2C1274.5 604.6 1276.1 603.3 1277 602C1278 600.7 1279.6 599.8 1280.4 598.4C1281.2 597 1281.4 595.3 1281.5 593.8C1281.7 592.3 1280.6 590.7 1281.1 589.4C1281.6 588 1283.3 586.9 1284.4 585.8C1285.6 584.8 1286.6 583.7 1287.9 582.9C1289.2 582 1290.4 581.1 1292.1 580.8Z"/><use href="#b18" fill="none" stroke-width="4.8" stroke-linecap="round" stroke-dasharray="0 6.1"/></g>
<g filter="url(#bump)" fill="#fbb726" stroke="#fbb726" stroke-width="2" stroke-linejoin="round"><path id="b19" d="M1483.9 596.9C1485.2 595.6 1487.3 595.3 1489.1 595.4C1490.9 595.4 1492.9 596.8 1494.8 597.1C1496.6 597.4 1498.2 597.7 1500.2 597.2C1502.2 596.8 1504.9 594.4 1506.9 594.3C1508.8 594.3 1510.1 596 1511.7 596.8C1513.3 597.7 1515.5 598.2 1516.6 599.4C1517.7 600.6 1517.4 602.7 1518.3 604.1C1519.2 605.5 1520.7 606.9 1522.2 607.6C1523.7 608.3 1525.7 608.1 1527.3 608.3C1528.8 608.5 1530.2 608.9 1531.6 608.7C1533 608.6 1534.3 607.5 1535.5 607.2C1536.7 607 1537.5 607.1 1538.9 607.5C1540.3 607.9 1543.4 608.4 1543.8 609.6C1544.3 610.8 1542.7 613.7 1541.6 614.8C1540.4 615.9 1538 615.3 1537 616.2C1536 617.2 1535.8 618.9 1535.5 620.5C1535.2 622.1 1536 624.9 1535.2 626C1534.4 627 1532.1 626.2 1530.7 626.7C1529.3 627.1 1528 627.7 1526.8 628.6C1525.7 629.5 1525 631.2 1523.8 632.1C1522.6 632.9 1521.1 633.3 1519.5 633.5C1517.9 633.7 1515.6 633.1 1514 633.5C1512.5 633.9 1511.2 635 1510.1 635.9C1508.9 636.7 1508.4 638 1507.2 638.5C1506.1 639.1 1504.4 639.7 1503.1 639.3C1501.8 638.8 1500.7 637.2 1499.7 635.9C1498.7 634.5 1498.3 631.8 1497.1 631.1C1495.9 630.5 1493.9 632.4 1492.4 632C1491 631.6 1489.8 629.4 1488.5 629C1487.2 628.6 1486.1 629.9 1484.6 629.6C1483 629.3 1480.7 628.3 1479.2 627.2C1477.7 626.2 1477.1 624.6 1475.7 623.2C1474.3 621.8 1471.4 620.6 1470.8 618.9C1470.1 617.3 1470.8 614.8 1471.8 613.4C1472.8 611.9 1475.6 611.3 1476.7 610.1C1477.8 608.9 1477.5 607.4 1478.3 606.2C1479 605.1 1480.1 604.7 1481.1 603.2C1482 601.6 1482.5 598.2 1483.9 596.9Z"/><use href="#b19" fill="none" stroke-width="4.8" stroke-linecap="round" stroke-dasharray="0 6.1"/></g>
<g filter="url(#bump)" fill="#f9520f" stroke="#f9520f" stroke-width="2" stroke-linejoin="round"><path id="b20" d="M1514.4 555.2C1515.8 555.5 1517.1 558.2 1518.4 559.2C1519.7 560.2 1520.8 560.7 1522.3 561.3C1523.9 561.9 1525.8 562.9 1527.5 562.8C1529.2 562.8 1531.7 560.4 1532.7 561C1533.7 561.7 1532.7 565.1 1533.5 566.6C1534.3 568.1 1536.5 568.7 1537.6 570.1C1538.7 571.4 1538.9 572.8 1539.9 574.4C1540.9 576.1 1542.3 578.2 1543.4 579.7C1544.6 581.2 1546.2 581.5 1546.8 583.3C1547.4 585 1547.9 588.3 1547 590.2C1546.2 592.1 1542.4 592.7 1541.7 594.6C1541.1 596.4 1543.5 599.7 1543.1 601.4C1542.8 603.1 1540.7 603.9 1539.5 604.8C1538.2 605.7 1536.9 606 1535.5 606.9C1534.2 607.8 1533.1 609.6 1531.6 610.1C1530.1 610.5 1527.9 610.5 1526.6 609.7C1525.2 608.9 1524.6 606.5 1523.5 605.3C1522.5 604 1521.4 603.1 1520.1 602.3C1518.8 601.5 1517.3 601.1 1515.7 600.6C1514.1 600 1512 599.9 1510.6 599C1509.3 598.1 1508.5 596.9 1507.5 595.2C1506.4 593.5 1505 591 1504.4 588.9C1503.8 586.9 1504.3 584.6 1504 582.7C1503.7 580.9 1502.4 579.7 1502.6 578C1502.9 576.3 1505.1 574.5 1505.5 572.4C1505.8 570.3 1504.2 567 1504.8 565.4C1505.5 563.8 1508.5 564 1509.3 562.7C1510.2 561.3 1509.1 558.4 1509.9 557.1C1510.8 555.9 1513 554.9 1514.4 555.2Z"/><use href="#b20" fill="none" stroke-width="4.8" stroke-linecap="round" stroke-dasharray="0 6.1"/></g>
<g filter="url(#bump)" fill="#33ad2e" stroke="#33ad2e" stroke-width="2" stroke-linejoin="round"><path id="b21" d="M1327.6 585C1328.2 584.9 1329.7 587.3 1330.8 587.9C1331.9 588.4 1332.6 588 1334.1 588.3C1335.7 588.5 1338.2 589.5 1340.1 589.4C1341.9 589.3 1343.5 588.5 1345.1 587.6C1346.7 586.8 1348.4 584.5 1349.8 584.4C1351.2 584.4 1352.2 586.9 1353.6 587.5C1355 588.1 1356.7 587.3 1358.2 587.8C1359.7 588.3 1361 589.8 1362.5 590.3C1364 590.8 1365.6 591.2 1367.3 590.8C1369 590.4 1371.5 587.6 1372.6 587.8C1373.6 588 1373.2 590.5 1373.6 592.1C1374 593.6 1374.3 596.8 1375.1 597C1375.8 597.1 1376.9 593.5 1378 593C1379.1 592.6 1380.3 593.7 1381.6 594.3C1382.9 594.8 1384.7 595.5 1385.6 596.3C1386.5 597 1386.3 598.9 1387.1 598.8C1388 598.6 1389.1 596.3 1390.6 595.4C1392.1 594.6 1395.6 595 1396 593.7C1396.4 592.3 1393.1 589.2 1393 587.5C1392.8 585.7 1394.4 584.4 1395.1 583C1395.8 581.7 1396.1 580.5 1397.2 579.1C1398.2 577.8 1399.8 576.1 1401.4 575.2C1403 574.3 1404.9 574.1 1406.8 573.7C1408.6 573.4 1410.6 573.2 1412.5 572.8C1414.3 572.5 1416.5 572.2 1418 571.8C1419.5 571.4 1420 570.4 1421.4 570.4C1422.9 570.3 1425.6 570.4 1426.7 571.3C1427.9 572.3 1427.3 575.8 1428.3 576.2C1429.3 576.6 1431.2 574.9 1432.7 573.6C1434.2 572.2 1436.1 567.9 1437.2 568C1438.3 568.1 1438 572.5 1439.3 574.1C1440.6 575.7 1443.9 577.7 1445.2 577.5C1446.4 577.3 1446.2 574.5 1446.9 573C1447.7 571.4 1449.5 569.6 1449.6 568.1C1449.8 566.5 1448.5 565.2 1447.9 563.5C1447.4 561.9 1446.2 559.7 1446.4 558.3C1446.6 557 1448.1 556.1 1449.3 555.3C1450.5 554.5 1452.3 554.2 1453.4 553.5C1454.6 552.9 1454.8 552.4 1456.2 551.5C1457.6 550.6 1459.7 548.2 1461.8 548.1C1463.8 547.9 1466.4 550.5 1468.3 550.4C1470.2 550.4 1471.5 547.8 1473.2 547.6C1474.8 547.5 1476.7 549.4 1478.3 549.4C1479.9 549.4 1481.1 548.1 1482.8 547.7C1484.5 547.2 1487.5 547.6 1488.4 546.6C1489.3 545.7 1487.7 543.1 1488.2 542C1488.7 540.9 1489.9 540.6 1491.3 540C1492.8 539.5 1495.5 538.4 1497 538.6C1498.6 538.8 1499.5 540.5 1500.8 541.2C1502.2 541.9 1503.8 541.7 1504.9 542.8C1505.9 543.8 1506.9 546.3 1507.2 547.7C1507.4 549.2 1506.1 550.5 1506.2 551.6C1506.4 552.8 1507.7 553.7 1508.3 554.9C1508.9 556 1509.9 557.3 1509.9 558.5C1509.9 559.8 1508.8 561.1 1508 562.3C1507.3 563.5 1506.1 564.6 1505.3 565.8C1504.6 567.1 1504.1 568.5 1503.7 569.9C1503.3 571.2 1503.1 572.7 1502.7 573.9C1502.3 575.2 1501.7 575.8 1501.4 577.4C1501 578.9 1500.3 581.6 1500.4 583.3C1500.5 585 1501.4 585.9 1501.8 587.5C1502.3 589.1 1503.4 591.7 1503 593C1502.5 594.3 1500.9 594.9 1499.3 595.4C1497.8 595.9 1495.7 595.7 1493.9 595.9C1492.1 596.2 1490.1 596.7 1488.6 596.8C1487 596.9 1486.2 595.9 1484.6 596.5C1483.1 597.1 1480.9 599.4 1479.4 600.3C1477.8 601.3 1476.6 601.7 1475.2 602.2C1473.8 602.7 1472.3 602.7 1470.8 603.4C1469.4 604.1 1467.9 605.8 1466.4 606.2C1464.8 606.6 1463.2 606 1461.6 605.8C1460 605.6 1458.4 605.3 1456.8 605.2C1455.3 605.1 1453.7 605.3 1452.3 605.1C1450.8 604.8 1449.2 604.6 1448 603.7C1446.9 602.8 1446.6 600.5 1445.4 599.7C1444.3 598.9 1442.9 599.4 1441.2 598.9C1439.5 598.4 1437.3 596.7 1435.4 596.8C1433.5 596.9 1431.8 598.8 1430 599.7C1428.2 600.5 1425.8 601 1424.6 601.9C1423.5 602.8 1422.8 603.8 1423.1 604.8C1423.4 605.9 1424.9 607.1 1426.3 608.3C1427.7 609.5 1431.4 611.1 1431.4 612.2C1431.4 613.3 1427.3 613.7 1426.4 614.8C1425.4 615.8 1426.7 617.5 1425.8 618.7C1424.9 619.9 1422.7 621.8 1421.1 621.8C1419.5 621.9 1417.7 619.5 1416 619.2C1414.3 619 1412.6 619.4 1411 620.4C1409.5 621.4 1408.5 624.8 1406.9 625.1C1405.3 625.5 1403.5 623.2 1401.7 622.5C1399.9 621.8 1398 621.4 1396.2 621C1394.4 620.6 1392.8 620.3 1390.9 620.2C1389 620.1 1386.3 620.8 1384.7 620.4C1383.1 619.9 1382.7 618.6 1381.3 617.5C1379.9 616.5 1377.1 614 1376.2 614.2C1375.3 614.4 1376.4 617.4 1376 618.9C1375.6 620.5 1373.7 621.8 1373.6 623.4C1373.6 625.1 1376.1 627.5 1375.7 629C1375.3 630.5 1371.9 631.3 1371.4 632.7C1370.8 634.1 1372.7 636.2 1372.2 637.1C1371.7 638.1 1369.3 637.5 1368.2 638.5C1367.2 639.4 1367.1 642.2 1365.9 642.9C1364.6 643.6 1361.7 642.4 1360.5 642.7C1359.3 643 1359.8 644.3 1358.7 644.9C1357.5 645.5 1355.5 645.5 1353.9 646.2C1352.3 646.8 1350.5 648.7 1348.9 648.8C1347.3 648.9 1345.5 646.7 1344 646.8C1342.6 646.9 1341.7 648.3 1340.3 649.2C1339 650.2 1337.1 652.6 1335.9 652.6C1334.7 652.7 1334.2 650.6 1333.1 649.4C1332 648.3 1329.4 647.1 1329.3 645.8C1329.1 644.4 1331 642.6 1332.2 641.4C1333.4 640.2 1336.6 639.3 1336.4 638.4C1336.3 637.5 1332.3 637 1331.3 635.9C1330.2 634.8 1330.9 632 1330.1 631.9C1329.3 631.7 1327.7 634.1 1326.3 635.1C1324.9 636 1323 636.3 1321.7 637.6C1320.3 638.9 1319.4 643 1318.3 642.9C1317.2 642.8 1316.3 638.4 1315 636.9C1313.7 635.4 1311.1 635.2 1310.4 633.7C1309.8 632.2 1311.7 629.5 1311.3 628C1311 626.5 1308.7 626.2 1308.4 624.7C1308 623.3 1308.7 620.6 1309.4 619.2C1310.2 617.8 1311.6 617.8 1312.8 616.5C1314 615.2 1315.7 613.1 1316.5 611.4C1317.4 609.6 1317.2 607.8 1317.9 606.1C1318.5 604.4 1320.1 602.9 1320.6 601.2C1321 599.5 1320.1 597.5 1320.6 596C1321.1 594.4 1322.5 593.2 1323.5 592C1324.5 590.7 1326.2 589.6 1326.9 588.5C1327.6 587.3 1326.9 585.1 1327.6 585Z"/><use href="#b21" fill="none" stroke-width="4.8" stroke-linecap="round" stroke-dasharray="0 6.1"/></g>
<g filter="url(#bump)" fill="#fbb726" stroke="#fbb726" stroke-width="2" stroke-linejoin="round"><path id="b22" d="M1699.7 1156.8C1701.3 1155.8 1703.8 1156.7 1705.8 1156.6C1707.8 1156.6 1710 1156.2 1711.7 1156.5C1713.4 1156.7 1714.3 1157.5 1715.9 1158.2C1717.6 1158.8 1720 1160.9 1721.5 1160.6C1723 1160.4 1723.8 1158.2 1725.1 1156.8C1726.3 1155.4 1727.6 1152.9 1729.2 1152.5C1730.7 1152 1732.8 1153.9 1734.3 1154.2C1735.7 1154.5 1736.4 1153.7 1737.7 1154.3C1739 1154.9 1741.1 1156.6 1741.8 1158C1742.5 1159.4 1742.3 1160.9 1742 1162.5C1741.6 1164.1 1740.7 1165.9 1739.8 1167.5C1739 1169.2 1737.9 1171 1736.9 1172.3C1735.8 1173.6 1735 1174.4 1733.6 1175.2C1732.2 1176 1730.3 1177.4 1728.7 1177C1727.1 1176.7 1725 1172.9 1724 1173.1C1723.1 1173.2 1723.1 1176.3 1722.9 1177.8C1722.7 1179.3 1723.3 1180.6 1722.9 1182.3C1722.6 1183.9 1722 1186.6 1720.9 1187.8C1719.8 1188.9 1717.9 1188.8 1716.5 1189C1715.1 1189.1 1714.1 1189 1712.7 1188.7C1711.3 1188.4 1709.6 1188.1 1708.3 1187.4C1706.9 1186.7 1706 1185.3 1704.5 1184.5C1702.9 1183.6 1700.9 1181.9 1699.2 1182.1C1697.6 1182.4 1696.2 1185 1694.6 1186C1693.1 1186.9 1691 1188.3 1690.2 1188C1689.3 1187.7 1690.2 1185.5 1689.3 1184.3C1688.5 1183.2 1685.2 1182.1 1685 1180.9C1684.9 1179.6 1687 1178.1 1688.6 1176.7C1690.2 1175.3 1694.1 1173.8 1694.5 1172.5C1694.9 1171.3 1691.7 1170.7 1691 1169.1C1690.2 1167.5 1689.1 1164.1 1690 1163C1690.9 1161.9 1695 1163.4 1696.6 1162.4C1698.2 1161.3 1698.2 1157.7 1699.7 1156.8Z"/><use href="#b22" fill="none" stroke-width="4.8" stroke-linecap="round" stroke-dasharray="0 6.1"/></g>
<g filter="url(#bump)" fill="#f9520f" stroke="#f9520f" stroke-width="2" stroke-linejoin="round"><path id="b23" d="M1699.6 1183.8C1701.1 1183.7 1703 1183.5 1704.3 1184.4C1705.5 1185.4 1705.8 1188.1 1707.1 1189.2C1708.4 1190.3 1710.4 1190.9 1712.1 1191.1C1713.7 1191.2 1715.5 1190.7 1716.8 1190C1718.1 1189.3 1719.4 1186.4 1720.1 1186.8C1720.8 1187.3 1720.2 1190.7 1720.8 1192.6C1721.3 1194.6 1722.8 1196.5 1723.3 1198.4C1723.8 1200.3 1724 1202.4 1723.8 1204.1C1723.5 1205.8 1721.8 1207.1 1721.7 1208.7C1721.6 1210.2 1722.7 1211.9 1723.2 1213.4C1723.6 1214.9 1723.4 1216.4 1724.3 1217.6C1725.2 1218.8 1727.8 1219.1 1728.4 1220.7C1729.1 1222.2 1727.5 1225.2 1728.2 1226.9C1729 1228.6 1731.7 1231 1733.1 1230.8C1734.5 1230.6 1735 1226.7 1736.5 1225.6C1738.1 1224.5 1740.7 1225 1742.5 1224C1744.3 1223 1746.6 1219.3 1747.4 1219.6C1748.2 1219.8 1748.1 1223.8 1747.5 1225.6C1747 1227.3 1745.7 1229.2 1744.2 1230.1C1742.8 1231 1740.5 1230.4 1738.9 1230.8C1737.2 1231.2 1736 1232.2 1734.3 1232.7C1732.7 1233.1 1730.8 1233.4 1728.9 1233.5C1727.1 1233.5 1725.3 1233.3 1723.4 1233C1721.5 1232.6 1719.5 1232 1717.7 1231.6C1715.9 1231.1 1714.2 1230.7 1712.6 1230.3C1711 1229.9 1709.6 1229.1 1708.1 1229C1706.5 1228.9 1704.8 1230 1703.3 1229.8C1701.8 1229.6 1700.5 1228.8 1699 1227.8C1697.4 1226.9 1695.6 1225.4 1693.9 1224.1C1692.3 1222.8 1690.2 1221.5 1689 1219.9C1687.8 1218.3 1687.6 1216.2 1686.8 1214.5C1686.1 1212.9 1684.7 1211.8 1684.5 1209.9C1684.4 1208.1 1686.2 1205.3 1685.9 1203.4C1685.5 1201.5 1682.8 1200.3 1682.4 1198.7C1682 1197.1 1682.6 1195.1 1683.4 1193.6C1684.2 1192.1 1685.9 1190.6 1687.2 1189.6C1688.5 1188.6 1689.9 1188 1691.3 1187.3C1692.8 1186.6 1694.3 1185.9 1695.6 1185.3C1697 1184.7 1698.2 1183.9 1699.6 1183.8Z"/><use href="#b23" fill="none" stroke-width="4.8" stroke-linecap="round" stroke-dasharray="0 6.1"/></g>
<g filter="url(#bump)" fill="#f9520f" stroke="#f9520f" stroke-width="2" stroke-linejoin="round"><path id="b24" d="M1875.4 1066C1876.3 1064.8 1878.5 1065.2 1880.2 1065.3C1881.9 1065.4 1883.8 1066.8 1885.4 1066.5C1887 1066.2 1888.6 1063.4 1890 1063.5C1891.3 1063.7 1892.1 1066.5 1893.4 1067.2C1894.7 1068 1896.4 1067.4 1897.7 1067.9C1899.1 1068.5 1900.4 1070 1901.7 1070.4C1903.1 1070.8 1904.4 1070.7 1905.9 1070.6C1907.5 1070.5 1909.9 1068.9 1911.2 1069.7C1912.5 1070.5 1912.2 1074.4 1913.6 1075.4C1914.9 1076.5 1918.1 1075.4 1919.4 1076.2C1920.7 1077.1 1920.8 1079 1921.2 1080.3C1921.7 1081.7 1921.8 1082.8 1921.8 1084.5C1921.8 1086.1 1921.7 1088.1 1921.3 1090C1921 1091.9 1920.4 1094.3 1919.8 1095.8C1919.3 1097.3 1918.6 1097.8 1918 1099.1C1917.3 1100.3 1917.1 1102.6 1916 1103.4C1915 1104.3 1913.1 1104.1 1911.5 1104C1909.8 1104 1907.7 1103.1 1906.1 1103.1C1904.5 1103.2 1903.6 1104.1 1901.8 1104.3C1900.1 1104.6 1897.6 1104.9 1895.6 1104.5C1893.6 1104 1891.3 1102.3 1889.7 1101.8C1888 1101.3 1887.1 1101.9 1885.7 1101.6C1884.3 1101.3 1882.5 1101 1881.2 1099.8C1880 1098.5 1879.5 1096 1878.3 1094.2C1877 1092.3 1874.7 1090.4 1873.9 1088.6C1873.2 1086.8 1873.3 1085.2 1873.7 1083.4C1874.2 1081.6 1876.5 1079.7 1876.7 1077.9C1876.8 1076.1 1874.8 1074.7 1874.6 1072.7C1874.4 1070.8 1874.4 1067.3 1875.4 1066Z"/><use href="#b24" fill="none" stroke-width="4.8" stroke-linecap="round" stroke-dasharray="0 6.1"/></g>
<g filter="url(#bump)" fill="#fbb726" stroke="#fbb726" stroke-width="2" stroke-linejoin="round"><path id="b25" d="M1882.9 1102.6C1884 1101.9 1886.3 1101.6 1887.9 1101.8C1889.4 1102 1890.8 1103.3 1892.3 1103.8C1893.8 1104.3 1895.3 1104.9 1896.9 1105C1898.4 1105 1900.1 1104.4 1901.7 1104.2C1903.2 1104 1904.6 1104 1906.2 1103.9C1907.8 1103.9 1909.5 1104.1 1911.1 1104C1912.8 1103.9 1914.6 1103.6 1916.1 1103.3C1917.6 1103 1918.7 1102.4 1920.1 1102C1921.6 1101.7 1923.4 1101.7 1925 1101.3C1926.5 1100.8 1928.8 1099 1929.5 1099.5C1930.2 1099.9 1929.4 1102.4 1929.1 1103.9C1928.9 1105.4 1927.9 1106.9 1928 1108.5C1928 1110.1 1929.3 1111.9 1929.4 1113.5C1929.5 1115.1 1928.9 1116.7 1928.4 1118.2C1928 1119.7 1928 1121.4 1926.9 1122.4C1925.8 1123.5 1922.5 1123.2 1921.7 1124.4C1920.9 1125.7 1922.4 1128.3 1922.2 1130C1922 1131.8 1921.8 1134 1920.4 1134.9C1919 1135.9 1915.4 1134.7 1913.7 1135.6C1912 1136.6 1911.6 1139.5 1910.2 1140.6C1908.8 1141.7 1907.2 1141.7 1905.5 1142.2C1903.8 1142.7 1901.7 1143.1 1899.9 1143.7C1898.1 1144.2 1896.6 1145.8 1894.8 1145.6C1893.1 1145.3 1891.2 1142.3 1889.5 1142C1887.8 1141.6 1886.3 1143.1 1884.8 1143.5C1883.2 1144 1881.8 1144.2 1880.4 1144.6C1879 1144.9 1878 1145.6 1876.4 1145.6C1874.8 1145.5 1872.6 1145.2 1870.9 1144.4C1869.1 1143.5 1866.6 1142.1 1865.9 1140.4C1865.1 1138.8 1866.7 1136.1 1866.5 1134.5C1866.4 1132.9 1864.5 1132.1 1864.9 1130.9C1865.3 1129.7 1868.5 1128.8 1868.9 1127.2C1869.3 1125.7 1867.3 1123.4 1867.4 1121.8C1867.6 1120.3 1868.9 1119 1869.9 1117.9C1870.9 1116.9 1872.3 1116.6 1873.5 1115.8C1874.6 1114.9 1876 1114.1 1876.8 1112.9C1877.5 1111.7 1877.4 1109.7 1878.2 1108.5C1879 1107.4 1880.6 1107 1881.4 1106C1882.2 1105 1881.8 1103.3 1882.9 1102.6Z"/><use href="#b25" fill="none" stroke-width="4.8" stroke-linecap="round" stroke-dasharray="0 6.1"/></g>
<g filter="url(#bump)" fill="#33ad2e" stroke="#33ad2e" stroke-width="2" stroke-linejoin="round"><path id="b26" d="M1742 1163C1743.2 1162.1 1744.5 1162.1 1746.1 1162.2C1747.8 1162.2 1750.4 1162.7 1752.1 1163.2C1753.8 1163.6 1754.9 1165 1756.3 1164.9C1757.8 1164.8 1759.5 1163.6 1760.8 1162.5C1762.1 1161.5 1762.8 1158.8 1764.1 1158.4C1765.3 1158 1766.8 1159.5 1768.1 1160.3C1769.4 1161.1 1770.5 1162.6 1771.8 1163C1773.1 1163.4 1774.3 1162.8 1775.7 1162.7C1777.1 1162.6 1778.7 1163.3 1780.3 1162.5C1781.8 1161.8 1783.9 1159.9 1785 1158.2C1786 1156.6 1786.8 1154.3 1786.6 1152.6C1786.5 1150.9 1784.8 1149.7 1784.3 1148.2C1783.8 1146.7 1783.9 1145.4 1783.5 1143.5C1783.1 1141.6 1781.6 1138.7 1781.7 1136.8C1781.9 1135 1782.9 1133.6 1784.3 1132.7C1785.6 1131.8 1788.2 1132.2 1789.7 1131.5C1791.2 1130.8 1792.4 1129.7 1793.4 1128.5C1794.4 1127.2 1794.7 1125.2 1795.6 1123.9C1796.6 1122.6 1798 1121.7 1799.1 1120.7C1800.2 1119.6 1801 1118.6 1802.4 1117.7C1803.7 1116.9 1805.8 1115.8 1807.3 1115.4C1808.9 1115.1 1809.9 1116 1811.5 1115.7C1813.1 1115.3 1815.4 1113.5 1816.9 1113.4C1818.5 1113.3 1819.8 1114.5 1821 1115.1C1822.2 1115.7 1823.8 1117.5 1824.2 1116.9C1824.6 1116.2 1823.2 1113.4 1823.3 1111.4C1823.5 1109.3 1825.6 1106.1 1824.9 1104.4C1824.3 1102.6 1820.7 1102.3 1819.7 1100.8C1818.6 1099.3 1818.2 1097.1 1818.4 1095.4C1818.7 1093.7 1820.3 1091.9 1821.2 1090.6C1822.2 1089.2 1822.9 1088.4 1824.1 1087.4C1825.4 1086.5 1827.3 1085.9 1828.9 1084.9C1830.6 1083.9 1832.4 1082.5 1833.9 1081.5C1835.4 1080.4 1836.7 1079.5 1837.9 1078.5C1839.2 1077.4 1840.4 1076.3 1841.7 1075.2C1842.9 1074.1 1844.2 1072.8 1845.4 1071.8C1846.5 1070.8 1847.5 1070.2 1848.5 1069.3C1849.5 1068.3 1851 1067.3 1851.5 1066.1C1852 1064.8 1851.6 1062.9 1851.3 1061.7C1851 1060.5 1849 1060 1849.8 1058.9C1850.5 1057.7 1853.9 1054.9 1855.9 1054.8C1857.8 1054.7 1860 1056.9 1861.4 1058.2C1862.8 1059.4 1863.4 1061 1864.3 1062.3C1865.3 1063.6 1866.2 1064.6 1866.9 1066C1867.6 1067.5 1867.9 1069.6 1868.8 1070.9C1869.6 1072.1 1871.6 1072.2 1872.1 1073.5C1872.6 1074.8 1871.6 1077.2 1871.9 1078.8C1872.2 1080.5 1873.6 1081.6 1873.8 1083.4C1874 1085.3 1872.4 1088.2 1873.3 1089.9C1874.2 1091.5 1877.8 1091.7 1879.1 1093.3C1880.4 1094.8 1881.3 1097.4 1881.2 1099C1881.1 1100.7 1879 1101.5 1878.7 1103.3C1878.4 1105.1 1880.1 1108.7 1879.2 1109.6C1878.3 1110.6 1875 1108.6 1873.5 1109.2C1871.9 1109.7 1870.5 1111.6 1870 1113C1869.4 1114.4 1870.6 1116.3 1870.1 1117.6C1869.5 1119 1867.4 1119.9 1866.6 1121C1865.8 1122 1866 1122.9 1865.3 1124.1C1864.7 1125.4 1863.6 1127 1862.5 1128.3C1861.3 1129.5 1860.1 1131.3 1858.6 1131.5C1857.1 1131.8 1855.1 1129.9 1853.4 1129.7C1851.8 1129.6 1850.3 1130.3 1848.8 1130.8C1847.3 1131.4 1845.7 1131.9 1844.5 1133.1C1843.2 1134.3 1842.4 1137.2 1841.2 1137.9C1839.9 1138.6 1838.2 1137.1 1836.9 1137.2C1835.6 1137.2 1834.5 1137.8 1833.3 1138.4C1832 1139 1830.7 1140.2 1829.2 1140.8C1827.7 1141.5 1825.2 1141 1824.2 1142.1C1823.2 1143.2 1823.7 1146.3 1823 1147.4C1822.3 1148.6 1820.1 1148.2 1820.1 1149.1C1820 1149.9 1821.3 1151.7 1822.7 1152.4C1824.1 1153 1827.4 1152.2 1828.4 1153C1829.4 1153.7 1828.9 1155.7 1828.7 1156.8C1828.6 1158 1828.2 1159 1827.3 1160.1C1826.5 1161.2 1824.3 1161.9 1823.5 1163.5C1822.6 1165.2 1823.6 1169.1 1822.3 1170.1C1821.1 1171.2 1817.8 1169.5 1815.9 1169.8C1813.9 1170.1 1812.3 1171.2 1810.6 1172C1808.9 1172.8 1807 1173.3 1805.5 1174.6C1804 1175.9 1803.1 1178.8 1801.7 1179.9C1800.2 1181.1 1798.4 1181.4 1796.6 1181.7C1794.9 1182 1792.7 1182 1791.1 1181.9C1789.4 1181.7 1787.8 1180.1 1786.6 1180.8C1785.3 1181.5 1784.4 1184.2 1783.8 1186.1C1783.2 1187.9 1782.9 1190.1 1783 1192C1783.1 1194 1783.6 1196.1 1784.4 1197.7C1785.2 1199.4 1787.5 1200.4 1787.9 1202C1788.3 1203.5 1787.4 1205.5 1786.9 1207.1C1786.3 1208.6 1785.7 1210 1784.5 1211.1C1783.3 1212.2 1780.4 1212.3 1779.5 1213.7C1778.6 1215.2 1779.9 1218.4 1779.1 1219.9C1778.2 1221.3 1776.2 1222 1774.4 1222.6C1772.6 1223.3 1769.9 1223 1768.4 1224C1767 1225 1767 1227.1 1765.8 1228.7C1764.5 1230.3 1762.2 1233.6 1760.9 1233.6C1759.7 1233.7 1759.4 1230.1 1758.3 1229C1757.1 1228 1755.5 1228.3 1753.9 1227.5C1752.3 1226.6 1750.2 1225.7 1748.8 1224.1C1747.3 1222.4 1746.1 1218 1745.1 1217.5C1744 1217 1743 1219.6 1742.6 1221.2C1742.1 1222.7 1743.2 1226.2 1742.4 1226.9C1741.6 1227.6 1738.8 1225.2 1737.6 1225.4C1736.4 1225.6 1736.5 1227.8 1735.3 1228C1734.1 1228.2 1731.4 1227.6 1730.4 1226.5C1729.4 1225.5 1729.8 1223.5 1729.2 1221.9C1728.6 1220.2 1727.5 1218.5 1726.7 1216.8C1725.9 1215.2 1725.2 1213.7 1724.4 1212C1723.6 1210.3 1722.4 1208.4 1722.2 1206.5C1721.9 1204.6 1723.1 1202.5 1722.9 1200.7C1722.8 1198.9 1721.7 1197.1 1721.4 1195.5C1721.1 1193.9 1720.8 1192.5 1721.2 1191C1721.5 1189.5 1723.2 1188.2 1723.3 1186.6C1723.3 1185.1 1721.2 1183.2 1721.4 1181.9C1721.6 1180.5 1724.1 1179.5 1724.5 1178.4C1724.8 1177.3 1722.4 1175.5 1723.3 1175.5C1724.2 1175.5 1728.3 1178.9 1729.7 1178.5C1731.1 1178.2 1730.9 1174.6 1731.9 1173.4C1732.9 1172.2 1734.5 1172.2 1735.7 1171.2C1736.8 1170.2 1737.9 1168.8 1739 1167.4C1740 1166.1 1740.8 1163.8 1742 1163Z"/><use href="#b26" fill="none" stroke-width="4.8" stroke-linecap="round" stroke-dasharray="0 6.1"/></g>
<g filter="url(#bump)" fill="#9072ee" stroke="#9072ee" stroke-width="2" stroke-linejoin="round"><path id="b27" d="M1215.1 930.2C1215.6 929.3 1218.2 932 1219.9 932.3C1221.6 932.6 1224.4 931.1 1225.1 932C1225.8 932.9 1224.4 936.2 1224 937.9C1223.6 939.5 1222.5 940 1222.7 941.8C1222.9 943.6 1223.8 947.1 1225.2 948.7C1226.6 950.3 1230.3 949.9 1231.3 951.4C1232.2 953 1231.2 955.7 1231 957.9C1230.9 960.1 1230.4 962.5 1230.6 964.5C1230.7 966.5 1231.6 968.1 1231.8 970C1232.1 971.8 1232.3 973.6 1232.2 975.3C1232 977.1 1230.7 978.6 1231 980.7C1231.2 982.9 1233.7 986.2 1233.6 988.3C1233.4 990.3 1231.4 991.7 1230 993.1C1228.6 994.5 1226.9 995.8 1225 996.7C1223 997.7 1220 997.6 1218.3 998.6C1216.5 999.7 1215.5 1001.1 1214.6 1002.8C1213.6 1004.6 1212.5 1007.5 1212.6 1009.3C1212.6 1011.2 1214 1012.7 1215.2 1014.1C1216.3 1015.5 1218.2 1016.5 1219.4 1017.9C1220.7 1019.3 1221.6 1021.1 1222.6 1022.6C1223.6 1024.2 1224.6 1025.8 1225.5 1027.3C1226.4 1028.9 1226.9 1030.6 1228.2 1031.8C1229.4 1033 1232.7 1033.3 1232.8 1034.5C1232.9 1035.8 1229.8 1037.5 1228.9 1039.3C1228 1041 1227.2 1043.3 1227.5 1045.2C1227.8 1047 1229.5 1048.5 1230.5 1050.4C1231.6 1052.3 1234.1 1054.9 1233.9 1056.6C1233.7 1058.4 1230.4 1058.9 1229.5 1060.6C1228.6 1062.2 1229.4 1064.6 1228.4 1066.5C1227.5 1068.4 1223.4 1071.6 1223.7 1072.2C1224 1072.8 1228.3 1069.6 1230.3 1070.3C1232.3 1071 1235.9 1075.4 1235.8 1076.5C1235.6 1077.6 1231.4 1076.5 1229.5 1076.8C1227.6 1077.2 1225.7 1077.5 1224.6 1078.6C1223.5 1079.6 1222.8 1081.7 1222.8 1083.2C1222.8 1084.8 1224.3 1086.4 1224.7 1088C1225.1 1089.5 1224.6 1091.1 1225.4 1092.4C1226.2 1093.6 1228.2 1094.5 1229.7 1095.4C1231.2 1096.3 1233.2 1097 1234.3 1097.9C1235.5 1098.7 1236.3 1098.8 1236.6 1100.5C1237 1102.2 1236.8 1106 1236.6 1108.2C1236.3 1110.4 1235.5 1111.6 1235 1113.6C1234.5 1115.7 1233.3 1118.8 1233.6 1120.8C1233.9 1122.8 1235.6 1123.9 1236.9 1125.7C1238.2 1127.6 1241.2 1129.8 1241.5 1131.7C1241.8 1133.6 1239.6 1135.2 1238.6 1137.1C1237.6 1138.9 1235.6 1140.8 1235.5 1142.8C1235.4 1144.9 1236.9 1147.4 1238 1149.5C1239 1151.6 1239.8 1153.5 1241.8 1155.3C1243.7 1157.1 1249.3 1158.6 1249.7 1160.2C1250.2 1161.8 1246.4 1163.2 1244.5 1164.9C1242.6 1166.7 1238.6 1168.9 1238.4 1170.8C1238.2 1172.8 1241.8 1174.4 1243.1 1176.7C1244.5 1178.9 1244.9 1182.8 1246.4 1184.3C1248 1185.7 1250.4 1184.6 1252.6 1185.2C1254.7 1185.8 1258.8 1186.6 1259.5 1187.9C1260.1 1189.2 1256.9 1191.5 1256.5 1193.2C1256.1 1194.9 1257.1 1196.5 1257 1198.3C1257 1200.1 1256.8 1202.1 1256.1 1204.1C1255.4 1206 1252.8 1208.2 1252.9 1209.9C1252.9 1211.6 1255.8 1212.8 1256.5 1214.2C1257.2 1215.5 1257.7 1216.5 1257 1217.9C1256.3 1219.2 1253.8 1220.9 1252.2 1222.1C1250.6 1223.2 1247.6 1223.6 1247.3 1224.9C1247 1226.2 1249.3 1228.3 1250.5 1229.9C1251.7 1231.5 1253.6 1232.8 1254.4 1234.5C1255.2 1236.2 1254.9 1238.3 1255.2 1240.3C1255.5 1242.2 1256.2 1244.3 1256.2 1246.2C1256.1 1248.1 1256 1250.1 1255 1251.5C1253.9 1253 1251.8 1254 1249.9 1255C1248 1255.9 1245.1 1256.3 1243.6 1257.4C1242.2 1258.4 1241.8 1260.1 1241 1261.5C1240.3 1262.8 1240.3 1264.8 1239.1 1265.6C1238 1266.5 1235.8 1266.5 1234.1 1266.7C1232.4 1267 1230.7 1266.6 1228.9 1267C1227.1 1267.4 1224.6 1269.8 1223 1269.2C1221.5 1268.5 1220.8 1264.3 1219.6 1263.2C1218.3 1262.1 1217.1 1263.2 1215.4 1262.6C1213.7 1261.9 1210.2 1260.6 1209.4 1259.3C1208.6 1257.9 1210.4 1256.7 1210.7 1254.6C1211 1252.4 1210.2 1248.9 1211.1 1246.4C1212.1 1243.8 1215.6 1241.4 1216.2 1239.4C1216.9 1237.3 1215.6 1235.8 1214.9 1234C1214.2 1232.2 1213.2 1230.6 1212.1 1228.6C1210.9 1226.5 1207.9 1223.6 1207.9 1221.8C1207.8 1220 1210.6 1218.8 1211.9 1217.8C1213.1 1216.8 1214.9 1217.4 1215.2 1215.8C1215.5 1214.2 1214.7 1210.3 1213.6 1208.2C1212.5 1206.2 1209.5 1205.4 1208.6 1203.5C1207.7 1201.6 1207.4 1198.8 1208.2 1197C1209.1 1195.1 1212.8 1194.1 1213.5 1192.5C1214.3 1190.9 1213.4 1189.2 1212.7 1187.6C1212.1 1186 1210.5 1184.6 1209.5 1182.9C1208.5 1181.2 1208.1 1179.1 1206.9 1177.6C1205.7 1176.2 1203.8 1175.4 1202.3 1174.3C1200.7 1173.1 1199.5 1171.6 1197.6 1170.7C1195.8 1169.9 1191.9 1170.6 1191.3 1169.3C1190.7 1168 1192.9 1164.5 1194 1163C1195.1 1161.5 1197.3 1161.8 1197.9 1160.3C1198.4 1158.8 1197.4 1155.7 1197.2 1153.9C1196.9 1152 1195.6 1150.9 1196.2 1149.2C1196.7 1147.5 1199.2 1146.1 1200.5 1143.7C1201.8 1141.3 1204.2 1136.6 1204 1134.7C1203.7 1132.8 1200.7 1132.8 1198.8 1132.4C1197 1131.9 1194.1 1132.5 1192.8 1131.8C1191.4 1131.1 1191.3 1129.9 1190.5 1128C1189.7 1126.1 1187.6 1122.8 1187.9 1120.5C1188.1 1118.2 1191.8 1116.4 1192 1114.4C1192.3 1112.4 1190.1 1110.5 1189.4 1108.7C1188.6 1106.9 1188.3 1105.5 1187.5 1103.7C1186.7 1101.9 1185.1 1100.3 1184.5 1097.9C1184 1095.6 1184.9 1091.5 1184 1089.6C1183 1087.8 1180.8 1087.6 1178.9 1086.8C1177 1085.9 1174 1084.3 1172.5 1084.7C1170.9 1085 1170.5 1087.4 1169.8 1089C1169.1 1090.7 1169.3 1093 1168.5 1094.4C1167.6 1095.8 1166.1 1096 1164.8 1097.5C1163.5 1099 1161.4 1101 1160.4 1103.3C1159.4 1105.6 1160.2 1109.8 1158.8 1111.2C1157.4 1112.7 1154.3 1111.8 1152.1 1111.9C1149.9 1111.9 1147.6 1112.1 1145.7 1111.6C1143.7 1111.1 1142 1110 1140.1 1108.9C1138.3 1107.8 1136.5 1105.7 1134.5 1105.2C1132.4 1104.6 1128.6 1106.9 1127.7 1105.7C1126.9 1104.6 1128.5 1100.8 1129.5 1098.4C1130.4 1096 1133.6 1093 1133.4 1091.5C1133.2 1090 1130 1090.1 1128.3 1089.3C1126.7 1088.6 1125.2 1087.9 1123.4 1086.8C1121.7 1085.8 1118.2 1084.7 1117.9 1083.1C1117.5 1081.4 1120.9 1078.8 1121.3 1076.9C1121.8 1074.9 1120.7 1073.3 1120.6 1071.3C1120.4 1069.3 1119.7 1066.6 1120.2 1064.9C1120.8 1063.2 1122.8 1062.5 1124 1061.2C1125.1 1059.8 1125.9 1058.3 1127.2 1057C1128.5 1055.7 1130.4 1054.7 1131.8 1053.3C1133.1 1051.9 1134.8 1050.3 1135.1 1048.5C1135.5 1046.8 1133.1 1044.6 1133.8 1042.6C1134.5 1040.7 1138.8 1038.7 1139.3 1036.6C1139.9 1034.6 1137.3 1032.6 1137.1 1030.3C1136.9 1028 1136.9 1024.4 1138.2 1022.8C1139.5 1021.2 1142.9 1022 1144.7 1020.7C1146.4 1019.4 1147.1 1016.6 1148.7 1015C1150.3 1013.3 1152.6 1012.4 1154.5 1010.9C1156.4 1009.4 1158 1006.2 1160 1005.9C1162 1005.6 1164.3 1008.5 1166.3 1009.2C1168.3 1010 1169.9 1010 1171.8 1010.4C1173.7 1010.9 1176 1011.2 1177.8 1012C1179.6 1012.8 1181.1 1014.1 1182.6 1015.1C1184.2 1016.2 1185.4 1018.3 1186.9 1018.3C1188.3 1018.4 1189.8 1016.3 1191.3 1015.5C1192.8 1014.6 1194.2 1013.9 1195.8 1013.3C1197.5 1012.7 1199.4 1012.1 1201 1011.7C1202.7 1011.3 1204 1011 1205.9 1010.8C1207.7 1010.7 1210.9 1011.9 1212 1010.9C1213 1010 1211.6 1007 1212 1005.2C1212.3 1003.5 1213.4 1001.9 1214.1 1000.3C1214.8 998.7 1215.1 997.2 1216.2 995.6C1217.3 993.9 1219.8 992.5 1220.7 990.6C1221.6 988.7 1221.4 986.3 1221.5 984.1C1221.5 981.8 1221.6 979.3 1221.1 977C1220.6 974.7 1218.5 972.5 1218.4 970.3C1218.3 968.2 1219.5 965.9 1220.3 964C1221 962.2 1222.8 961.1 1222.7 959.3C1222.6 957.6 1220.4 955.4 1219.4 953.4C1218.5 951.4 1217.4 949.4 1217 947.5C1216.5 945.6 1216.8 943.7 1216.7 942C1216.7 940.3 1216.9 939.3 1216.7 937.3C1216.4 935.3 1214.5 931 1215.1 930.2Z"/><use href="#b27" fill="none" stroke-width="5.8" stroke-linecap="round" stroke-dasharray="0 7.1"/></g>
<g filter="url(#bump)" fill="#669cee" stroke="#669cee" stroke-width="2" stroke-linejoin="round"><path id="b28" d="M1391.6 930.4C1392 929.6 1398.2 929.4 1399.3 930.4C1400.4 931.5 1398 934.9 1398.1 936.7C1398.2 938.4 1399 939.5 1400 941C1401 942.4 1402.6 943.9 1404.2 945.6C1405.7 947.3 1409.4 949.5 1409.3 951.4C1409.1 953.3 1404.5 954.8 1403.1 957C1401.6 959.3 1399.8 962.6 1400.3 964.9C1400.9 967.2 1405.2 968.5 1406.5 970.9C1407.8 973.2 1408.7 976.8 1408.2 979.1C1407.6 981.3 1404.2 982.6 1403 984.4C1401.9 986.2 1401.8 988 1401.1 989.9C1400.4 991.8 1399.9 994.1 1398.6 995.7C1397.3 997.3 1394.6 998.2 1393.3 999.5C1392 1000.9 1391.6 1001.9 1391 1003.9C1390.5 1005.9 1389.3 1010.1 1390.1 1011.4C1391 1012.8 1394.5 1011.5 1396.2 1012.2C1397.9 1013 1398.6 1015 1400.4 1016C1402.1 1016.9 1405 1016.9 1406.6 1018C1408.2 1019 1409.4 1020.7 1409.9 1022.4C1410.5 1024.1 1409.7 1026.4 1409.7 1028.3C1409.7 1030.1 1410.1 1032.1 1410 1033.4C1409.8 1034.8 1408 1035.6 1408.8 1036.4C1409.5 1037.2 1413.1 1037.1 1414.6 1038.1C1416.1 1039.1 1417.5 1040.5 1417.9 1042.3C1418.3 1044.1 1417.7 1047 1417 1048.9C1416.4 1050.8 1413.6 1052.3 1413.8 1053.6C1414.1 1054.9 1417 1055.6 1418.6 1056.7C1420.2 1057.8 1421.8 1059.3 1423.3 1059.9C1424.8 1060.6 1427.7 1059.8 1427.5 1060.4C1427.4 1061.1 1423.9 1062.5 1422.5 1064C1421.1 1065.6 1419.6 1067.6 1419.2 1069.7C1418.8 1071.8 1419.7 1074.4 1420.2 1076.4C1420.7 1078.5 1421 1080.6 1422.3 1081.9C1423.7 1083.3 1426.3 1083.9 1428.3 1084.4C1430.4 1084.9 1432.8 1084.8 1434.8 1084.9C1436.8 1085 1439.4 1083.9 1440.4 1085C1441.4 1086.1 1441.1 1089.6 1440.9 1091.6C1440.8 1093.7 1439.4 1095.6 1439.6 1097.4C1439.8 1099.2 1441 1101 1442 1102.5C1443 1104.1 1444.5 1105.2 1445.6 1106.5C1446.6 1107.8 1447.6 1108.6 1448.2 1110.2C1448.8 1111.8 1448.6 1114.3 1449.3 1116.2C1450 1118.2 1450.9 1120.5 1452.3 1121.9C1453.7 1123.3 1455.6 1123.7 1457.8 1124.4C1460.1 1125.2 1464.2 1125 1465.7 1126.5C1467.2 1128 1466.4 1131.5 1466.8 1133.5C1467.2 1135.6 1467.4 1137.1 1468.1 1138.8C1468.8 1140.5 1470 1142.1 1471 1143.7C1472 1145.4 1472.7 1147.3 1474 1148.6C1475.3 1149.9 1476.8 1150.9 1478.8 1151.5C1480.7 1152.1 1483.5 1151.6 1485.6 1152.1C1487.7 1152.6 1490 1153.4 1491.4 1154.7C1492.8 1156 1494.2 1158 1494.3 1159.9C1494.3 1161.7 1491.8 1163.8 1491.6 1165.8C1491.5 1167.8 1492.1 1169.9 1493.1 1171.7C1494.1 1173.5 1496.3 1175.1 1497.8 1176.7C1499.3 1178.3 1501.8 1179.7 1502.1 1181.2C1502.5 1182.8 1500.5 1184.6 1499.8 1186.1C1499.1 1187.6 1498.4 1188.8 1498 1190.4C1497.5 1191.9 1496.1 1194.1 1496.9 1195.5C1497.8 1196.8 1501.8 1196.7 1503.1 1198.4C1504.5 1200.1 1503.9 1203.9 1505.2 1205.6C1506.5 1207.3 1509 1207.5 1511 1208.6C1512.9 1209.8 1517 1210.9 1517.1 1212.3C1517.2 1213.8 1512.7 1215.5 1511.6 1217.4C1510.5 1219.3 1511.5 1222 1510.3 1223.8C1509.2 1225.5 1506.8 1226.5 1504.8 1227.7C1502.8 1228.9 1499.9 1229.5 1498.6 1231.1C1497.2 1232.8 1498.1 1236.3 1496.9 1237.6C1495.7 1238.9 1493.3 1238.6 1491.5 1239.1C1489.7 1239.7 1487.7 1239.9 1486.1 1240.9C1484.5 1241.8 1483.8 1244.9 1482.1 1245C1480.5 1245.1 1477.9 1242.9 1476.2 1241.5C1474.6 1240 1472.6 1238 1472 1236C1471.5 1234 1473.2 1231.4 1472.7 1229.5C1472.2 1227.6 1469.9 1226.4 1469.2 1224.6C1468.5 1222.8 1469.5 1220.8 1468.6 1218.9C1467.7 1217 1464.7 1215.3 1463.8 1213.3C1462.8 1211.4 1463.2 1209.4 1463 1207.3C1462.7 1205.2 1461.4 1202.2 1462.1 1200.6C1462.7 1199 1466.7 1198.9 1466.9 1197.8C1467 1196.7 1463.8 1195.7 1462.8 1194.2C1461.7 1192.7 1461.8 1190.1 1460.6 1188.7C1459.5 1187.3 1456.5 1187.3 1455.9 1185.9C1455.3 1184.4 1456.9 1182.1 1456.8 1180.1C1456.8 1178.2 1456.3 1176.1 1455.6 1174.2C1454.8 1172.3 1453.9 1170 1452.5 1169C1451.1 1168.1 1448.8 1169.2 1447.2 1168.3C1445.7 1167.5 1444.7 1165.3 1443.2 1164.1C1441.8 1162.8 1440.4 1161.8 1438.6 1160.8C1436.9 1159.8 1435.1 1158.5 1432.5 1158.1C1429.9 1157.7 1425 1159.3 1423 1158.6C1420.9 1157.9 1420.9 1155.5 1420.2 1153.7C1419.5 1151.9 1418.7 1149.5 1418.9 1147.8C1419.1 1146.1 1420.6 1145 1421.3 1143.4C1421.9 1141.9 1423.4 1140.2 1422.7 1138.6C1422 1137 1419 1135.4 1417.2 1133.9C1415.4 1132.3 1413.7 1130.7 1412 1129.2C1410.3 1127.6 1408.3 1126.2 1407.1 1124.5C1406 1122.9 1406.1 1121.2 1405 1119.3C1404 1117.4 1401.4 1115.5 1400.7 1113.2C1400 1111 1401.1 1108 1400.9 1105.7C1400.8 1103.5 1401 1101 1399.8 1100C1398.6 1099 1395.7 1100.2 1393.7 1099.7C1391.6 1099.2 1389.3 1097.3 1387.4 1096.8C1385.4 1096.3 1383.6 1096.2 1382 1096.8C1380.4 1097.3 1379 1098.8 1377.9 1100.1C1376.7 1101.4 1376 1103.3 1375.3 1104.7C1374.6 1106.1 1374.1 1107 1373.7 1108.4C1373.3 1109.9 1373.1 1111.6 1373 1113.5C1372.8 1115.3 1373 1117.6 1372.9 1119.5C1372.8 1121.4 1373.4 1124.2 1372.3 1125.1C1371.1 1126.1 1368.1 1125.5 1366 1125.3C1363.8 1125.2 1361.4 1124 1359.4 1124.4C1357.5 1124.9 1356.3 1127.8 1354.1 1128.2C1352 1128.6 1349.1 1126.2 1346.6 1126.8C1344.1 1127.3 1340.5 1132 1339.4 1131.6C1338.3 1131.2 1340.4 1126.5 1340.1 1124.2C1339.7 1122 1338.7 1120 1337.3 1118.3C1336 1116.5 1333.3 1115.5 1331.9 1113.8C1330.4 1112 1329.5 1109.7 1328.6 1107.8C1327.7 1105.9 1327.5 1104.1 1326.3 1102.4C1325.2 1100.7 1322.7 1099.4 1321.7 1097.8C1320.7 1096.2 1320.4 1094.4 1320.6 1092.6C1320.7 1090.8 1322.3 1089 1322.7 1087C1323.2 1084.9 1322.3 1082.1 1323.2 1080.1C1324.1 1078.2 1328 1077 1328.2 1075.4C1328.3 1073.8 1324.6 1072.5 1324 1070.5C1323.3 1068.5 1325.1 1065.5 1324.4 1063.4C1323.7 1061.2 1320.3 1059.6 1319.7 1057.7C1319.1 1055.9 1319.8 1054 1320.7 1052.4C1321.6 1050.7 1323.9 1049.4 1325.1 1047.6C1326.3 1045.8 1326.5 1043.2 1328.2 1041.6C1329.9 1040 1334.5 1039.7 1335.4 1038.1C1336.2 1036.6 1333.3 1033.7 1333.4 1032.2C1333.6 1030.7 1334.9 1030.5 1336.2 1029.1C1337.6 1027.7 1339.7 1024.5 1341.7 1023.9C1343.8 1023.4 1346.5 1025.8 1348.6 1025.8C1350.7 1025.8 1352.3 1023.9 1354.2 1023.8C1356.2 1023.7 1358.5 1024.9 1360.3 1025.3C1362.1 1025.8 1363.2 1026.6 1365.1 1026.5C1367 1026.4 1370.1 1026.2 1371.6 1024.8C1373.1 1023.3 1372.6 1019.3 1374.3 1017.9C1375.9 1016.6 1380.3 1017.6 1381.6 1016.4C1382.9 1015.2 1381.2 1012.2 1382.2 1010.7C1383.2 1009.3 1387.1 1009.5 1387.9 1007.7C1388.6 1005.9 1386.1 1002 1386.7 1000C1387.3 998 1390.6 997.8 1391.5 995.8C1392.4 993.8 1391.7 990.4 1392 988C1392.3 985.6 1393 983.7 1393.1 981.4C1393.2 979 1393.1 976.2 1392.6 973.9C1392.2 971.6 1390.5 969.7 1390.6 967.6C1390.7 965.5 1392.2 963.2 1393.2 961.3C1394.3 959.4 1396.8 958 1397.2 956.1C1397.6 954.2 1397 951.7 1395.8 949.8C1394.6 947.8 1389.9 946.8 1390.1 944.4C1390.3 942 1396.5 937.8 1396.8 935.5C1397 933.1 1391.1 931.2 1391.6 930.4Z"/><use href="#b28" fill="none" stroke-width="5.8" stroke-linecap="round" stroke-dasharray="0 7.1"/></g>
<line x1="1342.6" y1="721.3" x2="1508" y2="721.3" stroke="#000" stroke-width="2.2"/>
<path d="M1521 721.3 L1502.5 728.1 L1508.5 721.3 L1502.5 714.5Z" fill="#000"/>
<text x="1365.5" y="707.5" font-size="31.5">+ HpHb</text>
<text x="1495.6" y="765.6" font-size="31.5">pH 7.5</text>
<text x="1495.6" y="805" font-size="31.5">high [Ca<tspan dy="-11" font-size="19">2+</tspan><tspan dy="11">]</tspan></text>
<text x="1868" y="803.8" font-size="31.5">Plasma</text>
<text x="1482" y="1034.4" font-size="32">Endosome</text>
<text x="1032.3" y="1227.5" font-size="31.5">pH 6.0,</text>
<text x="1032.3" y="1266.7" font-size="31.5">low [Ca<tspan dy="-11" font-size="19">2+</tspan><tspan dy="11">]</tspan></text>
<path d="M1810.6 949.3C1812 1030 1760 1084 1672 1086.5" fill="none" stroke="#000" stroke-width="2.2"/>
<path d="M1660 1086.5 L1676.5 1079.1 L1671.5 1086.5 L1676.5 1093.9Z" fill="#000"/>
<path d="M1059 1091.5C985 1090 926 1040 922.3 950" fill="none" stroke="#000" stroke-width="2.2"/>
<path d="M921.6 938 L929.7 954.2 L922.1 949.5 L914.9 954.8Z" fill="#000"/></g>
</svg>
</body></html>
